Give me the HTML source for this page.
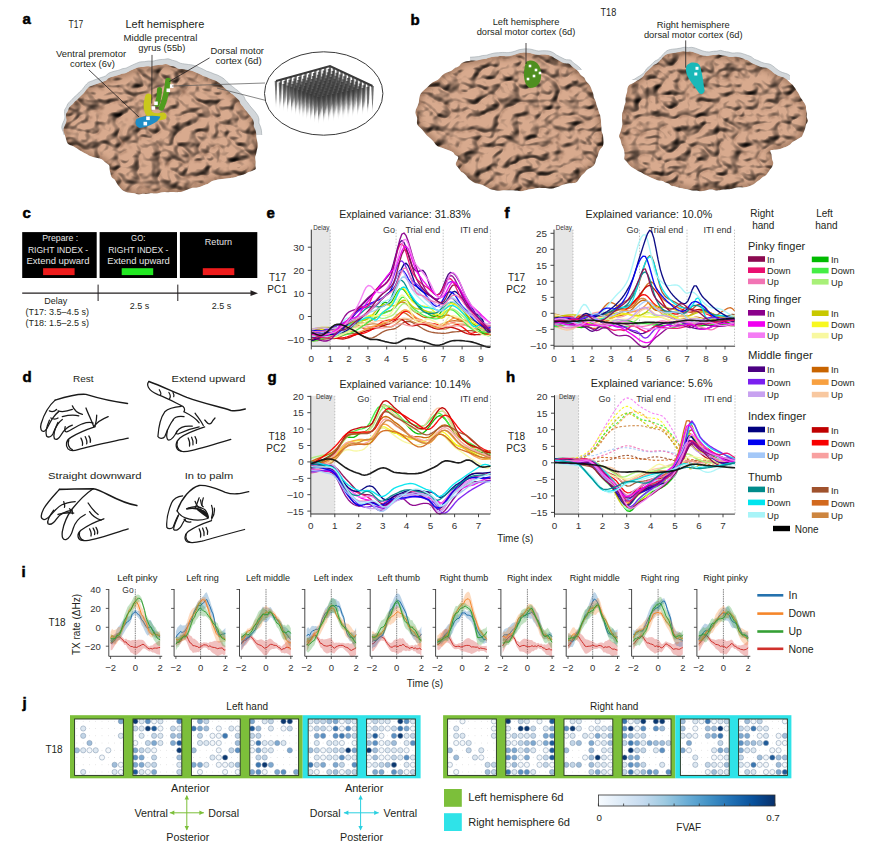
<!DOCTYPE html>
<html><head><meta charset="utf-8"><style>
html,body{margin:0;padding:0;background:#fff;width:872px;height:848px;overflow:hidden}
svg{display:block;font-family:"Liberation Sans", sans-serif}
.jd{fill:#cfcfcf} .jc{stroke:#7d95ad;stroke-width:0.65;stroke-opacity:0.8}
</style></head><body>
<svg width="872" height="848" viewBox="0 0 872 848">
<rect width="872" height="848" fill="#fff"/>
<defs><filter id="bta" x="0" y="0" width="100%" height="100%" color-interpolation-filters="sRGB">
  <feTurbulence type="turbulence" baseFrequency="0.05 0.068" numOctaves="2" seed="3" result="n"/>
  <feColorMatrix in="n" type="matrix" values="0 0 0 0 0  0 0 0 0 0  0 0 0 0 0  1.5 0 0 0 0" result="bump0"/>
  <feGaussianBlur in="bump0" stdDeviation="0.8" result="bump"/>
  <feDiffuseLighting in="bump" surfaceScale="5" diffuseConstant="1.15" lighting-color="#fff" result="lit">
    <feDistantLight azimuth="235" elevation="60"/>
  </feDiffuseLighting>
  <feBlend in="SourceGraphic" in2="lit" mode="multiply" result="base"/>
  <feColorMatrix in="n" type="matrix" values="0 0 0 0 0.32  0 0 0 0 0.2  0 0 0 0 0.14  -14 0 0 0 0.8" result="dk0"/>
  <feGaussianBlur in="dk0" stdDeviation="1.0" result="dk"/>
  <feComposite in="dk" in2="base" operator="over" result="all"/>
  <feComposite in="all" in2="SourceAlpha" operator="in"/>
</filter></defs>
<defs><clipPath id="gca"><rect x="0" y="0" width="872" height="135"/></clipPath></defs>
<g clip-path="url(#gca)"><path d="M63.3,130.7 C63.2,129.4 63.7,128.3 64.0,127.2 C64.4,126.0 65.1,124.9 65.5,123.7 C65.9,122.6 66.4,121.5 66.4,120.3 C66.5,119.2 66.0,118.0 66.0,116.8 C66.0,115.6 65.9,114.4 66.2,113.3 C66.6,112.2 67.5,111.4 68.0,110.4 C68.5,109.4 68.6,108.3 69.3,107.3 C70.0,106.4 71.3,105.5 72.2,104.6 C73.1,103.7 73.7,102.7 74.6,101.8 C75.5,100.9 76.7,100.1 77.7,99.2 C78.6,98.3 79.5,97.2 80.5,96.2 C81.5,95.2 82.7,94.4 83.6,93.3 C84.5,92.3 85.1,91.1 86.0,90.0 C86.9,89.0 87.7,87.8 88.9,87.0 C90.1,86.2 91.7,85.9 93.1,85.3 C94.5,84.8 95.9,84.2 97.2,83.7 C98.6,83.1 100.1,82.6 101.5,82.2 C102.9,81.7 104.4,81.4 105.6,80.7 C106.8,80.0 107.5,78.8 108.5,78.2 C109.5,77.5 110.6,77.3 111.6,76.9 C112.7,76.5 113.8,76.2 115.0,75.9 C116.1,75.6 117.5,75.5 118.6,75.1 C119.7,74.8 120.5,74.1 121.7,73.8 C122.8,73.4 124.2,73.5 125.3,73.2 C126.4,72.8 127.3,72.2 128.4,71.7 C129.4,71.2 130.6,70.6 131.7,70.1 C132.9,69.5 134.0,69.1 135.2,68.6 C136.4,68.1 137.6,67.5 138.9,67.2 C140.2,66.9 141.6,67.1 143.0,66.9 C144.3,66.8 145.5,66.4 146.9,66.3 C148.2,66.2 149.6,66.5 150.9,66.4 C152.2,66.3 153.4,65.9 154.7,65.6 C155.9,65.4 157.2,65.0 158.4,64.9 C159.7,64.7 161.0,64.8 162.2,64.7 C163.5,64.6 164.7,64.0 166.0,64.1 C167.3,64.2 168.7,65.1 170.0,65.5 C171.3,65.9 172.7,66.0 174.0,66.5 C175.3,67.0 176.5,68.0 177.8,68.4 C179.1,68.8 180.5,68.9 181.8,69.1 C183.2,69.3 184.6,69.5 185.9,69.7 C187.2,69.9 188.4,69.9 189.6,70.2 C190.9,70.4 192.1,70.8 193.2,71.2 C194.4,71.7 195.5,72.2 196.6,72.7 C197.8,73.2 198.9,73.7 200.0,74.3 C201.1,74.8 202.1,75.5 203.2,76.0 C204.3,76.5 205.6,76.7 206.8,77.2 C208.0,77.6 209.1,78.3 210.3,78.7 C211.5,79.2 212.9,79.5 214.1,80.0 C215.3,80.5 216.4,81.2 217.4,81.8 C218.5,82.5 219.6,83.1 220.5,83.9 C221.4,84.6 222.1,85.5 222.9,86.3 C223.7,87.1 224.4,87.9 225.3,88.6 C226.2,89.4 227.2,90.1 228.2,90.9 C229.1,91.6 230.1,92.4 231.1,93.2 C232.1,93.9 233.1,94.6 234.1,95.4 C235.0,96.3 235.8,97.1 236.6,98.0 C237.5,98.8 238.6,99.5 239.2,100.5 C239.9,101.4 240.0,102.7 240.6,103.7 C241.2,104.8 242.2,105.6 243.0,106.6 C243.7,107.6 244.3,108.6 245.1,109.6 C245.9,110.6 246.7,111.5 247.6,112.5 C248.4,113.5 249.2,114.4 250.1,115.4 C250.9,116.5 251.9,117.7 252.6,118.9 C253.2,120.0 253.6,121.3 253.8,122.5 C254.1,123.7 253.6,125.0 253.8,126.2 C254.1,127.4 254.9,128.5 255.3,129.7 C255.7,130.9 256.0,132.0 256.2,133.2 C256.4,134.4 256.3,135.5 256.4,136.7 C256.5,137.9 256.8,139.1 257.0,140.3 C257.3,141.4 257.6,142.7 257.7,143.8 C257.8,145.0 257.8,146.2 257.7,147.3 C257.5,148.5 256.9,149.5 256.7,150.6 C256.4,151.7 256.4,153.0 256.1,154.1 C255.9,155.3 255.2,156.3 255.2,157.6 C255.1,158.8 255.7,160.2 255.7,161.5 C255.8,162.8 255.5,163.9 255.5,165.2 C255.4,166.5 256.1,168.2 255.6,169.1 C255.1,170.1 253.6,170.3 252.5,170.8 C251.3,171.3 249.7,171.6 248.6,172.1 C247.4,172.6 246.6,173.2 245.5,173.7 C244.3,174.2 243.0,174.7 241.8,175.0 C240.5,175.4 239.2,175.6 238.1,176.0 C236.9,176.4 236.2,177.0 234.9,177.3 C233.7,177.7 232.0,177.7 230.6,177.9 C229.2,178.1 227.8,178.4 226.4,178.5 C225.0,178.7 223.5,178.9 222.1,179.0 C220.7,179.2 219.4,179.4 218.0,179.6 C216.7,179.9 215.2,180.1 214.0,180.5 C212.7,180.8 211.6,181.3 210.5,181.9 C209.5,182.5 208.8,183.5 207.7,184.1 C206.6,184.6 205.1,184.7 203.9,185.2 C202.6,185.6 201.6,186.4 200.4,186.8 C199.1,187.2 197.7,187.5 196.4,187.7 C195.1,187.9 193.9,187.7 192.7,187.8 C191.5,188.0 190.5,188.5 189.4,188.8 C188.3,189.2 187.2,189.7 186.2,190.1 C185.1,190.6 184.0,191.1 182.8,191.4 C181.7,191.8 180.5,192.0 179.3,192.1 C178.1,192.3 176.8,192.2 175.6,192.2 C174.4,192.2 173.2,192.1 172.0,192.1 C170.8,192.1 169.7,192.3 168.5,192.3 C167.3,192.3 166.0,192.0 164.7,192.0 C163.5,192.1 162.2,192.3 161.0,192.5 C159.7,192.7 158.4,193.3 157.1,193.4 C155.9,193.5 154.7,193.4 153.4,193.4 C152.2,193.4 151.0,193.3 149.7,193.4 C148.5,193.5 147.2,193.9 145.9,193.9 C144.7,194.0 143.6,193.6 142.4,193.7 C141.1,193.8 139.8,194.5 138.5,194.5 C137.1,194.4 135.8,193.5 134.3,193.3 C132.8,193.0 131.2,193.1 129.7,192.8 C128.2,192.5 126.6,192.2 125.3,191.7 C123.9,191.2 122.6,190.4 121.6,189.6 C120.5,188.7 119.8,187.6 119.1,186.6 C118.3,185.5 117.5,184.3 116.8,183.2 C116.1,182.1 115.6,180.8 114.7,179.8 C113.8,178.8 112.3,178.3 111.7,177.3 C111.0,176.3 110.9,174.9 110.6,173.7 C110.2,172.4 109.8,171.3 109.6,170.0 C109.4,168.7 109.8,166.9 109.3,165.8 C108.9,164.7 107.6,164.3 106.8,163.6 C105.9,162.8 105.0,162.1 104.2,161.4 C103.3,160.7 102.7,159.8 101.6,159.3 C100.5,158.7 99.0,158.4 97.6,158.0 C96.1,157.6 94.4,157.3 92.9,156.9 C91.5,156.4 90.0,156.0 88.8,155.5 C87.7,154.9 87.0,154.2 86.0,153.7 C84.9,153.1 83.7,152.7 82.6,152.0 C81.5,151.4 80.3,150.6 79.1,149.9 C78.0,149.1 76.9,148.4 75.6,147.7 C74.4,147.0 72.9,146.3 71.6,145.6 C70.3,144.9 68.7,144.5 67.7,143.4 C66.8,142.4 66.6,140.6 66.1,139.2 C65.6,137.8 65.3,136.3 64.8,134.9 C64.3,133.5 63.4,132.0 63.3,130.7Z" transform="translate(166.2,127.9) scale(1.035) translate(-164.2,-130.9)" fill="#d3d7da" stroke="#9fa7ac" stroke-width="0.6"/></g>
<path d="M63.3,130.7 C63.2,129.4 63.7,128.3 64.0,127.2 C64.4,126.0 65.1,124.9 65.5,123.7 C65.9,122.6 66.4,121.5 66.4,120.3 C66.5,119.2 66.0,118.0 66.0,116.8 C66.0,115.6 65.9,114.4 66.2,113.3 C66.6,112.2 67.5,111.4 68.0,110.4 C68.5,109.4 68.6,108.3 69.3,107.3 C70.0,106.4 71.3,105.5 72.2,104.6 C73.1,103.7 73.7,102.7 74.6,101.8 C75.5,100.9 76.7,100.1 77.7,99.2 C78.6,98.3 79.5,97.2 80.5,96.2 C81.5,95.2 82.7,94.4 83.6,93.3 C84.5,92.3 85.1,91.1 86.0,90.0 C86.9,89.0 87.7,87.8 88.9,87.0 C90.1,86.2 91.7,85.9 93.1,85.3 C94.5,84.8 95.9,84.2 97.2,83.7 C98.6,83.1 100.1,82.6 101.5,82.2 C102.9,81.7 104.4,81.4 105.6,80.7 C106.8,80.0 107.5,78.8 108.5,78.2 C109.5,77.5 110.6,77.3 111.6,76.9 C112.7,76.5 113.8,76.2 115.0,75.9 C116.1,75.6 117.5,75.5 118.6,75.1 C119.7,74.8 120.5,74.1 121.7,73.8 C122.8,73.4 124.2,73.5 125.3,73.2 C126.4,72.8 127.3,72.2 128.4,71.7 C129.4,71.2 130.6,70.6 131.7,70.1 C132.9,69.5 134.0,69.1 135.2,68.6 C136.4,68.1 137.6,67.5 138.9,67.2 C140.2,66.9 141.6,67.1 143.0,66.9 C144.3,66.8 145.5,66.4 146.9,66.3 C148.2,66.2 149.6,66.5 150.9,66.4 C152.2,66.3 153.4,65.9 154.7,65.6 C155.9,65.4 157.2,65.0 158.4,64.9 C159.7,64.7 161.0,64.8 162.2,64.7 C163.5,64.6 164.7,64.0 166.0,64.1 C167.3,64.2 168.7,65.1 170.0,65.5 C171.3,65.9 172.7,66.0 174.0,66.5 C175.3,67.0 176.5,68.0 177.8,68.4 C179.1,68.8 180.5,68.9 181.8,69.1 C183.2,69.3 184.6,69.5 185.9,69.7 C187.2,69.9 188.4,69.9 189.6,70.2 C190.9,70.4 192.1,70.8 193.2,71.2 C194.4,71.7 195.5,72.2 196.6,72.7 C197.8,73.2 198.9,73.7 200.0,74.3 C201.1,74.8 202.1,75.5 203.2,76.0 C204.3,76.5 205.6,76.7 206.8,77.2 C208.0,77.6 209.1,78.3 210.3,78.7 C211.5,79.2 212.9,79.5 214.1,80.0 C215.3,80.5 216.4,81.2 217.4,81.8 C218.5,82.5 219.6,83.1 220.5,83.9 C221.4,84.6 222.1,85.5 222.9,86.3 C223.7,87.1 224.4,87.9 225.3,88.6 C226.2,89.4 227.2,90.1 228.2,90.9 C229.1,91.6 230.1,92.4 231.1,93.2 C232.1,93.9 233.1,94.6 234.1,95.4 C235.0,96.3 235.8,97.1 236.6,98.0 C237.5,98.8 238.6,99.5 239.2,100.5 C239.9,101.4 240.0,102.7 240.6,103.7 C241.2,104.8 242.2,105.6 243.0,106.6 C243.7,107.6 244.3,108.6 245.1,109.6 C245.9,110.6 246.7,111.5 247.6,112.5 C248.4,113.5 249.2,114.4 250.1,115.4 C250.9,116.5 251.9,117.7 252.6,118.9 C253.2,120.0 253.6,121.3 253.8,122.5 C254.1,123.7 253.6,125.0 253.8,126.2 C254.1,127.4 254.9,128.5 255.3,129.7 C255.7,130.9 256.0,132.0 256.2,133.2 C256.4,134.4 256.3,135.5 256.4,136.7 C256.5,137.9 256.8,139.1 257.0,140.3 C257.3,141.4 257.6,142.7 257.7,143.8 C257.8,145.0 257.8,146.2 257.7,147.3 C257.5,148.5 256.9,149.5 256.7,150.6 C256.4,151.7 256.4,153.0 256.1,154.1 C255.9,155.3 255.2,156.3 255.2,157.6 C255.1,158.8 255.7,160.2 255.7,161.5 C255.8,162.8 255.5,163.9 255.5,165.2 C255.4,166.5 256.1,168.2 255.6,169.1 C255.1,170.1 253.6,170.3 252.5,170.8 C251.3,171.3 249.7,171.6 248.6,172.1 C247.4,172.6 246.6,173.2 245.5,173.7 C244.3,174.2 243.0,174.7 241.8,175.0 C240.5,175.4 239.2,175.6 238.1,176.0 C236.9,176.4 236.2,177.0 234.9,177.3 C233.7,177.7 232.0,177.7 230.6,177.9 C229.2,178.1 227.8,178.4 226.4,178.5 C225.0,178.7 223.5,178.9 222.1,179.0 C220.7,179.2 219.4,179.4 218.0,179.6 C216.7,179.9 215.2,180.1 214.0,180.5 C212.7,180.8 211.6,181.3 210.5,181.9 C209.5,182.5 208.8,183.5 207.7,184.1 C206.6,184.6 205.1,184.7 203.9,185.2 C202.6,185.6 201.6,186.4 200.4,186.8 C199.1,187.2 197.7,187.5 196.4,187.7 C195.1,187.9 193.9,187.7 192.7,187.8 C191.5,188.0 190.5,188.5 189.4,188.8 C188.3,189.2 187.2,189.7 186.2,190.1 C185.1,190.6 184.0,191.1 182.8,191.4 C181.7,191.8 180.5,192.0 179.3,192.1 C178.1,192.3 176.8,192.2 175.6,192.2 C174.4,192.2 173.2,192.1 172.0,192.1 C170.8,192.1 169.7,192.3 168.5,192.3 C167.3,192.3 166.0,192.0 164.7,192.0 C163.5,192.1 162.2,192.3 161.0,192.5 C159.7,192.7 158.4,193.3 157.1,193.4 C155.9,193.5 154.7,193.4 153.4,193.4 C152.2,193.4 151.0,193.3 149.7,193.4 C148.5,193.5 147.2,193.9 145.9,193.9 C144.7,194.0 143.6,193.6 142.4,193.7 C141.1,193.8 139.8,194.5 138.5,194.5 C137.1,194.4 135.8,193.5 134.3,193.3 C132.8,193.0 131.2,193.1 129.7,192.8 C128.2,192.5 126.6,192.2 125.3,191.7 C123.9,191.2 122.6,190.4 121.6,189.6 C120.5,188.7 119.8,187.6 119.1,186.6 C118.3,185.5 117.5,184.3 116.8,183.2 C116.1,182.1 115.6,180.8 114.7,179.8 C113.8,178.8 112.3,178.3 111.7,177.3 C111.0,176.3 110.9,174.9 110.6,173.7 C110.2,172.4 109.8,171.3 109.6,170.0 C109.4,168.7 109.8,166.9 109.3,165.8 C108.9,164.7 107.6,164.3 106.8,163.6 C105.9,162.8 105.0,162.1 104.2,161.4 C103.3,160.7 102.7,159.8 101.6,159.3 C100.5,158.7 99.0,158.4 97.6,158.0 C96.1,157.6 94.4,157.3 92.9,156.9 C91.5,156.4 90.0,156.0 88.8,155.5 C87.7,154.9 87.0,154.2 86.0,153.7 C84.9,153.1 83.7,152.7 82.6,152.0 C81.5,151.4 80.3,150.6 79.1,149.9 C78.0,149.1 76.9,148.4 75.6,147.7 C74.4,147.0 72.9,146.3 71.6,145.6 C70.3,144.9 68.7,144.5 67.7,143.4 C66.8,142.4 66.6,140.6 66.1,139.2 C65.6,137.8 65.3,136.3 64.8,134.9 C64.3,133.5 63.4,132.0 63.3,130.7Z" fill="#d8aa8e" filter="url(#bta)"/>
<defs><clipPath id="bca"><path d="M63.3,130.7 C63.2,129.4 63.7,128.3 64.0,127.2 C64.4,126.0 65.1,124.9 65.5,123.7 C65.9,122.6 66.4,121.5 66.4,120.3 C66.5,119.2 66.0,118.0 66.0,116.8 C66.0,115.6 65.9,114.4 66.2,113.3 C66.6,112.2 67.5,111.4 68.0,110.4 C68.5,109.4 68.6,108.3 69.3,107.3 C70.0,106.4 71.3,105.5 72.2,104.6 C73.1,103.7 73.7,102.7 74.6,101.8 C75.5,100.9 76.7,100.1 77.7,99.2 C78.6,98.3 79.5,97.2 80.5,96.2 C81.5,95.2 82.7,94.4 83.6,93.3 C84.5,92.3 85.1,91.1 86.0,90.0 C86.9,89.0 87.7,87.8 88.9,87.0 C90.1,86.2 91.7,85.9 93.1,85.3 C94.5,84.8 95.9,84.2 97.2,83.7 C98.6,83.1 100.1,82.6 101.5,82.2 C102.9,81.7 104.4,81.4 105.6,80.7 C106.8,80.0 107.5,78.8 108.5,78.2 C109.5,77.5 110.6,77.3 111.6,76.9 C112.7,76.5 113.8,76.2 115.0,75.9 C116.1,75.6 117.5,75.5 118.6,75.1 C119.7,74.8 120.5,74.1 121.7,73.8 C122.8,73.4 124.2,73.5 125.3,73.2 C126.4,72.8 127.3,72.2 128.4,71.7 C129.4,71.2 130.6,70.6 131.7,70.1 C132.9,69.5 134.0,69.1 135.2,68.6 C136.4,68.1 137.6,67.5 138.9,67.2 C140.2,66.9 141.6,67.1 143.0,66.9 C144.3,66.8 145.5,66.4 146.9,66.3 C148.2,66.2 149.6,66.5 150.9,66.4 C152.2,66.3 153.4,65.9 154.7,65.6 C155.9,65.4 157.2,65.0 158.4,64.9 C159.7,64.7 161.0,64.8 162.2,64.7 C163.5,64.6 164.7,64.0 166.0,64.1 C167.3,64.2 168.7,65.1 170.0,65.5 C171.3,65.9 172.7,66.0 174.0,66.5 C175.3,67.0 176.5,68.0 177.8,68.4 C179.1,68.8 180.5,68.9 181.8,69.1 C183.2,69.3 184.6,69.5 185.9,69.7 C187.2,69.9 188.4,69.9 189.6,70.2 C190.9,70.4 192.1,70.8 193.2,71.2 C194.4,71.7 195.5,72.2 196.6,72.7 C197.8,73.2 198.9,73.7 200.0,74.3 C201.1,74.8 202.1,75.5 203.2,76.0 C204.3,76.5 205.6,76.7 206.8,77.2 C208.0,77.6 209.1,78.3 210.3,78.7 C211.5,79.2 212.9,79.5 214.1,80.0 C215.3,80.5 216.4,81.2 217.4,81.8 C218.5,82.5 219.6,83.1 220.5,83.9 C221.4,84.6 222.1,85.5 222.9,86.3 C223.7,87.1 224.4,87.9 225.3,88.6 C226.2,89.4 227.2,90.1 228.2,90.9 C229.1,91.6 230.1,92.4 231.1,93.2 C232.1,93.9 233.1,94.6 234.1,95.4 C235.0,96.3 235.8,97.1 236.6,98.0 C237.5,98.8 238.6,99.5 239.2,100.5 C239.9,101.4 240.0,102.7 240.6,103.7 C241.2,104.8 242.2,105.6 243.0,106.6 C243.7,107.6 244.3,108.6 245.1,109.6 C245.9,110.6 246.7,111.5 247.6,112.5 C248.4,113.5 249.2,114.4 250.1,115.4 C250.9,116.5 251.9,117.7 252.6,118.9 C253.2,120.0 253.6,121.3 253.8,122.5 C254.1,123.7 253.6,125.0 253.8,126.2 C254.1,127.4 254.9,128.5 255.3,129.7 C255.7,130.9 256.0,132.0 256.2,133.2 C256.4,134.4 256.3,135.5 256.4,136.7 C256.5,137.9 256.8,139.1 257.0,140.3 C257.3,141.4 257.6,142.7 257.7,143.8 C257.8,145.0 257.8,146.2 257.7,147.3 C257.5,148.5 256.9,149.5 256.7,150.6 C256.4,151.7 256.4,153.0 256.1,154.1 C255.9,155.3 255.2,156.3 255.2,157.6 C255.1,158.8 255.7,160.2 255.7,161.5 C255.8,162.8 255.5,163.9 255.5,165.2 C255.4,166.5 256.1,168.2 255.6,169.1 C255.1,170.1 253.6,170.3 252.5,170.8 C251.3,171.3 249.7,171.6 248.6,172.1 C247.4,172.6 246.6,173.2 245.5,173.7 C244.3,174.2 243.0,174.7 241.8,175.0 C240.5,175.4 239.2,175.6 238.1,176.0 C236.9,176.4 236.2,177.0 234.9,177.3 C233.7,177.7 232.0,177.7 230.6,177.9 C229.2,178.1 227.8,178.4 226.4,178.5 C225.0,178.7 223.5,178.9 222.1,179.0 C220.7,179.2 219.4,179.4 218.0,179.6 C216.7,179.9 215.2,180.1 214.0,180.5 C212.7,180.8 211.6,181.3 210.5,181.9 C209.5,182.5 208.8,183.5 207.7,184.1 C206.6,184.6 205.1,184.7 203.9,185.2 C202.6,185.6 201.6,186.4 200.4,186.8 C199.1,187.2 197.7,187.5 196.4,187.7 C195.1,187.9 193.9,187.7 192.7,187.8 C191.5,188.0 190.5,188.5 189.4,188.8 C188.3,189.2 187.2,189.7 186.2,190.1 C185.1,190.6 184.0,191.1 182.8,191.4 C181.7,191.8 180.5,192.0 179.3,192.1 C178.1,192.3 176.8,192.2 175.6,192.2 C174.4,192.2 173.2,192.1 172.0,192.1 C170.8,192.1 169.7,192.3 168.5,192.3 C167.3,192.3 166.0,192.0 164.7,192.0 C163.5,192.1 162.2,192.3 161.0,192.5 C159.7,192.7 158.4,193.3 157.1,193.4 C155.9,193.5 154.7,193.4 153.4,193.4 C152.2,193.4 151.0,193.3 149.7,193.4 C148.5,193.5 147.2,193.9 145.9,193.9 C144.7,194.0 143.6,193.6 142.4,193.7 C141.1,193.8 139.8,194.5 138.5,194.5 C137.1,194.4 135.8,193.5 134.3,193.3 C132.8,193.0 131.2,193.1 129.7,192.8 C128.2,192.5 126.6,192.2 125.3,191.7 C123.9,191.2 122.6,190.4 121.6,189.6 C120.5,188.7 119.8,187.6 119.1,186.6 C118.3,185.5 117.5,184.3 116.8,183.2 C116.1,182.1 115.6,180.8 114.7,179.8 C113.8,178.8 112.3,178.3 111.7,177.3 C111.0,176.3 110.9,174.9 110.6,173.7 C110.2,172.4 109.8,171.3 109.6,170.0 C109.4,168.7 109.8,166.9 109.3,165.8 C108.9,164.7 107.6,164.3 106.8,163.6 C105.9,162.8 105.0,162.1 104.2,161.4 C103.3,160.7 102.7,159.8 101.6,159.3 C100.5,158.7 99.0,158.4 97.6,158.0 C96.1,157.6 94.4,157.3 92.9,156.9 C91.5,156.4 90.0,156.0 88.8,155.5 C87.7,154.9 87.0,154.2 86.0,153.7 C84.9,153.1 83.7,152.7 82.6,152.0 C81.5,151.4 80.3,150.6 79.1,149.9 C78.0,149.1 76.9,148.4 75.6,147.7 C74.4,147.0 72.9,146.3 71.6,145.6 C70.3,144.9 68.7,144.5 67.7,143.4 C66.8,142.4 66.6,140.6 66.1,139.2 C65.6,137.8 65.3,136.3 64.8,134.9 C64.3,133.5 63.4,132.0 63.3,130.7Z"/></clipPath><filter id="eba" x="-10%" y="-10%" width="120%" height="120%"><feGaussianBlur stdDeviation="2.5"/></filter></defs>
<g clip-path="url(#bca)"><path d="M63.3,130.7 C63.2,129.4 63.7,128.3 64.0,127.2 C64.4,126.0 65.1,124.9 65.5,123.7 C65.9,122.6 66.4,121.5 66.4,120.3 C66.5,119.2 66.0,118.0 66.0,116.8 C66.0,115.6 65.9,114.4 66.2,113.3 C66.6,112.2 67.5,111.4 68.0,110.4 C68.5,109.4 68.6,108.3 69.3,107.3 C70.0,106.4 71.3,105.5 72.2,104.6 C73.1,103.7 73.7,102.7 74.6,101.8 C75.5,100.9 76.7,100.1 77.7,99.2 C78.6,98.3 79.5,97.2 80.5,96.2 C81.5,95.2 82.7,94.4 83.6,93.3 C84.5,92.3 85.1,91.1 86.0,90.0 C86.9,89.0 87.7,87.8 88.9,87.0 C90.1,86.2 91.7,85.9 93.1,85.3 C94.5,84.8 95.9,84.2 97.2,83.7 C98.6,83.1 100.1,82.6 101.5,82.2 C102.9,81.7 104.4,81.4 105.6,80.7 C106.8,80.0 107.5,78.8 108.5,78.2 C109.5,77.5 110.6,77.3 111.6,76.9 C112.7,76.5 113.8,76.2 115.0,75.9 C116.1,75.6 117.5,75.5 118.6,75.1 C119.7,74.8 120.5,74.1 121.7,73.8 C122.8,73.4 124.2,73.5 125.3,73.2 C126.4,72.8 127.3,72.2 128.4,71.7 C129.4,71.2 130.6,70.6 131.7,70.1 C132.9,69.5 134.0,69.1 135.2,68.6 C136.4,68.1 137.6,67.5 138.9,67.2 C140.2,66.9 141.6,67.1 143.0,66.9 C144.3,66.8 145.5,66.4 146.9,66.3 C148.2,66.2 149.6,66.5 150.9,66.4 C152.2,66.3 153.4,65.9 154.7,65.6 C155.9,65.4 157.2,65.0 158.4,64.9 C159.7,64.7 161.0,64.8 162.2,64.7 C163.5,64.6 164.7,64.0 166.0,64.1 C167.3,64.2 168.7,65.1 170.0,65.5 C171.3,65.9 172.7,66.0 174.0,66.5 C175.3,67.0 176.5,68.0 177.8,68.4 C179.1,68.8 180.5,68.9 181.8,69.1 C183.2,69.3 184.6,69.5 185.9,69.7 C187.2,69.9 188.4,69.9 189.6,70.2 C190.9,70.4 192.1,70.8 193.2,71.2 C194.4,71.7 195.5,72.2 196.6,72.7 C197.8,73.2 198.9,73.7 200.0,74.3 C201.1,74.8 202.1,75.5 203.2,76.0 C204.3,76.5 205.6,76.7 206.8,77.2 C208.0,77.6 209.1,78.3 210.3,78.7 C211.5,79.2 212.9,79.5 214.1,80.0 C215.3,80.5 216.4,81.2 217.4,81.8 C218.5,82.5 219.6,83.1 220.5,83.9 C221.4,84.6 222.1,85.5 222.9,86.3 C223.7,87.1 224.4,87.9 225.3,88.6 C226.2,89.4 227.2,90.1 228.2,90.9 C229.1,91.6 230.1,92.4 231.1,93.2 C232.1,93.9 233.1,94.6 234.1,95.4 C235.0,96.3 235.8,97.1 236.6,98.0 C237.5,98.8 238.6,99.5 239.2,100.5 C239.9,101.4 240.0,102.7 240.6,103.7 C241.2,104.8 242.2,105.6 243.0,106.6 C243.7,107.6 244.3,108.6 245.1,109.6 C245.9,110.6 246.7,111.5 247.6,112.5 C248.4,113.5 249.2,114.4 250.1,115.4 C250.9,116.5 251.9,117.7 252.6,118.9 C253.2,120.0 253.6,121.3 253.8,122.5 C254.1,123.7 253.6,125.0 253.8,126.2 C254.1,127.4 254.9,128.5 255.3,129.7 C255.7,130.9 256.0,132.0 256.2,133.2 C256.4,134.4 256.3,135.5 256.4,136.7 C256.5,137.9 256.8,139.1 257.0,140.3 C257.3,141.4 257.6,142.7 257.7,143.8 C257.8,145.0 257.8,146.2 257.7,147.3 C257.5,148.5 256.9,149.5 256.7,150.6 C256.4,151.7 256.4,153.0 256.1,154.1 C255.9,155.3 255.2,156.3 255.2,157.6 C255.1,158.8 255.7,160.2 255.7,161.5 C255.8,162.8 255.5,163.9 255.5,165.2 C255.4,166.5 256.1,168.2 255.6,169.1 C255.1,170.1 253.6,170.3 252.5,170.8 C251.3,171.3 249.7,171.6 248.6,172.1 C247.4,172.6 246.6,173.2 245.5,173.7 C244.3,174.2 243.0,174.7 241.8,175.0 C240.5,175.4 239.2,175.6 238.1,176.0 C236.9,176.4 236.2,177.0 234.9,177.3 C233.7,177.7 232.0,177.7 230.6,177.9 C229.2,178.1 227.8,178.4 226.4,178.5 C225.0,178.7 223.5,178.9 222.1,179.0 C220.7,179.2 219.4,179.4 218.0,179.6 C216.7,179.9 215.2,180.1 214.0,180.5 C212.7,180.8 211.6,181.3 210.5,181.9 C209.5,182.5 208.8,183.5 207.7,184.1 C206.6,184.6 205.1,184.7 203.9,185.2 C202.6,185.6 201.6,186.4 200.4,186.8 C199.1,187.2 197.7,187.5 196.4,187.7 C195.1,187.9 193.9,187.7 192.7,187.8 C191.5,188.0 190.5,188.5 189.4,188.8 C188.3,189.2 187.2,189.7 186.2,190.1 C185.1,190.6 184.0,191.1 182.8,191.4 C181.7,191.8 180.5,192.0 179.3,192.1 C178.1,192.3 176.8,192.2 175.6,192.2 C174.4,192.2 173.2,192.1 172.0,192.1 C170.8,192.1 169.7,192.3 168.5,192.3 C167.3,192.3 166.0,192.0 164.7,192.0 C163.5,192.1 162.2,192.3 161.0,192.5 C159.7,192.7 158.4,193.3 157.1,193.4 C155.9,193.5 154.7,193.4 153.4,193.4 C152.2,193.4 151.0,193.3 149.7,193.4 C148.5,193.5 147.2,193.9 145.9,193.9 C144.7,194.0 143.6,193.6 142.4,193.7 C141.1,193.8 139.8,194.5 138.5,194.5 C137.1,194.4 135.8,193.5 134.3,193.3 C132.8,193.0 131.2,193.1 129.7,192.8 C128.2,192.5 126.6,192.2 125.3,191.7 C123.9,191.2 122.6,190.4 121.6,189.6 C120.5,188.7 119.8,187.6 119.1,186.6 C118.3,185.5 117.5,184.3 116.8,183.2 C116.1,182.1 115.6,180.8 114.7,179.8 C113.8,178.8 112.3,178.3 111.7,177.3 C111.0,176.3 110.9,174.9 110.6,173.7 C110.2,172.4 109.8,171.3 109.6,170.0 C109.4,168.7 109.8,166.9 109.3,165.8 C108.9,164.7 107.6,164.3 106.8,163.6 C105.9,162.8 105.0,162.1 104.2,161.4 C103.3,160.7 102.7,159.8 101.6,159.3 C100.5,158.7 99.0,158.4 97.6,158.0 C96.1,157.6 94.4,157.3 92.9,156.9 C91.5,156.4 90.0,156.0 88.8,155.5 C87.7,154.9 87.0,154.2 86.0,153.7 C84.9,153.1 83.7,152.7 82.6,152.0 C81.5,151.4 80.3,150.6 79.1,149.9 C78.0,149.1 76.9,148.4 75.6,147.7 C74.4,147.0 72.9,146.3 71.6,145.6 C70.3,144.9 68.7,144.5 67.7,143.4 C66.8,142.4 66.6,140.6 66.1,139.2 C65.6,137.8 65.3,136.3 64.8,134.9 C64.3,133.5 63.4,132.0 63.3,130.7Z" fill="none" stroke="#5a3a28" stroke-width="7" opacity="0.35" filter="url(#eba)"/></g>
<path d="M148.5,97 C146.5,104 146.5,111 150,114.5 C154,117.5 159,117 163,116" fill="none" stroke="#c9c81c" stroke-width="7" stroke-linecap="round"/>
<path d="M159.5,89.5 C159.5,95 158.5,100 157,104.5" fill="none" stroke="#4a961c" stroke-width="5" stroke-linecap="round"/>
<path d="M168,80.5 C167,90 165,100 161.5,108" fill="none" stroke="#4f9c1e" stroke-width="5.5" stroke-linecap="round"/>
<path d="M136.5,119 C143,115.5 153,115 160.5,116.5 C159,121.5 150,126.5 140,128 C135.5,127 134.5,122 136.5,119Z" fill="#1f8dc6"/>
<rect x="169.9" y="84.3" width="3.6" height="3.6" fill="#fff"/>
<rect x="166.5" y="88.5" width="3.6" height="3.6" fill="#fff"/>
<rect x="154.2" y="101.5" width="3.6" height="3.6" fill="#fff"/>
<rect x="151.6" y="106.2" width="3.6" height="3.6" fill="#fff"/>
<rect x="146.2" y="116.5" width="3.6" height="3.6" fill="#fff"/>
<rect x="143.5" y="121.8" width="3.6" height="3.6" fill="#fff"/>
<line x1="88.8" y1="69.8" x2="139.0" y2="117.0" stroke="#231f20" stroke-width="0.8" />
<line x1="152.0" y1="54.9" x2="151.8" y2="103.7" stroke="#231f20" stroke-width="0.8" />
<line x1="209.5" y1="57.9" x2="169.4" y2="81.5" stroke="#231f20" stroke-width="0.8" />
<line x1="172.0" y1="86.0" x2="265.0" y2="83.0" stroke="#555" stroke-width="0.7" />
<line x1="217.0" y1="88.0" x2="268.0" y2="101.0" stroke="#555" stroke-width="0.7" />
<ellipse cx="323.7" cy="93.5" rx="59.2" ry="41.7" fill="#fff" stroke="#3a3a3a" stroke-width="1"/>
<defs><linearGradient id="spg" x1="0" x2="0" y1="0" y2="1"><stop offset="0" stop-color="#333"/><stop offset="0.7" stop-color="#555"/><stop offset="1" stop-color="#999" stop-opacity="0.3"/></linearGradient></defs>
<polygon points="328.7,66.0 331.3,66.0 330.0,93.0" fill="url(#spg)" opacity="0.75"/>
<polygon points="323.8,67.4 326.4,67.4 325.1,94.4" fill="url(#spg)" opacity="0.75"/>
<polygon points="332.6,67.8 335.2,67.8 333.9,94.8" fill="url(#spg)" opacity="0.75"/>
<polygon points="318.9,68.7 321.5,68.7 320.2,95.7" fill="url(#spg)" opacity="0.75"/>
<polygon points="327.7,69.1 330.3,69.1 329.0,96.1" fill="url(#spg)" opacity="0.75"/>
<polygon points="336.4,69.6 339.0,69.6 337.7,96.6" fill="url(#spg)" opacity="0.75"/>
<polygon points="314.0,70.1 316.6,70.1 315.3,97.1" fill="url(#spg)" opacity="0.75"/>
<polygon points="322.7,70.5 325.3,70.5 324.0,97.5" fill="url(#spg)" opacity="0.75"/>
<polygon points="331.5,70.9 334.1,70.9 332.8,97.9" fill="url(#spg)" opacity="0.75"/>
<polygon points="309.1,71.5 311.7,71.5 310.4,98.5" fill="url(#spg)" opacity="0.75"/>
<polygon points="340.3,71.5 342.9,71.5 341.6,98.5" fill="url(#spg)" opacity="0.75"/>
<polygon points="317.8,71.8 320.4,71.8 319.1,98.8" fill="url(#spg)" opacity="0.75"/>
<polygon points="326.6,72.2 329.2,72.2 327.9,99.2" fill="url(#spg)" opacity="0.75"/>
<polygon points="335.4,72.7 338.0,72.7 336.7,99.7" fill="url(#spg)" opacity="0.75"/>
<polygon points="304.2,72.8 306.8,72.8 305.5,99.8" fill="url(#spg)" opacity="0.75"/>
<polygon points="312.9,73.1 315.5,73.1 314.2,100.1" fill="url(#spg)" opacity="0.75"/>
<polygon points="344.2,73.3 346.8,73.3 345.5,100.3" fill="url(#spg)" opacity="0.75"/>
<polygon points="321.7,73.5 324.3,73.5 323.0,100.5" fill="url(#spg)" opacity="0.75"/>
<polygon points="330.5,74.0 333.1,74.0 331.8,101.0" fill="url(#spg)" opacity="0.75"/>
<polygon points="299.2,74.2 301.8,74.2 300.5,101.2" fill="url(#spg)" opacity="0.75"/>
<polygon points="308.0,74.5 310.6,74.5 309.3,101.5" fill="url(#spg)" opacity="0.75"/>
<polygon points="339.2,74.5 341.8,74.5 340.5,101.5" fill="url(#spg)" opacity="0.75"/>
<polygon points="316.8,74.8 319.4,74.8 318.1,101.8" fill="url(#spg)" opacity="0.75"/>
<polygon points="348.0,75.1 350.6,75.1 349.3,102.1" fill="url(#spg)" opacity="0.75"/>
<polygon points="325.6,75.2 328.2,75.2 326.9,102.2" fill="url(#spg)" opacity="0.75"/>
<polygon points="294.3,75.5 296.9,75.5 295.6,102.5" fill="url(#spg)" opacity="0.75"/>
<polygon points="334.3,75.7 336.9,75.7 335.6,102.7" fill="url(#spg)" opacity="0.75"/>
<polygon points="303.1,75.8 305.7,75.8 304.4,102.8" fill="url(#spg)" opacity="0.75"/>
<polygon points="311.9,76.1 314.5,76.1 313.2,103.1" fill="url(#spg)" opacity="0.75"/>
<polygon points="343.1,76.3 345.7,76.3 344.4,103.3" fill="url(#spg)" opacity="0.75"/>
<polygon points="320.7,76.5 323.3,76.5 322.0,103.5" fill="url(#spg)" opacity="0.75"/>
<polygon points="289.4,76.9 292.0,76.9 290.7,103.9" fill="url(#spg)" opacity="0.75"/>
<polygon points="351.9,76.9 354.5,76.9 353.2,103.9" fill="url(#spg)" opacity="0.75"/>
<polygon points="329.4,77.0 332.0,77.0 330.7,104.0" fill="url(#spg)" opacity="0.75"/>
<polygon points="298.2,77.1 300.8,77.1 299.5,104.1" fill="url(#spg)" opacity="0.75"/>
<polygon points="307.0,77.4 309.6,77.4 308.3,104.4" fill="url(#spg)" opacity="0.75"/>
<polygon points="338.2,77.5 340.8,77.5 339.5,104.5" fill="url(#spg)" opacity="0.75"/>
<polygon points="315.7,77.8 318.3,77.8 317.0,104.8" fill="url(#spg)" opacity="0.75"/>
<polygon points="347.0,78.1 349.6,78.1 348.3,105.1" fill="url(#spg)" opacity="0.75"/>
<polygon points="324.5,78.2 327.1,78.2 325.8,105.2" fill="url(#spg)" opacity="0.75"/>
<polygon points="284.5,78.3 287.1,78.3 285.8,105.3" fill="url(#spg)" opacity="0.75"/>
<polygon points="293.3,78.5 295.9,78.5 294.6,105.5" fill="url(#spg)" opacity="0.75"/>
<polygon points="333.3,78.7 335.9,78.7 334.6,105.7" fill="url(#spg)" opacity="0.75"/>
<polygon points="302.1,78.7 304.7,78.7 303.4,105.7" fill="url(#spg)" opacity="0.75"/>
<polygon points="355.7,78.7 358.3,78.7 357.0,105.7" fill="url(#spg)" opacity="0.75"/>
<polygon points="310.8,79.0 313.4,79.0 312.1,106.0" fill="url(#spg)" opacity="0.75"/>
<polygon points="342.1,79.2 344.7,79.2 343.4,106.2" fill="url(#spg)" opacity="0.75"/>
<polygon points="319.6,79.4 322.2,79.4 320.9,106.4" fill="url(#spg)" opacity="0.75"/>
<polygon points="279.6,79.6 282.2,79.6 280.9,106.6" fill="url(#spg)" opacity="0.75"/>
<polygon points="288.4,79.8 291.0,79.8 289.7,106.8" fill="url(#spg)" opacity="0.75"/>
<polygon points="350.8,79.9 353.4,79.9 352.1,106.9" fill="url(#spg)" opacity="0.75"/>
<polygon points="328.4,79.9 331.0,79.9 329.7,106.9" fill="url(#spg)" opacity="0.75"/>
<polygon points="297.2,80.0 299.8,80.0 298.5,107.0" fill="url(#spg)" opacity="0.75"/>
<polygon points="305.9,80.3 308.5,80.3 307.2,107.3" fill="url(#spg)" opacity="0.75"/>
<polygon points="337.2,80.4 339.8,80.4 338.5,107.4" fill="url(#spg)" opacity="0.75"/>
<polygon points="359.6,80.5 362.2,80.5 360.9,107.5" fill="url(#spg)" opacity="0.75"/>
<polygon points="314.7,80.7 317.3,80.7 316.0,107.7" fill="url(#spg)" opacity="0.75"/>
<polygon points="345.9,81.0 348.5,81.0 347.2,108.0" fill="url(#spg)" opacity="0.75"/>
<polygon points="274.7,81.0 277.3,81.0 276.0,108.0" fill="url(#spg)" opacity="0.75"/>
<polygon points="323.5,81.1 326.1,81.1 324.8,108.1" fill="url(#spg)" opacity="0.75"/>
<polygon points="283.5,81.1 286.1,81.1 284.8,108.1" fill="url(#spg)" opacity="0.75"/>
<polygon points="292.2,81.3 294.8,81.3 293.5,108.3" fill="url(#spg)" opacity="0.75"/>
<polygon points="301.0,81.6 303.6,81.6 302.3,108.6" fill="url(#spg)" opacity="0.75"/>
<polygon points="332.2,81.6 334.8,81.6 333.5,108.6" fill="url(#spg)" opacity="0.75"/>
<polygon points="354.7,81.6 357.3,81.6 356.0,108.6" fill="url(#spg)" opacity="0.75"/>
<polygon points="309.8,81.9 312.4,81.9 311.1,108.9" fill="url(#spg)" opacity="0.75"/>
<polygon points="341.0,82.1 343.6,82.1 342.3,109.1" fill="url(#spg)" opacity="0.75"/>
<polygon points="318.6,82.3 321.2,82.3 319.9,109.3" fill="url(#spg)" opacity="0.75"/>
<polygon points="363.5,82.4 366.1,82.4 364.8,109.4" fill="url(#spg)" opacity="0.75"/>
<polygon points="278.6,82.5 281.2,82.5 279.9,109.5" fill="url(#spg)" opacity="0.75"/>
<polygon points="287.3,82.6 289.9,82.6 288.6,109.6" fill="url(#spg)" opacity="0.75"/>
<polygon points="327.3,82.7 329.9,82.7 328.6,109.7" fill="url(#spg)" opacity="0.75"/>
<polygon points="349.8,82.7 352.4,82.7 351.1,109.7" fill="url(#spg)" opacity="0.75"/>
<polygon points="296.1,82.8 298.7,82.8 297.4,109.8" fill="url(#spg)" opacity="0.75"/>
<polygon points="304.9,83.1 307.5,83.1 306.2,110.1" fill="url(#spg)" opacity="0.75"/>
<polygon points="336.1,83.3 338.7,83.3 337.4,110.3" fill="url(#spg)" opacity="0.75"/>
<polygon points="358.6,83.4 361.2,83.4 359.9,110.4" fill="url(#spg)" opacity="0.75"/>
<polygon points="313.7,83.5 316.3,83.5 315.0,110.5" fill="url(#spg)" opacity="0.75"/>
<polygon points="344.9,83.8 347.5,83.8 346.2,110.8" fill="url(#spg)" opacity="0.75"/>
<polygon points="322.4,83.9 325.0,83.9 323.7,110.9" fill="url(#spg)" opacity="0.75"/>
<polygon points="282.4,83.9 285.0,83.9 283.7,110.9" fill="url(#spg)" opacity="0.75"/>
<polygon points="291.2,84.1 293.8,84.1 292.5,111.1" fill="url(#spg)" opacity="0.75"/>
<polygon points="367.3,84.2 369.9,84.2 368.6,111.2" fill="url(#spg)" opacity="0.75"/>
<polygon points="300.0,84.4 302.6,84.4 301.3,111.4" fill="url(#spg)" opacity="0.75"/>
<polygon points="331.2,84.4 333.8,84.4 332.5,111.4" fill="url(#spg)" opacity="0.75"/>
<polygon points="353.7,84.5 356.3,84.5 355.0,111.5" fill="url(#spg)" opacity="0.75"/>
<polygon points="308.7,84.7 311.3,84.7 310.0,111.7" fill="url(#spg)" opacity="0.75"/>
<polygon points="340.0,84.9 342.6,84.9 341.3,111.9" fill="url(#spg)" opacity="0.75"/>
<polygon points="317.5,85.1 320.1,85.1 318.8,112.1" fill="url(#spg)" opacity="0.75"/>
<polygon points="362.4,85.2 365.0,85.2 363.7,112.2" fill="url(#spg)" opacity="0.75"/>
<polygon points="286.3,85.4 288.9,85.4 287.6,112.4" fill="url(#spg)" opacity="0.75"/>
<polygon points="326.3,85.5 328.9,85.5 327.6,112.5" fill="url(#spg)" opacity="0.75"/>
<polygon points="348.7,85.6 351.3,85.6 350.0,112.6" fill="url(#spg)" opacity="0.75"/>
<polygon points="295.1,85.6 297.7,85.6 296.4,112.6" fill="url(#spg)" opacity="0.75"/>
<polygon points="303.8,85.9 306.4,85.9 305.1,112.9" fill="url(#spg)" opacity="0.75"/>
<polygon points="371.2,86.0 373.8,86.0 372.5,113.0" fill="url(#spg)" opacity="0.75"/>
<polygon points="335.1,86.0 337.7,86.0 336.4,113.0" fill="url(#spg)" opacity="0.75"/>
<polygon points="312.6,86.2 315.2,86.2 313.9,113.2" fill="url(#spg)" opacity="0.75"/>
<polygon points="357.5,86.2 360.1,86.2 358.8,113.2" fill="url(#spg)" opacity="0.75"/>
<polygon points="343.8,86.6 346.4,86.6 345.1,113.6" fill="url(#spg)" opacity="0.75"/>
<polygon points="321.4,86.7 324.0,86.7 322.7,113.7" fill="url(#spg)" opacity="0.75"/>
<polygon points="290.2,86.8 292.8,86.8 291.5,113.8" fill="url(#spg)" opacity="0.75"/>
<polygon points="366.3,87.0 368.9,87.0 367.6,114.0" fill="url(#spg)" opacity="0.75"/>
<polygon points="298.9,87.1 301.5,87.1 300.2,114.1" fill="url(#spg)" opacity="0.75"/>
<polygon points="330.2,87.1 332.8,87.1 331.5,114.1" fill="url(#spg)" opacity="0.75"/>
<polygon points="352.6,87.3 355.2,87.3 353.9,114.3" fill="url(#spg)" opacity="0.75"/>
<polygon points="307.7,87.4 310.3,87.4 309.0,114.4" fill="url(#spg)" opacity="0.75"/>
<polygon points="338.9,87.7 341.5,87.7 340.2,114.7" fill="url(#spg)" opacity="0.75"/>
<polygon points="316.5,87.8 319.1,87.8 317.8,114.8" fill="url(#spg)" opacity="0.75"/>
<polygon points="361.4,88.0 364.0,88.0 362.7,115.0" fill="url(#spg)" opacity="0.75"/>
<polygon points="325.2,88.2 327.8,88.2 326.5,115.2" fill="url(#spg)" opacity="0.75"/>
<polygon points="294.0,88.3 296.6,88.3 295.3,115.3" fill="url(#spg)" opacity="0.75"/>
<polygon points="347.7,88.3 350.3,88.3 349.0,115.3" fill="url(#spg)" opacity="0.75"/>
<polygon points="302.8,88.6 305.4,88.6 304.1,115.6" fill="url(#spg)" opacity="0.75"/>
<polygon points="334.0,88.8 336.6,88.8 335.3,115.8" fill="url(#spg)" opacity="0.75"/>
<polygon points="311.6,88.9 314.2,88.9 312.9,115.9" fill="url(#spg)" opacity="0.75"/>
<polygon points="356.5,89.0 359.1,89.0 357.8,116.0" fill="url(#spg)" opacity="0.75"/>
<polygon points="320.3,89.3 322.9,89.3 321.6,116.3" fill="url(#spg)" opacity="0.75"/>
<polygon points="342.8,89.3 345.4,89.3 344.1,116.3" fill="url(#spg)" opacity="0.75"/>
<polygon points="297.9,89.7 300.5,89.7 299.2,116.7" fill="url(#spg)" opacity="0.75"/>
<polygon points="329.1,89.8 331.7,89.8 330.4,116.8" fill="url(#spg)" opacity="0.75"/>
<polygon points="351.6,90.0 354.2,90.0 352.9,117.0" fill="url(#spg)" opacity="0.75"/>
<polygon points="306.7,90.0 309.3,90.0 308.0,117.0" fill="url(#spg)" opacity="0.75"/>
<polygon points="337.9,90.4 340.5,90.4 339.2,117.4" fill="url(#spg)" opacity="0.75"/>
<polygon points="315.4,90.4 318.0,90.4 316.7,117.4" fill="url(#spg)" opacity="0.75"/>
<polygon points="324.2,90.9 326.8,90.9 325.5,117.9" fill="url(#spg)" opacity="0.75"/>
<polygon points="346.7,91.0 349.3,91.0 348.0,118.0" fill="url(#spg)" opacity="0.75"/>
<polygon points="301.7,91.2 304.3,91.2 303.0,118.2" fill="url(#spg)" opacity="0.75"/>
<polygon points="333.0,91.4 335.6,91.4 334.3,118.4" fill="url(#spg)" opacity="0.75"/>
<polygon points="310.5,91.5 313.1,91.5 311.8,118.5" fill="url(#spg)" opacity="0.75"/>
<polygon points="319.3,92.0 321.9,92.0 320.6,119.0" fill="url(#spg)" opacity="0.75"/>
<polygon points="341.7,92.0 344.3,92.0 343.0,119.0" fill="url(#spg)" opacity="0.75"/>
<polygon points="328.1,92.4 330.7,92.4 329.4,119.4" fill="url(#spg)" opacity="0.75"/>
<polygon points="305.6,92.6 308.2,92.6 306.9,119.6" fill="url(#spg)" opacity="0.75"/>
<polygon points="336.8,93.0 339.4,93.0 338.1,120.0" fill="url(#spg)" opacity="0.75"/>
<polygon points="314.4,93.0 317.0,93.0 315.7,120.0" fill="url(#spg)" opacity="0.75"/>
<polygon points="323.2,93.5 325.8,93.5 324.5,120.5" fill="url(#spg)" opacity="0.75"/>
<polygon points="331.9,94.0 334.5,94.0 333.2,121.0" fill="url(#spg)" opacity="0.75"/>
<polygon points="309.5,94.1 312.1,94.1 310.8,121.1" fill="url(#spg)" opacity="0.75"/>
<polygon points="318.2,94.5 320.8,94.5 319.5,121.5" fill="url(#spg)" opacity="0.75"/>
<polygon points="327.0,95.0 329.6,95.0 328.3,122.0" fill="url(#spg)" opacity="0.75"/>
<polygon points="313.3,95.5 315.9,95.5 314.6,122.5" fill="url(#spg)" opacity="0.75"/>
<polygon points="322.1,96.0 324.7,96.0 323.4,123.0" fill="url(#spg)" opacity="0.75"/>
<polygon points="317.2,97.0 319.8,97.0 318.5,124.0" fill="url(#spg)" opacity="0.75"/>
<polyline points="276,81 330,66 372.5,86" fill="none" stroke="#3a3a3a" stroke-width="2"/>
<defs><filter id="btbl" x="0" y="0" width="100%" height="100%" color-interpolation-filters="sRGB">
  <feTurbulence type="turbulence" baseFrequency="0.05 0.068" numOctaves="2" seed="7" result="n"/>
  <feColorMatrix in="n" type="matrix" values="0 0 0 0 0  0 0 0 0 0  0 0 0 0 0  1.5 0 0 0 0" result="bump0"/>
  <feGaussianBlur in="bump0" stdDeviation="0.8" result="bump"/>
  <feDiffuseLighting in="bump" surfaceScale="5" diffuseConstant="1.15" lighting-color="#fff" result="lit">
    <feDistantLight azimuth="235" elevation="60"/>
  </feDiffuseLighting>
  <feBlend in="SourceGraphic" in2="lit" mode="multiply" result="base"/>
  <feColorMatrix in="n" type="matrix" values="0 0 0 0 0.32  0 0 0 0 0.2  0 0 0 0 0.14  -14 0 0 0 0.8" result="dk0"/>
  <feGaussianBlur in="dk0" stdDeviation="1.0" result="dk"/>
  <feComposite in="dk" in2="base" operator="over" result="all"/>
  <feComposite in="all" in2="SourceAlpha" operator="in"/>
</filter></defs>
<defs><clipPath id="gcbl"><rect x="470" y="0" width="130" height="70"/></clipPath></defs>
<g clip-path="url(#gcbl)"><path d="M415.4,112.9 C415.2,111.5 415.7,110.5 416.0,109.3 C416.4,108.2 417.0,107.0 417.5,105.9 C417.9,104.8 418.5,103.7 418.8,102.5 C419.1,101.3 418.9,100.1 419.1,98.9 C419.3,97.7 419.5,96.5 419.9,95.4 C420.4,94.3 421.1,93.1 422.0,92.1 C422.9,91.0 424.1,90.1 425.1,89.1 C426.2,88.2 427.3,87.2 428.3,86.3 C429.3,85.3 430.2,84.1 431.2,83.4 C432.2,82.6 433.1,82.2 434.2,81.6 C435.2,81.1 436.5,80.7 437.5,80.0 C438.4,79.4 439.1,78.6 439.8,77.9 C440.6,77.2 441.2,76.3 442.0,75.6 C442.8,74.9 443.6,74.1 444.6,73.5 C445.7,72.9 447.1,72.4 448.4,71.9 C449.6,71.3 451.0,70.9 452.1,70.2 C453.2,69.6 453.9,68.6 455.0,68.0 C456.2,67.3 457.7,67.1 458.7,66.3 C459.7,65.6 460.2,64.3 461.2,63.5 C462.2,62.7 463.4,62.1 464.7,61.7 C466.0,61.2 467.6,61.1 469.0,60.9 C470.5,60.7 472.0,60.7 473.5,60.6 C475.0,60.4 476.5,60.4 477.9,60.2 C479.3,59.9 480.5,59.5 481.9,59.2 C483.3,59.0 484.8,59.0 486.1,58.8 C487.4,58.5 488.6,57.9 489.8,57.6 C491.1,57.2 492.4,56.9 493.7,56.7 C495.1,56.5 496.5,56.5 497.8,56.4 C499.2,56.3 500.5,56.1 501.9,56.1 C503.2,56.0 504.6,56.3 506.0,56.3 C507.3,56.2 508.6,56.2 509.9,55.9 C511.2,55.7 512.5,55.4 513.9,54.9 C515.2,54.5 516.6,53.8 518.0,53.4 C519.3,53.1 520.7,52.9 522.1,52.8 C523.5,52.6 524.9,52.5 526.2,52.6 C527.5,52.6 528.8,52.8 530.0,53.0 C531.3,53.2 532.4,53.7 533.6,53.9 C534.8,54.2 536.0,54.6 537.3,54.7 C538.5,54.7 539.9,54.5 541.2,54.4 C542.5,54.4 543.8,54.4 545.1,54.5 C546.3,54.6 547.6,54.6 548.7,55.0 C549.9,55.3 551.0,55.9 552.1,56.5 C553.1,57.1 554.0,57.9 555.0,58.6 C556.1,59.2 557.2,59.7 558.2,60.3 C559.3,60.8 560.3,61.4 561.4,61.9 C562.5,62.5 563.5,63.0 564.7,63.3 C566.0,63.6 567.8,63.2 569.0,63.7 C570.3,64.3 571.0,65.7 572.0,66.5 C573.1,67.4 574.4,68.1 575.5,69.0 C576.5,69.8 577.7,70.7 578.6,71.7 C579.5,72.7 580.0,74.0 580.9,75.0 C581.9,76.0 583.3,76.6 584.2,77.6 C585.0,78.6 585.2,79.9 585.9,80.9 C586.7,81.9 587.8,82.7 588.6,83.7 C589.4,84.7 590.1,85.8 590.7,86.9 C591.3,88.0 591.6,89.2 592.0,90.4 C592.5,91.6 593.0,92.7 593.3,93.9 C593.6,95.1 593.5,96.4 593.8,97.5 C594.2,98.7 595.1,99.6 595.5,100.8 C596.0,101.9 596.1,103.3 596.4,104.5 C596.8,105.7 597.3,106.9 597.7,108.2 C598.2,109.4 598.5,110.6 598.9,111.9 C599.3,113.1 599.8,114.4 600.2,115.6 C600.5,116.9 600.7,118.2 600.9,119.4 C601.0,120.7 601.0,121.9 601.1,123.2 C601.2,124.5 601.3,125.7 601.4,127.0 C601.5,128.2 601.3,129.5 601.5,130.7 C601.7,132.0 602.6,133.4 602.9,134.7 C603.2,136.0 603.2,137.3 603.3,138.6 C603.4,139.9 603.6,141.3 603.5,142.5 C603.4,143.8 603.3,145.1 602.7,146.2 C602.2,147.3 601.0,148.2 600.3,149.2 C599.6,150.3 599.2,151.3 598.7,152.4 C598.3,153.6 598.1,154.8 597.7,155.9 C597.3,157.0 596.6,158.0 596.2,159.1 C595.8,160.2 595.8,161.5 595.3,162.6 C594.9,163.7 594.5,164.8 593.6,165.7 C592.7,166.6 591.3,167.2 590.1,167.9 C589.0,168.6 587.7,169.3 586.8,170.1 C585.8,171.0 585.3,172.1 584.4,173.0 C583.5,173.9 582.4,174.5 581.5,175.5 C580.7,176.4 580.1,177.6 579.4,178.6 C578.6,179.7 578.0,181.0 577.1,181.7 C576.1,182.5 575.1,182.8 573.8,183.1 C572.6,183.3 570.8,183.1 569.5,183.3 C568.2,183.4 567.1,183.8 565.8,184.1 C564.6,184.4 563.4,184.6 562.2,185.0 C561.0,185.4 560.0,185.9 558.9,186.4 C557.8,186.8 556.6,187.2 555.4,187.5 C554.2,187.9 553.1,188.5 551.8,188.6 C550.5,188.7 548.9,188.3 547.5,188.2 C546.2,188.1 544.8,188.1 543.5,188.0 C542.1,188.0 540.7,187.7 539.4,187.7 C538.1,187.8 537.0,188.1 535.8,188.3 C534.5,188.6 533.4,189.0 532.1,189.1 C530.9,189.3 529.6,189.3 528.4,189.5 C527.1,189.8 526.0,190.3 524.7,190.5 C523.5,190.8 522.2,191.1 521.0,191.2 C519.7,191.2 518.5,190.8 517.2,190.6 C515.9,190.5 514.7,190.4 513.4,190.3 C512.2,190.3 510.9,190.3 509.6,190.3 C508.4,190.3 507.1,190.2 505.8,190.3 C504.5,190.3 503.2,190.3 501.9,190.4 C500.6,190.5 499.2,190.8 497.9,190.8 C496.7,190.7 495.4,190.4 494.2,190.1 C492.9,189.9 491.7,189.7 490.5,189.2 C489.4,188.8 488.3,188.2 487.3,187.6 C486.2,187.0 485.3,186.2 484.2,185.7 C483.1,185.2 482.0,184.8 480.9,184.4 C479.7,184.0 478.5,183.8 477.3,183.5 C476.2,183.2 474.9,182.9 473.9,182.4 C472.8,182.0 471.9,181.3 471.0,180.6 C470.0,179.9 469.1,179.1 468.3,178.2 C467.5,177.4 466.9,176.3 466.1,175.4 C465.3,174.5 464.4,173.8 463.4,173.0 C462.5,172.3 461.3,171.9 460.5,170.9 C459.6,170.0 458.9,168.7 458.1,167.5 C457.4,166.4 455.7,165.8 455.7,164.1 C455.7,162.5 458.4,159.0 458.3,157.5 C458.2,156.0 456.0,155.9 455.1,155.1 C454.2,154.2 453.8,152.9 452.9,152.2 C451.9,151.4 450.5,151.0 449.3,150.5 C448.0,150.0 446.5,149.6 445.2,149.1 C443.9,148.6 442.5,148.1 441.2,147.6 C439.9,147.1 438.3,146.7 437.3,146.0 C436.2,145.3 435.6,144.2 434.8,143.3 C434.0,142.4 433.3,141.5 432.5,140.6 C431.7,139.7 430.8,138.9 429.9,138.0 C429.0,137.2 427.9,136.4 426.9,135.5 C426.0,134.6 425.2,133.5 424.4,132.5 C423.5,131.5 423.0,130.5 422.0,129.4 C421.1,128.4 419.7,127.4 418.8,126.4 C418.0,125.3 417.3,124.6 417.0,123.2 C416.7,121.8 417.3,119.8 417.1,118.1 C416.8,116.4 415.5,114.4 415.4,112.9Z" transform="translate(515.0,119.3) scale(1.01) translate(-514.0,-122.3)" fill="#d3d7da" stroke="#9fa7ac" stroke-width="0.6"/></g>
<path d="M415.4,112.9 C415.2,111.5 415.7,110.5 416.0,109.3 C416.4,108.2 417.0,107.0 417.5,105.9 C417.9,104.8 418.5,103.7 418.8,102.5 C419.1,101.3 418.9,100.1 419.1,98.9 C419.3,97.7 419.5,96.5 419.9,95.4 C420.4,94.3 421.1,93.1 422.0,92.1 C422.9,91.0 424.1,90.1 425.1,89.1 C426.2,88.2 427.3,87.2 428.3,86.3 C429.3,85.3 430.2,84.1 431.2,83.4 C432.2,82.6 433.1,82.2 434.2,81.6 C435.2,81.1 436.5,80.7 437.5,80.0 C438.4,79.4 439.1,78.6 439.8,77.9 C440.6,77.2 441.2,76.3 442.0,75.6 C442.8,74.9 443.6,74.1 444.6,73.5 C445.7,72.9 447.1,72.4 448.4,71.9 C449.6,71.3 451.0,70.9 452.1,70.2 C453.2,69.6 453.9,68.6 455.0,68.0 C456.2,67.3 457.7,67.1 458.7,66.3 C459.7,65.6 460.2,64.3 461.2,63.5 C462.2,62.7 463.4,62.1 464.7,61.7 C466.0,61.2 467.6,61.1 469.0,60.9 C470.5,60.7 472.0,60.7 473.5,60.6 C475.0,60.4 476.5,60.4 477.9,60.2 C479.3,59.9 480.5,59.5 481.9,59.2 C483.3,59.0 484.8,59.0 486.1,58.8 C487.4,58.5 488.6,57.9 489.8,57.6 C491.1,57.2 492.4,56.9 493.7,56.7 C495.1,56.5 496.5,56.5 497.8,56.4 C499.2,56.3 500.5,56.1 501.9,56.1 C503.2,56.0 504.6,56.3 506.0,56.3 C507.3,56.2 508.6,56.2 509.9,55.9 C511.2,55.7 512.5,55.4 513.9,54.9 C515.2,54.5 516.6,53.8 518.0,53.4 C519.3,53.1 520.7,52.9 522.1,52.8 C523.5,52.6 524.9,52.5 526.2,52.6 C527.5,52.6 528.8,52.8 530.0,53.0 C531.3,53.2 532.4,53.7 533.6,53.9 C534.8,54.2 536.0,54.6 537.3,54.7 C538.5,54.7 539.9,54.5 541.2,54.4 C542.5,54.4 543.8,54.4 545.1,54.5 C546.3,54.6 547.6,54.6 548.7,55.0 C549.9,55.3 551.0,55.9 552.1,56.5 C553.1,57.1 554.0,57.9 555.0,58.6 C556.1,59.2 557.2,59.7 558.2,60.3 C559.3,60.8 560.3,61.4 561.4,61.9 C562.5,62.5 563.5,63.0 564.7,63.3 C566.0,63.6 567.8,63.2 569.0,63.7 C570.3,64.3 571.0,65.7 572.0,66.5 C573.1,67.4 574.4,68.1 575.5,69.0 C576.5,69.8 577.7,70.7 578.6,71.7 C579.5,72.7 580.0,74.0 580.9,75.0 C581.9,76.0 583.3,76.6 584.2,77.6 C585.0,78.6 585.2,79.9 585.9,80.9 C586.7,81.9 587.8,82.7 588.6,83.7 C589.4,84.7 590.1,85.8 590.7,86.9 C591.3,88.0 591.6,89.2 592.0,90.4 C592.5,91.6 593.0,92.7 593.3,93.9 C593.6,95.1 593.5,96.4 593.8,97.5 C594.2,98.7 595.1,99.6 595.5,100.8 C596.0,101.9 596.1,103.3 596.4,104.5 C596.8,105.7 597.3,106.9 597.7,108.2 C598.2,109.4 598.5,110.6 598.9,111.9 C599.3,113.1 599.8,114.4 600.2,115.6 C600.5,116.9 600.7,118.2 600.9,119.4 C601.0,120.7 601.0,121.9 601.1,123.2 C601.2,124.5 601.3,125.7 601.4,127.0 C601.5,128.2 601.3,129.5 601.5,130.7 C601.7,132.0 602.6,133.4 602.9,134.7 C603.2,136.0 603.2,137.3 603.3,138.6 C603.4,139.9 603.6,141.3 603.5,142.5 C603.4,143.8 603.3,145.1 602.7,146.2 C602.2,147.3 601.0,148.2 600.3,149.2 C599.6,150.3 599.2,151.3 598.7,152.4 C598.3,153.6 598.1,154.8 597.7,155.9 C597.3,157.0 596.6,158.0 596.2,159.1 C595.8,160.2 595.8,161.5 595.3,162.6 C594.9,163.7 594.5,164.8 593.6,165.7 C592.7,166.6 591.3,167.2 590.1,167.9 C589.0,168.6 587.7,169.3 586.8,170.1 C585.8,171.0 585.3,172.1 584.4,173.0 C583.5,173.9 582.4,174.5 581.5,175.5 C580.7,176.4 580.1,177.6 579.4,178.6 C578.6,179.7 578.0,181.0 577.1,181.7 C576.1,182.5 575.1,182.8 573.8,183.1 C572.6,183.3 570.8,183.1 569.5,183.3 C568.2,183.4 567.1,183.8 565.8,184.1 C564.6,184.4 563.4,184.6 562.2,185.0 C561.0,185.4 560.0,185.9 558.9,186.4 C557.8,186.8 556.6,187.2 555.4,187.5 C554.2,187.9 553.1,188.5 551.8,188.6 C550.5,188.7 548.9,188.3 547.5,188.2 C546.2,188.1 544.8,188.1 543.5,188.0 C542.1,188.0 540.7,187.7 539.4,187.7 C538.1,187.8 537.0,188.1 535.8,188.3 C534.5,188.6 533.4,189.0 532.1,189.1 C530.9,189.3 529.6,189.3 528.4,189.5 C527.1,189.8 526.0,190.3 524.7,190.5 C523.5,190.8 522.2,191.1 521.0,191.2 C519.7,191.2 518.5,190.8 517.2,190.6 C515.9,190.5 514.7,190.4 513.4,190.3 C512.2,190.3 510.9,190.3 509.6,190.3 C508.4,190.3 507.1,190.2 505.8,190.3 C504.5,190.3 503.2,190.3 501.9,190.4 C500.6,190.5 499.2,190.8 497.9,190.8 C496.7,190.7 495.4,190.4 494.2,190.1 C492.9,189.9 491.7,189.7 490.5,189.2 C489.4,188.8 488.3,188.2 487.3,187.6 C486.2,187.0 485.3,186.2 484.2,185.7 C483.1,185.2 482.0,184.8 480.9,184.4 C479.7,184.0 478.5,183.8 477.3,183.5 C476.2,183.2 474.9,182.9 473.9,182.4 C472.8,182.0 471.9,181.3 471.0,180.6 C470.0,179.9 469.1,179.1 468.3,178.2 C467.5,177.4 466.9,176.3 466.1,175.4 C465.3,174.5 464.4,173.8 463.4,173.0 C462.5,172.3 461.3,171.9 460.5,170.9 C459.6,170.0 458.9,168.7 458.1,167.5 C457.4,166.4 455.7,165.8 455.7,164.1 C455.7,162.5 458.4,159.0 458.3,157.5 C458.2,156.0 456.0,155.9 455.1,155.1 C454.2,154.2 453.8,152.9 452.9,152.2 C451.9,151.4 450.5,151.0 449.3,150.5 C448.0,150.0 446.5,149.6 445.2,149.1 C443.9,148.6 442.5,148.1 441.2,147.6 C439.9,147.1 438.3,146.7 437.3,146.0 C436.2,145.3 435.6,144.2 434.8,143.3 C434.0,142.4 433.3,141.5 432.5,140.6 C431.7,139.7 430.8,138.9 429.9,138.0 C429.0,137.2 427.9,136.4 426.9,135.5 C426.0,134.6 425.2,133.5 424.4,132.5 C423.5,131.5 423.0,130.5 422.0,129.4 C421.1,128.4 419.7,127.4 418.8,126.4 C418.0,125.3 417.3,124.6 417.0,123.2 C416.7,121.8 417.3,119.8 417.1,118.1 C416.8,116.4 415.5,114.4 415.4,112.9Z" fill="#d8aa8e" filter="url(#btbl)"/>
<defs><clipPath id="bcbl"><path d="M415.4,112.9 C415.2,111.5 415.7,110.5 416.0,109.3 C416.4,108.2 417.0,107.0 417.5,105.9 C417.9,104.8 418.5,103.7 418.8,102.5 C419.1,101.3 418.9,100.1 419.1,98.9 C419.3,97.7 419.5,96.5 419.9,95.4 C420.4,94.3 421.1,93.1 422.0,92.1 C422.9,91.0 424.1,90.1 425.1,89.1 C426.2,88.2 427.3,87.2 428.3,86.3 C429.3,85.3 430.2,84.1 431.2,83.4 C432.2,82.6 433.1,82.2 434.2,81.6 C435.2,81.1 436.5,80.7 437.5,80.0 C438.4,79.4 439.1,78.6 439.8,77.9 C440.6,77.2 441.2,76.3 442.0,75.6 C442.8,74.9 443.6,74.1 444.6,73.5 C445.7,72.9 447.1,72.4 448.4,71.9 C449.6,71.3 451.0,70.9 452.1,70.2 C453.2,69.6 453.9,68.6 455.0,68.0 C456.2,67.3 457.7,67.1 458.7,66.3 C459.7,65.6 460.2,64.3 461.2,63.5 C462.2,62.7 463.4,62.1 464.7,61.7 C466.0,61.2 467.6,61.1 469.0,60.9 C470.5,60.7 472.0,60.7 473.5,60.6 C475.0,60.4 476.5,60.4 477.9,60.2 C479.3,59.9 480.5,59.5 481.9,59.2 C483.3,59.0 484.8,59.0 486.1,58.8 C487.4,58.5 488.6,57.9 489.8,57.6 C491.1,57.2 492.4,56.9 493.7,56.7 C495.1,56.5 496.5,56.5 497.8,56.4 C499.2,56.3 500.5,56.1 501.9,56.1 C503.2,56.0 504.6,56.3 506.0,56.3 C507.3,56.2 508.6,56.2 509.9,55.9 C511.2,55.7 512.5,55.4 513.9,54.9 C515.2,54.5 516.6,53.8 518.0,53.4 C519.3,53.1 520.7,52.9 522.1,52.8 C523.5,52.6 524.9,52.5 526.2,52.6 C527.5,52.6 528.8,52.8 530.0,53.0 C531.3,53.2 532.4,53.7 533.6,53.9 C534.8,54.2 536.0,54.6 537.3,54.7 C538.5,54.7 539.9,54.5 541.2,54.4 C542.5,54.4 543.8,54.4 545.1,54.5 C546.3,54.6 547.6,54.6 548.7,55.0 C549.9,55.3 551.0,55.9 552.1,56.5 C553.1,57.1 554.0,57.9 555.0,58.6 C556.1,59.2 557.2,59.7 558.2,60.3 C559.3,60.8 560.3,61.4 561.4,61.9 C562.5,62.5 563.5,63.0 564.7,63.3 C566.0,63.6 567.8,63.2 569.0,63.7 C570.3,64.3 571.0,65.7 572.0,66.5 C573.1,67.4 574.4,68.1 575.5,69.0 C576.5,69.8 577.7,70.7 578.6,71.7 C579.5,72.7 580.0,74.0 580.9,75.0 C581.9,76.0 583.3,76.6 584.2,77.6 C585.0,78.6 585.2,79.9 585.9,80.9 C586.7,81.9 587.8,82.7 588.6,83.7 C589.4,84.7 590.1,85.8 590.7,86.9 C591.3,88.0 591.6,89.2 592.0,90.4 C592.5,91.6 593.0,92.7 593.3,93.9 C593.6,95.1 593.5,96.4 593.8,97.5 C594.2,98.7 595.1,99.6 595.5,100.8 C596.0,101.9 596.1,103.3 596.4,104.5 C596.8,105.7 597.3,106.9 597.7,108.2 C598.2,109.4 598.5,110.6 598.9,111.9 C599.3,113.1 599.8,114.4 600.2,115.6 C600.5,116.9 600.7,118.2 600.9,119.4 C601.0,120.7 601.0,121.9 601.1,123.2 C601.2,124.5 601.3,125.7 601.4,127.0 C601.5,128.2 601.3,129.5 601.5,130.7 C601.7,132.0 602.6,133.4 602.9,134.7 C603.2,136.0 603.2,137.3 603.3,138.6 C603.4,139.9 603.6,141.3 603.5,142.5 C603.4,143.8 603.3,145.1 602.7,146.2 C602.2,147.3 601.0,148.2 600.3,149.2 C599.6,150.3 599.2,151.3 598.7,152.4 C598.3,153.6 598.1,154.8 597.7,155.9 C597.3,157.0 596.6,158.0 596.2,159.1 C595.8,160.2 595.8,161.5 595.3,162.6 C594.9,163.7 594.5,164.8 593.6,165.7 C592.7,166.6 591.3,167.2 590.1,167.9 C589.0,168.6 587.7,169.3 586.8,170.1 C585.8,171.0 585.3,172.1 584.4,173.0 C583.5,173.9 582.4,174.5 581.5,175.5 C580.7,176.4 580.1,177.6 579.4,178.6 C578.6,179.7 578.0,181.0 577.1,181.7 C576.1,182.5 575.1,182.8 573.8,183.1 C572.6,183.3 570.8,183.1 569.5,183.3 C568.2,183.4 567.1,183.8 565.8,184.1 C564.6,184.4 563.4,184.6 562.2,185.0 C561.0,185.4 560.0,185.9 558.9,186.4 C557.8,186.8 556.6,187.2 555.4,187.5 C554.2,187.9 553.1,188.5 551.8,188.6 C550.5,188.7 548.9,188.3 547.5,188.2 C546.2,188.1 544.8,188.1 543.5,188.0 C542.1,188.0 540.7,187.7 539.4,187.7 C538.1,187.8 537.0,188.1 535.8,188.3 C534.5,188.6 533.4,189.0 532.1,189.1 C530.9,189.3 529.6,189.3 528.4,189.5 C527.1,189.8 526.0,190.3 524.7,190.5 C523.5,190.8 522.2,191.1 521.0,191.2 C519.7,191.2 518.5,190.8 517.2,190.6 C515.9,190.5 514.7,190.4 513.4,190.3 C512.2,190.3 510.9,190.3 509.6,190.3 C508.4,190.3 507.1,190.2 505.8,190.3 C504.5,190.3 503.2,190.3 501.9,190.4 C500.6,190.5 499.2,190.8 497.9,190.8 C496.7,190.7 495.4,190.4 494.2,190.1 C492.9,189.9 491.7,189.7 490.5,189.2 C489.4,188.8 488.3,188.2 487.3,187.6 C486.2,187.0 485.3,186.2 484.2,185.7 C483.1,185.2 482.0,184.8 480.9,184.4 C479.7,184.0 478.5,183.8 477.3,183.5 C476.2,183.2 474.9,182.9 473.9,182.4 C472.8,182.0 471.9,181.3 471.0,180.6 C470.0,179.9 469.1,179.1 468.3,178.2 C467.5,177.4 466.9,176.3 466.1,175.4 C465.3,174.5 464.4,173.8 463.4,173.0 C462.5,172.3 461.3,171.9 460.5,170.9 C459.6,170.0 458.9,168.7 458.1,167.5 C457.4,166.4 455.7,165.8 455.7,164.1 C455.7,162.5 458.4,159.0 458.3,157.5 C458.2,156.0 456.0,155.9 455.1,155.1 C454.2,154.2 453.8,152.9 452.9,152.2 C451.9,151.4 450.5,151.0 449.3,150.5 C448.0,150.0 446.5,149.6 445.2,149.1 C443.9,148.6 442.5,148.1 441.2,147.6 C439.9,147.1 438.3,146.7 437.3,146.0 C436.2,145.3 435.6,144.2 434.8,143.3 C434.0,142.4 433.3,141.5 432.5,140.6 C431.7,139.7 430.8,138.9 429.9,138.0 C429.0,137.2 427.9,136.4 426.9,135.5 C426.0,134.6 425.2,133.5 424.4,132.5 C423.5,131.5 423.0,130.5 422.0,129.4 C421.1,128.4 419.7,127.4 418.8,126.4 C418.0,125.3 417.3,124.6 417.0,123.2 C416.7,121.8 417.3,119.8 417.1,118.1 C416.8,116.4 415.5,114.4 415.4,112.9Z"/></clipPath><filter id="ebbl" x="-10%" y="-10%" width="120%" height="120%"><feGaussianBlur stdDeviation="2.5"/></filter></defs>
<g clip-path="url(#bcbl)"><path d="M415.4,112.9 C415.2,111.5 415.7,110.5 416.0,109.3 C416.4,108.2 417.0,107.0 417.5,105.9 C417.9,104.8 418.5,103.7 418.8,102.5 C419.1,101.3 418.9,100.1 419.1,98.9 C419.3,97.7 419.5,96.5 419.9,95.4 C420.4,94.3 421.1,93.1 422.0,92.1 C422.9,91.0 424.1,90.1 425.1,89.1 C426.2,88.2 427.3,87.2 428.3,86.3 C429.3,85.3 430.2,84.1 431.2,83.4 C432.2,82.6 433.1,82.2 434.2,81.6 C435.2,81.1 436.5,80.7 437.5,80.0 C438.4,79.4 439.1,78.6 439.8,77.9 C440.6,77.2 441.2,76.3 442.0,75.6 C442.8,74.9 443.6,74.1 444.6,73.5 C445.7,72.9 447.1,72.4 448.4,71.9 C449.6,71.3 451.0,70.9 452.1,70.2 C453.2,69.6 453.9,68.6 455.0,68.0 C456.2,67.3 457.7,67.1 458.7,66.3 C459.7,65.6 460.2,64.3 461.2,63.5 C462.2,62.7 463.4,62.1 464.7,61.7 C466.0,61.2 467.6,61.1 469.0,60.9 C470.5,60.7 472.0,60.7 473.5,60.6 C475.0,60.4 476.5,60.4 477.9,60.2 C479.3,59.9 480.5,59.5 481.9,59.2 C483.3,59.0 484.8,59.0 486.1,58.8 C487.4,58.5 488.6,57.9 489.8,57.6 C491.1,57.2 492.4,56.9 493.7,56.7 C495.1,56.5 496.5,56.5 497.8,56.4 C499.2,56.3 500.5,56.1 501.9,56.1 C503.2,56.0 504.6,56.3 506.0,56.3 C507.3,56.2 508.6,56.2 509.9,55.9 C511.2,55.7 512.5,55.4 513.9,54.9 C515.2,54.5 516.6,53.8 518.0,53.4 C519.3,53.1 520.7,52.9 522.1,52.8 C523.5,52.6 524.9,52.5 526.2,52.6 C527.5,52.6 528.8,52.8 530.0,53.0 C531.3,53.2 532.4,53.7 533.6,53.9 C534.8,54.2 536.0,54.6 537.3,54.7 C538.5,54.7 539.9,54.5 541.2,54.4 C542.5,54.4 543.8,54.4 545.1,54.5 C546.3,54.6 547.6,54.6 548.7,55.0 C549.9,55.3 551.0,55.9 552.1,56.5 C553.1,57.1 554.0,57.9 555.0,58.6 C556.1,59.2 557.2,59.7 558.2,60.3 C559.3,60.8 560.3,61.4 561.4,61.9 C562.5,62.5 563.5,63.0 564.7,63.3 C566.0,63.6 567.8,63.2 569.0,63.7 C570.3,64.3 571.0,65.7 572.0,66.5 C573.1,67.4 574.4,68.1 575.5,69.0 C576.5,69.8 577.7,70.7 578.6,71.7 C579.5,72.7 580.0,74.0 580.9,75.0 C581.9,76.0 583.3,76.6 584.2,77.6 C585.0,78.6 585.2,79.9 585.9,80.9 C586.7,81.9 587.8,82.7 588.6,83.7 C589.4,84.7 590.1,85.8 590.7,86.9 C591.3,88.0 591.6,89.2 592.0,90.4 C592.5,91.6 593.0,92.7 593.3,93.9 C593.6,95.1 593.5,96.4 593.8,97.5 C594.2,98.7 595.1,99.6 595.5,100.8 C596.0,101.9 596.1,103.3 596.4,104.5 C596.8,105.7 597.3,106.9 597.7,108.2 C598.2,109.4 598.5,110.6 598.9,111.9 C599.3,113.1 599.8,114.4 600.2,115.6 C600.5,116.9 600.7,118.2 600.9,119.4 C601.0,120.7 601.0,121.9 601.1,123.2 C601.2,124.5 601.3,125.7 601.4,127.0 C601.5,128.2 601.3,129.5 601.5,130.7 C601.7,132.0 602.6,133.4 602.9,134.7 C603.2,136.0 603.2,137.3 603.3,138.6 C603.4,139.9 603.6,141.3 603.5,142.5 C603.4,143.8 603.3,145.1 602.7,146.2 C602.2,147.3 601.0,148.2 600.3,149.2 C599.6,150.3 599.2,151.3 598.7,152.4 C598.3,153.6 598.1,154.8 597.7,155.9 C597.3,157.0 596.6,158.0 596.2,159.1 C595.8,160.2 595.8,161.5 595.3,162.6 C594.9,163.7 594.5,164.8 593.6,165.7 C592.7,166.6 591.3,167.2 590.1,167.9 C589.0,168.6 587.7,169.3 586.8,170.1 C585.8,171.0 585.3,172.1 584.4,173.0 C583.5,173.9 582.4,174.5 581.5,175.5 C580.7,176.4 580.1,177.6 579.4,178.6 C578.6,179.7 578.0,181.0 577.1,181.7 C576.1,182.5 575.1,182.8 573.8,183.1 C572.6,183.3 570.8,183.1 569.5,183.3 C568.2,183.4 567.1,183.8 565.8,184.1 C564.6,184.4 563.4,184.6 562.2,185.0 C561.0,185.4 560.0,185.9 558.9,186.4 C557.8,186.8 556.6,187.2 555.4,187.5 C554.2,187.9 553.1,188.5 551.8,188.6 C550.5,188.7 548.9,188.3 547.5,188.2 C546.2,188.1 544.8,188.1 543.5,188.0 C542.1,188.0 540.7,187.7 539.4,187.7 C538.1,187.8 537.0,188.1 535.8,188.3 C534.5,188.6 533.4,189.0 532.1,189.1 C530.9,189.3 529.6,189.3 528.4,189.5 C527.1,189.8 526.0,190.3 524.7,190.5 C523.5,190.8 522.2,191.1 521.0,191.2 C519.7,191.2 518.5,190.8 517.2,190.6 C515.9,190.5 514.7,190.4 513.4,190.3 C512.2,190.3 510.9,190.3 509.6,190.3 C508.4,190.3 507.1,190.2 505.8,190.3 C504.5,190.3 503.2,190.3 501.9,190.4 C500.6,190.5 499.2,190.8 497.9,190.8 C496.7,190.7 495.4,190.4 494.2,190.1 C492.9,189.9 491.7,189.7 490.5,189.2 C489.4,188.8 488.3,188.2 487.3,187.6 C486.2,187.0 485.3,186.2 484.2,185.7 C483.1,185.2 482.0,184.8 480.9,184.4 C479.7,184.0 478.5,183.8 477.3,183.5 C476.2,183.2 474.9,182.9 473.9,182.4 C472.8,182.0 471.9,181.3 471.0,180.6 C470.0,179.9 469.1,179.1 468.3,178.2 C467.5,177.4 466.9,176.3 466.1,175.4 C465.3,174.5 464.4,173.8 463.4,173.0 C462.5,172.3 461.3,171.9 460.5,170.9 C459.6,170.0 458.9,168.7 458.1,167.5 C457.4,166.4 455.7,165.8 455.7,164.1 C455.7,162.5 458.4,159.0 458.3,157.5 C458.2,156.0 456.0,155.9 455.1,155.1 C454.2,154.2 453.8,152.9 452.9,152.2 C451.9,151.4 450.5,151.0 449.3,150.5 C448.0,150.0 446.5,149.6 445.2,149.1 C443.9,148.6 442.5,148.1 441.2,147.6 C439.9,147.1 438.3,146.7 437.3,146.0 C436.2,145.3 435.6,144.2 434.8,143.3 C434.0,142.4 433.3,141.5 432.5,140.6 C431.7,139.7 430.8,138.9 429.9,138.0 C429.0,137.2 427.9,136.4 426.9,135.5 C426.0,134.6 425.2,133.5 424.4,132.5 C423.5,131.5 423.0,130.5 422.0,129.4 C421.1,128.4 419.7,127.4 418.8,126.4 C418.0,125.3 417.3,124.6 417.0,123.2 C416.7,121.8 417.3,119.8 417.1,118.1 C416.8,116.4 415.5,114.4 415.4,112.9Z" fill="none" stroke="#5a3a28" stroke-width="7" opacity="0.35" filter="url(#ebbl)"/></g>
<path d="M526,62 C532,58 540,62 541,72 C542,82 538,88 530,88 C524,86 522,74 526,62Z" fill="#4f8f1f"/>
<rect x="528.7" y="64.7" width="2.6" height="2.6" fill="#fff"/>
<rect x="534.7" y="68.7" width="2.6" height="2.6" fill="#fff"/>
<rect x="532.7" y="74.7" width="2.6" height="2.6" fill="#fff"/>
<rect x="526.7" y="77.7" width="2.6" height="2.6" fill="#fff"/>
<rect x="538.7" y="71.7" width="2.6" height="2.6" fill="#fff"/>
<line x1="526.0" y1="43.0" x2="526.0" y2="64.0" stroke="#231f20" stroke-width="0.8" />
<defs><filter id="btbr" x="0" y="0" width="100%" height="100%" color-interpolation-filters="sRGB">
  <feTurbulence type="turbulence" baseFrequency="0.05 0.068" numOctaves="2" seed="11" result="n"/>
  <feColorMatrix in="n" type="matrix" values="0 0 0 0 0  0 0 0 0 0  0 0 0 0 0  1.5 0 0 0 0" result="bump0"/>
  <feGaussianBlur in="bump0" stdDeviation="0.8" result="bump"/>
  <feDiffuseLighting in="bump" surfaceScale="5" diffuseConstant="1.15" lighting-color="#fff" result="lit">
    <feDistantLight azimuth="235" elevation="60"/>
  </feDiffuseLighting>
  <feBlend in="SourceGraphic" in2="lit" mode="multiply" result="base"/>
  <feColorMatrix in="n" type="matrix" values="0 0 0 0 0.32  0 0 0 0 0.2  0 0 0 0 0.14  -14 0 0 0 0.8" result="dk0"/>
  <feGaussianBlur in="dk0" stdDeviation="1.0" result="dk"/>
  <feComposite in="dk" in2="base" operator="over" result="all"/>
  <feComposite in="all" in2="SourceAlpha" operator="in"/>
</filter></defs>
<defs><clipPath id="gcbr"><rect x="630" y="0" width="160" height="80"/></clipPath></defs>
<g clip-path="url(#gcbr)"><path d="M619.0,135.9 C619.0,134.6 620.0,133.3 620.4,132.0 C620.8,130.7 621.1,129.5 621.4,128.2 C621.8,127.0 622.2,125.7 622.3,124.5 C622.4,123.2 622.1,122.0 622.1,120.8 C622.0,119.5 622.0,118.2 622.0,117.0 C622.0,115.7 622.0,114.4 622.2,113.1 C622.5,111.9 623.2,110.7 623.6,109.4 C623.9,108.2 624.0,106.9 624.3,105.7 C624.6,104.5 625.3,103.5 625.5,102.4 C625.7,101.2 625.4,99.9 625.5,98.7 C625.6,97.5 625.7,96.3 626.0,95.2 C626.2,94.0 626.9,93.0 627.1,91.8 C627.4,90.6 627.1,89.2 627.5,88.1 C627.8,86.9 628.2,85.8 629.1,84.9 C630.1,84.0 632.0,83.6 633.3,82.9 C634.6,82.1 635.8,81.4 637.0,80.6 C638.2,79.9 639.5,79.2 640.5,78.4 C641.6,77.6 642.7,76.8 643.5,75.8 C644.4,74.8 644.7,73.5 645.5,72.6 C646.3,71.6 647.4,70.9 648.4,70.1 C649.3,69.2 650.2,68.3 651.1,67.5 C652.0,66.6 652.8,65.6 653.8,64.9 C654.8,64.3 656.0,64.0 656.9,63.4 C657.9,62.7 658.5,61.7 659.3,60.9 C660.1,60.1 661.0,59.3 661.8,58.5 C662.6,57.6 663.3,56.5 664.2,55.8 C665.1,55.0 666.1,54.4 667.3,54.0 C668.5,53.5 669.9,53.4 671.2,53.2 C672.6,53.0 674.1,53.0 675.4,52.8 C676.7,52.6 678.0,52.3 679.3,52.1 C680.6,51.8 681.9,51.3 683.2,51.3 C684.4,51.2 685.5,51.6 686.6,51.7 C687.8,51.7 688.8,51.3 690.0,51.4 C691.1,51.5 692.4,51.9 693.6,52.2 C694.8,52.6 696.1,53.1 697.3,53.6 C698.5,54.0 699.7,54.5 700.9,54.9 C702.1,55.3 703.3,55.7 704.5,55.8 C705.6,56.0 706.8,55.9 707.9,55.9 C709.1,55.8 710.2,55.5 711.4,55.3 C712.6,55.2 713.7,55.2 714.9,55.1 C716.1,54.9 717.4,54.4 718.6,54.4 C719.8,54.5 721.1,55.2 722.3,55.5 C723.6,55.8 724.9,55.8 726.2,56.0 C727.4,56.3 728.5,56.9 729.8,57.0 C731.1,57.2 732.6,56.8 733.9,56.8 C735.3,56.8 736.7,56.8 738.0,57.0 C739.2,57.2 740.4,57.7 741.6,58.1 C742.8,58.4 744.0,58.9 745.2,59.4 C746.4,59.8 747.7,60.1 748.8,60.8 C749.9,61.4 750.6,62.5 751.7,63.1 C752.8,63.7 754.1,63.9 755.2,64.4 C756.4,64.9 757.3,65.5 758.5,66.0 C759.6,66.5 760.8,66.9 762.1,67.2 C763.4,67.5 765.0,67.4 766.3,67.8 C767.6,68.2 768.8,69.0 769.9,69.7 C771.0,70.5 771.9,71.4 772.9,72.2 C773.9,73.0 774.9,73.8 776.0,74.5 C777.2,75.2 778.4,75.8 779.8,76.3 C781.1,76.8 783.0,77.1 784.3,77.7 C785.6,78.3 786.5,79.1 787.4,79.9 C788.4,80.7 789.1,81.6 790.0,82.4 C790.9,83.3 792.0,84.1 792.8,84.9 C793.5,85.8 794.1,86.8 794.8,87.7 C795.4,88.7 795.9,89.4 796.6,90.5 C797.4,91.6 798.4,93.0 799.1,94.2 C799.8,95.5 800.0,96.9 800.8,98.1 C801.5,99.4 802.7,100.5 803.5,101.8 C804.3,103.0 805.3,104.3 805.7,105.6 C806.2,106.8 805.9,108.1 806.1,109.4 C806.3,110.7 806.8,111.9 806.9,113.2 C807.0,114.5 806.5,115.8 806.7,117.0 C806.9,118.3 808.0,119.5 807.9,120.7 C807.8,122.0 806.5,123.2 806.0,124.5 C805.6,125.7 805.6,127.0 805.2,128.3 C804.8,129.6 804.3,130.8 803.8,132.1 C803.3,133.4 802.9,135.0 802.2,136.0 C801.5,137.0 800.7,137.4 799.6,138.1 C798.6,138.8 797.3,139.4 796.2,140.0 C795.0,140.7 793.6,141.3 792.7,142.0 C791.7,142.7 791.3,143.5 790.5,144.2 C789.6,144.9 788.4,145.7 787.3,146.2 C786.2,146.8 785.1,147.2 783.9,147.6 C782.7,148.1 781.5,148.5 780.1,148.9 C778.7,149.3 777.0,149.5 775.4,149.8 C773.8,150.1 771.1,149.7 770.4,150.5 C769.8,151.3 771.3,153.4 771.6,154.8 C771.8,156.2 771.7,157.3 772.0,158.7 C772.2,160.1 773.3,161.8 773.3,163.1 C773.3,164.5 772.7,165.7 772.1,166.8 C771.6,167.9 770.7,168.7 770.0,169.7 C769.3,170.7 768.6,171.7 767.9,172.7 C767.2,173.6 766.6,174.8 765.7,175.5 C764.8,176.3 763.4,176.6 762.5,177.3 C761.5,178.0 760.8,179.0 759.8,179.7 C758.9,180.5 757.8,181.1 756.8,181.8 C755.8,182.6 754.9,183.6 753.8,184.2 C752.8,184.9 751.5,185.3 750.3,185.7 C749.1,186.2 747.9,186.7 746.6,187.0 C745.3,187.2 744.0,187.3 742.6,187.4 C741.3,187.4 739.8,187.1 738.5,187.2 C737.2,187.3 736.0,187.6 734.8,187.9 C733.5,188.2 732.4,188.8 731.2,189.1 C729.9,189.3 728.5,189.1 727.3,189.2 C726.0,189.3 724.7,189.4 723.4,189.6 C722.2,189.7 721.0,190.1 719.7,190.3 C718.4,190.4 717.2,190.5 715.9,190.4 C714.6,190.2 713.4,189.6 712.2,189.5 C710.9,189.4 709.7,189.5 708.4,189.7 C707.2,189.9 705.9,190.5 704.6,190.8 C703.3,191.0 702.0,191.4 700.7,191.3 C699.4,191.3 698.2,190.6 696.9,190.5 C695.6,190.4 694.3,190.7 693.0,190.6 C691.7,190.4 690.5,190.0 689.3,189.8 C688.1,189.5 686.8,189.4 685.6,189.1 C684.4,188.8 683.2,188.5 682.1,188.2 C680.9,187.9 679.7,187.7 678.5,187.4 C677.4,187.1 676.2,186.7 675.0,186.4 C673.8,186.2 672.4,186.3 671.3,185.8 C670.3,185.3 669.6,184.2 668.6,183.6 C667.7,183.1 666.5,182.9 665.4,182.4 C664.4,182.0 663.6,181.2 662.4,180.9 C661.3,180.6 659.7,180.9 658.5,180.6 C657.2,180.4 656.0,179.8 654.9,179.3 C653.7,178.8 652.5,178.3 651.3,177.8 C650.2,177.3 649.1,176.7 647.9,176.1 C646.8,175.6 645.4,175.2 644.4,174.6 C643.3,174.0 642.7,173.1 641.6,172.5 C640.6,171.9 639.2,171.6 638.0,171.0 C636.9,170.4 635.9,169.6 634.8,168.9 C633.7,168.3 632.4,167.6 631.4,166.9 C630.4,166.1 629.5,165.3 628.7,164.4 C627.9,163.5 627.4,162.5 626.6,161.6 C625.9,160.7 624.6,160.1 624.3,159.0 C623.9,157.8 624.6,156.0 624.5,154.6 C624.5,153.3 624.4,151.9 624.1,150.7 C623.8,149.4 623.2,148.2 622.8,147.0 C622.3,145.8 621.7,144.6 621.3,143.4 C620.9,142.1 620.8,140.8 620.4,139.6 C620.0,138.3 619.0,137.1 619.0,135.9Z" transform="translate(711.7,118.8) scale(1.015) translate(-709.7,-121.8)" fill="#d3d7da" stroke="#9fa7ac" stroke-width="0.6"/></g>
<path d="M619.0,135.9 C619.0,134.6 620.0,133.3 620.4,132.0 C620.8,130.7 621.1,129.5 621.4,128.2 C621.8,127.0 622.2,125.7 622.3,124.5 C622.4,123.2 622.1,122.0 622.1,120.8 C622.0,119.5 622.0,118.2 622.0,117.0 C622.0,115.7 622.0,114.4 622.2,113.1 C622.5,111.9 623.2,110.7 623.6,109.4 C623.9,108.2 624.0,106.9 624.3,105.7 C624.6,104.5 625.3,103.5 625.5,102.4 C625.7,101.2 625.4,99.9 625.5,98.7 C625.6,97.5 625.7,96.3 626.0,95.2 C626.2,94.0 626.9,93.0 627.1,91.8 C627.4,90.6 627.1,89.2 627.5,88.1 C627.8,86.9 628.2,85.8 629.1,84.9 C630.1,84.0 632.0,83.6 633.3,82.9 C634.6,82.1 635.8,81.4 637.0,80.6 C638.2,79.9 639.5,79.2 640.5,78.4 C641.6,77.6 642.7,76.8 643.5,75.8 C644.4,74.8 644.7,73.5 645.5,72.6 C646.3,71.6 647.4,70.9 648.4,70.1 C649.3,69.2 650.2,68.3 651.1,67.5 C652.0,66.6 652.8,65.6 653.8,64.9 C654.8,64.3 656.0,64.0 656.9,63.4 C657.9,62.7 658.5,61.7 659.3,60.9 C660.1,60.1 661.0,59.3 661.8,58.5 C662.6,57.6 663.3,56.5 664.2,55.8 C665.1,55.0 666.1,54.4 667.3,54.0 C668.5,53.5 669.9,53.4 671.2,53.2 C672.6,53.0 674.1,53.0 675.4,52.8 C676.7,52.6 678.0,52.3 679.3,52.1 C680.6,51.8 681.9,51.3 683.2,51.3 C684.4,51.2 685.5,51.6 686.6,51.7 C687.8,51.7 688.8,51.3 690.0,51.4 C691.1,51.5 692.4,51.9 693.6,52.2 C694.8,52.6 696.1,53.1 697.3,53.6 C698.5,54.0 699.7,54.5 700.9,54.9 C702.1,55.3 703.3,55.7 704.5,55.8 C705.6,56.0 706.8,55.9 707.9,55.9 C709.1,55.8 710.2,55.5 711.4,55.3 C712.6,55.2 713.7,55.2 714.9,55.1 C716.1,54.9 717.4,54.4 718.6,54.4 C719.8,54.5 721.1,55.2 722.3,55.5 C723.6,55.8 724.9,55.8 726.2,56.0 C727.4,56.3 728.5,56.9 729.8,57.0 C731.1,57.2 732.6,56.8 733.9,56.8 C735.3,56.8 736.7,56.8 738.0,57.0 C739.2,57.2 740.4,57.7 741.6,58.1 C742.8,58.4 744.0,58.9 745.2,59.4 C746.4,59.8 747.7,60.1 748.8,60.8 C749.9,61.4 750.6,62.5 751.7,63.1 C752.8,63.7 754.1,63.9 755.2,64.4 C756.4,64.9 757.3,65.5 758.5,66.0 C759.6,66.5 760.8,66.9 762.1,67.2 C763.4,67.5 765.0,67.4 766.3,67.8 C767.6,68.2 768.8,69.0 769.9,69.7 C771.0,70.5 771.9,71.4 772.9,72.2 C773.9,73.0 774.9,73.8 776.0,74.5 C777.2,75.2 778.4,75.8 779.8,76.3 C781.1,76.8 783.0,77.1 784.3,77.7 C785.6,78.3 786.5,79.1 787.4,79.9 C788.4,80.7 789.1,81.6 790.0,82.4 C790.9,83.3 792.0,84.1 792.8,84.9 C793.5,85.8 794.1,86.8 794.8,87.7 C795.4,88.7 795.9,89.4 796.6,90.5 C797.4,91.6 798.4,93.0 799.1,94.2 C799.8,95.5 800.0,96.9 800.8,98.1 C801.5,99.4 802.7,100.5 803.5,101.8 C804.3,103.0 805.3,104.3 805.7,105.6 C806.2,106.8 805.9,108.1 806.1,109.4 C806.3,110.7 806.8,111.9 806.9,113.2 C807.0,114.5 806.5,115.8 806.7,117.0 C806.9,118.3 808.0,119.5 807.9,120.7 C807.8,122.0 806.5,123.2 806.0,124.5 C805.6,125.7 805.6,127.0 805.2,128.3 C804.8,129.6 804.3,130.8 803.8,132.1 C803.3,133.4 802.9,135.0 802.2,136.0 C801.5,137.0 800.7,137.4 799.6,138.1 C798.6,138.8 797.3,139.4 796.2,140.0 C795.0,140.7 793.6,141.3 792.7,142.0 C791.7,142.7 791.3,143.5 790.5,144.2 C789.6,144.9 788.4,145.7 787.3,146.2 C786.2,146.8 785.1,147.2 783.9,147.6 C782.7,148.1 781.5,148.5 780.1,148.9 C778.7,149.3 777.0,149.5 775.4,149.8 C773.8,150.1 771.1,149.7 770.4,150.5 C769.8,151.3 771.3,153.4 771.6,154.8 C771.8,156.2 771.7,157.3 772.0,158.7 C772.2,160.1 773.3,161.8 773.3,163.1 C773.3,164.5 772.7,165.7 772.1,166.8 C771.6,167.9 770.7,168.7 770.0,169.7 C769.3,170.7 768.6,171.7 767.9,172.7 C767.2,173.6 766.6,174.8 765.7,175.5 C764.8,176.3 763.4,176.6 762.5,177.3 C761.5,178.0 760.8,179.0 759.8,179.7 C758.9,180.5 757.8,181.1 756.8,181.8 C755.8,182.6 754.9,183.6 753.8,184.2 C752.8,184.9 751.5,185.3 750.3,185.7 C749.1,186.2 747.9,186.7 746.6,187.0 C745.3,187.2 744.0,187.3 742.6,187.4 C741.3,187.4 739.8,187.1 738.5,187.2 C737.2,187.3 736.0,187.6 734.8,187.9 C733.5,188.2 732.4,188.8 731.2,189.1 C729.9,189.3 728.5,189.1 727.3,189.2 C726.0,189.3 724.7,189.4 723.4,189.6 C722.2,189.7 721.0,190.1 719.7,190.3 C718.4,190.4 717.2,190.5 715.9,190.4 C714.6,190.2 713.4,189.6 712.2,189.5 C710.9,189.4 709.7,189.5 708.4,189.7 C707.2,189.9 705.9,190.5 704.6,190.8 C703.3,191.0 702.0,191.4 700.7,191.3 C699.4,191.3 698.2,190.6 696.9,190.5 C695.6,190.4 694.3,190.7 693.0,190.6 C691.7,190.4 690.5,190.0 689.3,189.8 C688.1,189.5 686.8,189.4 685.6,189.1 C684.4,188.8 683.2,188.5 682.1,188.2 C680.9,187.9 679.7,187.7 678.5,187.4 C677.4,187.1 676.2,186.7 675.0,186.4 C673.8,186.2 672.4,186.3 671.3,185.8 C670.3,185.3 669.6,184.2 668.6,183.6 C667.7,183.1 666.5,182.9 665.4,182.4 C664.4,182.0 663.6,181.2 662.4,180.9 C661.3,180.6 659.7,180.9 658.5,180.6 C657.2,180.4 656.0,179.8 654.9,179.3 C653.7,178.8 652.5,178.3 651.3,177.8 C650.2,177.3 649.1,176.7 647.9,176.1 C646.8,175.6 645.4,175.2 644.4,174.6 C643.3,174.0 642.7,173.1 641.6,172.5 C640.6,171.9 639.2,171.6 638.0,171.0 C636.9,170.4 635.9,169.6 634.8,168.9 C633.7,168.3 632.4,167.6 631.4,166.9 C630.4,166.1 629.5,165.3 628.7,164.4 C627.9,163.5 627.4,162.5 626.6,161.6 C625.9,160.7 624.6,160.1 624.3,159.0 C623.9,157.8 624.6,156.0 624.5,154.6 C624.5,153.3 624.4,151.9 624.1,150.7 C623.8,149.4 623.2,148.2 622.8,147.0 C622.3,145.8 621.7,144.6 621.3,143.4 C620.9,142.1 620.8,140.8 620.4,139.6 C620.0,138.3 619.0,137.1 619.0,135.9Z" fill="#d8aa8e" filter="url(#btbr)"/>
<defs><clipPath id="bcbr"><path d="M619.0,135.9 C619.0,134.6 620.0,133.3 620.4,132.0 C620.8,130.7 621.1,129.5 621.4,128.2 C621.8,127.0 622.2,125.7 622.3,124.5 C622.4,123.2 622.1,122.0 622.1,120.8 C622.0,119.5 622.0,118.2 622.0,117.0 C622.0,115.7 622.0,114.4 622.2,113.1 C622.5,111.9 623.2,110.7 623.6,109.4 C623.9,108.2 624.0,106.9 624.3,105.7 C624.6,104.5 625.3,103.5 625.5,102.4 C625.7,101.2 625.4,99.9 625.5,98.7 C625.6,97.5 625.7,96.3 626.0,95.2 C626.2,94.0 626.9,93.0 627.1,91.8 C627.4,90.6 627.1,89.2 627.5,88.1 C627.8,86.9 628.2,85.8 629.1,84.9 C630.1,84.0 632.0,83.6 633.3,82.9 C634.6,82.1 635.8,81.4 637.0,80.6 C638.2,79.9 639.5,79.2 640.5,78.4 C641.6,77.6 642.7,76.8 643.5,75.8 C644.4,74.8 644.7,73.5 645.5,72.6 C646.3,71.6 647.4,70.9 648.4,70.1 C649.3,69.2 650.2,68.3 651.1,67.5 C652.0,66.6 652.8,65.6 653.8,64.9 C654.8,64.3 656.0,64.0 656.9,63.4 C657.9,62.7 658.5,61.7 659.3,60.9 C660.1,60.1 661.0,59.3 661.8,58.5 C662.6,57.6 663.3,56.5 664.2,55.8 C665.1,55.0 666.1,54.4 667.3,54.0 C668.5,53.5 669.9,53.4 671.2,53.2 C672.6,53.0 674.1,53.0 675.4,52.8 C676.7,52.6 678.0,52.3 679.3,52.1 C680.6,51.8 681.9,51.3 683.2,51.3 C684.4,51.2 685.5,51.6 686.6,51.7 C687.8,51.7 688.8,51.3 690.0,51.4 C691.1,51.5 692.4,51.9 693.6,52.2 C694.8,52.6 696.1,53.1 697.3,53.6 C698.5,54.0 699.7,54.5 700.9,54.9 C702.1,55.3 703.3,55.7 704.5,55.8 C705.6,56.0 706.8,55.9 707.9,55.9 C709.1,55.8 710.2,55.5 711.4,55.3 C712.6,55.2 713.7,55.2 714.9,55.1 C716.1,54.9 717.4,54.4 718.6,54.4 C719.8,54.5 721.1,55.2 722.3,55.5 C723.6,55.8 724.9,55.8 726.2,56.0 C727.4,56.3 728.5,56.9 729.8,57.0 C731.1,57.2 732.6,56.8 733.9,56.8 C735.3,56.8 736.7,56.8 738.0,57.0 C739.2,57.2 740.4,57.7 741.6,58.1 C742.8,58.4 744.0,58.9 745.2,59.4 C746.4,59.8 747.7,60.1 748.8,60.8 C749.9,61.4 750.6,62.5 751.7,63.1 C752.8,63.7 754.1,63.9 755.2,64.4 C756.4,64.9 757.3,65.5 758.5,66.0 C759.6,66.5 760.8,66.9 762.1,67.2 C763.4,67.5 765.0,67.4 766.3,67.8 C767.6,68.2 768.8,69.0 769.9,69.7 C771.0,70.5 771.9,71.4 772.9,72.2 C773.9,73.0 774.9,73.8 776.0,74.5 C777.2,75.2 778.4,75.8 779.8,76.3 C781.1,76.8 783.0,77.1 784.3,77.7 C785.6,78.3 786.5,79.1 787.4,79.9 C788.4,80.7 789.1,81.6 790.0,82.4 C790.9,83.3 792.0,84.1 792.8,84.9 C793.5,85.8 794.1,86.8 794.8,87.7 C795.4,88.7 795.9,89.4 796.6,90.5 C797.4,91.6 798.4,93.0 799.1,94.2 C799.8,95.5 800.0,96.9 800.8,98.1 C801.5,99.4 802.7,100.5 803.5,101.8 C804.3,103.0 805.3,104.3 805.7,105.6 C806.2,106.8 805.9,108.1 806.1,109.4 C806.3,110.7 806.8,111.9 806.9,113.2 C807.0,114.5 806.5,115.8 806.7,117.0 C806.9,118.3 808.0,119.5 807.9,120.7 C807.8,122.0 806.5,123.2 806.0,124.5 C805.6,125.7 805.6,127.0 805.2,128.3 C804.8,129.6 804.3,130.8 803.8,132.1 C803.3,133.4 802.9,135.0 802.2,136.0 C801.5,137.0 800.7,137.4 799.6,138.1 C798.6,138.8 797.3,139.4 796.2,140.0 C795.0,140.7 793.6,141.3 792.7,142.0 C791.7,142.7 791.3,143.5 790.5,144.2 C789.6,144.9 788.4,145.7 787.3,146.2 C786.2,146.8 785.1,147.2 783.9,147.6 C782.7,148.1 781.5,148.5 780.1,148.9 C778.7,149.3 777.0,149.5 775.4,149.8 C773.8,150.1 771.1,149.7 770.4,150.5 C769.8,151.3 771.3,153.4 771.6,154.8 C771.8,156.2 771.7,157.3 772.0,158.7 C772.2,160.1 773.3,161.8 773.3,163.1 C773.3,164.5 772.7,165.7 772.1,166.8 C771.6,167.9 770.7,168.7 770.0,169.7 C769.3,170.7 768.6,171.7 767.9,172.7 C767.2,173.6 766.6,174.8 765.7,175.5 C764.8,176.3 763.4,176.6 762.5,177.3 C761.5,178.0 760.8,179.0 759.8,179.7 C758.9,180.5 757.8,181.1 756.8,181.8 C755.8,182.6 754.9,183.6 753.8,184.2 C752.8,184.9 751.5,185.3 750.3,185.7 C749.1,186.2 747.9,186.7 746.6,187.0 C745.3,187.2 744.0,187.3 742.6,187.4 C741.3,187.4 739.8,187.1 738.5,187.2 C737.2,187.3 736.0,187.6 734.8,187.9 C733.5,188.2 732.4,188.8 731.2,189.1 C729.9,189.3 728.5,189.1 727.3,189.2 C726.0,189.3 724.7,189.4 723.4,189.6 C722.2,189.7 721.0,190.1 719.7,190.3 C718.4,190.4 717.2,190.5 715.9,190.4 C714.6,190.2 713.4,189.6 712.2,189.5 C710.9,189.4 709.7,189.5 708.4,189.7 C707.2,189.9 705.9,190.5 704.6,190.8 C703.3,191.0 702.0,191.4 700.7,191.3 C699.4,191.3 698.2,190.6 696.9,190.5 C695.6,190.4 694.3,190.7 693.0,190.6 C691.7,190.4 690.5,190.0 689.3,189.8 C688.1,189.5 686.8,189.4 685.6,189.1 C684.4,188.8 683.2,188.5 682.1,188.2 C680.9,187.9 679.7,187.7 678.5,187.4 C677.4,187.1 676.2,186.7 675.0,186.4 C673.8,186.2 672.4,186.3 671.3,185.8 C670.3,185.3 669.6,184.2 668.6,183.6 C667.7,183.1 666.5,182.9 665.4,182.4 C664.4,182.0 663.6,181.2 662.4,180.9 C661.3,180.6 659.7,180.9 658.5,180.6 C657.2,180.4 656.0,179.8 654.9,179.3 C653.7,178.8 652.5,178.3 651.3,177.8 C650.2,177.3 649.1,176.7 647.9,176.1 C646.8,175.6 645.4,175.2 644.4,174.6 C643.3,174.0 642.7,173.1 641.6,172.5 C640.6,171.9 639.2,171.6 638.0,171.0 C636.9,170.4 635.9,169.6 634.8,168.9 C633.7,168.3 632.4,167.6 631.4,166.9 C630.4,166.1 629.5,165.3 628.7,164.4 C627.9,163.5 627.4,162.5 626.6,161.6 C625.9,160.7 624.6,160.1 624.3,159.0 C623.9,157.8 624.6,156.0 624.5,154.6 C624.5,153.3 624.4,151.9 624.1,150.7 C623.8,149.4 623.2,148.2 622.8,147.0 C622.3,145.8 621.7,144.6 621.3,143.4 C620.9,142.1 620.8,140.8 620.4,139.6 C620.0,138.3 619.0,137.1 619.0,135.9Z"/></clipPath><filter id="ebbr" x="-10%" y="-10%" width="120%" height="120%"><feGaussianBlur stdDeviation="2.5"/></filter></defs>
<g clip-path="url(#bcbr)"><path d="M619.0,135.9 C619.0,134.6 620.0,133.3 620.4,132.0 C620.8,130.7 621.1,129.5 621.4,128.2 C621.8,127.0 622.2,125.7 622.3,124.5 C622.4,123.2 622.1,122.0 622.1,120.8 C622.0,119.5 622.0,118.2 622.0,117.0 C622.0,115.7 622.0,114.4 622.2,113.1 C622.5,111.9 623.2,110.7 623.6,109.4 C623.9,108.2 624.0,106.9 624.3,105.7 C624.6,104.5 625.3,103.5 625.5,102.4 C625.7,101.2 625.4,99.9 625.5,98.7 C625.6,97.5 625.7,96.3 626.0,95.2 C626.2,94.0 626.9,93.0 627.1,91.8 C627.4,90.6 627.1,89.2 627.5,88.1 C627.8,86.9 628.2,85.8 629.1,84.9 C630.1,84.0 632.0,83.6 633.3,82.9 C634.6,82.1 635.8,81.4 637.0,80.6 C638.2,79.9 639.5,79.2 640.5,78.4 C641.6,77.6 642.7,76.8 643.5,75.8 C644.4,74.8 644.7,73.5 645.5,72.6 C646.3,71.6 647.4,70.9 648.4,70.1 C649.3,69.2 650.2,68.3 651.1,67.5 C652.0,66.6 652.8,65.6 653.8,64.9 C654.8,64.3 656.0,64.0 656.9,63.4 C657.9,62.7 658.5,61.7 659.3,60.9 C660.1,60.1 661.0,59.3 661.8,58.5 C662.6,57.6 663.3,56.5 664.2,55.8 C665.1,55.0 666.1,54.4 667.3,54.0 C668.5,53.5 669.9,53.4 671.2,53.2 C672.6,53.0 674.1,53.0 675.4,52.8 C676.7,52.6 678.0,52.3 679.3,52.1 C680.6,51.8 681.9,51.3 683.2,51.3 C684.4,51.2 685.5,51.6 686.6,51.7 C687.8,51.7 688.8,51.3 690.0,51.4 C691.1,51.5 692.4,51.9 693.6,52.2 C694.8,52.6 696.1,53.1 697.3,53.6 C698.5,54.0 699.7,54.5 700.9,54.9 C702.1,55.3 703.3,55.7 704.5,55.8 C705.6,56.0 706.8,55.9 707.9,55.9 C709.1,55.8 710.2,55.5 711.4,55.3 C712.6,55.2 713.7,55.2 714.9,55.1 C716.1,54.9 717.4,54.4 718.6,54.4 C719.8,54.5 721.1,55.2 722.3,55.5 C723.6,55.8 724.9,55.8 726.2,56.0 C727.4,56.3 728.5,56.9 729.8,57.0 C731.1,57.2 732.6,56.8 733.9,56.8 C735.3,56.8 736.7,56.8 738.0,57.0 C739.2,57.2 740.4,57.7 741.6,58.1 C742.8,58.4 744.0,58.9 745.2,59.4 C746.4,59.8 747.7,60.1 748.8,60.8 C749.9,61.4 750.6,62.5 751.7,63.1 C752.8,63.7 754.1,63.9 755.2,64.4 C756.4,64.9 757.3,65.5 758.5,66.0 C759.6,66.5 760.8,66.9 762.1,67.2 C763.4,67.5 765.0,67.4 766.3,67.8 C767.6,68.2 768.8,69.0 769.9,69.7 C771.0,70.5 771.9,71.4 772.9,72.2 C773.9,73.0 774.9,73.8 776.0,74.5 C777.2,75.2 778.4,75.8 779.8,76.3 C781.1,76.8 783.0,77.1 784.3,77.7 C785.6,78.3 786.5,79.1 787.4,79.9 C788.4,80.7 789.1,81.6 790.0,82.4 C790.9,83.3 792.0,84.1 792.8,84.9 C793.5,85.8 794.1,86.8 794.8,87.7 C795.4,88.7 795.9,89.4 796.6,90.5 C797.4,91.6 798.4,93.0 799.1,94.2 C799.8,95.5 800.0,96.9 800.8,98.1 C801.5,99.4 802.7,100.5 803.5,101.8 C804.3,103.0 805.3,104.3 805.7,105.6 C806.2,106.8 805.9,108.1 806.1,109.4 C806.3,110.7 806.8,111.9 806.9,113.2 C807.0,114.5 806.5,115.8 806.7,117.0 C806.9,118.3 808.0,119.5 807.9,120.7 C807.8,122.0 806.5,123.2 806.0,124.5 C805.6,125.7 805.6,127.0 805.2,128.3 C804.8,129.6 804.3,130.8 803.8,132.1 C803.3,133.4 802.9,135.0 802.2,136.0 C801.5,137.0 800.7,137.4 799.6,138.1 C798.6,138.8 797.3,139.4 796.2,140.0 C795.0,140.7 793.6,141.3 792.7,142.0 C791.7,142.7 791.3,143.5 790.5,144.2 C789.6,144.9 788.4,145.7 787.3,146.2 C786.2,146.8 785.1,147.2 783.9,147.6 C782.7,148.1 781.5,148.5 780.1,148.9 C778.7,149.3 777.0,149.5 775.4,149.8 C773.8,150.1 771.1,149.7 770.4,150.5 C769.8,151.3 771.3,153.4 771.6,154.8 C771.8,156.2 771.7,157.3 772.0,158.7 C772.2,160.1 773.3,161.8 773.3,163.1 C773.3,164.5 772.7,165.7 772.1,166.8 C771.6,167.9 770.7,168.7 770.0,169.7 C769.3,170.7 768.6,171.7 767.9,172.7 C767.2,173.6 766.6,174.8 765.7,175.5 C764.8,176.3 763.4,176.6 762.5,177.3 C761.5,178.0 760.8,179.0 759.8,179.7 C758.9,180.5 757.8,181.1 756.8,181.8 C755.8,182.6 754.9,183.6 753.8,184.2 C752.8,184.9 751.5,185.3 750.3,185.7 C749.1,186.2 747.9,186.7 746.6,187.0 C745.3,187.2 744.0,187.3 742.6,187.4 C741.3,187.4 739.8,187.1 738.5,187.2 C737.2,187.3 736.0,187.6 734.8,187.9 C733.5,188.2 732.4,188.8 731.2,189.1 C729.9,189.3 728.5,189.1 727.3,189.2 C726.0,189.3 724.7,189.4 723.4,189.6 C722.2,189.7 721.0,190.1 719.7,190.3 C718.4,190.4 717.2,190.5 715.9,190.4 C714.6,190.2 713.4,189.6 712.2,189.5 C710.9,189.4 709.7,189.5 708.4,189.7 C707.2,189.9 705.9,190.5 704.6,190.8 C703.3,191.0 702.0,191.4 700.7,191.3 C699.4,191.3 698.2,190.6 696.9,190.5 C695.6,190.4 694.3,190.7 693.0,190.6 C691.7,190.4 690.5,190.0 689.3,189.8 C688.1,189.5 686.8,189.4 685.6,189.1 C684.4,188.8 683.2,188.5 682.1,188.2 C680.9,187.9 679.7,187.7 678.5,187.4 C677.4,187.1 676.2,186.7 675.0,186.4 C673.8,186.2 672.4,186.3 671.3,185.8 C670.3,185.3 669.6,184.2 668.6,183.6 C667.7,183.1 666.5,182.9 665.4,182.4 C664.4,182.0 663.6,181.2 662.4,180.9 C661.3,180.6 659.7,180.9 658.5,180.6 C657.2,180.4 656.0,179.8 654.9,179.3 C653.7,178.8 652.5,178.3 651.3,177.8 C650.2,177.3 649.1,176.7 647.9,176.1 C646.8,175.6 645.4,175.2 644.4,174.6 C643.3,174.0 642.7,173.1 641.6,172.5 C640.6,171.9 639.2,171.6 638.0,171.0 C636.9,170.4 635.9,169.6 634.8,168.9 C633.7,168.3 632.4,167.6 631.4,166.9 C630.4,166.1 629.5,165.3 628.7,164.4 C627.9,163.5 627.4,162.5 626.6,161.6 C625.9,160.7 624.6,160.1 624.3,159.0 C623.9,157.8 624.6,156.0 624.5,154.6 C624.5,153.3 624.4,151.9 624.1,150.7 C623.8,149.4 623.2,148.2 622.8,147.0 C622.3,145.8 621.7,144.6 621.3,143.4 C620.9,142.1 620.8,140.8 620.4,139.6 C620.0,138.3 619.0,137.1 619.0,135.9Z" fill="none" stroke="#5a3a28" stroke-width="7" opacity="0.35" filter="url(#ebbr)"/></g>
<path d="M690.7,62.7 C695,62 699,63 700,66 C702,72 703,80 704.6,90.5 C704,94 701,95 699,93 C696,88 692,84 689,79 C686,74 685,68 687,65Z" fill="#1ab8b8"/>
<rect x="695.5" y="66.8" width="3" height="3" fill="#fff"/>
<rect x="694.3" y="72.5" width="3" height="3" fill="#fff"/>
<line x1="685.7" y1="40.4" x2="685.7" y2="67.7" stroke="#231f20" stroke-width="0.8" />
<text x="22.5" y="24.0" font-size="15" text-anchor="start" font-weight="bold" fill="#000" stroke="#000" stroke-width="0.5">a</text>
<text x="68.6" y="28.3" font-size="11" text-anchor="start" font-weight="normal" fill="#231f20" textLength="14.6" lengthAdjust="spacingAndGlyphs" >T17</text>
<text x="125.4" y="27.8" font-size="11.5" text-anchor="start" font-weight="normal" fill="#231f20" textLength="78.9" lengthAdjust="spacingAndGlyphs" >Left hemisphere</text>
<text x="123.6" y="41.0" font-size="9.3" text-anchor="start" font-weight="normal" fill="#231f20" textLength="73.7" lengthAdjust="spacingAndGlyphs" >Middle precentral</text>
<text x="138.2" y="51.0" font-size="9.3" text-anchor="start" font-weight="normal" fill="#231f20" textLength="47.2" lengthAdjust="spacingAndGlyphs" >gyrus (55b)</text>
<text x="56.0" y="56.5" font-size="9.3" text-anchor="start" font-weight="normal" fill="#231f20" textLength="70.1" lengthAdjust="spacingAndGlyphs" >Ventral premotor</text>
<text x="70.1" y="66.5" font-size="9.3" text-anchor="start" font-weight="normal" fill="#231f20" textLength="44.7" lengthAdjust="spacingAndGlyphs" >cortex (6v)</text>
<text x="210.4" y="53.5" font-size="9.3" text-anchor="start" font-weight="normal" fill="#231f20" textLength="53.6" lengthAdjust="spacingAndGlyphs" >Dorsal motor</text>
<text x="215.5" y="63.8" font-size="9.3" text-anchor="start" font-weight="normal" fill="#231f20" textLength="46.2" lengthAdjust="spacingAndGlyphs" >cortex (6d)</text>
<text x="410.5" y="25.0" font-size="15" text-anchor="start" font-weight="bold" fill="#000" stroke="#000" stroke-width="0.5">b</text>
<text x="600.5" y="15.8" font-size="10" text-anchor="start" font-weight="normal" fill="#231f20" textLength="15.7" lengthAdjust="spacingAndGlyphs" >T18</text>
<text x="526.0" y="24.5" font-size="9.3" text-anchor="middle" font-weight="normal" fill="#231f20" >Left hemisphere</text>
<text x="526.0" y="35.0" font-size="9.3" text-anchor="middle" font-weight="normal" fill="#231f20" >dorsal motor cortex (6d)</text>
<text x="693.3" y="27.5" font-size="9.3" text-anchor="middle" font-weight="normal" fill="#231f20" >Right hemisphere</text>
<text x="693.3" y="38.0" font-size="9.3" text-anchor="middle" font-weight="normal" fill="#231f20" >dorsal motor cortex (6d)</text>
<text x="22.5" y="218.0" font-size="15" text-anchor="start" font-weight="bold" fill="#000" stroke="#000" stroke-width="0.5">c</text>
<rect x="22.2" y="232.1" width="74.5" height="45.9" fill="#000" />
<rect x="99.6" y="232.1" width="77.4" height="45.9" fill="#000" />
<rect x="179.9" y="232.1" width="77.4" height="45.9" fill="#000" />
<text x="42.2" y="240.8" font-size="9.3" text-anchor="start" font-weight="normal" fill="#e6e6e6" textLength="36.0" lengthAdjust="spacingAndGlyphs" >Prepare :</text>
<text x="27.9" y="252.8" font-size="9.3" text-anchor="start" font-weight="normal" fill="#e6e6e6" textLength="60.2" lengthAdjust="spacingAndGlyphs" >RIGHT INDEX -</text>
<text x="26.5" y="263.8" font-size="9.3" text-anchor="start" font-weight="normal" fill="#e6e6e6" textLength="63.0" lengthAdjust="spacingAndGlyphs" >Extend upward</text>
<text x="131.1" y="240.8" font-size="9.3" text-anchor="start" font-weight="normal" fill="#e6e6e6" textLength="14.3" lengthAdjust="spacingAndGlyphs" >GO:</text>
<text x="108.2" y="252.8" font-size="9.3" text-anchor="start" font-weight="normal" fill="#e6e6e6" textLength="60.2" lengthAdjust="spacingAndGlyphs" >RIGHT INDEX -</text>
<text x="107.3" y="263.8" font-size="9.3" text-anchor="start" font-weight="normal" fill="#e6e6e6" textLength="62.5" lengthAdjust="spacingAndGlyphs" >Extend upward</text>
<text x="204.8" y="245.3" font-size="9.3" text-anchor="start" font-weight="normal" fill="#e6e6e6" textLength="27.2" lengthAdjust="spacingAndGlyphs" >Return</text>
<rect x="43.1" y="268.2" width="31.5" height="6.9" fill="#ee1c1c" />
<rect x="121.7" y="268.2" width="31.5" height="6.9" fill="#22e822" />
<rect x="202.8" y="268.2" width="31.5" height="6.9" fill="#ee1c1c" />
<line x1="22.2" y1="293.2" x2="252.0" y2="293.2" stroke="#231f20" stroke-width="1.3" />
<polygon points="258,293.2 250.5,290.3 250.5,296.1" fill="#231f20"/>
<line x1="98.1" y1="284.6" x2="98.1" y2="301.0" stroke="#231f20" stroke-width="1.0" />
<line x1="177.8" y1="284.6" x2="177.8" y2="301.0" stroke="#231f20" stroke-width="1.0" />
<text x="55.7" y="304.0" font-size="9" text-anchor="middle" font-weight="normal" fill="#231f20" >Delay</text>
<text x="57.3" y="315.0" font-size="9" text-anchor="middle" font-weight="normal" fill="#231f20" >(T17: 3.5–4.5 s)</text>
<text x="57.3" y="326.0" font-size="9" text-anchor="middle" font-weight="normal" fill="#231f20" >(T18: 1.5–2.5 s)</text>
<text x="139.4" y="309.0" font-size="9" text-anchor="middle" font-weight="normal" fill="#231f20" >2.5 s</text>
<text x="221.4" y="309.0" font-size="9" text-anchor="middle" font-weight="normal" fill="#231f20" >2.5 s</text>
<text x="22.5" y="382.0" font-size="15" text-anchor="start" font-weight="bold" fill="#000" stroke="#000" stroke-width="0.5">d</text>
<text x="73.0" y="381.9" font-size="9.8" text-anchor="start" font-weight="normal" fill="#231f20" textLength="20.6" lengthAdjust="spacingAndGlyphs" >Rest</text>
<text x="171.6" y="381.5" font-size="9.8" text-anchor="start" font-weight="normal" fill="#231f20" textLength="73.7" lengthAdjust="spacingAndGlyphs" >Extend upward</text>
<text x="48.0" y="479.4" font-size="9.8" text-anchor="start" font-weight="normal" fill="#231f20" textLength="93.5" lengthAdjust="spacingAndGlyphs" >Straight downward</text>
<text x="184.7" y="479.2" font-size="9.8" text-anchor="start" font-weight="normal" fill="#231f20" textLength="48.6" lengthAdjust="spacingAndGlyphs" >In to palm</text>
<g transform="translate(15,365) scale(0.14335)" fill="none" stroke="#1a1a1a" stroke-width="9.0" stroke-linecap="round" stroke-linejoin="round">
<path d="M280,245 C360,220 440,200 495,205 C560,225 680,255 785,268" stroke-width="10"/>
<path d="M280,245 C240,280 200,350 182,410 C172,445 185,468 205,462 C225,455 240,400 262,372 C275,355 290,335 305,325"/>
<path d="M240,385 C225,420 210,470 220,495 C235,510 255,500 265,480 C280,440 300,400 330,380"/>
<path d="M300,400 C280,440 265,490 275,515 C290,525 305,515 320,490 C340,455 370,430 400,420"/>
<path d="M350,430 C345,455 345,470 365,465 C390,455 420,430 470,410 C500,400 520,395 545,405"/>
<path d="M300,320 C330,330 360,325 400,310"/>
<path d="M400,285 C410,310 430,335 470,345"/>
<path d="M330,360 C370,350 410,345 445,355"/>
<path d="M495,300 C510,340 530,380 550,430"/>
<path d="M560,430 C500,450 430,480 390,505 C355,525 350,560 370,585 C385,600 410,600 440,590 C520,565 650,540 790,510" stroke-width="9"/>
<path d="M375,525 C365,550 375,580 400,590"/>
<path d="M460,510 C470,530 475,545 470,560"/>
<path d="M490,500 C500,520 505,535 500,550"/>
<path d="M515,495 C525,510 530,525 525,540"/>
<path d="M550,430 C570,400 600,380 650,360"/>
<path d="M570,350 C570,380 565,400 560,420"/>
<path d="M240,320 C260,330 275,325 290,310"/>
<path d="M250,370 C270,380 285,380 300,370"/>
</g>
<g transform="translate(140,365) scale(0.13761)" fill="none" stroke="#1a1a1a" stroke-width="9.0" stroke-linecap="round" stroke-linejoin="round">
<path d="M65,120 C150,150 250,200 340,235 C450,275 560,300 660,330 C700,335 730,330 765,320" stroke-width="11"/>
<path d="M65,120 C45,140 55,185 130,215 C200,240 250,270 300,295 C320,300 330,320 320,340"/>
<path d="M140,180 C150,195 155,205 150,215"/>
<path d="M210,200 C220,215 225,230 215,245"/>
<path d="M240,200 C245,210 250,220 245,230"/>
<path d="M300,300 C240,305 200,320 180,340 C150,380 135,450 130,520 C140,540 170,535 180,520 C200,470 215,430 240,400"/>
<path d="M240,400 C250,380 280,370 320,375"/>
<path d="M200,470 C195,500 185,530 205,545 C230,550 250,520 270,480 C290,450 330,440 380,445"/>
<path d="M270,480 C260,495 265,505 280,500 C320,480 380,460 430,450"/>
<path d="M320,340 C360,360 400,380 430,420"/>
<path d="M400,350 C420,380 440,400 460,440"/>
<path d="M470,450 C410,470 330,500 290,530 C255,560 255,600 280,620 C300,635 340,630 380,620 C460,600 560,570 660,540" stroke-width="9"/>
<path d="M270,560 C265,590 275,615 300,625"/>
<path d="M350,530 C360,550 365,570 360,590"/>
<path d="M375,525 C385,545 390,560 385,580"/>
<path d="M400,520 C410,535 415,550 410,570"/>
<path d="M470,400 C490,420 500,440 520,420 C530,400 540,390 545,385"/>
</g>
<g transform="translate(15,460) scale(0.14335)" fill="none" stroke="#1a1a1a" stroke-width="9.0" stroke-linecap="round" stroke-linejoin="round">
<path d="M310,205 C400,200 480,200 545,200 C620,210 700,290 850,318" stroke-width="11"/>
<path d="M310,205 C270,250 230,290 200,340 C180,380 175,410 200,415 C230,420 250,380 280,350 C310,320 330,300 420,290"/>
<path d="M270,350 C240,390 220,420 230,445 C250,455 270,440 290,410 C310,380 340,360 400,350"/>
<path d="M545,200 C500,230 440,290 400,340 C370,380 340,440 330,500 C325,540 335,560 355,555 C380,545 395,520 405,480 C420,430 450,400 490,380" stroke-width="9"/>
<path d="M300,380 C330,370 370,365 410,370"/>
<path d="M510,300 C530,330 550,360 580,380"/>
<path d="M520,360 C540,390 570,410 600,420"/>
<path d="M620,410 C560,430 500,460 460,490 C430,515 435,550 460,560 C480,568 520,560 560,550 C640,530 720,500 790,480" stroke-width="9"/>
<path d="M450,505 C445,530 455,555 480,560"/>
<path d="M520,480 C530,500 535,515 530,530"/>
<path d="M545,475 C555,490 560,505 555,520"/>
<path d="M565,470 C575,485 580,500 575,515"/>
<path d="M340,290 C345,310 350,320 345,330"/>
<path d="M380,340 C395,350 405,360 400,375"/>
</g>
<g transform="translate(140,460) scale(0.13761)" fill="none" stroke="#1a1a1a" stroke-width="9.0" stroke-linecap="round" stroke-linejoin="round">
<path d="M270,370 C300,280 370,200 430,185 C500,180 560,210 620,235 C680,255 730,245 790,230" stroke-width="10"/>
<path d="M310,260 C270,265 245,280 230,310 C205,370 190,440 195,490 C205,505 230,500 240,490 C255,450 265,420 280,400"/>
<path d="M280,400 C265,440 240,490 245,505 C260,520 290,500 300,480 C310,460 320,440 330,430"/>
<path d="M270,370 C285,400 320,420 360,430 C400,440 450,440 490,425 C500,410 490,380 470,360 C440,340 400,330 350,350"/>
<path d="M400,300 C410,330 420,345 440,350"/>
<path d="M440,290 C445,320 445,335 460,340"/>
<path d="M340,355 C380,345 420,350 460,370 C480,380 490,395 495,420" stroke-width="12"/>
<path d="M420,360 C450,365 480,385 492,415 C470,400 445,380 420,360Z" stroke-width="14"/>
<path d="M400,350 C410,330 420,300 430,275"/>
<path d="M450,330 C450,310 455,290 460,275"/>
<path d="M520,440 C460,460 390,490 350,520 C320,545 320,580 345,595 C370,605 410,600 450,590 C540,565 660,530 760,505" stroke-width="9"/>
<path d="M335,540 C330,565 340,590 365,598"/>
<path d="M430,500 C440,520 445,540 440,560"/>
<path d="M455,495 C465,515 470,530 465,550"/>
<path d="M480,490 C490,505 495,520 490,540"/>
<path d="M520,330 C530,360 530,390 520,420"/>
<path d="M540,350 C545,380 540,400 520,430"/>
<path d="M320,430 C330,445 350,455 370,450"/>
</g>
<text x="266.5" y="218.0" font-size="15" text-anchor="start" font-weight="bold" fill="#000" stroke="#000" stroke-width="0.5">e</text>
<text x="404.9" y="218.3" font-size="10.5" text-anchor="middle" font-weight="normal" fill="#231f20" textLength="131.5" lengthAdjust="spacingAndGlyphs" >Explained variance: 31.83%</text>
<rect x="311.8" y="229.6" width="18.4" height="116.6" fill="#e6e6e6" />
<line x1="330.2" y1="229.6" x2="330.2" y2="346.2" stroke="#9a9a9a" stroke-width="0.6" stroke-dasharray="1.5,1.5"/>
<line x1="396.1" y1="229.6" x2="396.1" y2="346.2" stroke="#9a9a9a" stroke-width="0.6" stroke-dasharray="1.5,1.5"/>
<line x1="443.2" y1="229.6" x2="443.2" y2="346.2" stroke="#9a9a9a" stroke-width="0.6" stroke-dasharray="1.5,1.5"/>
<line x1="490.4" y1="229.6" x2="490.4" y2="346.2" stroke="#9a9a9a" stroke-width="0.6" stroke-dasharray="1.5,1.5"/>
<text x="321.3" y="230.2" font-size="6.3" text-anchor="middle" font-weight="normal" fill="#333" >Delay</text>
<text x="389.0" y="233.2" font-size="9" text-anchor="middle" font-weight="normal" fill="#333" >Go</text>
<text x="422.8" y="233.2" font-size="9" text-anchor="middle" font-weight="normal" fill="#333" >Trial end</text>
<text x="474.3" y="233.2" font-size="9" text-anchor="middle" font-weight="normal" fill="#333" >ITI end</text>
<text x="277.5" y="280.5" font-size="10" text-anchor="middle" font-weight="normal" fill="#231f20" >T17</text>
<text x="277.0" y="292.5" font-size="10" text-anchor="middle" font-weight="normal" fill="#231f20" >PC1</text>
<polyline points="311.3,340 313.4,340.5 315.5,340.7 317.6,340.5 319.7,340.2 321.8,339.7 323.9,339.2 326,338.8 328.2,338.6 330.3,338.5 332.4,338.5 334.5,338.5 336.6,338.2 338.7,337.5 340.8,336.4 342.9,335.3 345,334.4 347.1,333.9 349.2,333.7 351.3,333.7 353.4,333.6 355.5,333.6 357.6,333.9 359.8,334.5 361.9,335.3 364,336.3 366.1,337.2 368.2,337.9 370.3,338.1 372.4,337.8 374.5,337 376.6,335.8 378.7,334.5 380.8,333.1 382.9,331.8 385,330.9 387.1,330.2 389.3,329.7 391.4,329.4 393.5,329 395.6,328.3 397.7,327 399.8,325.5 401.9,323.8 404,322.4 406.1,321.5 408.2,321.3 410.3,321.7 412.4,322.5 414.5,323.7 416.6,325 418.7,326.2 420.9,327.5 423,328.8 425.1,329.9 427.2,330.9 429.3,331.7 431.4,332.2 433.5,332.5 435.6,332.8 437.7,333 439.8,333.1 441.9,333.3 444,333.4 446.1,333.2 448.2,332.8 450.3,332.4 452.5,332 454.6,331.8 456.7,331.7 458.8,331.5 460.9,331.2 463,330.9 465.1,330.7 467.2,330.6 469.3,330.6 471.4,330.6 473.5,331 475.6,331.5 477.7,332.3 479.8,333.1 481.9,333.8 484.1,334.4 486.2,334.8 488.3,335 490.4,335.1" fill="none" stroke="#a0522d" stroke-width="1.35" opacity="0.95" stroke-linejoin="round"/>
<polyline points="311.3,329.7 313.4,329.7 315.5,329.7 317.6,329.7 319.7,329.8 321.8,329.9 323.9,330.1 326,330.2 328.2,330.3 330.3,330.4 332.4,330.4 334.5,330.2 336.6,329.9 338.7,329.2 340.8,328.5 342.9,327.6 345,326.4 347.1,325.1 349.2,323.9 351.3,323 353.4,322.9 355.5,323.6 357.6,324.9 359.8,326.4 361.9,327.7 364,328.6 366.1,329 368.2,328.9 370.3,328.5 372.4,327.8 374.5,327.1 376.6,326.3 378.7,325.6 380.8,324.9 382.9,324.2 385,323.5 387.1,322.7 389.3,321.8 391.4,320.5 393.5,318.6 395.6,316.5 397.7,314.5 399.8,313 401.9,312.3 404,312.6 406.1,313.6 408.2,315.1 410.3,316.8 412.4,318.4 414.5,319.6 416.6,320.7 418.7,321.6 420.9,322.3 423,322.7 425.1,322.9 427.2,323 429.3,323.2 431.4,323.5 433.5,323.9 435.6,324.3 437.7,324.6 439.8,324.6 441.9,324.2 444,323.4 446.1,322.5 448.2,321.7 450.3,321.1 452.5,320.8 454.6,320.7 456.7,320.8 458.8,321 460.9,321.3 463,321.7 465.1,322.2 467.2,322.7 469.3,323.4 471.4,324.2 473.5,325.2 475.6,326.2 477.7,327.3 479.8,328.4 481.9,329.3 484.1,330 486.2,330.4 488.3,330.6 490.4,330.3" fill="none" stroke="#d2691e" stroke-width="1.35" opacity="0.95" stroke-linejoin="round"/>
<polyline points="311.3,329.6 313.4,329 315.5,328.5 317.6,328.4 319.7,328.5 321.8,328.9 323.9,329.6 326,330.4 328.2,331.2 330.3,332 332.4,332.4 334.5,332.6 336.6,332.3 338.7,331.7 340.8,330.9 342.9,329.9 345,329 347.1,328.1 349.2,327.3 351.3,326.8 353.4,326.4 355.5,326.2 357.6,326 359.8,325.9 361.9,325.6 364,325.3 366.1,324.9 368.2,324.5 370.3,324.1 372.4,323.9 374.5,323.9 376.6,324.1 378.7,324.5 380.8,325.1 382.9,325.8 385,326.5 387.1,326.9 389.3,327 391.4,326.8 393.5,325.8 395.6,324.4 397.7,322.6 399.8,320.9 401.9,319.6 404,319 406.1,319 408.2,319.5 410.3,320.5 412.4,321.5 414.5,322.4 416.6,323.1 418.7,323.7 420.9,324.2 423,324.6 425.1,324.8 427.2,325 429.3,325.2 431.4,325.5 433.5,326 435.6,326.6 437.7,327.3 439.8,328.1 441.9,328.8 444,329.1 446.1,328.9 448.2,328.2 450.3,327.1 452.5,326 454.6,324.9 456.7,324.1 458.8,323.7 460.9,323.8 463,324.2 465.1,324.9 467.2,325.8 469.3,326.6 471.4,327.5 473.5,328.3 475.6,329 477.7,329.4 479.8,329.7 481.9,329.9 484.1,330 486.2,330.1 488.3,330.1 490.4,330.1" fill="none" stroke="#cd853f" stroke-width="1.35" opacity="0.95" stroke-linejoin="round"/>
<polyline points="311.3,339.4 313.4,338.9 315.5,338.4 317.6,337.9 319.7,337.3 321.8,336.8 323.9,336.5 326,336.4 328.2,336.5 330.3,336.8 332.4,337.3 334.5,337.9 336.6,338.4 338.7,338.6 340.8,338.9 342.9,339 345,338.7 347.1,338.2 349.2,337.5 351.3,336.7 353.4,335.7 355.5,334.8 357.6,333.9 359.8,333.1 361.9,332.3 364,331.6 366.1,330.9 368.2,330.3 370.3,329.8 372.4,329.3 374.5,328.7 376.6,328.1 378.7,327.5 380.8,326.7 382.9,325.9 385,325.1 387.1,324.4 389.3,323.8 391.4,322.8 393.5,321.6 395.6,320.4 397.7,319.5 399.8,319.1 401.9,319.6 404,320.9 406.1,322.6 408.2,324.2 410.3,325.4 412.4,325.8 414.5,325.5 416.6,325 418.7,324.5 420.9,324.1 423,324.3 425.1,324.7 427.2,325.4 429.3,326.3 431.4,327.2 433.5,328 435.6,328.6 437.7,329.1 439.8,329.1 441.9,328.6 444,327.9 446.1,327.3 448.2,326.9 450.3,327.1 452.5,327.5 454.6,328.1 456.7,328.8 458.8,329.7 460.9,330.8 463,331.9 465.1,332.9 467.2,333.6 469.3,334.1 471.4,334.5 473.5,334.7 475.6,334.7 477.7,334.6 479.8,334.5 481.9,334.4 484.1,334.4 486.2,334.6 488.3,334.8 490.4,335.1" fill="none" stroke="#c00000" stroke-width="1.35" opacity="0.95" stroke-linejoin="round"/>
<polyline points="311.3,340.9 313.4,340.6 315.5,340 317.6,339.3 319.7,338.6 321.8,337.9 323.9,337.3 326,337 328.2,336.9 330.3,337 332.4,337.3 334.5,337.7 336.6,338 338.7,338.1 340.8,337.9 342.9,337.7 345,337.3 347.1,336.8 349.2,336.2 351.3,335.6 353.4,335 355.5,334.5 357.6,334.2 359.8,333.9 361.9,333.5 364,333.1 366.1,332.4 368.2,331.5 370.3,330.4 372.4,329 374.5,327.4 376.6,325.7 378.7,324.2 380.8,322.7 382.9,321.5 385,320.7 387.1,320.3 389.3,320 391.4,319.9 393.5,319.8 395.6,319.2 397.7,317.5 399.8,315.4 401.9,313.2 404,311.6 406.1,311 408.2,311.8 410.3,313.3 412.4,315.2 414.5,317.1 416.6,318.6 418.7,319.6 420.9,320.6 423,321.6 425.1,322.4 427.2,323.1 429.3,323.5 431.4,323.8 433.5,324 435.6,324.2 437.7,324.4 439.8,324.6 441.9,324.8 444,324.9 446.1,324.6 448.2,323.9 450.3,323.3 452.5,322.9 454.6,323.2 456.7,324 458.8,325.1 460.9,326.2 463,327.5 465.1,329.1 467.2,331 469.3,332.8 471.4,333.4 473.5,332.9 475.6,332 477.7,331.6 479.8,331.8 481.9,332.4 484.1,333.1 486.2,333.7 488.3,334.2 490.4,334.5" fill="none" stroke="#f80000" stroke-width="1.35" opacity="0.95" stroke-linejoin="round"/>
<polyline points="311.3,331.1 313.4,331.1 315.5,331 317.6,330.9 319.7,330.7 321.8,330.6 323.9,330.6 326,330.6 328.2,330.7 330.3,330.9 332.4,331 334.5,331.2 336.6,331.2 338.7,331 340.8,330.8 342.9,330.3 345,329.7 347.1,328.9 349.2,328.2 351.3,327.6 353.4,327.3 355.5,327.3 357.6,327.5 359.8,327.7 361.9,327.6 364,327.3 366.1,326.9 368.2,326.7 370.3,326.8 372.4,327.1 374.5,327.5 376.6,327.8 378.7,328 380.8,328.1 382.9,328 385,327.7 387.1,327.4 389.3,326.9 391.4,326.3 393.5,325.5 395.6,324.7 397.7,324.1 399.8,323.8 401.9,323.9 404,324.4 406.1,325.1 408.2,325.7 410.3,325.9 412.4,325.5 414.5,324.5 416.6,323.8 418.7,323.6 420.9,323.5 423,323.4 425.1,323.3 427.2,323.2 429.3,323.4 431.4,323.8 433.5,324.5 435.6,325.2 437.7,325.9 439.8,326.5 441.9,326.8 444,326.8 446.1,326.6 448.2,326.4 450.3,326.2 452.5,326.1 454.6,326 456.7,325.9 458.8,325.8 460.9,325.7 463,325.5 465.1,325.2 467.2,324.8 469.3,324.5 471.4,324.3 473.5,324.4 475.6,324.7 477.7,325.3 479.8,326 481.9,326.7 484.1,327.3 486.2,327.7 488.3,327.8 490.4,327.8" fill="none" stroke="#f8a0a0" stroke-width="1.35" opacity="0.95" stroke-linejoin="round"/>
<polyline points="311.3,332.9 313.4,332.4 315.5,331.9 317.6,331.2 319.7,330.6 321.8,330.1 323.9,329.8 326,329.6 328.2,329.5 330.3,329.6 332.4,329.6 334.5,329.5 336.6,329.2 338.7,328.6 340.8,327.9 342.9,327.1 345,326.2 347.1,325.3 349.2,324.5 351.3,323.8 353.4,323.3 355.5,323 357.6,322.8 359.8,322.8 361.9,322.8 364,322.7 366.1,322.4 368.2,321.8 370.3,321 372.4,319.9 374.5,318.5 376.6,317 378.7,315.5 380.8,314.2 382.9,313.1 385,312.3 387.1,311.6 389.3,311 391.4,310.1 393.5,308.4 395.6,306.3 397.7,304.2 399.8,302.6 401.9,301.9 404,302.4 406.1,303.8 408.2,305.8 410.3,308 412.4,310.1 414.5,311.6 416.6,313 418.7,314.4 420.9,315.8 423,316.9 425.1,317.5 427.2,317.7 429.3,317.6 431.4,317.3 433.5,317 435.6,316.7 437.7,316.6 439.8,316.5 441.9,316.1 444,315.6 446.1,315.1 448.2,315.1 450.3,315.8 452.5,316.9 454.6,318.1 456.7,319 458.8,319.6 460.9,320 463,320.3 465.1,320.7 467.2,320.9 469.3,321.4 471.4,322.3 473.5,323.7 475.6,325.7 477.7,327.9 479.8,330.1 481.9,331.9 484.1,333.1 486.2,333.5 488.3,333.1 490.4,332" fill="none" stroke="#c86400" stroke-width="1.35" opacity="0.95" stroke-linejoin="round"/>
<polyline points="311.3,335.3 313.4,334.6 315.5,333.9 317.6,333.2 319.7,332.5 321.8,332 323.9,331.7 326,331.5 328.2,331.5 330.3,331.6 332.4,331.9 334.5,332.1 336.6,332.4 338.7,332.5 340.8,332.4 342.9,332.4 345,332.2 347.1,331.9 349.2,331.7 351.3,331.6 353.4,331.7 355.5,331.9 357.6,332.1 359.8,331.9 361.9,331.2 364,330.1 366.1,328.9 368.2,327.9 370.3,327.1 372.4,326.5 374.5,326 376.6,325.5 378.7,324.9 380.8,324.1 382.9,323.2 385,322.3 387.1,321.4 389.3,320.4 391.4,319.4 393.5,318.5 395.6,317.1 397.7,315.1 399.8,313 401.9,311.2 404,310 406.1,309.9 408.2,310.8 410.3,312.4 412.4,314.3 414.5,316.3 416.6,317.8 418.7,318.8 420.9,319.7 423,320.7 425.1,321.6 427.2,322.8 429.3,324 431.4,325.2 433.5,326.5 435.6,327.5 437.7,327.8 439.8,327.6 441.9,326.8 444,325.5 446.1,323.7 448.2,321.8 450.3,320 452.5,318.7 454.6,318.2 456.7,318.2 458.8,318.6 460.9,319.1 463,319.8 465.1,320.5 467.2,321.3 469.3,322 471.4,322.4 473.5,323 475.6,323.9 477.7,325 479.8,326.2 481.9,327.6 484.1,329 486.2,330.4 488.3,331.7 490.4,332.8" fill="none" stroke="#f8a040" stroke-width="1.35" opacity="0.95" stroke-linejoin="round"/>
<polyline points="311.3,334.4 313.4,333.9 315.5,333.3 317.6,332.6 319.7,331.9 321.8,331.3 323.9,331 326,330.9 328.2,331.2 330.3,331.7 332.4,332.4 334.5,333.1 336.6,333.7 338.7,333.9 340.8,333.9 342.9,333.6 345,332.8 347.1,331.8 349.2,330.6 351.3,329.2 353.4,327.7 355.5,326.3 357.6,324.9 359.8,323.8 361.9,323.2 364,323 366.1,323.1 368.2,323.1 370.3,322.9 372.4,322.4 374.5,321.8 376.6,321.1 378.7,320.7 380.8,320.5 382.9,320.7 385,321.2 387.1,321.9 389.3,322.6 391.4,323 393.5,322.6 395.6,321.7 397.7,320.4 399.8,319.2 401.9,318.3 404,318.1 406.1,318.3 408.2,318.7 410.3,319 412.4,319.3 414.5,319.3 416.6,319.4 418.7,319.8 420.9,320.5 423,321.3 425.1,322.1 427.2,322.8 429.3,323.4 431.4,323.9 433.5,324.5 435.6,325.1 437.7,325.8 439.8,326.6 441.9,327 444,326.4 446.1,325.2 448.2,324 450.3,323.3 452.5,323.2 454.6,323.3 456.7,323.4 458.8,323.4 460.9,323.4 463,323.5 465.1,323.6 467.2,323.8 469.3,324.1 471.4,324.9 473.5,325.9 475.6,327.1 477.7,328.4 479.8,329.7 481.9,330.7 484.1,331.5 486.2,332 488.3,332.3 490.4,332.2" fill="none" stroke="#f8c8a0" stroke-width="1.35" opacity="0.95" stroke-linejoin="round"/>
<polyline points="311.3,334.2 313.4,334 315.5,333.9 317.6,333.8 319.7,333.8 321.8,333.9 323.9,334 326,334.1 328.2,334.2 330.3,334.3 332.4,334 334.5,333.6 336.6,332.7 338.7,331.1 340.8,329.7 342.9,328.1 345,326.4 347.1,324.8 349.2,323.3 351.3,322 353.4,321 355.5,320.4 357.6,320.1 359.8,320 361.9,319.9 364,319.8 366.1,319.5 368.2,319 370.3,318.3 372.4,317.3 374.5,315.8 376.6,313.4 378.7,310.1 380.8,306.3 382.9,303.3 385,302.2 387.1,302.8 389.3,303.5 391.4,302 393.5,298.6 395.6,294.7 397.7,291.1 399.8,288.8 401.9,288.5 404,290 406.1,292.6 408.2,295.6 410.3,298.5 412.4,300.4 414.5,301.7 416.6,303.5 418.7,305.5 420.9,307.8 423,309.9 425.1,311.7 427.2,313.1 429.3,314.6 431.4,315.7 433.5,316.2 435.6,316.2 437.7,315.4 439.8,313.7 441.9,310.9 444,307.7 446.1,304.9 448.2,303.1 450.3,302.7 452.5,302.9 454.6,303.3 456.7,303.9 458.8,304.8 460.9,306.6 463,309.4 465.1,312.8 467.2,316.1 469.3,319.2 471.4,321.9 473.5,324.2 475.6,326.4 477.7,328.5 479.8,330.6 481.9,332.6 484.1,334.2 486.2,335.4 488.3,335.7 490.4,335.3" fill="none" stroke="#00bb00" stroke-width="1.35" opacity="0.95" stroke-linejoin="round"/>
<polyline points="311.3,341.2 313.4,341 315.5,340.6 317.6,340.1 319.7,339.5 321.8,338.8 323.9,338.2 326,337.6 328.2,337.1 330.3,336.7 332.4,336.4 334.5,336.3 336.6,336.1 338.7,335.6 340.8,335.5 342.9,335.2 345,334.9 347.1,334.4 349.2,333.7 351.3,332.9 353.4,331.9 355.5,330.8 357.6,329.5 359.8,328.2 361.9,326.7 364,325.2 366.1,323.7 368.2,322.1 370.3,320.6 372.4,319.2 374.5,317.9 376.6,316.6 378.7,315.5 380.8,314.5 382.9,313.6 385,312.8 387.1,311.9 389.3,311.2 391.4,310.4 393.5,308.8 395.6,306.6 397.7,303.4 399.8,299.7 401.9,297.3 404,297.2 406.1,298.9 408.2,301.7 410.3,304.9 412.4,307.6 414.5,309.3 416.6,310.8 418.7,312.3 420.9,313.7 423,315 425.1,316 427.2,316.8 429.3,317.5 431.4,318.2 433.5,318.7 435.6,318.9 437.7,318.7 439.8,318 441.9,316.3 444,313.9 446.1,311.5 448.2,309.8 450.3,309.3 452.5,310 454.6,311.2 456.7,312.9 458.8,315 460.9,317.4 463,320.1 465.1,322.9 467.2,325.2 469.3,327 471.4,328.6 473.5,329.7 475.6,330.5 477.7,331.1 479.8,331.5 481.9,331.8 484.1,332 486.2,332.3 488.3,332.6 490.4,332.4" fill="none" stroke="#44ee44" stroke-width="1.35" opacity="0.95" stroke-linejoin="round"/>
<polyline points="311.3,336 313.4,336.5 315.5,336.8 317.6,336.9 319.7,336.8 321.8,336.6 323.9,336.3 326,335.9 328.2,335.6 330.3,335.3 332.4,335 334.5,334.9 336.6,334.7 338.7,334.2 340.8,333.7 342.9,333.2 345,332.4 347.1,331.4 349.2,330.2 351.3,328.8 353.4,327.3 355.5,325.7 357.6,324.3 359.8,322.9 361.9,321.5 364,319.9 366.1,318.2 368.2,316.6 370.3,315.4 372.4,314.9 374.5,315.3 376.6,316.3 378.7,317.4 380.8,318.1 382.9,318.3 385,318.1 387.1,317.5 389.3,316.7 391.4,315.8 393.5,314.6 395.6,312.3 397.7,309.5 399.8,306.7 401.9,304.5 404,303.3 406.1,303.7 408.2,305.3 410.3,307.5 412.4,309.7 414.5,311.5 416.6,312.3 418.7,312.4 420.9,312.4 423,312.2 425.1,311.9 427.2,311.7 429.3,311.6 431.4,311.9 433.5,312.7 435.6,313.6 437.7,314.3 439.8,314.7 441.9,314.5 444,313.7 446.1,312.1 448.2,310.4 450.3,309.2 452.5,308.9 454.6,309.7 456.7,311.1 458.8,312.8 460.9,314.6 463,316.5 465.1,318.5 467.2,320.4 469.3,322.2 471.4,323.7 473.5,325.3 475.6,326.7 477.7,327.9 479.8,328.7 481.9,329.3 484.1,329.7 486.2,330 488.3,330.3 490.4,330.5" fill="none" stroke="#a8f078" stroke-width="1.35" opacity="0.95" stroke-linejoin="round"/>
<polyline points="311.3,330.5 313.4,329.7 315.5,328.9 317.6,328.2 319.7,327.7 321.8,327.4 323.9,327.3 326,327.3 328.2,327.5 330.3,327.8 332.4,328 334.5,328.2 336.6,328.2 338.7,327.9 340.8,327.3 342.9,326.8 345,326.1 347.1,325.3 349.2,324.4 351.3,323.5 353.4,322.5 355.5,321.7 357.6,321.2 359.8,320.9 361.9,320.7 364,320.3 366.1,319.5 368.2,318.4 370.3,316.8 372.4,314.9 374.5,312.5 376.6,310.1 378.7,307.8 380.8,305.9 382.9,304.8 385,304.4 387.1,304.5 389.3,305 391.4,305.5 393.5,305.9 395.6,305.1 397.7,303.7 399.8,302 401.9,300.7 404,300.1 406.1,300.7 408.2,302.3 410.3,304.3 412.4,306.3 414.5,307.9 416.6,308.7 418.7,309 420.9,309.4 423,310 425.1,310.7 427.2,311.5 429.3,312.4 431.4,313.2 433.5,314.4 435.6,315.6 437.7,316.9 439.8,317.9 441.9,318.2 444,317.2 446.1,314.5 448.2,311 450.3,307.5 452.5,305.1 454.6,304.3 456.7,304.8 458.8,306.1 460.9,308 463,310.3 465.1,312.8 467.2,315.3 469.3,317.4 471.4,319.1 473.5,320.6 475.6,322 477.7,323.1 479.8,324.1 481.9,325 484.1,325.6 486.2,326.2 488.3,326.6 490.4,327" fill="none" stroke="#c8c800" stroke-width="1.35" opacity="0.95" stroke-linejoin="round"/>
<polyline points="311.3,329.4 313.4,329.1 315.5,328.8 317.6,328.8 319.7,329.1 321.8,329.6 323.9,330.4 326,331.3 328.2,332.2 330.3,332.9 332.4,333.3 334.5,333.4 336.6,333 338.7,331.9 340.8,330.7 342.9,329.5 345,328.1 347.1,326.8 349.2,325.6 351.3,324.5 353.4,323.6 355.5,322.6 357.6,321.7 359.8,320.7 361.9,319.5 364,318.2 366.1,317 368.2,316 370.3,315.5 372.4,315.5 374.5,315.7 376.6,315.7 378.7,315.1 380.8,313.9 382.9,312.4 385,310.6 387.1,308.9 389.3,307.2 391.4,304.9 393.5,301.2 395.6,296.8 397.7,292.6 399.8,289.3 401.9,287.9 404,288.8 406.1,291.3 408.2,294.8 410.3,298.5 412.4,301.5 414.5,303.2 416.6,304.3 418.7,305.1 420.9,305.6 423,306 425.1,306.3 427.2,306.7 429.3,307.6 431.4,309.1 433.5,310.9 435.6,312.9 437.7,314.4 439.8,315.1 441.9,314.2 444,311.7 446.1,308.6 448.2,305.6 450.3,303.7 452.5,303.4 454.6,304.1 456.7,305.7 458.8,307.9 460.9,310.6 463,313.5 465.1,316.3 467.2,318.4 469.3,320.2 471.4,321.8 473.5,323.1 475.6,324.1 477.7,324.9 479.8,325.4 481.9,325.8 484.1,326.3 486.2,326.8 488.3,327.3 490.4,327.4" fill="none" stroke="#f8f820" stroke-width="1.35" opacity="0.95" stroke-linejoin="round"/>
<polyline points="311.3,338.5 313.4,337.5 315.5,336.7 317.6,336.1 319.7,335.9 321.8,335.9 323.9,336.1 326,336.5 328.2,337 330.3,337.4 332.4,337.6 334.5,337.5 336.6,337.1 338.7,336.2 340.8,335.4 342.9,334.5 345,333.5 347.1,332.4 349.2,331.4 351.3,330.4 353.4,329.5 355.5,328.5 357.6,327.4 359.8,326.2 361.9,324.8 364,323.2 366.1,321.5 368.2,319.9 370.3,318.4 372.4,317.1 374.5,316.1 376.6,315.4 378.7,315.2 380.8,315.2 382.9,315.4 385,315.6 387.1,315.4 389.3,314.8 391.4,312.7 393.5,309.1 395.6,304.7 397.7,300.2 399.8,296.5 401.9,294.9 404,295.9 406.1,299.3 408.2,304.6 410.3,310.4 412.4,315.5 414.5,319 416.6,321.5 418.7,322.6 420.9,322.3 423,321.2 425.1,320 427.2,319.2 429.3,319.4 431.4,320.1 433.5,321.1 435.6,322.2 437.7,323.4 439.8,324.6 441.9,324.8 444,323.4 446.1,320.6 448.2,317.7 450.3,316.1 452.5,315.7 454.6,315.9 456.7,316.5 458.8,317.4 460.9,318.6 463,320 465.1,321.6 467.2,322.9 469.3,324.5 471.4,326.4 473.5,328.4 475.6,330.3 477.7,332 479.8,333.3 481.9,334.4 484.1,335.1 486.2,335.4 488.3,335.4 490.4,334.9" fill="none" stroke="#f8f8a0" stroke-width="1.35" opacity="0.95" stroke-linejoin="round"/>
<polyline points="311.3,332 313.4,332.1 315.5,332.1 317.6,331.9 319.7,331.6 321.8,331 323.9,330.3 326,329.5 328.2,328.6 330.3,327.8 332.4,327 334.5,326.3 336.6,325.5 338.7,324.5 340.8,324 342.9,323.5 345,322.9 347.1,322.2 349.2,321.3 351.3,320.3 353.4,319.1 355.5,317.6 357.6,316 359.8,314.1 361.9,312.2 364,310.3 366.1,308.6 368.2,307.4 370.3,306.6 372.4,306.4 374.5,306.5 376.6,306.6 378.7,306.8 380.8,306.8 382.9,306.3 385,305.3 387.1,303.7 389.3,301.5 391.4,297.4 393.5,292.3 395.6,287.1 397.7,282.9 399.8,280.4 401.9,280.4 404,282.5 406.1,286.2 408.2,290.6 410.3,294.9 412.4,298.4 414.5,301.3 416.6,304.3 418.7,307 420.9,309.4 423,311.3 425.1,312.5 427.2,313.1 429.3,313.5 431.4,313.5 433.5,313.3 435.6,312.9 437.7,312.1 439.8,310.5 441.9,307.9 444,304.5 446.1,301 448.2,298.2 450.3,297.4 452.5,298.2 454.6,300.3 456.7,302.9 458.8,305.4 460.9,307.5 463,309.3 465.1,310.7 467.2,311.9 469.3,313.3 471.4,314.5 473.5,315 475.6,314.8 477.7,315 479.8,317 481.9,320.6 484.1,324.1 486.2,326.4 488.3,327.3 490.4,327.5" fill="none" stroke="#008b8b" stroke-width="1.35" opacity="0.95" stroke-linejoin="round"/>
<polyline points="311.3,331.9 313.4,332.5 315.5,333 317.6,333.1 319.7,333 321.8,332.7 323.9,332.1 326,331.4 328.2,330.7 330.3,329.9 332.4,329.2 334.5,328.6 336.6,328.1 338.7,327.4 340.8,326.8 342.9,326.5 345,326 347.1,325.5 349.2,324.9 351.3,324.2 353.4,323.4 355.5,322.5 357.6,321.5 359.8,320.6 361.9,319.6 364,318.6 366.1,317.8 368.2,317.3 370.3,317.5 372.4,318.7 374.5,320 376.6,319.8 378.7,317.6 380.8,314.6 382.9,312.3 385,310.7 387.1,309.4 389.3,307.9 391.4,305.8 393.5,302.8 395.6,298.6 397.7,294.1 399.8,290.2 401.9,287.7 404,287 406.1,288.3 408.2,290.8 410.3,293.9 412.4,297 414.5,300 416.6,302.2 418.7,304.2 420.9,305.8 423,306.9 425.1,307.5 427.2,307.7 429.3,307.9 431.4,308.2 433.5,308.8 435.6,309.5 437.7,310.1 439.8,310.5 441.9,310.6 444,309.7 446.1,308.3 448.2,306.7 450.3,305.6 452.5,305.4 454.6,306.3 456.7,307.6 458.8,309.3 460.9,311.2 463,313.3 465.1,315.6 467.2,318.4 469.3,321.6 471.4,324.7 473.5,326.6 475.6,326.5 477.7,325.6 479.8,324.9 481.9,325 484.1,325.4 486.2,325.9 488.3,326.2 490.4,326.3" fill="none" stroke="#00e5ee" stroke-width="1.35" opacity="0.95" stroke-linejoin="round"/>
<polyline points="311.3,331.8 313.4,331.8 315.5,331.9 317.6,332 319.7,332.2 321.8,332.3 323.9,332.4 326,332.3 328.2,332.1 330.3,331.8 332.4,331.4 334.5,330.9 336.6,329.9 338.7,327.9 340.8,325.2 342.9,322.1 345,319.4 347.1,318 349.2,318.1 351.3,319 353.4,319.9 355.5,320.2 357.6,320 359.8,319.3 361.9,318.3 364,316.9 366.1,315.2 368.2,313.3 370.3,311.3 372.4,309.2 374.5,307.3 376.6,305.6 378.7,304 380.8,302.8 382.9,301.9 385,301.1 387.1,300.3 389.3,299.4 391.4,298 393.5,295.5 395.6,291.1 397.7,286 399.8,281.1 401.9,277.5 404,276.1 406.1,277.4 408.2,280.7 410.3,284.9 412.4,289.4 414.5,293.2 416.6,295.5 418.7,297.5 420.9,299.6 423,301.6 425.1,303.5 427.2,305.1 429.3,306.3 431.4,307.1 433.5,307.3 435.6,306.8 437.7,305.8 439.8,304.5 441.9,303.3 444,301.6 446.1,299.7 448.2,298.1 450.3,297.1 452.5,297.4 454.6,298.7 456.7,300.4 458.8,302.3 460.9,304.3 463,306.3 465.1,308.2 467.2,309.9 469.3,311 471.4,312.2 473.5,313.8 475.6,315.6 477.7,317.6 479.8,319.6 481.9,321.7 484.1,323.6 486.2,325.3 488.3,326.8 490.4,327.8" fill="none" stroke="#a8f4f8" stroke-width="1.35" opacity="0.95" stroke-linejoin="round"/>
<polyline points="311.3,340.7 313.4,340.1 315.5,339.3 317.6,338.5 319.7,337.6 321.8,336.7 323.9,336 326,335.4 328.2,334.9 330.3,334.6 332.4,334.4 334.5,334.3 336.6,334.2 338.7,333.6 340.8,332.7 342.9,332.1 345,331.2 347.1,330.1 349.2,328.6 351.3,327 353.4,325.1 355.5,323.2 357.6,321.2 359.8,319.2 361.9,317.3 364,315.4 366.1,313.5 368.2,311.7 370.3,310 372.4,308.3 374.5,306.5 376.6,304.7 378.7,302.7 380.8,300.4 382.9,298.2 385,296.1 387.1,294.1 389.3,292.3 391.4,290.5 393.5,288.7 395.6,285.4 397.7,280 399.8,273.8 401.9,268.1 404,264.1 406.1,263.2 408.2,265.7 410.3,270.5 412.4,276.3 414.5,282 416.6,286.4 418.7,288.6 420.9,290.4 423,291.9 425.1,293.1 427.2,294.2 429.3,295.3 431.4,296.3 433.5,297.8 435.6,299.6 437.7,301.3 439.8,302.8 441.9,303.7 444,303.5 446.1,301.5 448.2,298.2 450.3,294.7 452.5,292.1 454.6,291.3 456.7,292.4 458.8,294.4 460.9,297 463,300.1 465.1,303.4 467.2,306.6 469.3,309.5 471.4,311.4 473.5,312.9 475.6,313.8 477.7,314.1 479.8,315.1 481.9,318.4 484.1,323.2 486.2,327.6 488.3,330.5 490.4,332.1" fill="none" stroke="#000080" stroke-width="1.35" opacity="0.95" stroke-linejoin="round"/>
<polyline points="311.3,331.2 313.4,330.8 315.5,330.5 317.6,330.4 319.7,330.5 321.8,330.8 323.9,331.3 326,332 328.2,332.7 330.3,333.4 332.4,333.9 334.5,334.1 336.6,333.7 338.7,332.3 340.8,331.1 342.9,329.3 345,327.1 347.1,324.5 349.2,321.7 351.3,318.9 353.4,316.1 355.5,313.5 357.6,311.2 359.8,309.2 361.9,307.6 364,306.2 366.1,305 368.2,304.1 370.3,303.3 372.4,302.5 374.5,301.6 376.6,300.7 378.7,299.8 380.8,298.8 382.9,297.6 385,296.3 387.1,294.8 389.3,292.9 391.4,289 393.5,284 395.6,278.7 397.7,273.9 399.8,270.7 401.9,270 404,271.6 406.1,274.7 408.2,278.5 410.3,282 412.4,283.9 414.5,285.1 416.6,286.3 418.7,287.7 420.9,289.4 423,291.6 425.1,294 427.2,296.8 429.3,299.8 431.4,302.6 433.5,304.7 435.6,306 437.7,306.3 439.8,304.8 441.9,301.7 444,297.9 446.1,294.3 448.2,292.1 450.3,291.8 452.5,292.7 454.6,294.7 456.7,297.6 458.8,301.1 460.9,304.5 463,307.3 465.1,309.2 467.2,311.2 469.3,314 471.4,317 473.5,319.4 475.6,321.3 477.7,322.9 479.8,324.5 481.9,326.1 484.1,327.4 486.2,328.3 488.3,328.1 490.4,327.4" fill="none" stroke="#0000f0" stroke-width="1.35" opacity="0.95" stroke-linejoin="round"/>
<polyline points="311.3,336.2 313.4,336.2 315.5,336.3 317.6,336.3 319.7,336.5 321.8,336.6 323.9,336.8 326,336.9 328.2,337 330.3,336.9 332.4,336.6 334.5,336.2 336.6,335.3 338.7,333.8 340.8,332.4 342.9,331.1 345,329.8 347.1,328.7 349.2,327.7 351.3,326.5 353.4,324.8 355.5,322.6 357.6,320.2 359.8,317.9 361.9,315.9 364,314.5 366.1,313.4 368.2,312.6 370.3,312 372.4,311.3 374.5,310.6 376.6,309.7 378.7,308.7 380.8,307.6 382.9,306.5 385,305.2 387.1,303.7 389.3,301.9 391.4,299.7 393.5,295.8 395.6,290.6 397.7,285.2 399.8,280.6 401.9,277.6 404,277 406.1,278.5 408.2,281 410.3,283.7 412.4,286.3 414.5,288.1 416.6,289.6 418.7,291.8 420.9,294.3 423,296.8 425.1,299 427.2,300.8 429.3,302.6 431.4,304.9 433.5,307.2 435.6,309.2 437.7,310.6 439.8,311.1 441.9,310.5 444,308.5 446.1,305.8 448.2,303.3 450.3,301.7 452.5,301.6 454.6,302.4 456.7,303.9 458.8,305.7 460.9,307.7 463,309.8 465.1,311.8 467.2,313.4 469.3,314.5 471.4,315.8 473.5,317.3 475.6,318.9 477.7,320.7 479.8,322.5 481.9,324.2 484.1,325.9 486.2,327.3 488.3,328.5 490.4,329.1" fill="none" stroke="#a4c8f8" stroke-width="1.35" opacity="0.95" stroke-linejoin="round"/>
<polyline points="311.3,332.2 313.4,332.8 315.5,333.3 317.6,333.7 319.7,333.8 321.8,333.6 323.9,333.1 326,332.3 328.2,331.3 330.3,330.3 332.4,329.6 334.5,329.2 336.6,329.1 338.7,328.5 340.8,328.3 342.9,327.8 345,326.6 347.1,324.6 349.2,322 351.3,319.1 353.4,315.9 355.5,312.9 357.6,310 359.8,307.4 361.9,305.1 364,302.9 366.1,300.8 368.2,298.7 370.3,296.6 372.4,294.4 374.5,292 376.6,289.3 378.7,286.7 380.8,284.2 382.9,281.9 385,279.5 387.1,277.1 389.3,274.4 391.4,270.4 393.5,263.5 395.6,255.6 397.7,248.1 399.8,242.6 401.9,240.5 404,242.6 406.1,247.7 408.2,254.3 410.3,261.2 412.4,266.9 414.5,269.7 416.6,271.2 418.7,271.3 420.9,270.5 423,270.5 425.1,273.1 427.2,278.1 429.3,284.3 431.4,289.7 433.5,293.1 435.6,294.7 437.7,294.7 439.8,293.4 441.9,289.7 444,284.5 446.1,279 448.2,274.6 450.3,272.5 452.5,272.8 454.6,274.4 456.7,277.1 458.8,280.8 460.9,285.3 463,290.2 465.1,295 467.2,298.8 469.3,302.4 471.4,306.2 473.5,310 475.6,313.8 477.7,317.5 479.8,321.1 481.9,324.7 484.1,327.9 486.2,330.5 488.3,332.2 490.4,331.8" fill="none" stroke="#4b0082" stroke-width="1.35" opacity="0.95" stroke-linejoin="round"/>
<polyline points="311.3,332.4 313.4,332.6 315.5,332.7 317.6,332.6 319.7,332.2 321.8,331.6 323.9,330.8 326,329.8 328.2,328.9 330.3,328 332.4,327.2 334.5,326.7 336.6,326 338.7,324.8 340.8,324.1 342.9,323.2 345,322.1 347.1,320.7 349.2,319.1 351.3,317.2 353.4,315.3 355.5,313.4 357.6,311.7 359.8,310.2 361.9,308.9 364,307.8 366.1,306.8 368.2,305.8 370.3,304.6 372.4,303.3 374.5,301.8 376.6,299.8 378.7,297.7 380.8,295.6 382.9,293.4 385,291.1 387.1,288.6 389.3,286.1 391.4,282.3 393.5,276.7 395.6,270.6 397.7,265.2 399.8,261.6 401.9,260.9 404,263.1 406.1,267.3 408.2,272.3 410.3,277.1 412.4,280.7 414.5,282.5 416.6,284.1 418.7,285.8 420.9,287.5 423,289.2 425.1,291 427.2,292.7 429.3,294.7 431.4,296.7 433.5,298.4 435.6,299.3 437.7,299.3 439.8,298 441.9,294.8 444,290.5 446.1,286.2 448.2,283 450.3,281.7 452.5,282 454.6,283.1 456.7,285.2 458.8,288.3 460.9,292 463,296.1 465.1,300 467.2,302.9 469.3,305.8 471.4,308.7 473.5,311.7 475.6,314.8 477.7,317.8 479.8,320.8 481.9,323.4 484.1,325.6 486.2,327.3 488.3,328.4 490.4,328.1" fill="none" stroke="#7b1ff0" stroke-width="1.35" opacity="0.95" stroke-linejoin="round"/>
<polyline points="311.3,329.6 313.4,329 315.5,328.5 317.6,328.1 319.7,327.9 321.8,327.8 323.9,327.8 326,328 328.2,328.3 330.3,328.5 332.4,328.6 334.5,328.7 336.6,328.3 338.7,327.3 340.8,326.5 342.9,325.5 345,324.3 347.1,322.9 349.2,321.5 351.3,320 353.4,318.7 355.5,317.6 357.6,316.8 359.8,316.4 361.9,316.3 364,316.1 366.1,315.3 368.2,313.5 370.3,310.6 372.4,306.9 374.5,303.2 376.6,299.9 378.7,297.3 380.8,295.3 382.9,293.5 385,291.7 387.1,290.1 389.3,288.6 391.4,286.4 393.5,282.5 395.6,278.1 397.7,273.9 399.8,271.2 401.9,270.8 404,272.9 406.1,276.9 408.2,281.5 410.3,286.1 412.4,289.6 414.5,291.3 416.6,292.7 418.7,293.9 420.9,294.9 423,295.8 425.1,296.6 427.2,297.5 429.3,298.9 431.4,300.6 433.5,302.5 435.6,304.4 437.7,306.1 439.8,307.1 441.9,306.5 444,304.7 446.1,302.2 448.2,299.8 450.3,298.6 452.5,298.6 454.6,299.4 456.7,300.9 458.8,303 460.9,305.4 463,307.9 465.1,310.2 467.2,311.8 469.3,313.3 471.4,314.9 473.5,316.5 475.6,318.1 477.7,319.6 479.8,321 481.9,322.1 484.1,323 486.2,323.6 488.3,323.9 490.4,323.5" fill="none" stroke="#c8a2f0" stroke-width="1.35" opacity="0.95" stroke-linejoin="round"/>
<polyline points="311.3,337.9 313.4,337.7 315.5,337.4 317.6,336.9 319.7,336.4 321.8,335.8 323.9,335.2 326,334.6 328.2,333.9 330.3,333.2 332.4,332.4 334.5,331.7 336.6,331.2 338.7,330.6 340.8,330.1 342.9,330 345,329.5 347.1,328.5 349.2,327 351.3,325.3 353.4,323.4 355.5,321.6 357.6,320 359.8,318.4 361.9,316.9 364,315.2 366.1,313.2 368.2,311 370.3,308.5 372.4,305.8 374.5,303 376.6,300.3 378.7,297.8 380.8,295.4 382.9,293.5 385,291.9 387.1,290.3 389.3,288.5 391.4,286.2 393.5,283.1 395.6,277.1 397.7,269.2 399.8,261 401.9,254.1 404,249.9 406.1,249.9 408.2,253.6 410.3,259.7 412.4,267 414.5,274 416.6,279.1 418.7,282.8 420.9,286.1 423,289 425.1,291.4 427.2,293.4 429.3,295 431.4,296.4 433.5,298.2 435.6,300 437.7,301.5 439.8,302.5 441.9,302.6 444,301.1 446.1,297.5 448.2,292.8 450.3,288.4 452.5,285.3 454.6,284.8 456.7,285.9 458.8,288.1 460.9,291.2 463,295.1 465.1,299.4 467.2,303.7 469.3,307.5 471.4,310.5 473.5,313.6 475.6,316.6 477.7,319.4 479.8,322 481.9,324.3 484.1,326.3 486.2,328 488.3,329.5 490.4,330.9" fill="none" stroke="#8b0a50" stroke-width="1.35" opacity="0.95" stroke-linejoin="round"/>
<polyline points="311.3,334.3 313.4,334.7 315.5,335.2 317.6,335.9 319.7,336.6 321.8,337.3 323.9,337.7 326,337.9 328.2,337.7 330.3,337.2 332.4,336.2 334.5,334.9 336.6,332.9 338.7,330.1 340.8,328 342.9,325.7 345,323.4 347.1,321 349.2,318.5 351.3,316 353.4,313.4 355.5,310.9 357.6,308.7 359.8,307.2 361.9,306.8 364,307.2 366.1,307.3 368.2,305.4 370.3,301.2 372.4,296.2 374.5,291.9 376.6,288.9 378.7,287.4 380.8,286.5 382.9,285.6 385,284.3 387.1,282.4 389.3,279.6 391.4,274.4 393.5,266.4 395.6,257.8 397.7,250 399.8,244.8 401.9,243.6 404,246.7 406.1,252.6 408.2,259.9 410.3,267 412.4,272.6 414.5,275.8 416.6,278.6 418.7,281.1 420.9,283.1 423,284.8 425.1,286.2 427.2,287.5 429.3,289.2 431.4,291.2 433.5,293 435.6,294.3 437.7,294.8 439.8,294 441.9,290.8 444,286.3 446.1,281.9 448.2,278.8 450.3,278.6 452.5,280.8 454.6,284.5 456.7,289 458.8,293.6 460.9,297.7 463,301.3 465.1,304.3 467.2,306.3 469.3,308.8 471.4,311.6 473.5,314.5 475.6,317.3 477.7,319.7 479.8,321.7 481.9,323.4 484.1,324.7 486.2,325.6 488.3,326 490.4,325.5" fill="none" stroke="#ea1070" stroke-width="1.35" opacity="0.95" stroke-linejoin="round"/>
<polyline points="311.3,332.3 313.4,331.9 315.5,331.7 317.6,331.5 319.7,331.4 321.8,331.4 323.9,331.3 326,331.2 328.2,331.1 330.3,330.8 332.4,330.4 334.5,329.9 336.6,329.2 338.7,328 340.8,326.7 342.9,325.6 345,324.5 347.1,323.4 349.2,322.3 351.3,321.3 353.4,320.3 355.5,319.4 357.6,318.5 359.8,317.6 361.9,316.5 364,315.3 366.1,313.9 368.2,312.3 370.3,310.5 372.4,308.5 374.5,306.4 376.6,304.3 378.7,302.1 380.8,299.9 382.9,298 385,296.3 387.1,294.8 389.3,293.4 391.4,291.8 393.5,290 395.6,286.2 397.7,281 399.8,275.6 401.9,270.9 404,268.1 406.1,268.4 408.2,271.5 410.3,276.7 412.4,283.1 414.5,289.3 416.6,293.4 418.7,294.9 420.9,295.2 423,295.8 425.1,297.3 427.2,299.3 429.3,300.7 431.4,301 433.5,301.4 435.6,302.1 437.7,303 439.8,304 441.9,304.6 444,304.2 446.1,302.4 448.2,299.8 450.3,297.2 452.5,295.4 454.6,295.1 456.7,295.7 458.8,297 460.9,298.9 463,301.4 465.1,304.4 467.2,307.6 469.3,310.4 471.4,312.6 473.5,314.8 475.6,317 477.7,319.1 479.8,320.9 481.9,322.5 484.1,323.8 486.2,324.8 488.3,325.5 490.4,325.9" fill="none" stroke="#f274b4" stroke-width="1.35" opacity="0.95" stroke-linejoin="round"/>
<polyline points="311.3,337.3 313.4,337.7 315.5,338.4 317.6,339.2 319.7,340 321.8,340.6 323.9,341 326,341 328.2,340.5 330.3,339.6 332.4,337.9 334.5,335.6 336.6,332.3 338.7,327.8 340.8,323.4 342.9,319.5 345,316 347.1,313.5 349.2,311.8 351.3,310.9 353.4,310.1 355.5,309.3 357.6,308.1 359.8,306.4 361.9,304.3 364,302 366.1,299.7 368.2,297.5 370.3,295.7 372.4,294 374.5,292.5 376.6,290.9 378.7,289.2 380.8,287.6 382.9,286 385,284 387.1,281.6 389.3,278.6 391.4,274.7 393.5,267.3 395.6,257.9 397.7,248.2 399.8,239.7 401.9,234.1 404,233 406.1,235.7 408.2,241.2 410.3,248.3 412.4,255.8 414.5,262.1 416.6,267.9 418.7,274 420.9,279.9 423,285.1 425.1,289.2 427.2,292.2 429.3,294.4 431.4,296.5 433.5,298 435.6,299 437.7,299.1 439.8,298 441.9,294.9 444,289.5 446.1,283.3 448.2,278.2 450.3,275.5 452.5,276.2 454.6,278.9 456.7,283 458.8,287.9 460.9,293.1 463,298.3 465.1,302.9 467.2,306.3 469.3,308.3 471.4,310.4 473.5,312.5 475.6,314.6 477.7,316.9 479.8,319.2 481.9,321.7 484.1,324.1 486.2,326.5 488.3,328.5 490.4,329.5" fill="none" stroke="#8b008b" stroke-width="1.35" opacity="0.95" stroke-linejoin="round"/>
<polyline points="311.3,333.6 313.4,334.1 315.5,334.6 317.6,335.1 319.7,335.4 321.8,335.6 323.9,335.4 326,335.1 328.2,334.4 330.3,333.5 332.4,332.4 334.5,331.1 336.6,329.6 338.7,327.6 340.8,325.5 342.9,323.8 345,322.1 347.1,320.5 349.2,319.2 351.3,318.3 353.4,318 355.5,317.6 357.6,316.2 359.8,313.5 361.9,310 364,306.6 366.1,303.7 368.2,301.2 370.3,298.7 372.4,296.2 374.5,293.5 376.6,290.7 378.7,287.8 380.8,284.6 382.9,281.6 385,278.8 387.1,276 389.3,273.4 391.4,271.3 393.5,269.8 395.6,266.9 397.7,262.1 399.8,256.4 401.9,250.9 404,247 406.1,246.2 408.2,248.9 410.3,254 412.4,260.3 414.5,266.6 416.6,271.5 418.7,274.7 420.9,277.7 423,280.6 425.1,283.2 427.2,285.7 429.3,287.9 431.4,290 433.5,292.5 435.6,294.8 437.7,296.5 439.8,297.4 441.9,297.2 444,295.8 446.1,292.4 448.2,288.2 450.3,284.4 452.5,282 454.6,282.1 456.7,284 458.8,286.9 460.9,290.5 463,294.3 465.1,298.1 467.2,301.6 469.3,304.4 471.4,306 473.5,307.6 475.6,309.4 477.7,311.3 479.8,313.3 481.9,315.4 484.1,317.5 486.2,319.5 488.3,321.4 490.4,323" fill="none" stroke="#f000f0" stroke-width="1.35" opacity="0.95" stroke-linejoin="round"/>
<polyline points="311.3,331.7 313.4,332.6 315.5,333.3 317.6,333.9 319.7,334.3 321.8,334.4 323.9,334.3 326,334.1 328.2,333.8 330.3,333.3 332.4,332.7 334.5,332.1 336.6,331.1 338.7,329.4 340.8,327.7 342.9,326.1 345,324.1 347.1,321.8 349.2,319.1 351.3,316.2 353.4,313 355.5,309.6 357.6,305.8 359.8,301.4 361.9,296.4 364,291.4 366.1,287.4 368.2,285.5 370.3,285.8 372.4,287.6 374.5,289.9 376.6,291.7 378.7,292.5 380.8,292.7 382.9,292.2 385,290.8 387.1,288.3 389.3,284.7 391.4,280.2 393.5,273.7 395.6,265.8 397.7,258.2 399.8,251.1 401.9,244.2 404,239.6 406.1,239.5 408.2,243.7 410.3,250.3 412.4,257.2 414.5,262.6 416.6,265.4 418.7,268 420.9,270.4 423,272.8 425.1,275.4 427.2,278.3 429.3,281.6 431.4,285.8 433.5,290.3 435.6,294.2 437.7,296.9 439.8,297.8 441.9,296.3 444,291.7 446.1,285.3 448.2,278.9 450.3,274.2 452.5,272.5 454.6,273.6 456.7,276.2 458.8,280 460.9,284.7 463,289.7 465.1,294.7 467.2,299.2 469.3,302.2 471.4,305.1 473.5,308 475.6,310.7 477.7,313.2 479.8,315.4 481.9,317.4 484.1,319.1 486.2,320.5 488.3,321.8 490.4,322.6" fill="none" stroke="#f47cf4" stroke-width="1.35" opacity="0.95" stroke-linejoin="round"/>
<polyline points="311.3,332.7 313.4,333.1 315.5,333.9 317.6,334.7 319.7,335.2 321.8,335.2 323.9,334.4 326,332.8 328.2,330.8 330.3,328.6 332.4,326.6 334.5,325.1 336.6,324.4 338.7,324.3 340.8,324.6 342.9,325.2 345,326 347.1,327.1 349.2,328.1 351.3,329.1 353.4,330.2 355.5,331.5 357.6,332.9 359.8,334.3 361.9,335.6 364,336.8 366.1,337.8 368.2,338.6 370.3,339.4 372.4,339.5 374.5,339.5 376.6,339.5 378.7,339.9 380.8,340.4 382.9,341 385,341.6 387.1,342 389.3,342.5 391.4,342.9 393.5,343.2 395.6,343.1 397.7,342.7 399.8,341.7 401.9,340.5 404,339.4 406.1,338.7 408.2,338.4 410.3,338.6 412.4,338.9 414.5,339.3 416.6,339.9 418.7,340.5 420.9,341 423,341.6 425.1,342.1 427.2,342.8 429.3,343.5 431.4,344.3 433.5,344.9 435.6,345.3 437.7,345.4 439.8,345.1 441.9,344.5 444,343.7 446.1,342.8 448.2,341.9 450.3,341.2 452.5,340.8 454.6,340.6 456.7,340.5 458.8,340.5 460.9,340.6 463,340.7 465.1,341 467.2,341.2 469.3,341.5 471.4,341.9 473.5,342.4 475.6,343 477.7,343.7 479.8,344.5 481.9,345.2 484.1,346 486.2,346.7 488.3,347.2 490.4,347.2" fill="none" stroke="#111" stroke-width="1.6" opacity="0.95" stroke-linejoin="round"/>
<line x1="311.3" y1="229.6" x2="311.3" y2="346.2" stroke="#333" stroke-width="1.0" />
<line x1="311.3" y1="346.2" x2="490.8" y2="346.2" stroke="#333" stroke-width="1.0" />
<line x1="307.8" y1="247.2" x2="311.3" y2="247.2" stroke="#333" stroke-width="0.9" />
<text x="304.3" y="250.7" font-size="9.9" text-anchor="end" font-weight="normal" fill="#333" >30</text>
<line x1="307.8" y1="270.3" x2="311.3" y2="270.3" stroke="#333" stroke-width="0.9" />
<text x="304.3" y="273.8" font-size="9.9" text-anchor="end" font-weight="normal" fill="#333" >20</text>
<line x1="307.8" y1="293.4" x2="311.3" y2="293.4" stroke="#333" stroke-width="0.9" />
<text x="304.3" y="296.9" font-size="9.9" text-anchor="end" font-weight="normal" fill="#333" >10</text>
<line x1="307.8" y1="316.5" x2="311.3" y2="316.5" stroke="#333" stroke-width="0.9" />
<text x="304.3" y="320.0" font-size="9.9" text-anchor="end" font-weight="normal" fill="#333" >0</text>
<line x1="307.8" y1="339.6" x2="311.3" y2="339.6" stroke="#333" stroke-width="0.9" />
<text x="304.3" y="343.1" font-size="9.9" text-anchor="end" font-weight="normal" fill="#333" >–10</text>
<line x1="311.3" y1="346.2" x2="311.3" y2="349.4" stroke="#333" stroke-width="0.9" />
<text x="311.3" y="361.5" font-size="9.9" text-anchor="middle" font-weight="normal" fill="#333" >0</text>
<line x1="330.2" y1="346.2" x2="330.2" y2="349.4" stroke="#333" stroke-width="0.9" />
<text x="330.2" y="361.5" font-size="9.9" text-anchor="middle" font-weight="normal" fill="#333" >1</text>
<line x1="349.0" y1="346.2" x2="349.0" y2="349.4" stroke="#333" stroke-width="0.9" />
<text x="349.0" y="361.5" font-size="9.9" text-anchor="middle" font-weight="normal" fill="#333" >2</text>
<line x1="367.9" y1="346.2" x2="367.9" y2="349.4" stroke="#333" stroke-width="0.9" />
<text x="367.9" y="361.5" font-size="9.9" text-anchor="middle" font-weight="normal" fill="#333" >3</text>
<line x1="386.7" y1="346.2" x2="386.7" y2="349.4" stroke="#333" stroke-width="0.9" />
<text x="386.7" y="361.5" font-size="9.9" text-anchor="middle" font-weight="normal" fill="#333" >4</text>
<line x1="405.6" y1="346.2" x2="405.6" y2="349.4" stroke="#333" stroke-width="0.9" />
<text x="405.6" y="361.5" font-size="9.9" text-anchor="middle" font-weight="normal" fill="#333" >5</text>
<line x1="424.4" y1="346.2" x2="424.4" y2="349.4" stroke="#333" stroke-width="0.9" />
<text x="424.4" y="361.5" font-size="9.9" text-anchor="middle" font-weight="normal" fill="#333" >6</text>
<line x1="443.2" y1="346.2" x2="443.2" y2="349.4" stroke="#333" stroke-width="0.9" />
<text x="443.2" y="361.5" font-size="9.9" text-anchor="middle" font-weight="normal" fill="#333" >7</text>
<line x1="462.1" y1="346.2" x2="462.1" y2="349.4" stroke="#333" stroke-width="0.9" />
<text x="462.1" y="361.5" font-size="9.9" text-anchor="middle" font-weight="normal" fill="#333" >8</text>
<line x1="481.0" y1="346.2" x2="481.0" y2="349.4" stroke="#333" stroke-width="0.9" />
<text x="481.0" y="361.5" font-size="9.9" text-anchor="middle" font-weight="normal" fill="#333" >9</text>
<text x="504.5" y="218.0" font-size="15" text-anchor="start" font-weight="bold" fill="#000" stroke="#000" stroke-width="0.5">f</text>
<text x="648.9" y="218.3" font-size="10.5" text-anchor="middle" font-weight="normal" fill="#231f20" textLength="126.7" lengthAdjust="spacingAndGlyphs" >Explained variance: 10.0%</text>
<rect x="554.5" y="229.6" width="18.5" height="116.6" fill="#e6e6e6" />
<line x1="573.0" y1="229.6" x2="573.0" y2="346.2" stroke="#9a9a9a" stroke-width="0.6" stroke-dasharray="1.5,1.5"/>
<line x1="639.5" y1="229.6" x2="639.5" y2="346.2" stroke="#9a9a9a" stroke-width="0.6" stroke-dasharray="1.5,1.5"/>
<line x1="687.0" y1="229.6" x2="687.0" y2="346.2" stroke="#9a9a9a" stroke-width="0.6" stroke-dasharray="1.5,1.5"/>
<line x1="734.5" y1="229.6" x2="734.5" y2="346.2" stroke="#9a9a9a" stroke-width="0.6" stroke-dasharray="1.5,1.5"/>
<text x="563.8" y="230.2" font-size="6.3" text-anchor="middle" font-weight="normal" fill="#333" >Delay</text>
<text x="632.5" y="233.2" font-size="9" text-anchor="middle" font-weight="normal" fill="#333" >Go</text>
<text x="666.0" y="233.2" font-size="9" text-anchor="middle" font-weight="normal" fill="#333" >Trial end</text>
<text x="717.5" y="233.2" font-size="9" text-anchor="middle" font-weight="normal" fill="#333" >ITI end</text>
<text x="516.5" y="280.5" font-size="10" text-anchor="middle" font-weight="normal" fill="#231f20" >T17</text>
<text x="516.0" y="292.5" font-size="10" text-anchor="middle" font-weight="normal" fill="#231f20" >PC2</text>
<polyline points="554,323.5 556.1,323.1 558.2,322.4 560.4,321.5 562.5,320.6 564.6,319.8 566.7,319.3 568.9,319.4 571,320.1 573.1,321.6 575.2,323.5 577.4,324.9 579.5,325.1 581.6,323.9 583.7,321.7 585.9,319.5 588,317.9 590.1,316.9 592.2,316.4 594.3,316.3 596.5,316.4 598.6,316.7 600.7,316.9 602.8,316.8 605,316.4 607.1,315.5 609.2,314 611.3,312.2 613.5,310.1 615.6,307.9 617.7,306 619.8,304.4 622,303.1 624.1,302 626.2,300.9 628.3,299.8 630.4,298.4 632.6,296.5 634.7,293.5 636.8,288.9 638.9,283 641.1,276.2 643.2,269.2 645.3,262.8 647.4,258 649.6,255.6 651.7,256.7 653.8,262.2 655.9,270.3 658.1,279.3 660.2,287.2 662.3,292.4 664.4,295.4 666.5,297.4 668.7,298.9 670.8,300 672.9,301.1 675,302.1 677.2,303.3 679.3,304.8 681.4,306.2 683.5,307.6 685.7,308.7 687.8,309.5 689.9,309.9 692,309.3 694.2,307.6 696.3,305.6 698.4,304.3 700.5,304.5 702.6,305.4 704.8,307 706.9,309.3 709,312.3 711.1,315.7 713.3,319.4 715.4,322.6 717.5,324.6 719.6,324.8 721.8,323.3 723.9,320.8 726,318.1 728.1,316 730.3,314.7 732.4,314.3 734.5,314.6" fill="none" stroke="#a0522d" stroke-width="1.35" opacity="0.95" stroke-linejoin="round"/>
<polyline points="554,317.5 556.1,317 558.2,316.6 560.4,316.3 562.5,316 564.6,315.9 566.7,315.9 568.9,316.1 571,316.4 573.1,316.9 575.2,317.5 577.4,318.2 579.5,318.9 581.6,319.5 583.7,320 585.9,320.2 588,320.2 590.1,319.9 592.2,319.1 594.3,317.9 596.5,316.3 598.6,314.1 600.7,311.5 602.8,308.7 605,306 607.1,303.9 609.2,302.7 611.3,302.5 613.5,303.3 615.6,304.6 617.7,306.1 619.8,307.5 622,308.5 624.1,309 626.2,309.1 628.3,308.7 630.4,307.9 632.6,306.6 634.7,304.7 636.8,301.7 638.9,298.2 641.1,294.3 643.2,290.5 645.3,287 647.4,284.2 649.6,282.4 651.7,282 653.8,283.8 655.9,287.3 658.1,291.5 660.2,295.5 662.3,298.5 664.4,300.1 666.5,301.6 668.7,302.9 670.8,304.1 672.9,305.2 675,306.3 677.2,307.2 679.3,308.3 681.4,309.2 683.5,310.2 685.7,311 687.8,311.7 689.9,312.2 692,312.3 694.2,311.6 696.3,310.4 698.4,309.5 700.5,309.3 702.6,309.5 704.8,309.9 706.9,310.9 709,312.4 711.1,314.2 713.3,315.5 715.4,315.6 717.5,314.7 719.6,313.2 721.8,311.7 723.9,310.5 726,309.2 728.1,308.1 730.3,307.7 732.4,308.6 734.5,310.8" fill="none" stroke="#d2691e" stroke-width="1.35" opacity="0.95" stroke-linejoin="round"/>
<polyline points="554,314 556.1,314.4 558.2,315 560.4,315.6 562.5,316.3 564.6,316.9 566.7,317.5 568.9,318 571,318.3 573.1,318.4 575.2,318.4 577.4,318.3 579.5,318.1 581.6,317.9 583.7,317.6 585.9,317.4 588,317.1 590.1,316.9 592.2,316.6 594.3,316.4 596.5,316.2 598.6,315.9 600.7,315.6 602.8,315.2 605,314.7 607.1,314.1 609.2,313.3 611.3,312.6 613.5,311.8 615.6,311 617.7,310.4 619.8,309.8 622,309.3 624.1,308.9 626.2,308.5 628.3,307.7 630.4,306.3 632.6,304.6 634.7,302.8 636.8,301 638.9,299.4 641.1,298.5 643.2,298.3 645.3,299.2 647.4,301.5 649.6,304.3 651.7,307.1 653.8,309.2 655.9,310 658.1,310.3 660.2,310.8 662.3,311.7 664.4,313.1 666.5,314.8 668.7,316.5 670.8,317.9 672.9,318.8 675,319.1 677.2,319 679.3,318.8 681.4,318.6 683.5,318.4 685.7,317.8 687.8,316.7 689.9,315.3 692,313.9 694.2,312.9 696.3,312.1 698.4,311.5 700.5,311.3 702.6,311.5 704.8,312.1 706.9,313 709,314.1 711.1,315.1 713.3,316.2 715.4,317.1 717.5,317.9 719.6,318.6 721.8,319 723.9,319.2 726,319.1 728.1,318.9 730.3,318.5 732.4,318 734.5,317.3" fill="none" stroke="#cd853f" stroke-width="1.35" opacity="0.95" stroke-linejoin="round"/>
<polyline points="554,321.3 556.1,320.6 558.2,319.9 560.4,319.3 562.5,319 564.6,318.9 566.7,319 568.9,319.4 571,320 573.1,320.6 575.2,321.4 577.4,322 579.5,322.5 581.6,322.7 583.7,322.5 585.9,321.9 588,321 590.1,319.9 592.2,318.7 594.3,317.7 596.5,316.7 598.6,315.8 600.7,315.1 602.8,314.3 605,313.6 607.1,312.9 609.2,312.3 611.3,311.7 613.5,311 615.6,310.3 617.7,309.6 619.8,308.9 622,308.1 624.1,307.3 626.2,306.4 628.3,305.5 630.4,304.5 632.6,303.3 634.7,301.3 636.8,298.8 638.9,295.9 641.1,292.9 643.2,290.1 645.3,287.7 647.4,286.1 649.6,285.4 651.7,286.4 653.8,288.6 655.9,291.2 658.1,294.2 660.2,297.7 662.3,301.1 664.4,304.9 666.5,308 668.7,310.1 670.8,311.5 672.9,312.2 675,312.6 677.2,312.7 679.3,312.7 681.4,312.5 683.5,312.3 685.7,312.2 687.8,312.1 689.9,311.9 692,311.3 694.2,310.4 696.3,309.7 698.4,309.7 700.5,310 702.6,310.4 704.8,311 706.9,311.6 709,312.2 711.1,313.1 713.3,314 715.4,315.2 717.5,316.6 719.6,318.3 721.8,320 723.9,321.4 726,322.3 728.1,322.5 730.3,322.2 732.4,321.5 734.5,320.6" fill="none" stroke="#c00000" stroke-width="1.35" opacity="0.95" stroke-linejoin="round"/>
<polyline points="554,320 556.1,319.2 558.2,318.6 560.4,318 562.5,317.5 564.6,317.3 566.7,317.1 568.9,317.1 571,317.1 573.1,317.1 575.2,317 577.4,316.9 579.5,316.6 581.6,316.3 583.7,315.8 585.9,315.4 588,314.9 590.1,314.5 592.2,314.2 594.3,314.2 596.5,314.8 598.6,316.2 600.7,318.3 602.8,320.5 605,321.6 607.1,320.9 609.2,319.2 611.3,317.4 613.5,316.1 615.6,315.1 617.7,314.2 619.8,313.2 622,312 624.1,310.7 626.2,309.2 628.3,307.4 630.4,305.3 632.6,303 634.7,300.7 636.8,298.6 638.9,296.8 641.1,295.5 643.2,294.7 645.3,294.9 647.4,296.3 649.6,298.6 651.7,301.1 653.8,303.6 655.9,305.4 658.1,306.9 660.2,308.5 662.3,309.8 664.4,310.8 666.5,311.5 668.7,312 670.8,312.7 672.9,313.5 675,314.1 677.2,314.2 679.3,313.3 681.4,311.4 683.5,309.2 685.7,307.7 687.8,307.5 689.9,308.3 692,309.4 694.2,310.2 696.3,310.7 698.4,311.1 700.5,311.6 702.6,312.3 704.8,313.2 706.9,314.1 709,315 711.1,315.9 713.3,316.6 715.4,317 717.5,317.3 719.6,317.4 721.8,317.2 723.9,316.9 726,316.5 728.1,316.2 730.3,316 732.4,316.1 734.5,316.3" fill="none" stroke="#f80000" stroke-width="1.35" opacity="0.95" stroke-linejoin="round"/>
<polyline points="554,315.4 556.1,316.4 558.2,317.3 560.4,318.1 562.5,318.6 564.6,318.8 566.7,318.6 568.9,318.2 571,317.5 573.1,316.8 575.2,316 577.4,315.4 579.5,315 581.6,314.8 583.7,314.6 585.9,314.5 588,314.3 590.1,313.9 592.2,313.5 594.3,312.9 596.5,312.4 598.6,312.1 600.7,312 602.8,312.2 605,312.6 607.1,313.4 609.2,314.2 611.3,315.2 613.5,316 615.6,316.7 617.7,317.1 619.8,317.1 622,316.7 624.1,316 626.2,315 628.3,313.9 630.4,312.8 632.6,311.7 634.7,310.8 636.8,310.1 638.9,309.5 641.1,309 643.2,308.5 645.3,307.9 647.4,307.3 649.6,307.1 651.7,307.2 653.8,307.6 655.9,308.1 658.1,308.5 660.2,308.8 662.3,309.4 664.4,310.4 666.5,311.4 668.7,312.2 670.8,312.6 672.9,312.4 675,312.2 677.2,312.3 679.3,312.9 681.4,313.5 683.5,313.5 685.7,313 687.8,312.3 689.9,311.3 692,310.6 694.2,310.2 696.3,310.4 698.4,310.9 700.5,311.6 702.6,312.3 704.8,313 706.9,313.5 709,313.9 711.1,314.2 713.3,314.5 715.4,314.9 717.5,315.4 719.6,316 721.8,316.9 723.9,317.8 726,318.6 728.1,319.3 730.3,319.8 732.4,319.9 734.5,319.6" fill="none" stroke="#f8a0a0" stroke-width="1.35" opacity="0.95" stroke-linejoin="round"/>
<polyline points="554,324.9 556.1,324.9 558.2,325 560.4,325.2 562.5,325.3 564.6,325.2 566.7,325 568.9,324.6 571,324.2 573.1,323.7 575.2,323.3 577.4,323.1 579.5,323.3 581.6,323.7 583.7,324.5 585.9,325.5 588,326.6 590.1,327.5 592.2,328.2 594.3,328.4 596.5,328.1 598.6,327.3 600.7,326 602.8,324.4 605,322.6 607.1,320.8 609.2,319.2 611.3,317.9 613.5,317 615.6,316.4 617.7,315.9 619.8,315.5 622,315.1 624.1,314.4 626.2,313.5 628.3,312.4 630.4,310.8 632.6,308.7 634.7,306.4 636.8,304.2 638.9,302.3 641.1,300.9 643.2,300.2 645.3,300.3 647.4,301.5 649.6,303.9 651.7,306.6 653.8,308.9 655.9,310.4 658.1,310.6 660.2,310.4 662.3,310.6 664.4,311.2 666.5,312.4 668.7,314 670.8,315.7 672.9,317.5 675,319.2 677.2,320.6 679.3,321.6 681.4,322.1 683.5,322.2 685.7,321.9 687.8,321.1 689.9,319.7 692,318.3 694.2,317.4 696.3,317.2 698.4,317.5 700.5,317.9 702.6,318.4 704.8,318.9 706.9,319.2 709,319.5 711.1,319.6 713.3,319.6 715.4,319.6 717.5,319.6 719.6,319.8 721.8,320.1 723.9,320.6 726,321.3 728.1,322.1 730.3,323.1 732.4,324 734.5,324.5" fill="none" stroke="#c86400" stroke-width="1.35" opacity="0.95" stroke-linejoin="round"/>
<polyline points="554,325.2 556.1,325 558.2,324.7 560.4,324.3 562.5,324.1 564.6,324 566.7,324.1 568.9,324.4 571,325 573.1,325.6 575.2,326.3 577.4,326.9 579.5,327.3 581.6,327.4 583.7,327.1 585.9,326.6 588,325.8 590.1,324.8 592.2,323.8 594.3,322.9 596.5,322.2 598.6,321.7 600.7,321.4 602.8,321.2 605,321 607.1,320.6 609.2,320 611.3,318.9 613.5,317.4 615.6,315.6 617.7,313.6 619.8,311.9 622,310.7 624.1,310.2 626.2,310.3 628.3,310.8 630.4,311.3 632.6,311.6 634.7,311.5 636.8,311.2 638.9,310.5 641.1,309.2 643.2,307.4 645.3,305.4 647.4,303.5 649.6,302.6 651.7,303.1 653.8,304.9 655.9,307.4 658.1,310.1 660.2,312.2 662.3,314 664.4,315.4 666.5,316.4 668.7,317 670.8,317.2 672.9,317.1 675,316.8 677.2,316.4 679.3,316.1 681.4,316 683.5,316.1 685.7,316.6 687.8,317.4 689.9,318.1 692,318.6 694.2,318.9 696.3,319.4 698.4,319.9 700.5,320.3 702.6,320.5 704.8,320.7 706.9,320.9 709,321.2 711.1,321.6 713.3,322.1 715.4,322.7 717.5,323.2 719.6,323.6 721.8,323.9 723.9,323.9 726,323.8 728.1,323.4 730.3,322.9 732.4,322.4 734.5,322.1" fill="none" stroke="#f8a040" stroke-width="1.35" opacity="0.95" stroke-linejoin="round"/>
<polyline points="554,326.3 556.1,326.9 558.2,327.6 560.4,328.4 562.5,329.1 564.6,329.7 566.7,330 568.9,329.9 571,329.4 573.1,328.6 575.2,327.7 577.4,326.6 579.5,325.7 581.6,324.9 583.7,324.4 585.9,324.1 588,324 590.1,324.1 592.2,324.1 594.3,324.1 596.5,323.9 598.6,323.6 600.7,323.2 602.8,322.6 605,322.1 607.1,321.8 609.2,321.6 611.3,321.6 613.5,321.9 615.6,322.3 617.7,322.8 619.8,323.2 622,323.3 624.1,323.1 626.2,322.5 628.3,321.5 630.4,320.2 632.6,318.4 634.7,316.3 636.8,314.1 638.9,312.2 641.1,310.6 643.2,309.5 645.3,308.9 647.4,308.9 649.6,309.6 651.7,311.2 653.8,313 655.9,314.8 658.1,316.3 660.2,317.1 662.3,317.7 664.4,318.5 666.5,319.5 668.7,320.6 670.8,321.8 672.9,323.2 675,324.4 677.2,325.5 679.3,326.2 681.4,326.3 683.5,325.8 685.7,324.7 687.8,322.9 689.9,320.8 692,318.8 694.2,317.7 696.3,317.7 698.4,318.4 700.5,319.1 702.6,319.4 704.8,319.3 706.9,319 709,318.7 711.1,318.7 713.3,318.9 715.4,319.3 717.5,319.7 719.6,319.9 721.8,319.9 723.9,319.5 726,319.2 728.1,319.1 730.3,319.6 732.4,320.7 734.5,322.3" fill="none" stroke="#f8c8a0" stroke-width="1.35" opacity="0.95" stroke-linejoin="round"/>
<polyline points="554,326.4 556.1,325.8 558.2,325 560.4,324.3 562.5,323.7 564.6,323.4 566.7,323.4 568.9,323.6 571,324.2 573.1,325 575.2,325.9 577.4,326.8 579.5,327.4 581.6,327.5 583.7,327.2 585.9,326.5 588,325.8 590.1,325.3 592.2,325 594.3,324.9 596.5,324.9 598.6,325 600.7,325.1 602.8,325.1 605,325.2 607.1,325.2 609.2,325 611.3,324.6 613.5,323.9 615.6,323.1 617.7,322.2 619.8,321.4 622,320.9 624.1,320.6 626.2,320.7 628.3,321 630.4,321.5 632.6,322 634.7,322.5 636.8,322.8 638.9,322.9 641.1,322.9 643.2,322.8 645.3,322.7 647.4,322.7 649.6,322.8 651.7,323.1 653.8,323.6 655.9,324.1 658.1,324.7 660.2,325.1 662.3,325.4 664.4,325.3 666.5,325.1 668.7,324.6 670.8,324 672.9,323.3 675,322.8 677.2,322.5 679.3,322.4 681.4,322.5 683.5,323 685.7,323.5 687.8,324.2 689.9,324.8 692,325.3 694.2,325.7 696.3,325.8 698.4,325.9 700.5,325.8 702.6,325.6 704.8,325.4 706.9,325.2 709,325.1 711.1,325 713.3,325 715.4,325 717.5,325 719.6,324.9 721.8,324.6 723.9,324.2 726,323.7 728.1,323 730.3,322.3 732.4,321.7 734.5,321.2" fill="none" stroke="#00bb00" stroke-width="1.35" opacity="0.95" stroke-linejoin="round"/>
<polyline points="554,326.3 556.1,326.6 558.2,326.6 560.4,326.4 562.5,325.9 564.6,325.3 566.7,324.4 568.9,323.6 571,322.7 573.1,322 575.2,321.4 577.4,321 579.5,320.8 581.6,320.8 583.7,321 585.9,321.3 588,321.9 590.1,322.5 592.2,323.4 594.3,324.4 596.5,325.4 598.6,326.3 600.7,327 602.8,327.5 605,327.9 607.1,327.9 609.2,327 611.3,325.4 613.5,323.8 615.6,323.4 617.7,324.3 619.8,325.4 622,326.2 624.1,326.4 626.2,326.4 628.3,326.2 630.4,325.8 632.6,325.2 634.7,324.7 636.8,324.2 638.9,323.8 641.1,323.6 643.2,323.6 645.3,323.6 647.4,323.9 649.6,324.1 651.7,324.5 653.8,325 655.9,325.6 658.1,326.3 660.2,327 662.3,327.6 664.4,328 666.5,328.2 668.7,328.2 670.8,328 672.9,327.5 675,327 677.2,326.3 679.3,325.6 681.4,325 683.5,324.5 685.7,324 687.8,323.8 689.9,323.6 692,323.6 694.2,323.6 696.3,323.6 698.4,323.6 700.5,323.5 702.6,323.3 704.8,323.1 706.9,322.8 709,322.6 711.1,322.4 713.3,322.3 715.4,322.4 717.5,322.5 719.6,322.9 721.8,323.3 723.9,323.9 726,324.4 728.1,325 730.3,325.5 732.4,325.8 734.5,325.9" fill="none" stroke="#44ee44" stroke-width="1.35" opacity="0.95" stroke-linejoin="round"/>
<polyline points="554,322.5 556.1,322.6 558.2,322.8 560.4,323.1 562.5,323.6 564.6,324.1 566.7,324.7 568.9,325.2 571,325.7 573.1,326 575.2,326.2 577.4,326.1 579.5,325.8 581.6,325.3 583.7,324.5 585.9,323.6 588,322.6 590.1,321.5 592.2,320.6 594.3,319.8 596.5,319.3 598.6,318.9 600.7,318.7 602.8,318.7 605,318.8 607.1,319 609.2,319.4 611.3,319.8 613.5,320.3 615.6,320.7 617.7,321.1 619.8,321.5 622,321.8 624.1,322.1 626.2,322.4 628.3,322.7 630.4,322.8 632.6,322.4 634.7,321.2 636.8,319.5 638.9,317.3 641.1,315.2 643.2,313.6 645.3,312.7 647.4,312.5 649.6,313 651.7,314 653.8,315.1 655.9,316 658.1,316.2 660.2,315.8 662.3,315 664.4,314.2 666.5,313.7 668.7,313.6 670.8,314 672.9,314.8 675,316 677.2,317.4 679.3,318.7 681.4,320 683.5,321.1 685.7,322.1 687.8,322.8 689.9,323.2 692,323.3 694.2,323.1 696.3,323 698.4,322.8 700.5,322.5 702.6,322.1 704.8,321.6 706.9,321.1 709,320.5 711.1,320.1 713.3,319.7 715.4,319.4 717.5,319.2 719.6,319.2 721.8,319.4 723.9,319.8 726,320.2 728.1,320.8 730.3,321.3 732.4,321.9 734.5,322.4" fill="none" stroke="#a8f078" stroke-width="1.35" opacity="0.95" stroke-linejoin="round"/>
<polyline points="554,317.2 556.1,317 558.2,316.7 560.4,316.3 562.5,315.9 564.6,315.5 566.7,315.2 568.9,314.9 571,314.8 573.1,314.8 575.2,315 577.4,315.4 579.5,315.9 581.6,316.6 583.7,317.3 585.9,318 588,318.7 590.1,319.3 592.2,319.6 594.3,319.8 596.5,319.7 598.6,319.4 600.7,318.8 602.8,318.1 605,317.2 607.1,316.2 609.2,315.2 611.3,314.3 613.5,313.6 615.6,313.1 617.7,312.8 619.8,312.7 622,312.9 624.1,313.3 626.2,313.8 628.3,314.3 630.4,314.8 632.6,315.2 634.7,315.4 636.8,315.4 638.9,315.3 641.1,314.9 643.2,314.2 645.3,312.9 647.4,311 649.6,308.9 651.7,307.2 653.8,306.4 655.9,306.3 658.1,306.6 660.2,307 662.3,307.1 664.4,307.2 666.5,307.6 668.7,308.1 670.8,308.6 672.9,309 675,309.6 677.2,310.6 679.3,312.1 681.4,313.6 683.5,314.9 685.7,315.6 687.8,315.8 689.9,315.5 692,314.9 694.2,314 696.3,313 698.4,312.3 700.5,311.9 702.6,311.7 704.8,311.8 706.9,312.2 709,312.7 711.1,313.4 713.3,314.2 715.4,315.1 717.5,316 719.6,316.9 721.8,317.7 723.9,318.4 726,318.9 728.1,319.3 730.3,319.5 732.4,319.5 734.5,319.3" fill="none" stroke="#c8c800" stroke-width="1.35" opacity="0.95" stroke-linejoin="round"/>
<polyline points="554,318.6 556.1,318.3 558.2,318.3 560.4,318.4 562.5,318.7 564.6,319.2 566.7,319.9 568.9,320.7 571,321.5 573.1,322.3 575.2,323 577.4,323.5 579.5,323.9 581.6,324 583.7,323.8 585.9,323.3 588,322.5 590.1,321.5 592.2,320.3 594.3,319.3 596.5,318.5 598.6,318 600.7,317.7 602.8,317.7 605,317.7 607.1,317.6 609.2,317.4 611.3,317.1 613.5,316.7 615.6,316 617.7,315.4 619.8,314.7 622,314.2 624.1,314 626.2,314 628.3,314.3 630.4,314.7 632.6,315.3 634.7,315.8 636.8,316.2 638.9,316.5 641.1,316.6 643.2,316.7 645.3,316.8 647.4,316.9 649.6,317 651.7,317.1 653.8,317.2 655.9,317.1 658.1,316.9 660.2,316.5 662.3,315.9 664.4,315.5 666.5,315.3 668.7,315.5 670.8,316 672.9,316.6 675,317.4 677.2,318.2 679.3,319 681.4,319.7 683.5,320.3 685.7,320.6 687.8,320.8 689.9,320.8 692,320.6 694.2,320.2 696.3,319.7 698.4,319.4 700.5,319.3 702.6,319.3 704.8,319.5 706.9,319.7 709,319.9 711.1,320.1 713.3,320.1 715.4,320 717.5,319.8 719.6,319.3 721.8,318.7 723.9,318.1 726,317.4 728.1,316.8 730.3,316.4 732.4,316.2 734.5,316.2" fill="none" stroke="#f8f820" stroke-width="1.35" opacity="0.95" stroke-linejoin="round"/>
<polyline points="554,314.8 556.1,314.9 558.2,315.3 560.4,316 562.5,316.9 564.6,317.8 566.7,318.7 568.9,319.5 571,320.1 573.1,320.4 575.2,320.4 577.4,320.2 579.5,319.7 581.6,319.1 583.7,318.5 585.9,317.9 588,317.3 590.1,317 592.2,316.7 594.3,316.7 596.5,316.9 598.6,317.2 600.7,317.6 602.8,318 605,318.4 607.1,318.8 609.2,319.1 611.3,319.4 613.5,319.5 615.6,319.5 617.7,319.4 619.8,319.3 622,319.2 624.1,319.1 626.2,319.1 628.3,319.2 630.4,319.1 632.6,318.9 634.7,318.6 636.8,318.1 638.9,317.4 641.1,316.6 643.2,315.7 645.3,314.8 647.4,314.1 649.6,313.7 651.7,313.6 653.8,313.9 655.9,314.5 658.1,315.3 660.2,316.2 662.3,317.2 664.4,318.1 666.5,318.9 668.7,319.5 670.8,319.8 672.9,319.9 675,319.7 677.2,319.3 679.3,318.7 681.4,318.1 683.5,317.6 685.7,317.2 687.8,317.1 689.9,317.1 692,317.3 694.2,317.6 696.3,317.9 698.4,318.3 700.5,318.7 702.6,319.3 704.8,319.8 706.9,320.4 709,320.9 711.1,321.3 713.3,321.4 715.4,321.3 717.5,320.9 719.6,320.4 721.8,319.7 723.9,319.1 726,318.5 728.1,318 730.3,317.7 732.4,317.6 734.5,317.6" fill="none" stroke="#f8f8a0" stroke-width="1.35" opacity="0.95" stroke-linejoin="round"/>
<polyline points="554,318.8 556.1,318.6 558.2,318.7 560.4,318.8 562.5,319.2 564.6,319.7 566.7,320.2 568.9,320.6 571,320.8 573.1,320.6 575.2,320.1 577.4,319.4 579.5,318.5 581.6,317.5 583.7,316.6 585.9,315.8 588,315.4 590.1,315.1 592.2,315.1 594.3,315.2 596.5,315.3 598.6,315.3 600.7,315 602.8,314.5 605,313.8 607.1,312.8 609.2,311.8 611.3,310.9 613.5,310.1 615.6,309.4 617.7,308.9 619.8,308.4 622,307.7 624.1,306.8 626.2,305.4 628.3,303.3 630.4,300 632.6,295.5 634.7,290.4 636.8,285.1 638.9,280 641.1,275.7 643.2,272.9 645.3,271.9 647.4,274.1 649.6,279 651.7,285.6 653.8,292.7 655.9,298.9 658.1,303.2 660.2,306.6 662.3,309.1 664.4,310.6 666.5,311.3 668.7,311.4 670.8,311.4 672.9,311.6 675,312.1 677.2,312.7 679.3,313.2 681.4,313.5 683.5,313.4 685.7,312.7 687.8,310.8 689.9,308.4 692,306.3 694.2,305.3 696.3,305.3 698.4,305.8 700.5,306.9 702.6,308.3 704.8,309.9 706.9,311.5 709,312.9 711.1,314 713.3,314.6 715.4,315 717.5,315.2 719.6,315.4 721.8,315.7 723.9,316.2 726,316.9 728.1,317.7 730.3,318.6 732.4,319.4 734.5,319.9" fill="none" stroke="#008b8b" stroke-width="1.35" opacity="0.95" stroke-linejoin="round"/>
<polyline points="554,325.3 556.1,324.6 558.2,324 560.4,323.4 562.5,323.1 564.6,322.8 566.7,322.7 568.9,322.6 571,322.5 573.1,322.4 575.2,322.3 577.4,322.1 579.5,321.8 581.6,321.5 583.7,321.1 585.9,320.8 588,320.4 590.1,320.1 592.2,319.9 594.3,319.7 596.5,319.6 598.6,319.4 600.7,319.1 602.8,318.6 605,317.8 607.1,316.7 609.2,315.2 611.3,313.5 613.5,311.6 615.6,309.9 617.7,308.5 619.8,307.8 622,307.5 624.1,307.5 626.2,307.3 628.3,306.3 630.4,304 632.6,300.6 634.7,295.2 636.8,288.5 638.9,281.4 641.1,274.4 643.2,268.1 645.3,262.7 647.4,258.7 649.6,256.6 651.7,257.9 653.8,263 655.9,270.2 658.1,278.1 660.2,284.9 662.3,289 664.4,292.3 666.5,295.3 668.7,297.9 670.8,300.3 672.9,302.3 675,303.9 677.2,305.3 679.3,306.5 681.4,307.3 683.5,307.8 685.7,308.2 687.8,308.3 689.9,308.1 692,306 694.2,302.3 696.3,298.6 698.4,297.8 700.5,301.7 702.6,308.7 704.8,315.4 706.9,318.9 709,319.1 711.1,317.8 713.3,316.6 715.4,316.1 717.5,315.9 719.6,315.7 721.8,315.6 723.9,315.7 726,315.9 728.1,316.2 730.3,316.7 732.4,317.4 734.5,318.1" fill="none" stroke="#00e5ee" stroke-width="1.35" opacity="0.95" stroke-linejoin="round"/>
<polyline points="554,320.9 556.1,320.6 558.2,320.4 560.4,320.3 562.5,320.3 564.6,320.3 566.7,320.3 568.9,320.2 571,319.8 573.1,319 575.2,317.3 577.4,314.6 579.5,310.8 581.6,306.9 583.7,304.5 585.9,305 588,308 590.1,312 592.2,315.1 594.3,316.7 596.5,316.7 598.6,315.7 600.7,313.9 602.8,311.8 605,309.4 607.1,306.7 609.2,303.8 611.3,301 613.5,298.4 615.6,296 617.7,293.8 619.8,291.7 622,289.4 624.1,286.7 626.2,283.4 628.3,279.2 630.4,273 632.6,265.4 634.7,257.4 636.8,249.6 638.9,242.8 641.1,237.7 643.2,234.8 645.3,234.8 647.4,239.7 649.6,248.2 651.7,258.2 653.8,267.7 655.9,274.6 658.1,277.9 660.2,280.5 662.3,282.6 664.4,284.2 666.5,285.2 668.7,285.6 670.8,285.4 672.9,285.1 675,284.8 677.2,285.1 679.3,286.2 681.4,288.2 683.5,290.7 685.7,292.9 687.8,293.2 689.9,292.4 692,291.8 694.2,292.8 696.3,294.6 698.4,296.7 700.5,299.1 702.6,301.5 704.8,303.7 706.9,305.5 709,306.8 711.1,307.7 713.3,308 715.4,308.2 717.5,308.4 719.6,308.9 721.8,309.7 723.9,310.8 726,312 728.1,313.4 730.3,314.6 732.4,315.6 734.5,316.1" fill="none" stroke="#a8f4f8" stroke-width="1.35" opacity="0.95" stroke-linejoin="round"/>
<polyline points="554,318.2 556.1,317.8 558.2,317.4 560.4,317.3 562.5,317.4 564.6,317.6 566.7,318 568.9,318.4 571,318.9 573.1,319.2 575.2,319.4 577.4,319.1 579.5,318 581.6,316.2 583.7,314.3 585.9,313.4 588,314 590.1,315.3 592.2,316.4 594.3,316.7 596.5,316.3 598.6,315.6 600.7,314.7 602.8,313.8 605,312.7 607.1,311.5 609.2,310.1 611.3,308.5 613.5,306.7 615.6,304.9 617.7,302.8 619.8,300.6 622,298 624.1,295.1 626.2,291.9 628.3,288.2 630.4,284.3 632.6,279.4 634.7,273.2 636.8,266.4 638.9,259.4 641.1,252.7 643.2,246.1 645.3,239.7 647.4,233.9 649.6,230.3 651.7,231.7 653.8,238.1 655.9,248.2 658.1,259.7 660.2,269.1 662.3,276.1 664.4,281.8 666.5,286.2 668.7,289.7 670.8,292.6 672.9,295.2 675,297.4 677.2,299.6 679.3,301.4 681.4,302.8 683.5,303.6 685.7,303.3 687.8,301.1 689.9,296.4 692,290.1 694.2,285.9 696.3,285.9 698.4,289.6 700.5,293.7 702.6,296.8 704.8,299.1 706.9,301.1 709,303.2 711.1,305.2 713.3,307.3 715.4,309.1 717.5,310.6 719.6,312.1 721.8,313.4 723.9,314.7 726,315.9 728.1,316.9 730.3,317.8 732.4,318.4 734.5,319" fill="none" stroke="#000080" stroke-width="1.35" opacity="0.95" stroke-linejoin="round"/>
<polyline points="554,323.3 556.1,323.4 558.2,323.4 560.4,323.2 562.5,322.7 564.6,322.1 566.7,321.4 568.9,320.7 571,319.9 573.1,319.4 575.2,319 577.4,318.9 579.5,319 581.6,319 583.7,318.7 585.9,317.8 588,316.4 590.1,315.4 592.2,315.2 594.3,315.3 596.5,314.8 598.6,313.4 600.7,311.5 602.8,309.7 605,308.5 607.1,308.1 609.2,308.2 611.3,308.6 613.5,308.8 615.6,308.5 617.7,307.4 619.8,305.6 622,303.1 624.1,300 626.2,296.5 628.3,292.1 630.4,286.5 632.6,280.1 634.7,273.6 636.8,267.4 638.9,262.1 641.1,258.2 643.2,256.1 645.3,256.4 647.4,260.5 649.6,267.2 651.7,275 653.8,282.4 655.9,287.8 658.1,291 660.2,293.8 662.3,296.3 664.4,298.6 666.5,300.7 668.7,302.7 670.8,304.6 672.9,306.5 675,308.2 677.2,309.6 679.3,310.6 681.4,311.2 683.5,311.2 685.7,310.4 687.8,307.9 689.9,305 692,302.5 694.2,301.6 696.3,301.7 698.4,302.5 700.5,303.9 702.6,305.7 704.8,307.8 706.9,310.1 709,312.3 711.1,314.3 713.3,315.9 715.4,317.1 717.5,318.1 719.6,318.7 721.8,319 723.9,319.2 726,319.3 728.1,319.3 730.3,319.5 732.4,319.6 734.5,319.8" fill="none" stroke="#0000f0" stroke-width="1.35" opacity="0.95" stroke-linejoin="round"/>
<polyline points="554,319.1 556.1,318.8 558.2,318.5 560.4,318.3 562.5,318.3 564.6,318.6 566.7,319.2 568.9,320 571,320.9 573.1,321.9 575.2,322.7 577.4,323.2 579.5,323.3 581.6,323 583.7,322 585.9,320.5 588,318.7 590.1,316.7 592.2,315 594.3,314 596.5,313.7 598.6,314.2 600.7,315.1 602.8,316.1 605,316.8 607.1,317 609.2,316.7 611.3,316 613.5,315.1 615.6,314.1 617.7,313.2 619.8,312.4 622,311.9 624.1,311.7 626.2,311.6 628.3,311.5 630.4,311.2 632.6,310.4 634.7,309.2 636.8,307.6 638.9,305.8 641.1,304 643.2,302.4 645.3,301.3 647.4,301 649.6,302 651.7,303.9 653.8,306.2 655.9,308.5 658.1,310.1 660.2,311.1 662.3,311.9 664.4,312.4 666.5,312.5 668.7,312.5 670.8,312.3 672.9,312 675,311.9 677.2,312 679.3,312.3 681.4,313.1 683.5,314.5 685.7,316.8 687.8,319.3 689.9,321 692,321.4 694.2,320.5 696.3,319.5 698.4,319.1 700.5,319.6 702.6,320.7 704.8,321.7 706.9,322.5 709,322.9 711.1,323 713.3,322.8 715.4,322.6 717.5,322.2 719.6,321.6 721.8,320.6 723.9,319.3 726,318.2 728.1,317.4 730.3,317.1 732.4,317.2 734.5,317.3" fill="none" stroke="#a4c8f8" stroke-width="1.35" opacity="0.95" stroke-linejoin="round"/>
<polyline points="554,322.1 556.1,322.7 558.2,323.2 560.4,323.7 562.5,324 564.6,324.3 566.7,324.5 568.9,324.6 571,324.7 573.1,324.8 575.2,324.9 577.4,325.1 579.5,325.3 581.6,325.8 583.7,326.5 585.9,327.7 588,329.3 590.1,330.7 592.2,331.3 594.3,330.6 596.5,329 598.6,327.4 600.7,326 602.8,325.1 605,324.5 607.1,324 609.2,323.7 611.3,323.5 613.5,323.6 615.6,323.9 617.7,324.4 619.8,325.1 622,325.9 624.1,326.9 626.2,328 628.3,329.1 630.4,330.3 632.6,331.5 634.7,332.4 636.8,333.1 638.9,333.5 641.1,333.6 643.2,333.3 645.3,332.5 647.4,331.3 649.6,329.8 651.7,328.3 653.8,327 655.9,326 658.1,325.3 660.2,324.5 662.3,323.7 664.4,323 666.5,322.5 668.7,322.3 670.8,322.2 672.9,322.1 675,321.9 677.2,321.7 679.3,321.8 681.4,322.2 683.5,323.1 685.7,324.2 687.8,325.4 689.9,326.6 692,327.5 694.2,328.1 696.3,328.5 698.4,328.9 700.5,329 702.6,329 704.8,328.8 706.9,328.4 709,327.8 711.1,327 713.3,326.1 715.4,325.2 717.5,324.3 719.6,323.4 721.8,322.6 723.9,321.9 726,321.5 728.1,321.2 730.3,321.2 732.4,321.5 734.5,321.9" fill="none" stroke="#4b0082" stroke-width="1.35" opacity="0.95" stroke-linejoin="round"/>
<polyline points="554,318.4 556.1,318.6 558.2,318.5 560.4,318.3 562.5,318 564.6,317.7 566.7,317.6 568.9,317.7 571,317.9 573.1,318.2 575.2,318.5 577.4,318.7 579.5,318.7 581.6,318.4 583.7,317.9 585.9,317.3 588,316.6 590.1,316.2 592.2,316.4 594.3,317.2 596.5,318.6 598.6,320.3 600.7,321.9 602.8,322.8 605,323.2 607.1,323.3 609.2,323.6 611.3,324.4 613.5,325.6 615.6,326.6 617.7,327 619.8,326.9 622,326.7 624.1,326.9 626.2,327.6 628.3,328.6 630.4,329.6 632.6,330.3 634.7,330.7 636.8,331.4 638.9,333 641.1,335.3 643.2,337.3 645.3,338.1 647.4,337.4 649.6,335.3 651.7,332.7 653.8,330.3 655.9,328.4 658.1,327.6 660.2,327.1 662.3,326.6 664.4,326.1 666.5,325.4 668.7,324.6 670.8,323.8 672.9,323 675,322.4 677.2,322.1 679.3,322.1 681.4,322.3 683.5,322.8 685.7,323.2 687.8,324 689.9,324.8 692,325.2 694.2,325 696.3,324 698.4,322.7 700.5,321.3 702.6,320 704.8,318.9 706.9,318.1 709,317.6 711.1,317.5 713.3,317.6 715.4,317.9 717.5,318.2 719.6,318.4 721.8,318.4 723.9,318.3 726,318.2 728.1,318.2 730.3,318.3 732.4,318.6 734.5,319.1" fill="none" stroke="#7b1ff0" stroke-width="1.35" opacity="0.95" stroke-linejoin="round"/>
<polyline points="554,323.8 556.1,323.7 558.2,323.7 560.4,323.9 562.5,324.3 564.6,324.9 566.7,325.5 568.9,326 571,326.3 573.1,326.2 575.2,325.9 577.4,325.2 579.5,324.2 581.6,323.2 583.7,322.1 585.9,321.1 588,320.2 590.1,319.3 592.2,318.7 594.3,318.4 596.5,318.5 598.6,319.3 600.7,320.5 602.8,322 605,323.6 607.1,324.6 609.2,324.4 611.3,323.1 613.5,321.3 615.6,320 617.7,319.5 619.8,319.6 622,319.9 624.1,320.2 626.2,320.1 628.3,319.5 630.4,318.1 632.6,316.2 634.7,314 636.8,311.8 638.9,309.8 641.1,308.3 643.2,307.5 645.3,307.5 647.4,308.6 649.6,310.4 651.7,312.4 653.8,314.1 655.9,315 658.1,315.3 660.2,315.4 662.3,315.5 664.4,315.6 666.5,316 668.7,316.5 670.8,317.4 672.9,318.4 675,319.4 677.2,319.9 679.3,320 681.4,319.8 683.5,319.7 685.7,319.8 687.8,319.7 689.9,319.4 692,318.9 694.2,318.7 696.3,318.8 698.4,319.1 700.5,319.6 702.6,320.2 704.8,320.8 706.9,321.3 709,321.4 711.1,321.3 713.3,320.9 715.4,320.4 717.5,319.9 719.6,319.5 721.8,319.5 723.9,319.7 726,320.4 728.1,321.2 730.3,322.2 732.4,323.2 734.5,324" fill="none" stroke="#c8a2f0" stroke-width="1.35" opacity="0.95" stroke-linejoin="round"/>
<polyline points="554,320.8 556.1,320.8 558.2,320.9 560.4,321 562.5,321.1 564.6,321.2 566.7,321.3 568.9,321.2 571,321 573.1,320.7 575.2,320.1 577.4,319.3 579.5,318.1 581.6,316.7 583.7,315.6 585.9,315.2 588,315.8 590.1,317.1 592.2,318.7 594.3,320.1 596.5,321 598.6,321.2 600.7,320.8 602.8,320 605,318.8 607.1,317.3 609.2,315.6 611.3,313.9 613.5,312.1 615.6,310.3 617.7,308.5 619.8,306.9 622,305.2 624.1,303.6 626.2,301.9 628.3,299.5 630.4,296.5 632.6,292.9 634.7,289 636.8,284.8 638.9,279.8 641.1,274.1 643.2,269.3 645.3,268.9 647.4,274.3 649.6,282.4 651.7,289.9 653.8,295.4 655.9,298.7 658.1,301 660.2,303.1 662.3,305.1 664.4,306.8 666.5,308.1 668.7,308.9 670.8,309.1 672.9,308.6 675,307.4 677.2,305.7 679.3,304.2 681.4,303.5 683.5,304.3 685.7,306.1 687.8,308 689.9,309.4 692,310.1 694.2,310.6 696.3,311 698.4,311.9 700.5,313.5 702.6,315.3 704.8,317.2 706.9,318.9 709,320.2 711.1,321.1 713.3,321.5 715.4,321.6 717.5,321.4 719.6,321.2 721.8,320.8 723.9,320.5 726,320.3 728.1,320.1 730.3,320 732.4,319.9 734.5,319.9" fill="none" stroke="#8b0a50" stroke-width="1.35" opacity="0.95" stroke-linejoin="round"/>
<polyline points="554,320.3 556.1,320.4 558.2,320.4 560.4,320.4 562.5,320.3 564.6,320.1 566.7,319.9 568.9,319.6 571,319.3 573.1,319.2 575.2,319.2 577.4,319.5 579.5,320.2 581.6,321.2 583.7,322.3 585.9,323.2 588,323.8 590.1,324.1 592.2,324.3 594.3,324.5 596.5,324.8 598.6,325.2 600.7,325.6 602.8,326.1 605,326.7 607.1,327.4 609.2,328.4 611.3,329.5 613.5,330.2 615.6,330.2 617.7,329.8 619.8,329.6 622,330 624.1,330.5 626.2,329.9 628.3,328.2 630.4,326.6 632.6,326 634.7,326.3 636.8,327.2 638.9,328.4 641.1,329.6 643.2,330.7 645.3,331.6 647.4,331.7 649.6,330.7 651.7,328.9 653.8,327 655.9,326.2 658.1,326.5 660.2,327 662.3,327.3 664.4,327.6 666.5,327.8 668.7,328 670.8,328.2 672.9,328.3 675,328.4 677.2,328.3 679.3,328 681.4,327.6 683.5,327.1 685.7,326.5 687.8,325.9 689.9,325.2 692,324.7 694.2,324.6 696.3,324.6 698.4,324.7 700.5,324.5 702.6,324.2 704.8,323.9 706.9,323.7 709,323.4 711.1,323.1 713.3,322.8 715.4,322.5 717.5,322.2 719.6,321.9 721.8,321.5 723.9,321.2 726,320.9 728.1,320.6 730.3,320.5 732.4,320.4 734.5,320.4" fill="none" stroke="#ea1070" stroke-width="1.35" opacity="0.95" stroke-linejoin="round"/>
<polyline points="554,324 556.1,324.9 558.2,325.7 560.4,326.5 562.5,327.2 564.6,327.7 566.7,327.9 568.9,327.9 571,327.8 573.1,327.4 575.2,326.9 577.4,326.4 579.5,325.9 581.6,325.4 583.7,325.1 585.9,324.9 588,324.8 590.1,324.8 592.2,324.9 594.3,324.9 596.5,324.9 598.6,324.9 600.7,324.7 602.8,324.4 605,324 607.1,323.6 609.2,323.1 611.3,322.8 613.5,322.6 615.6,322.5 617.7,322.7 619.8,323 622,323.5 624.1,324 626.2,324.6 628.3,325.2 630.4,325.7 632.6,326 634.7,326.3 636.8,326.4 638.9,326.5 641.1,326.4 643.2,326.3 645.3,326 647.4,325.6 649.6,325.1 651.7,324.4 653.8,323.6 655.9,322.7 658.1,321.8 660.2,321.2 662.3,321 664.4,321.1 666.5,321.6 668.7,322.1 670.8,322.4 672.9,322.6 675,322.5 677.2,322.3 679.3,322 681.4,321.8 683.5,321.8 685.7,322 687.8,322.3 689.9,322.9 692,323.7 694.2,324.6 696.3,325.5 698.4,326.4 700.5,327.1 702.6,327.7 704.8,328.2 706.9,328.8 709,329.5 711.1,329.8 713.3,329.3 715.4,328.1 717.5,326.9 719.6,326.1 721.8,325.7 723.9,325.6 726,325.6 728.1,325.6 730.3,325.7 732.4,325.7 734.5,325.6" fill="none" stroke="#f274b4" stroke-width="1.35" opacity="0.95" stroke-linejoin="round"/>
<polyline points="554,322.6 556.1,322.7 558.2,322.6 560.4,322.6 562.5,322.5 564.6,322.5 566.7,322.6 568.9,322.8 571,323.1 573.1,323.6 575.2,324.1 577.4,324.7 579.5,325.2 581.6,325.7 583.7,326.2 585.9,326.6 588,327 590.1,327.8 592.2,328.9 594.3,330 596.5,330.6 598.6,330.1 600.7,328.9 602.8,327.8 605,327.5 607.1,328.3 609.2,329.9 611.3,331.9 613.5,333.7 615.6,335 617.7,335.7 619.8,335.8 622,335.6 624.1,335.4 626.2,335.3 628.3,335.8 630.4,337 632.6,338.7 634.7,340.7 636.8,342.7 638.9,344.7 641.1,346.3 643.2,347.2 645.3,347.2 647.4,346.3 649.6,344.3 651.7,341.7 653.8,339.2 655.9,337.3 658.1,335.7 660.2,334 662.3,332.2 664.4,330.5 666.5,329 668.7,327.6 670.8,326.5 672.9,325.6 675,325.1 677.2,324.9 679.3,325 681.4,325.3 683.5,325.7 685.7,326.3 687.8,327.2 689.9,327.6 692,327.3 694.2,326 696.3,324.6 698.4,323.6 700.5,323.3 702.6,323.7 704.8,324.4 706.9,325 709,325.4 711.1,325.6 713.3,325.9 715.4,326.2 717.5,326.3 719.6,326.4 721.8,326.4 723.9,326.1 726,325.7 728.1,325.1 730.3,324.4 732.4,323.7 734.5,323" fill="none" stroke="#8b008b" stroke-width="1.35" opacity="0.95" stroke-linejoin="round"/>
<polyline points="554,321 556.1,321.4 558.2,321.9 560.4,322.6 562.5,323.2 564.6,323.8 566.7,324.3 568.9,324.7 571,324.9 573.1,324.9 575.2,324.9 577.4,324.7 579.5,324.6 581.6,324.5 583.7,324.5 585.9,324.5 588,324.7 590.1,324.9 592.2,325.2 594.3,325.5 596.5,325.7 598.6,325.9 600.7,325.9 602.8,325.9 605,325.8 607.1,325.7 609.2,325.6 611.3,325.5 613.5,325.7 615.6,326 617.7,326.5 619.8,327.2 622,328.2 624.1,329.3 626.2,330.7 628.3,332.1 630.4,333.5 632.6,334.9 634.7,336.4 636.8,338 638.9,339.6 641.1,340.9 643.2,341.9 645.3,342.5 647.4,342.6 649.6,342.1 651.7,340.6 653.8,338 655.9,334.8 658.1,331.5 660.2,328.7 662.3,326.9 664.4,325.8 666.5,325.3 668.7,325.3 670.8,325.6 672.9,326 675,326.2 677.2,326.1 679.3,325.9 681.4,325.6 683.5,325.2 685.7,324.7 687.8,324.1 689.9,323.8 692,324.3 694.2,325.6 696.3,327.2 698.4,328.4 700.5,329.1 702.6,329.3 704.8,329.1 706.9,328.6 709,327.8 711.1,327 713.3,326.1 715.4,325.3 717.5,324.5 719.6,324 721.8,323.6 723.9,323.4 726,323.5 728.1,323.7 730.3,324.1 732.4,324.6 734.5,325.1" fill="none" stroke="#f000f0" stroke-width="1.35" opacity="0.95" stroke-linejoin="round"/>
<polyline points="554,319.7 556.1,319.1 558.2,318.6 560.4,318.5 562.5,318.6 564.6,319.1 566.7,319.7 568.9,320.5 571,321.3 573.1,322.2 575.2,323.3 577.4,324.6 579.5,325.4 581.6,325.2 583.7,323.9 585.9,322.2 588,321.2 590.1,321.2 592.2,321.9 594.3,322.9 596.5,324 598.6,324.9 600.7,325.4 602.8,325.7 605,325.6 607.1,325.3 609.2,324.7 611.3,324 613.5,323.3 615.6,322.6 617.7,322 619.8,321.6 622,321.4 624.1,321.4 626.2,321.6 628.3,321.9 630.4,322.4 632.6,323.2 634.7,324.1 636.8,325.2 638.9,326.2 641.1,327.2 643.2,328.1 645.3,328.7 647.4,329.2 649.6,329.2 651.7,329.1 653.8,328.9 655.9,328.7 658.1,328.7 660.2,328.7 662.3,328.6 664.4,328.4 666.5,328.1 668.7,327.7 670.8,327.1 672.9,326.2 675,325 677.2,323.7 679.3,322.6 681.4,321.7 683.5,321.3 685.7,321.3 687.8,321.6 689.9,322.1 692,322.6 694.2,322.9 696.3,322.9 698.4,322.7 700.5,322.4 702.6,322.1 704.8,322 706.9,322 709,322.2 711.1,322.7 713.3,323.3 715.4,324 717.5,324.7 719.6,325.3 721.8,325.6 723.9,325.6 726,325.4 728.1,324.9 730.3,324.2 732.4,323.5 734.5,322.8" fill="none" stroke="#f47cf4" stroke-width="1.35" opacity="0.95" stroke-linejoin="round"/>
<polyline points="554,321.3 556.1,321.3 558.2,321.3 560.4,321.3 562.5,321.4 564.6,321.4 566.7,321.4 568.9,321.4 571,321.3 573.1,321.3 575.2,321.2 577.4,321.1 579.5,320.9 581.6,320.7 583.7,320.6 585.9,320.4 588,320.3 590.1,320.3 592.2,320.4 594.3,320.5 596.5,320.7 598.6,321 600.7,321.4 602.8,321.7 605,322.1 607.1,322.4 609.2,322.7 611.3,322.9 613.5,323.1 615.6,323.2 617.7,323.3 619.8,323.4 622,323.5 624.1,323.5 626.2,323.6 628.3,323.6 630.4,323.5 632.6,323.4 634.7,323.3 636.8,323.1 638.9,323 641.1,322.8 643.2,322.6 645.3,322.4 647.4,322.3 649.6,322.3 651.7,322.3 653.8,322.4 655.9,322.5 658.1,322.6 660.2,322.8 662.3,322.9 664.4,323 666.5,323 668.7,322.9 670.8,322.7 672.9,322.4 675,322 677.2,321.7 679.3,321.3 681.4,321 683.5,320.7 685.7,320.4 687.8,320.3 689.9,320.3 692,320.4 694.2,320.5 696.3,320.7 698.4,320.8 700.5,321 702.6,321 704.8,321 706.9,320.9 709,320.8 711.1,320.6 713.3,320.4 715.4,320.2 717.5,319.9 719.6,319.7 721.8,319.4 723.9,319.1 726,318.9 728.1,318.6 730.3,318.4 732.4,318.2 734.5,318.1" fill="none" stroke="#111" stroke-width="1.6" opacity="0.95" stroke-linejoin="round"/>
<line x1="554.0" y1="229.6" x2="554.0" y2="346.2" stroke="#333" stroke-width="1.0" />
<line x1="554.0" y1="346.2" x2="735.1" y2="346.2" stroke="#333" stroke-width="1.0" />
<line x1="550.5" y1="233.3" x2="554.0" y2="233.3" stroke="#333" stroke-width="0.9" />
<text x="547.0" y="236.8" font-size="9.9" text-anchor="end" font-weight="normal" fill="#333" >25</text>
<line x1="550.5" y1="249.3" x2="554.0" y2="249.3" stroke="#333" stroke-width="0.9" />
<text x="547.0" y="252.8" font-size="9.9" text-anchor="end" font-weight="normal" fill="#333" >20</text>
<line x1="550.5" y1="265.3" x2="554.0" y2="265.3" stroke="#333" stroke-width="0.9" />
<text x="547.0" y="268.8" font-size="9.9" text-anchor="end" font-weight="normal" fill="#333" >15</text>
<line x1="550.5" y1="281.3" x2="554.0" y2="281.3" stroke="#333" stroke-width="0.9" />
<text x="547.0" y="284.8" font-size="9.9" text-anchor="end" font-weight="normal" fill="#333" >10</text>
<line x1="550.5" y1="297.3" x2="554.0" y2="297.3" stroke="#333" stroke-width="0.9" />
<text x="547.0" y="300.8" font-size="9.9" text-anchor="end" font-weight="normal" fill="#333" >5</text>
<line x1="550.5" y1="313.3" x2="554.0" y2="313.3" stroke="#333" stroke-width="0.9" />
<text x="547.0" y="316.8" font-size="9.9" text-anchor="end" font-weight="normal" fill="#333" >0</text>
<line x1="550.5" y1="329.3" x2="554.0" y2="329.3" stroke="#333" stroke-width="0.9" />
<text x="547.0" y="332.8" font-size="9.9" text-anchor="end" font-weight="normal" fill="#333" >–5</text>
<line x1="550.5" y1="345.3" x2="554.0" y2="345.3" stroke="#333" stroke-width="0.9" />
<text x="547.0" y="348.8" font-size="9.9" text-anchor="end" font-weight="normal" fill="#333" >–10</text>
<line x1="554.0" y1="346.2" x2="554.0" y2="349.4" stroke="#333" stroke-width="0.9" />
<text x="554.0" y="361.5" font-size="9.9" text-anchor="middle" font-weight="normal" fill="#333" >0</text>
<line x1="573.0" y1="346.2" x2="573.0" y2="349.4" stroke="#333" stroke-width="0.9" />
<text x="573.0" y="361.5" font-size="9.9" text-anchor="middle" font-weight="normal" fill="#333" >1</text>
<line x1="592.0" y1="346.2" x2="592.0" y2="349.4" stroke="#333" stroke-width="0.9" />
<text x="592.0" y="361.5" font-size="9.9" text-anchor="middle" font-weight="normal" fill="#333" >2</text>
<line x1="611.0" y1="346.2" x2="611.0" y2="349.4" stroke="#333" stroke-width="0.9" />
<text x="611.0" y="361.5" font-size="9.9" text-anchor="middle" font-weight="normal" fill="#333" >3</text>
<line x1="630.0" y1="346.2" x2="630.0" y2="349.4" stroke="#333" stroke-width="0.9" />
<text x="630.0" y="361.5" font-size="9.9" text-anchor="middle" font-weight="normal" fill="#333" >4</text>
<line x1="649.0" y1="346.2" x2="649.0" y2="349.4" stroke="#333" stroke-width="0.9" />
<text x="649.0" y="361.5" font-size="9.9" text-anchor="middle" font-weight="normal" fill="#333" >5</text>
<line x1="668.0" y1="346.2" x2="668.0" y2="349.4" stroke="#333" stroke-width="0.9" />
<text x="668.0" y="361.5" font-size="9.9" text-anchor="middle" font-weight="normal" fill="#333" >6</text>
<line x1="687.0" y1="346.2" x2="687.0" y2="349.4" stroke="#333" stroke-width="0.9" />
<text x="687.0" y="361.5" font-size="9.9" text-anchor="middle" font-weight="normal" fill="#333" >7</text>
<line x1="706.0" y1="346.2" x2="706.0" y2="349.4" stroke="#333" stroke-width="0.9" />
<text x="706.0" y="361.5" font-size="9.9" text-anchor="middle" font-weight="normal" fill="#333" >8</text>
<line x1="725.0" y1="346.2" x2="725.0" y2="349.4" stroke="#333" stroke-width="0.9" />
<text x="725.0" y="361.5" font-size="9.9" text-anchor="middle" font-weight="normal" fill="#333" >9</text>
<text x="267.5" y="381.5" font-size="15" text-anchor="start" font-weight="bold" fill="#000" stroke="#000" stroke-width="0.5">g</text>
<text x="405.0" y="387.5" font-size="10.5" text-anchor="middle" font-weight="normal" fill="#231f20" textLength="131.1" lengthAdjust="spacingAndGlyphs" >Explained variance: 10.14%</text>
<rect x="311.3" y="395.8" width="23.5" height="118.2" fill="#e6e6e6" />
<line x1="334.8" y1="395.8" x2="334.8" y2="514.0" stroke="#9a9a9a" stroke-width="0.6" stroke-dasharray="1.5,1.5"/>
<line x1="370.7" y1="395.8" x2="370.7" y2="514.0" stroke="#9a9a9a" stroke-width="0.6" stroke-dasharray="1.5,1.5"/>
<line x1="430.6" y1="395.8" x2="430.6" y2="514.0" stroke="#9a9a9a" stroke-width="0.6" stroke-dasharray="1.5,1.5"/>
<line x1="490.5" y1="395.8" x2="490.5" y2="514.0" stroke="#9a9a9a" stroke-width="0.6" stroke-dasharray="1.5,1.5"/>
<text x="324.0" y="398.7" font-size="6.3" text-anchor="middle" font-weight="normal" fill="#333" >Delay</text>
<text x="363.3" y="401.5" font-size="9" text-anchor="middle" font-weight="normal" fill="#333" >Go</text>
<text x="410.2" y="401.5" font-size="9" text-anchor="middle" font-weight="normal" fill="#333" >Trial end</text>
<text x="474.3" y="401.5" font-size="9" text-anchor="middle" font-weight="normal" fill="#333" >ITI end</text>
<text x="277.0" y="439.7" font-size="10" text-anchor="middle" font-weight="normal" fill="#231f20" >T18</text>
<text x="276.0" y="452.0" font-size="10" text-anchor="middle" font-weight="normal" fill="#231f20" >PC2</text>
<polyline points="310.8,465.5 313.5,464.9 316.2,463.9 318.8,462.7 321.5,461.1 324.2,459.3 326.9,457.5 329.6,455.7 332.3,453.8 334.9,451.6 337.6,448.3 340.3,444.3 343,440.4 345.7,437.7 348.3,437 351,437.4 353.7,437.3 356.4,435.9 359.1,433.8 361.8,432.5 364.4,431.8 367.1,430.6 369.8,428.1 372.5,423.2 375.2,416.9 377.9,410.8 380.5,406.5 383.2,405 385.9,405.5 388.6,407.2 391.3,409.4 393.9,411.3 396.6,413.3 399.3,415.9 402,419.1 404.7,422.5 407.4,425.8 410,428.6 412.7,431 415.4,432.9 418.1,433.8 420.8,433.8 423.4,432.8 426.1,430.6 428.8,427.2 431.5,423.4 434.2,419.8 436.9,417 439.5,415.7 442.2,416.4 444.9,418.9 447.6,422.4 450.3,426.5 453,430.5 455.6,434 458.3,436.5 461,438.4 463.7,440.4 466.4,442.5 469,444.6 471.7,446.7 474.4,448.6 477.1,450.2 479.8,451.8 482.5,452.5 485.1,452.8 487.8,452.7 490.5,452.5" fill="none" stroke="#00bb00" stroke-width="1.35" opacity="0.95" stroke-linejoin="round"/>
<polyline points="310.8,461.7 313.5,461.5 316.2,461.5 318.8,461.4 321.5,461.1 324.2,460.5 326.9,459.6 329.6,458.4 332.3,456.7 334.9,454.2 337.6,450.2 340.3,445.1 343,439.9 345.7,435.8 348.3,433.4 351,432.1 353.7,431.3 356.4,430.3 359.1,429.3 361.8,428.8 364.4,428.1 367.1,426.5 369.8,422.8 372.5,417.4 375.2,411.9 377.9,407.7 380.5,406.2 383.2,407.1 385.9,409.3 388.6,411.8 391.3,413.8 393.9,414.8 396.6,416.1 399.3,417.7 402,419.4 404.7,421 407.4,422.2 410,423.2 412.7,424.3 415.4,425.4 418.1,426.2 420.8,426.5 423.4,426 426.1,424.2 428.8,421.3 431.5,418.1 434.2,415.3 436.9,413.4 439.5,413.3 442.2,415.1 444.9,418.2 447.6,422.3 450.3,426.5 453,430.5 455.6,433.8 458.3,435.8 461,437.7 463.7,439.5 466.4,441.1 469,442.7 471.7,444.1 474.4,445.6 477.1,447.7 479.8,449.7 482.5,451.4 485.1,452.8 487.8,453.8 490.5,454.4" fill="none" stroke="#44ee44" stroke-width="1.35" opacity="0.95" stroke-linejoin="round"/>
<polyline points="310.8,458.3 313.5,457.5 316.2,456.7 318.8,456.1 321.5,455.5 324.2,454.9 326.9,454.4 329.6,453.9 332.3,453 334.9,451.6 337.6,449.1 340.3,445.7 343,442 345.7,438.6 348.3,436.2 351,434.8 353.7,434 356.4,433.3 359.1,432.6 361.8,432.1 364.4,431.8 367.1,431.1 369.8,429.7 372.5,426.6 375.2,421.5 377.9,415.8 380.5,410.8 383.2,407.5 385.9,406.2 388.6,406 391.3,406.9 393.9,409.2 396.6,412.3 399.3,416.2 402,420.1 404.7,423.3 407.4,425.6 410,427.2 412.7,428.2 415.4,429 418.1,429.4 420.8,429.4 423.4,428.8 426.1,427.5 428.8,425 431.5,421.5 434.2,417.7 436.9,414.1 439.5,411.6 442.2,410.9 444.9,412.5 447.6,415.9 450.3,420.7 453,425.9 455.6,430.8 458.3,434.9 461,437.7 463.7,440 466.4,442.2 469,444.4 471.7,446.4 474.4,448.2 477.1,449.7 479.8,450.9 482.5,451.6 485.1,451.7 487.8,451.3 490.5,450.8" fill="none" stroke="#a8f078" stroke-width="1.35" opacity="0.95" stroke-linejoin="round"/>
<polyline points="310.8,466.5 313.5,467.1 316.2,467.4 318.8,467.4 321.5,466.9 324.2,465.9 326.9,464.4 329.6,462.5 332.3,460.2 334.9,457.6 337.6,454.1 340.3,450.3 343,446.7 345.7,444.1 348.3,442.9 351,442.7 353.7,443 356.4,443.3 359.1,443.3 361.8,443.6 364.4,443.9 367.1,444 369.8,443.2 372.5,440.2 375.2,435.6 377.9,430.8 380.5,427.9 383.2,427.5 385.9,428.7 388.6,430.5 391.3,432.1 393.9,432.8 396.6,433.3 399.3,433.9 402,434.7 404.7,435.7 407.4,436.6 410,437.5 412.7,438.5 415.4,439.6 418.1,440.4 420.8,441 423.4,441.1 426.1,440.5 428.8,439.2 431.5,437.4 434.2,435.7 436.9,434.4 439.5,433.9 442.2,434.6 444.9,436.2 447.6,438.3 450.3,440.6 453,442.9 455.6,444.7 458.3,446 461,447 463.7,448.2 466.4,449.5 469,451 471.7,452.4 474.4,453.8 477.1,455.3 479.8,456.6 482.5,457.6 485.1,458.2 487.8,458.6 490.5,458.8" fill="none" stroke="#c8c800" stroke-width="1.35" opacity="0.95" stroke-linejoin="round"/>
<polyline points="310.8,465.4 313.5,464.9 316.2,464.3 318.8,463.5 321.5,462.6 324.2,461.4 326.9,460.2 329.6,458.8 332.3,457.2 334.9,455.3 337.6,452.6 340.3,449.3 343,446.1 345.7,443.5 348.3,442 351,441.3 353.7,441.1 356.4,440.9 359.1,440.6 361.8,440.6 364.4,440.6 367.1,440.3 369.8,439.1 372.5,436.4 375.2,432.9 377.9,429.4 380.5,427.1 383.2,426.7 385.9,427.5 388.6,429 391.3,430.7 393.9,432.2 396.6,433.5 399.3,435.1 402,436.8 404.7,438.1 407.4,438.8 410,439 412.7,439.1 415.4,439.5 418.1,440.1 420.8,440.8 423.4,441.2 426.1,440.9 428.8,439.5 431.5,437.5 434.2,435.2 436.9,433.1 439.5,431.8 442.2,431.7 444.9,433 447.6,435.4 450.3,438.5 453,441.6 455.6,444.3 458.3,445.8 461,446.7 463.7,447.6 466.4,448.8 469,450 471.7,451.2 474.4,452.3 477.1,453.3 479.8,454.4 482.5,455 485.1,455.4 487.8,455.6 490.5,455.8" fill="none" stroke="#f8f820" stroke-width="1.35" opacity="0.95" stroke-linejoin="round"/>
<polyline points="310.8,465.9 313.5,465.8 316.2,465.7 318.8,465.4 321.5,464.9 324.2,464.1 326.9,463.2 329.6,462 332.3,460.7 334.9,459.1 337.6,456.7 340.3,454 343,451.5 345.7,450 348.3,449.7 351,450.2 353.7,450.8 356.4,451 359.1,450.7 361.8,450.1 364.4,448.8 367.1,446.3 369.8,442.2 372.5,437 375.2,432 377.9,428.3 380.5,426.8 383.2,427.2 385.9,428.8 388.6,431.1 391.3,433.3 393.9,435.1 396.6,437.1 399.3,439 402,440.6 404.7,442 407.4,442.9 410,443.6 412.7,444.3 415.4,444.7 418.1,444.8 420.8,444.4 423.4,443.5 426.1,441.7 428.8,439.3 431.5,436.8 434.2,434.8 436.9,433.5 439.5,433.5 442.2,434.8 444.9,437 447.6,439.8 450.3,442.8 453,445.6 455.6,448 458.3,449.7 461,451.6 463.7,453.4 466.4,455.4 469,457.3 471.7,459 474.4,460.6 477.1,462.3 479.8,463.9 482.5,465.9 485.1,467.8 487.8,468.1 490.5,466" fill="none" stroke="#f8f8a0" stroke-width="1.35" opacity="0.95" stroke-linejoin="round"/>
<polyline points="310.8,461.5 313.5,460.3 316.2,459.2 318.8,458.1 321.5,457.1 324.2,456 326.9,455 329.6,453.8 332.3,452.3 334.9,450.3 337.6,447.5 340.3,444 343,440.3 345.7,437.2 348.3,435.2 351,434.3 353.7,434 356.4,433.8 359.1,433.3 361.8,432.7 364.4,432.3 367.1,432.2 369.8,432 372.5,430.8 375.2,427.8 377.9,423.8 380.5,419.8 383.2,417.1 385.9,416.5 388.6,417.4 391.3,419.3 393.9,421.6 396.6,423.4 399.3,425.4 402,427.7 404.7,430.5 407.4,433.4 410,435.7 412.7,436.5 415.4,436.6 418.1,436.6 420.8,436.9 423.4,437.5 426.1,437.7 428.8,437.1 431.5,435.3 434.2,432.8 436.9,429.9 439.5,427.2 442.2,425.4 444.9,424.9 447.6,425.7 450.3,427.5 453,430.1 455.6,433.1 458.3,436.1 461,438.5 463.7,440.7 466.4,442.7 469,444.6 471.7,446.1 474.4,447.4 477.1,448.4 479.8,449.4 482.5,450.5 485.1,451.3 487.8,452 490.5,452.8" fill="none" stroke="#c86400" stroke-width="1.35" opacity="0.95" stroke-linejoin="round"/>
<polyline points="310.8,465.2 313.5,465.4 316.2,465.3 318.8,465 321.5,464.3 324.2,463.3 326.9,462.2 329.6,460.8 332.3,459.2 334.9,457.3 337.6,454.7 340.3,451.4 343,448.1 345.7,445.1 348.3,443 351,441.6 353.7,440.7 356.4,440.1 359.1,439.5 361.8,439.4 364.4,439.7 367.1,440 369.8,439.6 372.5,437.5 375.2,433.7 377.9,429.4 380.5,425.7 383.2,424 385.9,424.3 388.6,425.9 391.3,428.2 393.9,430.3 396.6,431.8 399.3,433.2 402,434.5 404.7,435.7 407.4,436.6 410,437.3 412.7,437.9 415.4,438.8 418.1,439.9 420.8,441.2 423.4,442.5 426.1,443.5 428.8,443.5 431.5,441.9 434.2,439 436.9,435.5 439.5,432.2 442.2,430.3 444.9,430.3 447.6,431.7 450.3,434.2 453,437.2 455.6,440.3 458.3,443.2 461,445.5 463.7,447.8 466.4,450.1 469,452.3 471.7,454.4 474.4,456.1 477.1,457.4 479.8,458.6 482.5,459.3 485.1,459.4 487.8,459.1 490.5,458.5" fill="none" stroke="#f8a040" stroke-width="1.35" opacity="0.95" stroke-linejoin="round"/>
<polyline points="310.8,470.2 313.5,470.2 316.2,469.9 318.8,469.3 321.5,468.1 324.2,466.4 326.9,464.3 329.6,461.7 332.3,458.6 334.9,455 337.6,450.1 340.3,444.6 343,439.3 345.7,435.2 348.3,433 351,432.3 353.7,432.3 356.4,432.4 359.1,432.2 361.8,432.3 364.4,432.2 367.1,431.3 369.8,428.8 372.5,423.7 375.2,417.2 377.9,410.9 380.5,406.5 383.2,405.2 385.9,406.2 388.6,408.6 391.3,411.5 393.9,414 396.6,416.1 399.3,418.5 402,420.9 404.7,423.2 407.4,425.2 410,426.6 412.7,427.8 415.4,428.7 418.1,428.9 420.8,428.2 423.4,426.4 426.1,423.5 428.8,419.4 431.5,414.9 434.2,411 436.9,408.4 439.5,407.8 442.2,409.4 444.9,412.9 447.6,417.4 450.3,422.6 453,428.3 455.6,434 458.3,438.6 461,442 463.7,444.6 466.4,446.7 469,448.1 471.7,448.6 474.4,448.4 477.1,448.1 479.8,449.1 482.5,451 485.1,453.4 487.8,455.6 490.5,457" fill="none" stroke="#f8c8a0" stroke-width="1.35" opacity="0.95" stroke-linejoin="round"/>
<polyline points="310.8,462.9 313.5,462.3 316.2,461.7 318.8,461 321.5,460.1 324.2,459.1 326.9,458 329.6,456.6 332.3,454.9 334.9,452.5 337.6,449 340.3,444.5 343,439.6 345.7,435.3 348.3,432.3 351,430.4 353.7,429.4 356.4,428.7 359.1,427.9 361.8,427.2 364.4,427 367.1,426.6 369.8,425.6 372.5,422.9 375.2,417.8 377.9,411.4 380.5,405.4 383.2,401.5 385.9,400.7 388.6,401.9 391.3,404.4 393.9,407.2 396.6,409.6 399.3,411.8 402,414.5 404.7,417.3 407.4,420 410,422.5 412.7,424.5 415.4,426.3 418.1,427.9 420.8,428.7 423.4,428.7 426.1,427.5 428.8,425 431.5,421.1 434.2,416.5 436.9,412.2 439.5,409 442.2,407.6 444.9,408.9 447.6,412.3 450.3,417.2 453,422.8 455.6,428.5 458.3,433.5 461,437.4 463.7,440.2 466.4,442.5 469,444.2 471.7,445.4 474.4,446.3 477.1,447.3 479.8,448.6 482.5,450.3 485.1,451.5 487.8,452.3 490.5,452.8" fill="none" stroke="#c00000" stroke-width="1.35" opacity="0.95" stroke-linejoin="round"/>
<polyline points="310.8,462.7 313.5,461.9 316.2,460.8 318.8,459.4 321.5,457.7 324.2,455.7 326.9,453.6 329.6,451.4 332.3,449.1 334.9,446.6 337.6,443.7 340.3,440.4 343,437.1 345.7,434.4 348.3,432.8 351,432.3 353.7,432.3 356.4,432.5 359.1,432.5 361.8,432.1 364.4,432 367.1,432.1 369.8,431.9 372.5,431 375.2,428.4 377.9,423.8 380.5,418.2 383.2,413 385.9,409.6 388.6,408.5 391.3,409 393.9,410.4 396.6,411.9 399.3,413 402,414.3 404.7,415.9 407.4,417.6 410,419.3 412.7,420.9 415.4,422.6 418.1,424.6 420.8,426.6 423.4,428.3 426.1,429.3 428.8,429.4 431.5,428 434.2,425.4 436.9,422.2 439.5,418.9 442.2,416.4 444.9,415.2 447.6,415.8 450.3,417.8 453,420.8 455.6,424.2 458.3,427.8 461,430.9 463.7,433.2 466.4,435.6 469,438 471.7,440.4 474.4,442.7 477.1,444.8 479.8,446.7 482.5,448.5 485.1,450 487.8,450.8 490.5,451.2" fill="none" stroke="#f80000" stroke-width="1.35" opacity="0.95" stroke-linejoin="round"/>
<polyline points="310.8,466.6 313.5,466.5 316.2,466.2 318.8,465.6 321.5,464.5 324.2,463 326.9,461.2 329.6,459.1 332.3,456.8 334.9,454.3 337.6,451.4 340.3,448.3 343,445.4 345.7,443.2 348.3,442.1 351,442.2 353.7,442.8 356.4,443.6 359.1,444 361.8,443.9 364.4,443.4 367.1,442.5 369.8,440.7 372.5,438 375.2,433.7 377.9,428.5 380.5,423.5 383.2,420 385.9,418.9 388.6,419.8 391.3,421.8 393.9,424.2 396.6,426.5 399.3,428.2 402,430 404.7,431.8 407.4,433.5 410,435.1 412.7,436.3 415.4,437.5 418.1,438.7 420.8,439.7 423.4,440.4 426.1,440.6 428.8,440 431.5,438.4 434.2,435.9 436.9,433 439.5,430.4 442.2,428.4 444.9,427.7 447.6,428.4 450.3,430.3 453,433 455.6,436 458.3,439.1 461,441.8 463.7,443.7 466.4,445.5 469,447.2 471.7,448.8 474.4,450.2 477.1,451.4 479.8,452.5 482.5,453.8 485.1,455 487.8,455.9 490.5,456.7" fill="none" stroke="#f8a0a0" stroke-width="1.35" opacity="0.95" stroke-linejoin="round"/>
<polyline points="310.8,466.9 313.5,465.9 316.2,464.8 318.8,463.6 321.5,462.1 324.2,460.3 326.9,458.5 329.6,456.5 332.3,454.3 334.9,451.7 337.6,448.4 340.3,444.4 343,440.5 345.7,437.1 348.3,435 351,434 353.7,433.8 356.4,433.8 359.1,433.8 361.8,433.6 364.4,433.7 367.1,433.6 369.8,432.8 372.5,430.8 375.2,426.5 377.9,421.1 380.5,415.9 383.2,412.4 385.9,411.5 388.6,412.3 391.3,414.2 393.9,416.3 396.6,417.9 399.3,419.2 402,420.7 404.7,422.3 407.4,424 410,425.7 412.7,427.2 415.4,429 418.1,431 420.8,432.8 423.4,434.2 426.1,434.9 428.8,434.7 431.5,433.4 434.2,431.5 436.9,429.5 439.5,427.7 442.2,426.3 444.9,425.8 447.6,426.1 450.3,427 453,428.5 455.6,430.3 458.3,432 461,433.2 463.7,434.1 466.4,435.4 469,437.2 471.7,439.4 474.4,441.9 477.1,444.8 479.8,447.6 482.5,450.7 485.1,453 487.8,454.6 490.5,455.7" fill="none" stroke="#a0522d" stroke-width="1.35" opacity="0.95" stroke-linejoin="round"/>
<polyline points="310.8,467.7 313.5,466.8 316.2,465.7 318.8,464.5 321.5,463.2 324.2,461.9 326.9,460.7 329.6,459.5 332.3,458.4 334.9,457 337.6,455 340.3,452.3 343,449.6 345.7,447.3 348.3,445.9 351,445.1 353.7,444.8 356.4,444.5 359.1,444.2 361.8,444.3 364.4,444.5 367.1,444.4 369.8,443.6 372.5,441.4 375.2,438.1 377.9,434.7 380.5,432.1 383.2,430.8 385.9,430.5 388.6,430.7 391.3,431.1 393.9,431.6 396.6,432.1 399.3,433.3 402,435.1 404.7,437.2 407.4,439.6 410,441.8 412.7,444 415.4,445.7 418.1,446.8 420.8,446.9 423.4,446.1 426.1,444.5 428.8,442 431.5,439.3 434.2,436.9 436.9,435.1 439.5,434.2 442.2,434.6 444.9,436.1 447.6,438.5 450.3,441.3 453,444.2 455.6,446.8 458.3,448.6 461,449.7 463.7,450.7 466.4,451.7 469,452.7 471.7,453.7 474.4,454.8 477.1,455.8 479.8,456.9 482.5,457.5 485.1,457.8 487.8,457.7 490.5,457.4" fill="none" stroke="#d2691e" stroke-width="1.35" opacity="0.95" stroke-linejoin="round"/>
<polyline points="310.8,466.2 313.5,466.6 316.2,466.9 318.8,467 321.5,466.9 324.2,466.3 326.9,465.4 329.6,464.1 332.3,462.3 334.9,460 337.6,457.1 340.3,453.7 343,450.1 345.7,447.1 348.3,445 351,443.9 353.7,443.5 356.4,443.2 359.1,442.5 361.8,441.2 364.4,440 367.1,439.5 369.8,439.5 372.5,439 375.2,436.8 377.9,432.6 380.5,427.6 383.2,423.2 385.9,420.7 388.6,420.4 391.3,421.5 393.9,423.5 396.6,425.7 399.3,427.5 402,429.6 404.7,431.8 407.4,434.1 410,436.3 412.7,438.1 415.4,439.7 418.1,441.2 420.8,442.4 423.4,443.2 426.1,443.3 428.8,442.6 431.5,440.9 434.2,438.4 436.9,435.4 439.5,432.7 442.2,430.8 444.9,430.2 447.6,431.1 450.3,433.3 453,436.2 455.6,439.4 458.3,442.4 461,444.8 463.7,446.5 466.4,447.9 469,449.3 471.7,450.6 474.4,451.7 477.1,452.8 479.8,453.8 482.5,455 485.1,456.2 487.8,457.2 490.5,458.1" fill="none" stroke="#cd853f" stroke-width="1.35" opacity="0.95" stroke-linejoin="round"/>
<polyline points="310.8,465.6 313.5,465.5 316.2,465.2 318.8,465 321.5,464.9 324.2,464.9 326.9,464.9 329.6,465.1 332.3,465.7 334.9,466.9 337.6,469.2 340.3,472.3 343,475.7 345.7,478.8 348.3,481.4 351,484.3 353.7,487.2 356.4,490.1 359.1,492.5 361.8,494 364.4,494.5 367.1,494.7 369.8,495 372.5,496.2 375.2,498.3 377.9,500.8 380.5,503 383.2,504.2 385.9,504 388.6,502.8 391.3,501.3 393.9,499.8 396.6,498.8 399.3,497.9 402,496.5 404.7,494.9 407.4,493.2 410,491.7 412.7,490.7 415.4,490.2 418.1,490.4 420.8,491.2 423.4,492.5 426.1,494.1 428.8,495.8 431.5,497.6 434.2,501.1 436.9,504.7 439.5,506.8 442.2,506.1 444.9,503.8 447.6,500.3 450.3,496.3 453,492.2 455.6,488.6 458.3,485.5 461,482.5 463.7,479.7 466.4,477.3 469,475.4 471.7,474 474.4,473.4 477.1,473.2 479.8,473.3 482.5,473.6 485.1,474.1 487.8,474.4 490.5,474.7" fill="none" stroke="#8b0a50" stroke-width="1.35" opacity="0.95" stroke-linejoin="round"/>
<polyline points="310.8,464.6 313.5,464.2 316.2,463.8 318.8,463.5 321.5,463.6 324.2,464.1 326.9,464.7 329.6,465.5 332.3,466.9 334.9,469.1 337.6,472.8 340.3,477.5 343,482 345.7,485.6 348.3,487.9 351,489.5 353.7,490.8 356.4,492.1 359.1,493.3 361.8,494.3 364.4,495.3 367.1,496.7 369.8,498.6 372.5,501.1 375.2,503.5 377.9,505.2 380.5,505.5 383.2,504.1 385.9,501.6 388.6,498.9 391.3,496.7 393.9,495.7 396.6,495.2 399.3,494.8 402,494.3 404.7,493.8 407.4,493.1 410,492.5 412.7,492 415.4,491.5 418.1,491.2 420.8,491.2 423.4,491.4 426.1,492 428.8,493 431.5,496 434.2,500.2 436.9,503.5 439.5,504.2 442.2,502.8 444.9,500.3 447.6,496.9 450.3,493.3 453,490.2 455.6,487.7 458.3,485.4 461,483.2 463.7,481.3 466.4,479.7 469,478.6 471.7,477.8 474.4,477.3 477.1,476.7 479.8,476.1 482.5,475.2 485.1,474.3 487.8,473.2 490.5,472.3" fill="none" stroke="#ea1070" stroke-width="1.35" opacity="0.95" stroke-linejoin="round"/>
<polyline points="310.8,473 313.5,472.6 316.2,472 318.8,471.4 321.5,470.9 324.2,470.7 326.9,470.6 329.6,470.8 332.3,471.7 334.9,473.6 337.6,476.9 340.3,481.4 343,486.1 345.7,490.3 348.3,493.5 351,496.1 353.7,498.3 356.4,499.9 359.1,501 361.8,501.2 364.4,500.8 367.1,500.3 369.8,500.3 372.5,501.2 375.2,503.2 377.9,505.6 380.5,507.6 383.2,508.3 385.9,507 388.6,504.1 391.3,500.5 393.9,497.3 396.6,495.6 399.3,495.1 402,495.1 404.7,495.2 407.4,495 410,494.8 412.7,494.6 415.4,494.6 418.1,494.9 420.8,495.5 423.4,496.2 426.1,497.1 428.8,498 431.5,499.3 434.2,502.6 436.9,506.6 439.5,509.5 442.2,509.3 444.9,506.8 447.6,502.7 450.3,498.2 453,494.2 455.6,491.5 458.3,489.7 461,488.2 463.7,486.9 466.4,485.7 469,484.7 471.7,483.9 474.4,483.4 477.1,482.9 479.8,482.4 482.5,481.9 485.1,481.3 487.8,480.7 490.5,480.1" fill="none" stroke="#f274b4" stroke-width="1.35" opacity="0.95" stroke-linejoin="round"/>
<polyline points="310.8,470.6 313.5,471 316.2,471.1 318.8,471 321.5,471 324.2,471.1 326.9,471.3 329.6,471.7 332.3,473 334.9,475.6 337.6,479.9 340.3,485.5 343,491.2 345.7,496.2 348.3,499.7 351,502.5 353.7,504.5 356.4,505.7 359.1,506.2 361.8,505.7 364.4,504.7 367.1,504.1 369.8,504.3 372.5,505.8 375.2,508 377.9,509.9 380.5,510.6 383.2,509.2 385.9,506.1 388.6,502.2 391.3,498.5 393.9,496.2 396.6,495.7 399.3,496.1 402,497.6 404.7,499.8 407.4,502.3 410,504.4 412.7,505.4 415.4,505.4 418.1,504.6 420.8,503.9 423.4,503.4 426.1,503.4 428.8,503.7 431.5,505.7 434.2,509.5 436.9,512.9 439.5,514 442.2,513 444.9,510.5 447.6,507.2 450.3,503.3 453,499.5 455.6,496.3 458.3,493 461,489.9 463.7,487.1 466.4,484.8 469,483.1 471.7,482.1 474.4,481.7 477.1,481.6 479.8,481.5 482.5,481.4 485.1,481.2 487.8,480.8 490.5,480.4" fill="none" stroke="#8b008b" stroke-width="1.35" opacity="0.95" stroke-linejoin="round"/>
<polyline points="310.8,469.9 313.5,470 316.2,470.1 318.8,470.2 321.5,470.4 324.2,470.8 326.9,470.9 329.6,471.1 332.3,471.7 334.9,473.1 337.6,475.4 340.3,478.7 343,482.3 345.7,485.7 348.3,488.4 351,490.8 353.7,493 356.4,495.1 359.1,496.9 361.8,498.4 364.4,499.2 367.1,499.8 369.8,500.4 372.5,501.3 375.2,502.7 377.9,504.5 380.5,505.9 383.2,506.5 385.9,505.9 388.6,504 391.3,501.6 393.9,499.2 396.6,497.3 399.3,496.3 402,495.5 404.7,494.9 407.4,494.6 410,494.6 412.7,494.9 415.4,495.6 418.1,496.3 420.8,497.1 423.4,497.7 426.1,497.9 428.8,498 431.5,497.8 434.2,498.4 436.9,500.6 439.5,502.6 442.2,503 444.9,501.6 447.6,499.4 450.3,496.8 453,494.1 455.6,491.8 458.3,490.3 461,488.9 463.7,487.6 466.4,486.5 469,485.8 471.7,485.3 474.4,484.5 477.1,483.1 479.8,481.5 482.5,480.1 485.1,479.2 487.8,478.6 490.5,478.2" fill="none" stroke="#f000f0" stroke-width="1.35" opacity="0.95" stroke-linejoin="round"/>
<polyline points="310.8,464.6 313.5,464.9 316.2,465.3 318.8,465.8 321.5,466.5 324.2,467.2 326.9,467.6 329.6,468 332.3,468.6 334.9,470 337.6,472.7 340.3,476.5 343,480.7 345.7,484.6 348.3,487.7 351,490.6 353.7,493.2 356.4,495.4 359.1,497 361.8,497.4 364.4,497 367.1,496.4 369.8,496.1 372.5,496.7 375.2,498.3 377.9,500.1 380.5,501.5 383.2,501.8 385.9,500.7 388.6,498.9 391.3,497 393.9,495.6 396.6,495.3 399.3,495 402,494.6 404.7,494 407.4,493.3 410,492.7 412.7,492.4 415.4,492.3 418.1,492.7 420.8,493.3 423.4,494.2 426.1,495.2 428.8,496.3 431.5,497.7 434.2,500.8 436.9,503.7 439.5,504.5 442.2,502.8 444.9,499.9 447.6,496.4 450.3,492.9 453,489.9 455.6,487.9 458.3,486.3 461,484.8 463.7,483.3 466.4,481.9 469,480.5 471.7,479.1 474.4,478 477.1,477 479.8,476.1 482.5,475.3 485.1,474.8 487.8,474.4 490.5,474.2" fill="none" stroke="#f47cf4" stroke-width="1.35" opacity="0.95" stroke-linejoin="round"/>
<polyline points="310.8,468.1 313.5,467.9 316.2,467.6 318.8,467.4 321.5,467.5 324.2,467.8 326.9,468 329.6,468.5 332.3,469.5 334.9,471.5 337.6,475.2 340.3,480.2 343,485.6 345.7,490.6 348.3,494.9 351,498.9 353.7,502.2 356.4,504.6 359.1,505.8 361.8,505.5 364.4,504.4 367.1,503.2 369.8,502.5 372.5,502.5 375.2,503.1 377.9,504.2 380.5,505.4 383.2,505.7 385.9,504.9 388.6,503 391.3,500.7 393.9,498.9 396.6,497.2 399.3,495.6 402,494.2 404.7,493.1 407.4,492.5 410,492.3 412.7,492.7 415.4,493.4 418.1,494.5 420.8,495.9 423.4,497.4 426.1,498.9 428.8,500.4 431.5,503.7 434.2,507.2 436.9,509.3 439.5,508.8 442.2,506.9 444.9,504 447.6,500.6 450.3,497.2 453,494.1 455.6,491.2 458.3,488.1 461,484.9 463.7,482.1 466.4,479.8 469,478.1 471.7,477.3 474.4,477 477.1,477.1 479.8,477.4 482.5,477.7 485.1,478 487.8,478.2 490.5,478.4" fill="none" stroke="#4b0082" stroke-width="1.35" opacity="0.95" stroke-linejoin="round"/>
<polyline points="310.8,471.8 313.5,471.8 316.2,471.5 318.8,471 321.5,470.6 324.2,470.3 326.9,470 329.6,469.9 332.3,470.5 334.9,472.2 337.6,475.3 340.3,479.4 343,484.2 345.7,488.9 348.3,492.9 351,496.4 353.7,499.6 356.4,502.4 359.1,504.7 361.8,506.4 364.4,507.2 367.1,507.1 369.8,506.6 372.5,506.1 375.2,506.2 377.9,507 380.5,507.9 383.2,508.2 385.9,507.6 388.6,505.8 391.3,503.6 393.9,501.6 396.6,500.1 399.3,499.5 402,499.1 404.7,498.5 407.4,497.9 410,497.3 412.7,496.9 415.4,496.8 418.1,497 420.8,497.4 423.4,498.1 426.1,499 428.8,500.1 431.5,501.3 434.2,502.7 436.9,506.1 439.5,510.3 442.2,513.1 444.9,513.2 447.6,511.6 450.3,508.8 453,505.5 455.6,502.2 458.3,499.4 461,497.3 463.7,495.3 466.4,493.3 469,491.4 471.7,489.7 474.4,488.1 477.1,486.6 479.8,485.2 482.5,483.7 485.1,482.3 487.8,481.2 490.5,480.3" fill="none" stroke="#7b1ff0" stroke-width="1.35" opacity="0.95" stroke-linejoin="round"/>
<polyline points="310.8,464.5 313.5,464.5 316.2,464.4 318.8,464.3 321.5,464.3 324.2,464.4 326.9,464.3 329.6,464.3 332.3,464.9 334.9,466.6 337.6,470 340.3,474.8 343,480.3 345.7,485.4 348.3,489.7 351,493.7 353.7,497.2 356.4,500.2 359.1,502.6 361.8,504.5 364.4,506.3 367.1,507.9 369.8,508.6 372.5,508.5 375.2,508.3 377.9,508.8 380.5,509.7 383.2,510 385.9,508.9 388.6,506.9 391.3,504.5 393.9,502.4 396.6,501 399.3,499.5 402,497.9 404.7,496.2 407.4,494.7 410,493.6 412.7,492.9 415.4,492.7 418.1,493 420.8,493.9 423.4,495.2 426.1,497.1 428.8,499.2 431.5,501.9 434.2,506.5 436.9,510.6 439.5,512.2 442.2,510.5 444.9,507 447.6,502.5 450.3,497.8 453,493.7 455.6,490.9 458.3,488.7 461,486.8 463.7,485 466.4,483.4 469,481.8 471.7,480.5 474.4,479.3 477.1,478.2 479.8,477.1 482.5,476.2 485.1,475.3 487.8,474.6 490.5,474.1" fill="none" stroke="#c8a2f0" stroke-width="1.35" opacity="0.95" stroke-linejoin="round"/>
<polyline points="310.8,463.9 313.5,464.3 316.2,464.4 318.8,464.5 321.5,464.7 324.2,465 326.9,465.3 329.6,465.9 332.3,467 334.9,469.1 337.6,472.4 340.3,476.6 343,481 345.7,484.9 348.3,487.7 351,489.8 353.7,491 356.4,491.4 359.1,491 361.8,489.8 364.4,488 367.1,486.4 369.8,485.8 372.5,486.6 375.2,489.1 377.9,492.6 380.5,496.2 383.2,498.9 385.9,499.9 388.6,499.5 391.3,498.1 393.9,496.3 396.6,494.9 399.3,493.9 402,492.8 404.7,491.7 407.4,490.9 410,490.3 412.7,490 415.4,490.1 418.1,490.4 420.8,490.8 423.4,491.2 426.1,491.6 428.8,492 431.5,492.2 434.2,493.3 436.9,495.6 439.5,497.3 442.2,497 444.9,495.3 447.6,492.8 450.3,490.1 453,487.5 455.6,485.2 458.3,483.6 461,481.7 463.7,479.7 466.4,477.6 469,475.7 471.7,474.3 474.4,473.6 477.1,473.3 479.8,473.2 482.5,473.1 485.1,472.9 487.8,472.7 490.5,472.5" fill="none" stroke="#000080" stroke-width="1.35" opacity="0.95" stroke-linejoin="round"/>
<polyline points="310.8,466.9 313.5,466.9 316.2,467 318.8,467.4 321.5,467.9 324.2,468.7 326.9,469.4 329.6,470.2 332.3,471.5 334.9,473.7 337.6,477.5 340.3,482.4 343,487.7 345.7,492.4 348.3,496.1 351,499.4 353.7,502.2 356.4,504.2 359.1,505.3 361.8,505 364.4,504 367.1,502.9 369.8,502.6 372.5,503.2 375.2,504.2 377.9,505.2 380.5,505.5 383.2,504.5 385.9,502.8 388.6,501 391.3,499.4 393.9,498.9 396.6,498.7 399.3,498.4 402,498 404.7,497.6 407.4,497.1 410,496.7 412.7,496.5 415.4,496.4 418.1,496.6 420.8,497 423.4,497.7 426.1,498.6 428.8,499.7 431.5,502.6 434.2,506 436.9,508.1 439.5,507.5 442.2,505.3 444.9,502.1 447.6,498.4 450.3,494.7 453,491.4 455.6,488.6 458.3,485.8 461,483.2 463.7,481.1 466.4,479.3 469,478.1 471.7,477.6 474.4,477.7 477.1,478 479.8,478.3 482.5,478.4 485.1,478 487.8,477.4 490.5,476.8" fill="none" stroke="#0000f0" stroke-width="1.35" opacity="0.95" stroke-linejoin="round"/>
<polyline points="310.8,470.4 313.5,470.6 316.2,470.8 318.8,471.2 321.5,471.7 324.2,472.4 326.9,473 329.6,473.6 332.3,474.6 334.9,476.4 337.6,479.5 340.3,483.6 343,487.8 345.7,491.5 348.3,494.1 351,496.4 353.7,498.4 356.4,500.1 359.1,501.3 361.8,501.8 364.4,501.9 367.1,502.1 369.8,502.9 372.5,504.9 375.2,507.5 377.9,509.9 380.5,511.4 383.2,511.3 385.9,509.5 388.6,506.8 391.3,503.4 393.9,500.1 396.6,497.5 399.3,495.5 402,494.5 404.7,494.5 407.4,494.7 410,494.9 412.7,494.8 415.4,494.7 418.1,494.6 420.8,494.6 423.4,494.7 426.1,495 428.8,495.6 431.5,497.6 434.2,501.4 436.9,505 439.5,506.5 442.2,506 444.9,504.3 447.6,502 450.3,499.4 453,497.1 455.6,495.5 458.3,493.9 461,492.1 463.7,490.2 466.4,488.2 469,486.3 471.7,484.6 474.4,483.2 477.1,482.1 479.8,481.5 482.5,481.4 485.1,481.8 487.8,482 490.5,481.6" fill="none" stroke="#a4c8f8" stroke-width="1.35" opacity="0.95" stroke-linejoin="round"/>
<polyline points="310.8,463.2 313.5,464 316.2,464.5 318.8,464.8 321.5,465.1 324.2,465.5 326.9,465.6 329.6,466 332.3,467.1 334.9,469.2 337.6,473.2 340.3,478.3 343,483.7 345.7,488.1 348.3,491.2 351,493.6 353.7,495 356.4,495.6 359.1,495.1 361.8,493.5 364.4,491.9 367.1,491.1 369.8,491.9 372.5,494.1 375.2,497 377.9,499.6 380.5,501.1 383.2,500.9 385.9,499.6 388.6,497.7 391.3,495.8 393.9,494.5 396.6,493.3 399.3,492 402,491 404.7,490.2 407.4,489.8 410,489.8 412.7,490.2 415.4,490.8 418.1,491.5 420.8,492.2 423.4,492.7 426.1,493.1 428.8,493.9 431.5,496.4 434.2,499.2 436.9,500.5 439.5,499.6 442.2,497.8 444.9,495.4 447.6,492.9 450.3,490.5 453,488.8 455.6,487.1 458.3,485.2 461,483.1 463.7,481 466.4,479.1 469,477.5 471.7,476.4 474.4,475.7 477.1,475.3 479.8,475.1 482.5,475 485.1,474.8 487.8,474.4 490.5,474" fill="none" stroke="#008b8b" stroke-width="1.35" opacity="0.95" stroke-linejoin="round"/>
<polyline points="310.8,462.1 313.5,462.3 316.2,462.6 318.8,463.1 321.5,463.8 324.2,464.7 326.9,465.5 329.6,466.4 332.3,467.5 334.9,469.3 337.6,472.2 340.3,475.8 343,479.6 345.7,482.7 348.3,485 351,486.8 353.7,488.4 356.4,489.7 359.1,490.7 361.8,490.9 364.4,490.6 367.1,490.4 369.8,490.6 372.5,491.6 375.2,493.4 377.9,495.2 380.5,496.4 383.2,496.4 385.9,495.1 388.6,492.9 391.3,490.4 393.9,488.4 396.6,487.2 399.3,486.2 402,485.3 404.7,484.4 407.4,483.8 410,483.5 412.7,483.7 415.4,484.4 418.1,485.6 420.8,486.9 423.4,488.2 426.1,489.3 428.8,490.1 431.5,491.2 434.2,493.6 436.9,495.9 439.5,496.6 442.2,495.3 444.9,493.1 447.6,490.3 450.3,487.3 453,484.7 455.6,482.7 458.3,480.9 461,479.1 463.7,477.2 466.4,475.4 469,473.5 471.7,471.8 474.4,470 477.1,468.2 479.8,466.4 482.5,465 485.1,464.4 487.8,464.8 490.5,466" fill="none" stroke="#00e5ee" stroke-width="1.35" opacity="0.95" stroke-linejoin="round"/>
<polyline points="310.8,466.4 313.5,466.9 316.2,467 318.8,467 321.5,467 324.2,467.1 326.9,467 329.6,467.2 332.3,468 334.9,469.8 337.6,473.2 340.3,477.7 343,482.8 345.7,487.7 348.3,491.7 351,495.2 353.7,498.4 356.4,501 359.1,502.9 361.8,503.8 364.4,503.4 367.1,502.4 369.8,501.2 372.5,500.8 375.2,501.6 377.9,503.4 380.5,505.4 383.2,506.9 385.9,507 388.6,505.7 391.3,503.6 393.9,501.2 396.6,499.2 399.3,497.7 402,496 404.7,494.1 407.4,492.3 410,490.7 412.7,489.6 415.4,489.1 418.1,489.2 420.8,489.9 423.4,491 426.1,492.4 428.8,494 431.5,495.5 434.2,498.1 436.9,502 439.5,505.1 442.2,505.6 444.9,504.1 447.6,501.4 450.3,498.1 453,494.8 455.6,492 458.3,490.1 461,488.4 463.7,486.7 466.4,485 469,483.4 471.7,481.8 474.4,480.4 477.1,479.2 479.8,477.9 482.5,476.7 485.1,475.5 487.8,474.4 490.5,473.4" fill="none" stroke="#a8f4f8" stroke-width="1.35" opacity="0.95" stroke-linejoin="round"/>
<polyline points="310.8,463.5 313.5,462.9 316.2,462 318.8,461 321.5,460.1 324.2,459.4 326.9,459 329.6,459 332.3,459.4 334.9,460.3 337.6,461.8 340.3,463.8 343,465.9 345.7,467.8 348.3,469.3 351,470.6 353.7,471.7 356.4,472.7 359.1,473.5 361.8,474.7 364.4,475.3 367.1,474.7 369.8,473.7 372.5,472.3 375.2,470.7 377.9,469.3 380.5,468.2 383.2,467.8 385.9,468.3 388.6,469.5 391.3,471 393.9,472.2 396.6,472.6 399.3,472.9 402,473.2 404.7,473.4 407.4,473.6 410,473.7 412.7,473.7 415.4,473.6 418.1,473.4 420.8,472.9 423.4,472 426.1,470.9 428.8,469.7 431.5,468.5 434.2,467.3 436.9,465.8 439.5,463.8 442.2,462 444.9,460.9 447.6,460.9 450.3,461.3 453,461.9 455.6,462.5 458.3,462.9 461,462.5 463.7,461.3 466.4,460.1 469,460 471.7,461 474.4,462.8 477.1,464.8 479.8,466.4 482.5,467.1 485.1,467 487.8,466.5 490.5,466.2" fill="none" stroke="#111" stroke-width="1.6" opacity="0.95" stroke-linejoin="round"/>
<line x1="310.8" y1="395.8" x2="310.8" y2="514.0" stroke="#333" stroke-width="1.0" />
<line x1="310.8" y1="514.0" x2="490.3" y2="514.0" stroke="#333" stroke-width="1.0" />
<line x1="307.3" y1="396.4" x2="310.8" y2="396.4" stroke="#333" stroke-width="0.9" />
<text x="303.8" y="399.9" font-size="9.9" text-anchor="end" font-weight="normal" fill="#333" >20</text>
<line x1="307.3" y1="412.7" x2="310.8" y2="412.7" stroke="#333" stroke-width="0.9" />
<text x="303.8" y="416.2" font-size="9.9" text-anchor="end" font-weight="normal" fill="#333" >15</text>
<line x1="307.3" y1="429.1" x2="310.8" y2="429.1" stroke="#333" stroke-width="0.9" />
<text x="303.8" y="432.6" font-size="9.9" text-anchor="end" font-weight="normal" fill="#333" >10</text>
<line x1="307.3" y1="445.5" x2="310.8" y2="445.5" stroke="#333" stroke-width="0.9" />
<text x="303.8" y="449.0" font-size="9.9" text-anchor="end" font-weight="normal" fill="#333" >5</text>
<line x1="307.3" y1="461.9" x2="310.8" y2="461.9" stroke="#333" stroke-width="0.9" />
<text x="303.8" y="465.4" font-size="9.9" text-anchor="end" font-weight="normal" fill="#333" >0</text>
<line x1="307.3" y1="478.3" x2="310.8" y2="478.3" stroke="#333" stroke-width="0.9" />
<text x="303.8" y="481.8" font-size="9.9" text-anchor="end" font-weight="normal" fill="#333" >–5</text>
<line x1="307.3" y1="494.7" x2="310.8" y2="494.7" stroke="#333" stroke-width="0.9" />
<text x="303.8" y="498.2" font-size="9.9" text-anchor="end" font-weight="normal" fill="#333" >–10</text>
<line x1="307.3" y1="511.1" x2="310.8" y2="511.1" stroke="#333" stroke-width="0.9" />
<text x="303.8" y="514.6" font-size="9.9" text-anchor="end" font-weight="normal" fill="#333" >–15</text>
<line x1="310.8" y1="514.0" x2="310.8" y2="517.2" stroke="#333" stroke-width="0.9" />
<text x="310.8" y="529.3" font-size="9.9" text-anchor="middle" font-weight="normal" fill="#333" >0</text>
<line x1="334.8" y1="514.0" x2="334.8" y2="517.2" stroke="#333" stroke-width="0.9" />
<text x="334.8" y="529.3" font-size="9.9" text-anchor="middle" font-weight="normal" fill="#333" >1</text>
<line x1="358.7" y1="514.0" x2="358.7" y2="517.2" stroke="#333" stroke-width="0.9" />
<text x="358.7" y="529.3" font-size="9.9" text-anchor="middle" font-weight="normal" fill="#333" >2</text>
<line x1="382.7" y1="514.0" x2="382.7" y2="517.2" stroke="#333" stroke-width="0.9" />
<text x="382.7" y="529.3" font-size="9.9" text-anchor="middle" font-weight="normal" fill="#333" >3</text>
<line x1="406.6" y1="514.0" x2="406.6" y2="517.2" stroke="#333" stroke-width="0.9" />
<text x="406.6" y="529.3" font-size="9.9" text-anchor="middle" font-weight="normal" fill="#333" >4</text>
<line x1="430.6" y1="514.0" x2="430.6" y2="517.2" stroke="#333" stroke-width="0.9" />
<text x="430.6" y="529.3" font-size="9.9" text-anchor="middle" font-weight="normal" fill="#333" >5</text>
<line x1="454.6" y1="514.0" x2="454.6" y2="517.2" stroke="#333" stroke-width="0.9" />
<text x="454.6" y="529.3" font-size="9.9" text-anchor="middle" font-weight="normal" fill="#333" >6</text>
<line x1="478.5" y1="514.0" x2="478.5" y2="517.2" stroke="#333" stroke-width="0.9" />
<text x="478.5" y="529.3" font-size="9.9" text-anchor="middle" font-weight="normal" fill="#333" >7</text>
<text x="506.0" y="381.5" font-size="15" text-anchor="start" font-weight="bold" fill="#000" stroke="#000" stroke-width="0.5">h</text>
<text x="651.7" y="387.3" font-size="10.5" text-anchor="middle" font-weight="normal" fill="#231f20" textLength="121.7" lengthAdjust="spacingAndGlyphs" >Explained variance: 5.6%</text>
<rect x="555.0" y="395.2" width="23.6" height="118.9" fill="#e6e6e6" />
<line x1="578.6" y1="395.2" x2="578.6" y2="514.1" stroke="#9a9a9a" stroke-width="0.6" stroke-dasharray="1.5,1.5"/>
<line x1="614.7" y1="395.2" x2="614.7" y2="514.1" stroke="#9a9a9a" stroke-width="0.6" stroke-dasharray="1.5,1.5"/>
<line x1="674.9" y1="395.2" x2="674.9" y2="514.1" stroke="#9a9a9a" stroke-width="0.6" stroke-dasharray="1.5,1.5"/>
<line x1="735.0" y1="395.2" x2="735.0" y2="514.1" stroke="#9a9a9a" stroke-width="0.6" stroke-dasharray="1.5,1.5"/>
<text x="567.0" y="398.7" font-size="6.3" text-anchor="middle" font-weight="normal" fill="#333" >Delay</text>
<text x="604.5" y="401.5" font-size="9" text-anchor="middle" font-weight="normal" fill="#333" >Go</text>
<text x="653.5" y="401.5" font-size="9" text-anchor="middle" font-weight="normal" fill="#333" >Trial end</text>
<text x="718.0" y="401.5" font-size="9" text-anchor="middle" font-weight="normal" fill="#333" >ITI end</text>
<text x="516.5" y="439.7" font-size="10" text-anchor="middle" font-weight="normal" fill="#231f20" >T18</text>
<text x="516.0" y="452.0" font-size="10" text-anchor="middle" font-weight="normal" fill="#231f20" >PC3</text>
<text x="515.3" y="541.5" font-size="10" text-anchor="middle" font-weight="normal" fill="#231f20" >Time (s)</text>
<polyline points="554.5,461.1 557.2,461.1 559.9,461.1 562.6,461 565.3,460.8 568,460.5 570.7,460.2 573.4,459.8 576.1,459.3 578.7,458.7 581.4,457.4 584.1,455.9 586.8,454.1 589.5,451.8 592.2,448.6 594.9,444.3 597.6,439.3 600.3,434.2 603,429.5 605.7,425.1 608.4,420.7 611.1,416.3 613.8,412 616.5,408 619.2,404.2 621.9,401.1 624.6,398.9 627.2,397.9 629.9,398.4 632.6,400.1 635.3,402.5 638,404.9 640.7,406.8 643.4,408.5 646.1,410.1 648.8,411.6 651.5,412.9 654.2,413.7 656.9,414.2 659.6,414.9 662.3,416.1 665,418.5 667.7,422.1 670.4,426.5 673.1,431.2 675.7,435.8 678.4,442.5 681.1,449 683.8,455.3 686.5,462 689.2,467 691.9,468.2 694.6,466.7 697.3,464.3 700,462.9 702.7,462.8 705.4,462.6 708.1,462.4 710.8,462.1 713.5,461.8 716.2,461.4 718.9,461.2 721.6,461 724.2,460.9 726.9,460.8 729.6,460.9 732.3,460.9 735,461" fill="none" stroke="#f47cf4" stroke-width="1.1" opacity="0.95" stroke-linejoin="round" stroke-dasharray="2.5,1.8"/>
<polyline points="554.5,459.7 557.2,459.2 559.9,459 562.6,458.9 565.3,458.8 568,458.7 570.7,458.5 573.4,458.2 576.1,457.8 578.7,457.1 581.4,455.8 584.1,454.4 586.8,452.7 589.5,450.5 592.2,447.5 594.9,443.6 597.6,439.2 600.3,434.9 603,431.2 605.7,427.7 608.4,424.2 611.1,420.8 613.8,417.4 616.5,414.2 619.2,411.1 621.9,408.5 624.6,406.8 627.2,406.3 629.9,407.2 632.6,409 635.3,411.3 638,413.3 640.7,414.9 643.4,416.3 646.1,417.2 648.8,417.8 651.5,418.1 654.2,418.3 656.9,418.7 659.6,420 662.3,422.4 665,426.2 667.7,430.8 670.4,435.6 673.1,440 675.7,444.8 678.4,450 681.1,454.6 683.8,459.2 686.5,463.4 689.2,465.3 691.9,464.2 694.6,462 697.3,460 700,459.6 702.7,459.7 705.4,459.9 708.1,460.2 710.8,460.4 713.5,460.7 716.2,460.9 718.9,461.1 721.6,461.2 724.2,461.2 726.9,461.1 729.6,460.9 732.3,460.7 735,460.5" fill="none" stroke="#f8f820" stroke-width="1.1" opacity="0.95" stroke-linejoin="round" stroke-dasharray="2.5,1.8"/>
<polyline points="554.5,459.1 557.2,459.6 559.9,460.1 562.6,460.5 565.3,460.7 568,460.8 570.7,460.6 573.4,460.2 576.1,459.7 578.7,459.1 581.4,458 584.1,456.8 586.8,455.4 589.5,453.6 592.2,451.1 594.9,447.6 597.6,443.6 600.3,439.5 603,435.7 605.7,432.1 608.4,428.7 611.1,425.4 613.8,422.3 616.5,419.5 619.2,417 621.9,414.9 624.6,413.5 627.2,413.1 629.9,413.8 632.6,415.2 635.3,417 638,418.7 640.7,420.3 643.4,422.2 646.1,424.3 648.8,426.2 651.5,427.3 654.2,427.4 656.9,427.2 659.6,427.4 662.3,428.8 665,431.5 667.7,435.2 670.4,439.2 673.1,443 675.7,446.8 678.4,451.6 681.1,456 683.8,460.5 686.5,465.3 689.2,468.6 691.9,469 694.6,467.8 697.3,466 700,465 702.7,464.3 705.4,463.4 708.1,462.4 710.8,461.5 713.5,460.7 716.2,459.9 718.9,459.2 721.6,458.5 724.2,457.9 726.9,457.5 729.6,457.4 732.3,457.7 735,458.5" fill="none" stroke="#c8c800" stroke-width="1.1" opacity="0.95" stroke-linejoin="round" stroke-dasharray="2.5,1.8"/>
<polyline points="554.5,460 557.2,460.2 559.9,460.5 562.6,460.8 565.3,461 568,461.1 570.7,461 573.4,460.8 576.1,460.4 578.7,459.9 581.4,458.7 584.1,457.4 586.8,455.8 589.5,453.8 592.2,451.2 594.9,447.8 597.6,443.9 600.3,439.7 603,435.7 605.7,432.4 608.4,429.5 611.1,427.2 613.8,425.4 616.5,423.6 619.2,421.3 621.9,418.4 624.6,415.4 627.2,413.2 629.9,412.5 632.6,413.4 635.3,415.3 638,417.5 640.7,419.1 643.4,420 646.1,420.6 648.8,421.1 651.5,421.9 654.2,422.8 656.9,423.8 659.6,424.7 662.3,425.9 665,427.5 667.7,430 670.4,433.2 673.1,436.8 675.7,440.3 678.4,443.7 681.1,448.5 683.8,453 686.5,457.3 689.2,461.9 691.9,465.1 694.6,465.1 697.3,463.4 700,461.4 702.7,460.6 705.4,460.7 708.1,460.8 710.8,461 713.5,461.3 716.2,461.6 718.9,462 721.6,462.4 724.2,462.7 726.9,462.9 729.6,463.1 732.3,463.1 735,463.1" fill="none" stroke="#44ee44" stroke-width="1.1" opacity="0.95" stroke-linejoin="round" stroke-dasharray="2.5,1.8"/>
<polyline points="554.5,460.8 557.2,460.1 559.9,459.7 562.6,459.4 565.3,459.3 568,459.3 570.7,459.4 573.4,459.5 576.1,459.5 578.7,459.2 581.4,458.5 584.1,457.4 586.8,456 589.5,454.3 592.2,452 594.9,449.1 597.6,445.6 600.3,442 603,438.6 605.7,435.6 608.4,433 611.1,430.4 613.8,427.9 616.5,425.2 619.2,422.6 621.9,419.8 624.6,417.2 627.2,414.9 629.9,413.1 632.6,412 635.3,411.6 638,411.8 640.7,412.8 643.4,414.6 646.1,417.1 648.8,419.8 651.5,422.3 654.2,424.6 656.9,426.4 659.6,427.8 662.3,429 665,430.4 667.7,432.3 670.4,434.9 673.1,438.1 675.7,441.3 678.4,444.5 681.1,449.2 683.8,453.7 686.5,458.1 689.2,462.9 691.9,466.5 694.6,467.5 697.3,466.7 700,465.3 702.7,464.6 705.4,464.7 708.1,464.6 710.8,464.3 713.5,464.1 716.2,463.9 718.9,463.8 721.6,463.8 724.2,463.9 726.9,463.8 729.6,463.6 732.3,463.3 735,462.7" fill="none" stroke="#f8a040" stroke-width="1.1" opacity="0.95" stroke-linejoin="round" stroke-dasharray="2.5,1.8"/>
<polyline points="554.5,462.1 557.2,462.2 559.9,462.1 562.6,461.8 565.3,461.3 568,460.7 570.7,460 573.4,459.4 576.1,458.8 578.7,458.1 581.4,457.1 584.1,456.1 586.8,454.9 589.5,453.3 592.2,451.5 594.9,449.3 597.6,446.8 600.3,443.6 603,439.8 605.7,436 608.4,432.6 611.1,430.2 613.8,428.6 616.5,427.6 619.2,426.9 621.9,426.5 624.6,426.2 627.2,426 629.9,425.8 632.6,425.7 635.3,425.6 638,425.7 640.7,425.8 643.4,426.2 646.1,426.8 648.8,427.5 651.5,428.1 654.2,428.6 656.9,429.1 659.6,429.8 662.3,431.1 665,433.1 667.7,436 670.4,439.2 673.1,442.6 675.7,445.6 678.4,449.7 681.1,453.6 683.8,457.3 686.5,461.2 689.2,464.3 691.9,465 694.6,464 697.3,462.5 700,461.6 702.7,461.8 705.4,461.9 708.1,461.9 710.8,461.8 713.5,461.5 716.2,461.1 718.9,460.5 721.6,460 724.2,459.4 726.9,459 729.6,458.7 732.3,458.7 735,458.9" fill="none" stroke="#cd853f" stroke-width="1.1" opacity="0.95" stroke-linejoin="round" stroke-dasharray="2.5,1.8"/>
<polyline points="554.5,461.7 557.2,462.1 559.9,462.5 562.6,462.7 565.3,462.6 568,462.4 570.7,462 573.4,461.2 576.1,460 578.7,458.3 581.4,456.6 584.1,455.5 586.8,455.3 589.5,455.6 592.2,455.7 594.9,455.3 597.6,454.4 600.3,453.3 603,452.3 605.7,451.4 608.4,450.5 611.1,449.8 613.8,449.1 616.5,448.5 619.2,448.1 621.9,447.8 624.6,447.7 627.2,447.8 629.9,448.1 632.6,448.6 635.3,449.3 638,450 640.7,450.6 643.4,451.1 646.1,451.5 648.8,451.8 651.5,451.9 654.2,451.9 656.9,451.7 659.6,451.4 662.3,451.1 665,451.1 667.7,451.4 670.4,452.1 673.1,453 675.7,454.1 678.4,455.5 681.1,457.3 683.8,459 686.5,460.7 689.2,462.4 691.9,463.4 694.6,463.4 697.3,463 700,462.4 702.7,462.2 705.4,462.1 708.1,462 710.8,461.9 713.5,461.9 716.2,461.9 718.9,462 721.6,462.2 724.2,462.3 726.9,462.3 729.6,462.3 732.3,462.2 735,461.9" fill="none" stroke="#a4c8f8" stroke-width="1.1" opacity="0.95" stroke-linejoin="round" stroke-dasharray="2.5,1.8"/>
<polyline points="554.5,460.4 557.2,460.3 559.9,460.3 562.6,460.3 565.3,460.5 568,460.6 570.7,460.7 573.4,460.7 576.1,460.7 578.7,460.7 581.4,460.4 584.1,460.1 586.8,459.8 589.5,459.4 592.2,458.8 594.9,458 597.6,457.1 600.3,456.2 603,455.3 605.7,454.4 608.4,453.4 611.1,452.1 613.8,450.8 616.5,449.4 619.2,448 621.9,446.8 624.6,446 627.2,445.7 629.9,446 632.6,446.6 635.3,447.5 638,448.4 640.7,449.3 643.4,450.2 646.1,450.8 648.8,451.2 651.5,451.3 654.2,451.1 656.9,450.9 659.6,450.7 662.3,450.9 665,451.5 667.7,452.3 670.4,453.2 673.1,454.2 675.7,455.7 678.4,457.3 681.1,459.1 683.8,460.9 686.5,462.1 689.2,462.2 691.9,461.6 694.6,461.1 697.3,460.8 700,460.9 702.7,461 705.4,461.1 708.1,461.3 710.8,461.5 713.5,461.8 716.2,462.1 718.9,462.4 721.6,462.6 724.2,462.8 726.9,462.8 729.6,462.6 732.3,462.3 735,461.8" fill="none" stroke="#f274b4" stroke-width="1.1" opacity="0.95" stroke-linejoin="round" stroke-dasharray="2.5,1.8"/>
<polyline points="554.5,460.5 557.2,461 559.9,461.5 562.6,461.9 565.3,462.3 568,462.5 570.7,462.6 573.4,462.5 576.1,462.3 578.7,462 581.4,461.5 584.1,461 586.8,460.5 589.5,459.9 592.2,459.2 594.9,458.5 597.6,458 600.3,457.6 603,457.4 605.7,457.5 608.4,457.6 611.1,457.8 613.8,457.9 616.5,458.1 619.2,458.2 621.9,458.3 624.6,458.3 627.2,458.3 629.9,458.3 632.6,458.4 635.3,458.5 638,458.7 640.7,458.9 643.4,459.1 646.1,459.4 648.8,459.7 651.5,460 654.2,460.2 656.9,460.3 659.6,460.3 662.3,460.2 665,460.1 667.7,459.9 670.4,459.6 673.1,459.3 675.7,459 678.4,458.8 681.1,458.7 683.8,458.7 686.5,459 689.2,459.3 691.9,459.6 694.6,459.9 697.3,460.3 700,460.9 702.7,461.4 705.4,461.8 708.1,462 710.8,462 713.5,462 716.2,461.9 718.9,461.8 721.6,461.7 724.2,461.5 726.9,461.3 729.6,461.2 732.3,461.1 735,461" fill="none" stroke="#d2691e" stroke-width="1.1" opacity="0.95" stroke-linejoin="round" stroke-dasharray="2.5,1.8"/>
<polyline points="554.5,458.9 557.2,459.3 559.9,459.8 562.6,460.5 565.3,461.1 568,461.7 570.7,462.1 573.4,462.3 576.1,462.3 578.7,462.2 581.4,462 584.1,461.7 586.8,461.5 589.5,461.5 592.2,461.4 594.9,461.4 597.6,461.4 600.3,461.2 603,461 605.7,460.5 608.4,459.9 611.1,459.2 613.8,458.3 616.5,457.4 619.2,456.6 621.9,455.9 624.6,455.5 627.2,455.4 629.9,455.6 632.6,456.2 635.3,457.1 638,458.1 640.7,458.9 643.4,459.1 646.1,458.6 648.8,457.8 651.5,457.2 654.2,456.9 656.9,456.9 659.6,457.1 662.3,457.5 665,458.1 667.7,458.8 670.4,459.6 673.1,460.3 675.7,460.8 678.4,461.1 681.1,461.3 683.8,461.2 686.5,461.1 689.2,461 691.9,460.9 694.6,460.7 697.3,460.6 700,460.6 702.7,460.9 705.4,461.3 708.1,461.5 710.8,461.4 713.5,460.9 716.2,460.3 718.9,459.7 721.6,459.2 724.2,458.8 726.9,458.7 729.6,458.8 732.3,459.2 735,459.7" fill="none" stroke="#a0522d" stroke-width="1.1" opacity="0.95" stroke-linejoin="round" stroke-dasharray="2.5,1.8"/>
<polyline points="554.5,460.2 557.2,459.8 559.9,459.5 562.6,459.3 565.3,459.3 568,459.6 570.7,460.2 573.4,461.1 576.1,462.3 578.7,463.6 581.4,464.6 584.1,465.4 586.8,465.9 589.5,466.4 592.2,467.1 594.9,468.1 597.6,469.2 600.3,470.4 603,471.4 605.7,472.1 608.4,472.9 611.1,473.8 613.8,475 616.5,476.7 619.2,479.3 621.9,482.2 624.6,484.7 627.2,486.1 629.9,485.9 632.6,484.5 635.3,482.8 638,481.6 640.7,481.3 643.4,481.1 646.1,480.7 648.8,480 651.5,479.2 654.2,478.3 656.9,477.6 659.6,476.7 662.3,475.8 665,474.5 667.7,473.1 670.4,471.5 673.1,469.4 675.7,466.8 678.4,462.1 681.1,456.4 683.8,449.5 686.5,439.6 689.2,431.2 691.9,429.7 694.6,432.9 697.3,437.9 700,442.4 702.7,445.4 705.4,448.2 708.1,450.8 710.8,452.9 713.5,454.6 716.2,455.9 718.9,456.8 721.6,457.3 724.2,457.7 726.9,458 729.6,458.2 732.3,458.4 735,458.8" fill="none" stroke="#a0522d" stroke-width="1.35" opacity="0.95" stroke-linejoin="round"/>
<polyline points="554.5,461.5 557.2,461.6 559.9,461.7 562.6,461.9 565.3,462.1 568,462.3 570.7,462.7 573.4,463.1 576.1,463.5 578.7,463.8 581.4,463.7 584.1,463.3 586.8,463 589.5,463.2 592.2,464.6 594.9,466.9 597.6,469.7 600.3,472.5 603,475.1 605.7,477.7 608.4,480.6 611.1,483.8 613.8,487.6 616.5,492.1 619.2,496.6 621.9,499.9 624.6,501.3 627.2,500.6 629.9,498.7 632.6,496.7 635.3,495 638,493.9 640.7,492.6 643.4,491.1 646.1,489.4 648.8,487.5 651.5,485.7 654.2,483.7 656.9,481.6 659.6,479.2 662.3,476.5 665,474 667.7,471.6 670.4,469 673.1,465.9 675.7,459.7 678.4,452.4 681.1,443.3 683.8,430.6 686.5,420.9 689.2,420.6 691.9,425.5 694.6,432.3 697.3,437.8 700,441.4 702.7,444.8 705.4,447.7 708.1,450.4 710.8,452.9 713.5,455.6 716.2,458.2 718.9,460.1 721.6,461 724.2,461 726.9,460.7 729.6,460.8 732.3,461.1 735,461.1" fill="none" stroke="#d2691e" stroke-width="1.35" opacity="0.95" stroke-linejoin="round"/>
<polyline points="554.5,463.4 557.2,463.1 559.9,462.6 562.6,462 565.3,461.4 568,460.9 570.7,460.4 573.4,460.1 576.1,459.9 578.7,459.9 581.4,459.9 584.1,459.9 586.8,460 589.5,460.4 592.2,461.1 594.9,462.3 597.6,463.7 600.3,465.3 603,466.7 605.7,468 608.4,469.2 611.1,470.6 613.8,472 616.5,473.7 619.2,475.9 621.9,478.2 624.6,480.2 627.2,481.5 629.9,481.7 632.6,480.9 635.3,479.4 638,477.8 640.7,476.3 643.4,475 646.1,473.7 648.8,472.7 651.5,471.8 654.2,471.3 656.9,471 659.6,470.9 662.3,471 665,470.9 667.7,470.7 670.4,470.3 673.1,469.7 675.7,468.9 678.4,467.4 681.1,465.5 683.8,463.8 686.5,462.2 689.2,461.1 691.9,461 694.6,461.7 697.3,462.4 700,462.3 702.7,461.3 705.4,460 708.1,458.9 710.8,458.5 713.5,458.7 716.2,459.4 718.9,460.1 721.6,460.6 724.2,461 726.9,461.2 729.6,461.5 732.3,461.7 735,462" fill="none" stroke="#cd853f" stroke-width="1.35" opacity="0.95" stroke-linejoin="round"/>
<polyline points="554.5,459.2 557.2,459 559.9,459 562.6,459.1 565.3,459.5 568,459.9 570.7,460.5 573.4,461.1 576.1,461.6 578.7,462.1 581.4,462.4 584.1,462.3 586.8,462.4 589.5,463.2 592.2,464.8 594.9,467.4 597.6,470.3 600.3,473.2 603,475.8 605.7,478.1 608.4,480.4 611.1,482.8 613.8,485.4 616.5,488.8 619.2,492.4 621.9,495.6 624.6,497.5 627.2,497.5 629.9,495.8 632.6,493.4 635.3,490.8 638,488.8 640.7,487 643.4,485.2 646.1,483.3 648.8,481.6 651.5,480.2 654.2,479.3 656.9,478.8 659.6,478.4 662.3,477.5 665,476.2 667.7,474.2 670.4,471.7 673.1,468.8 675.7,464.3 678.4,459.3 681.1,454.4 683.8,448.7 686.5,444.1 689.2,443.1 691.9,444.9 694.6,447.9 697.3,450.8 700,453 702.7,455.2 705.4,457.2 708.1,459 710.8,460.5 713.5,461.6 716.2,462.4 718.9,462.7 721.6,462.8 724.2,462.6 726.9,462.4 729.6,462 732.3,461.7 735,461.3" fill="none" stroke="#c00000" stroke-width="1.35" opacity="0.95" stroke-linejoin="round"/>
<polyline points="554.5,459.9 557.2,460.1 559.9,460.2 562.6,460.4 565.3,460.6 568,460.8 570.7,461 573.4,461.1 576.1,461.2 578.7,461.3 581.4,461.3 584.1,461.1 586.8,461.1 589.5,461.7 592.2,463.2 594.9,465.5 597.6,468.1 600.3,470.7 603,472.7 605.7,474.3 608.4,475.7 611.1,477 613.8,478.7 616.5,481.1 619.2,484.6 621.9,488.2 624.6,491.2 627.2,492.8 629.9,492.7 632.6,491.6 635.3,490.2 638,489 640.7,488.4 643.4,487.8 646.1,487.2 648.8,486.4 651.5,485.6 654.2,484.6 656.9,483.5 659.6,482.2 662.3,480.6 665,478.6 667.7,476.4 670.4,474 673.1,471.2 675.7,467.1 678.4,461.5 681.1,455.1 683.8,447.1 686.5,438 689.2,433.4 691.9,434.9 694.6,439 697.3,443.7 700,446.8 702.7,449.2 705.4,451.5 708.1,453.4 710.8,454.9 713.5,456.2 716.2,457.2 718.9,457.9 721.6,458.6 724.2,459 726.9,459.4 729.6,459.8 732.3,460 735,460.2" fill="none" stroke="#f80000" stroke-width="1.35" opacity="0.95" stroke-linejoin="round"/>
<polyline points="554.5,461.5 557.2,461 559.9,460.8 562.6,460.7 565.3,460.8 568,460.9 570.7,461 573.4,460.9 576.1,460.7 578.7,460.4 581.4,459.8 584.1,459.2 586.8,458.8 589.5,459 592.2,460.1 594.9,462 597.6,464.3 600.3,466.8 603,469 605.7,471 608.4,472.9 611.1,474.5 613.8,476.2 616.5,478 619.2,479.7 621.9,481.1 624.6,481.7 627.2,481.5 629.9,480.6 632.6,479.5 635.3,478.5 638,477.9 640.7,477.1 643.4,476.3 646.1,475.2 648.8,474.1 651.5,473.2 654.2,472.6 656.9,472.6 659.6,472.8 662.3,473 665,472.7 667.7,471.8 670.4,470.5 673.1,469 675.7,467 678.4,465.2 681.1,463.6 683.8,462 686.5,461 689.2,460.8 691.9,461.2 694.6,462 697.3,462.6 700,462.9 702.7,462.9 705.4,462.8 708.1,462.6 710.8,462.5 713.5,462.2 716.2,461.8 718.9,461.2 721.6,460.6 724.2,460.1 726.9,459.7 729.6,459.6 732.3,459.7 735,460.1" fill="none" stroke="#f8a0a0" stroke-width="1.35" opacity="0.95" stroke-linejoin="round"/>
<polyline points="554.5,462.4 557.2,461.9 559.9,461.2 562.6,460.3 565.3,459.5 568,458.9 570.7,458.5 573.4,458.4 576.1,458.7 578.7,459.3 581.4,459.7 584.1,460.1 586.8,460.6 589.5,461.8 592.2,463.9 594.9,466.7 597.6,469.8 600.3,472.8 603,475.6 605.7,478.4 608.4,481.6 611.1,485.2 613.8,489.4 616.5,494.4 619.2,499.3 621.9,503.2 624.6,505.1 627.2,504.5 629.9,502.1 632.6,498.8 635.3,495.8 638,493.7 640.7,492.1 643.4,490.8 646.1,489.8 648.8,489 651.5,488.3 654.2,487.6 656.9,486.6 659.6,485.1 662.3,482.9 665,480.3 667.7,477.2 670.4,473.7 673.1,469.8 675.7,463.6 678.4,456.9 681.1,449.5 683.8,440.4 686.5,433.8 689.2,433.4 691.9,436.3 694.6,440.1 697.3,442.7 700,444.2 702.7,445.6 705.4,447.1 708.1,448.8 710.8,450.8 713.5,453 716.2,455.3 718.9,457.6 721.6,459.6 724.2,461.1 726.9,462.1 729.6,462.6 732.3,462.6 735,462" fill="none" stroke="#c86400" stroke-width="1.35" opacity="0.95" stroke-linejoin="round"/>
<polyline points="554.5,462.7 557.2,462.9 559.9,462.9 562.6,462.7 565.3,462.6 568,462.4 570.7,462.3 573.4,462.4 576.1,462.5 578.7,462.8 581.4,462.7 584.1,462.4 586.8,462.2 589.5,462.4 592.2,463.6 594.9,465.6 597.6,468.1 600.3,470.6 603,472.9 605.7,475.2 608.4,477.6 611.1,480.4 613.8,483.8 616.5,488 619.2,493.1 621.9,497.9 624.6,501.6 627.2,503 629.9,502.2 632.6,499.9 635.3,497.1 638,494.5 640.7,492.2 643.4,489.7 646.1,487.3 648.8,485.4 651.5,484.1 654.2,483.8 656.9,483.9 659.6,483.6 662.3,482.6 665,480.6 667.7,477.8 670.4,474.4 673.1,470.4 675.7,464.6 678.4,457.2 681.1,449.3 683.8,439.7 686.5,429.8 689.2,425.8 691.9,428.5 694.6,433.9 697.3,439.4 700,442.9 702.7,445.6 705.4,447.9 708.1,450 710.8,451.9 713.5,453.7 716.2,455.4 718.9,457.2 721.6,458.8 724.2,460.3 726.9,461.5 729.6,462.4 732.3,462.8 735,462.8" fill="none" stroke="#f8a040" stroke-width="1.35" opacity="0.95" stroke-linejoin="round"/>
<polyline points="554.5,462.5 557.2,462.2 559.9,461.8 562.6,461.5 565.3,461.3 568,461.3 570.7,461.4 573.4,461.5 576.1,461.8 578.7,462 581.4,462.1 584.1,462.1 586.8,462.4 589.5,463.3 592.2,464.6 594.9,465.9 597.6,466.8 600.3,467.1 603,467 605.7,467 608.4,467.1 611.1,467.6 613.8,468.7 616.5,471 619.2,474.2 621.9,477.3 624.6,479.6 627.2,480.5 629.9,480.2 632.6,478.9 635.3,477.3 638,475.7 640.7,474.2 643.4,472.8 646.1,471.6 648.8,470.6 651.5,469.8 654.2,469.2 656.9,468.7 659.6,468.2 662.3,467.5 665,466.6 667.7,465.7 670.4,464.6 673.1,463.5 675.7,461.8 678.4,459.9 681.1,458 683.8,455.7 686.5,453.9 689.2,454 691.9,455.4 694.6,457.4 697.3,459.1 700,460.2 702.7,461 705.4,461.5 708.1,461.8 710.8,461.8 713.5,461.7 716.2,461.5 718.9,461.3 721.6,461.2 724.2,461.2 726.9,461.3 729.6,461.6 732.3,461.9 735,462.1" fill="none" stroke="#f8c8a0" stroke-width="1.35" opacity="0.95" stroke-linejoin="round"/>
<polyline points="554.5,459.1 557.2,458.7 559.9,458.4 562.6,458.4 565.3,458.6 568,458.9 570.7,459.4 573.4,459.9 576.1,460.4 578.7,460.6 581.4,460.1 584.1,459.5 586.8,459.4 589.5,460.4 592.2,462.7 594.9,465.8 597.6,469.4 600.3,473.1 603,476.6 605.7,479.6 608.4,482.5 611.1,485.5 613.8,488.6 616.5,492.3 619.2,497.2 621.9,502.7 624.6,507.7 627.2,510.9 629.9,511.4 632.6,509.6 635.3,506.3 638,502.8 640.7,500.1 643.4,497.8 646.1,495.8 648.8,493.9 651.5,492.2 654.2,490.8 656.9,489.6 659.6,488.6 662.3,487.3 665,485.6 667.7,483.4 670.4,480.6 673.1,477.5 675.7,474.1 678.4,468.7 681.1,462.7 683.8,456.8 686.5,450.4 689.2,445 691.9,443.2 694.6,444.5 697.3,447 700,449.4 702.7,450.8 705.4,452.1 708.1,453.4 710.8,454.7 713.5,455.8 716.2,456.9 718.9,457.8 721.6,458.5 724.2,459.2 726.9,459.6 729.6,460 732.3,460.3 735,460.6" fill="none" stroke="#00bb00" stroke-width="1.35" opacity="0.95" stroke-linejoin="round"/>
<polyline points="554.5,461.3 557.2,461.4 559.9,461.3 562.6,461 565.3,460.7 568,460.4 570.7,460.2 573.4,460.1 576.1,460.2 578.7,460.6 581.4,461 584.1,461.3 586.8,461.9 589.5,463.2 592.2,465.4 594.9,468.5 597.6,472.1 600.3,475.7 603,478.8 605.7,481.5 608.4,484.1 611.1,486.9 613.8,490 616.5,493.7 619.2,498.4 621.9,503.5 624.6,507.7 627.2,510 629.9,509.6 632.6,507.1 635.3,503.6 638,499.9 640.7,497.1 643.4,494.8 646.1,492.6 648.8,490.8 651.5,489.2 654.2,487.7 656.9,486.3 659.6,484.6 662.3,482.4 665,479.8 667.7,477.3 670.4,475.1 673.1,473 675.7,470.8 678.4,466 681.1,460.6 683.8,455 686.5,448.3 689.2,442.9 691.9,441.8 694.6,443.6 697.3,446.4 700,448.9 702.7,450.2 705.4,451.4 708.1,452.5 710.8,453.5 713.5,454.3 716.2,455.1 718.9,456 721.6,457 724.2,458.2 726.9,459.5 729.6,460.9 732.3,462.2 735,463.3" fill="none" stroke="#44ee44" stroke-width="1.35" opacity="0.95" stroke-linejoin="round"/>
<polyline points="554.5,461.3 557.2,461.1 559.9,461 562.6,461 565.3,461.1 568,461.3 570.7,461.4 573.4,461.5 576.1,461.5 578.7,461.4 581.4,461.2 584.1,460.8 586.8,460.6 589.5,460.7 592.2,461.3 594.9,462.3 597.6,463.6 600.3,465 603,466.3 605.7,467.8 608.4,469.3 611.1,471 613.8,472.9 616.5,474.8 619.2,476.3 621.9,477 624.6,476.9 627.2,476 629.9,474.7 632.6,473.4 635.3,472.4 638,471.8 640.7,471.6 643.4,471.6 646.1,471.7 648.8,471.6 651.5,471.4 654.2,470.9 656.9,470.2 659.6,469.3 662.3,468.4 665,467.5 667.7,466.6 670.4,465.6 673.1,464.4 675.7,462.6 678.4,460.6 681.1,458.3 683.8,455.6 686.5,453.9 689.2,454.3 691.9,455.8 694.6,457.7 697.3,459.2 700,460.3 702.7,461.3 705.4,462.1 708.1,462.6 710.8,462.9 713.5,462.9 716.2,462.8 718.9,462.5 721.6,462.2 724.2,461.8 726.9,461.6 729.6,461.4 732.3,461.3 735,461.3" fill="none" stroke="#a8f078" stroke-width="1.35" opacity="0.95" stroke-linejoin="round"/>
<polyline points="554.5,461.8 557.2,461.4 559.9,460.9 562.6,460.4 565.3,460.1 568,459.8 570.7,459.7 573.4,459.8 576.1,460.1 578.7,460.6 581.4,460.9 584.1,461.1 586.8,461.6 589.5,463.1 592.2,465.8 594.9,469.3 597.6,472.8 600.3,475.5 603,477 605.7,478.7 608.4,481.7 611.1,485.9 613.8,490.5 616.5,495.7 619.2,500.7 621.9,504.9 624.6,507.2 627.2,506.8 629.9,504.5 632.6,501.1 635.3,497.7 638,495.3 640.7,493.3 643.4,491.5 646.1,489.9 648.8,488.4 651.5,487.2 654.2,486.1 656.9,485 659.6,483.7 662.3,482.1 665,480.3 667.7,478.1 670.4,475.8 673.1,473.2 675.7,468.3 678.4,463.1 681.1,457.6 683.8,451.2 686.5,446.1 689.2,444.9 691.9,446.1 694.6,448.2 697.3,450 700,451.1 702.7,452.3 705.4,453.7 708.1,455 710.8,456.3 713.5,457.6 716.2,458.7 718.9,459.7 721.6,460.5 724.2,461.1 726.9,461.6 729.6,461.9 732.3,462.2 735,462.3" fill="none" stroke="#c8c800" stroke-width="1.35" opacity="0.95" stroke-linejoin="round"/>
<polyline points="554.5,463.4 557.2,463.2 559.9,463 562.6,462.8 565.3,462.6 568,462.6 570.7,462.6 573.4,462.7 576.1,462.8 578.7,462.8 581.4,462.4 584.1,461.6 586.8,460.9 589.5,460.8 592.2,461.7 594.9,463.7 597.6,466.5 600.3,469.8 603,473 605.7,476.2 608.4,479.4 611.1,482.9 613.8,486.7 616.5,491 619.2,496.3 621.9,501.6 624.6,506 627.2,508.6 629.9,508.8 632.6,507.4 635.3,505.1 638,502.7 640.7,500.7 643.4,498.4 646.1,496 648.8,493.4 651.5,490.7 654.2,488 656.9,485.2 659.6,482.4 662.3,479.3 665,476.3 667.7,473.5 670.4,471 673.1,468.7 675.7,466 678.4,461.3 681.1,455.8 683.8,449 686.5,439.9 689.2,433.9 691.9,434.6 694.6,438.3 697.3,442.8 700,445.8 702.7,447.6 705.4,449.2 708.1,450.8 710.8,452.2 713.5,453.6 716.2,454.9 718.9,456.3 721.6,457.5 724.2,458.5 726.9,459.3 729.6,459.9 732.3,460.2 735,460.2" fill="none" stroke="#f8f820" stroke-width="1.35" opacity="0.95" stroke-linejoin="round"/>
<polyline points="554.5,462.5 557.2,463 559.9,463.3 562.6,463.4 565.3,463.3 568,463 570.7,462.6 573.4,461.9 576.1,461.3 578.7,460.7 581.4,460.3 584.1,460 586.8,460.1 589.5,460.7 592.2,462.1 594.9,464 597.6,466.3 600.3,468.6 603,470.8 605.7,472.7 608.4,474.2 611.1,475.4 613.8,476.1 616.5,476.8 619.2,477.6 621.9,478.3 624.6,478.9 627.2,478.9 629.9,478.3 632.6,477.2 635.3,476 638,474.9 640.7,473.9 643.4,472.8 646.1,471.6 648.8,470.3 651.5,468.6 654.2,466.6 656.9,464.8 659.6,464.2 662.3,464.9 665,466.2 667.7,467.2 670.4,467.5 673.1,467.4 675.7,466.5 678.4,464.8 681.1,462.9 683.8,460.5 686.5,458 689.2,456.5 691.9,456.3 694.6,456.8 697.3,457.4 700,457.9 702.7,458.4 705.4,459 708.1,459.5 710.8,460 713.5,460.4 716.2,460.7 718.9,460.9 721.6,461.1 724.2,461.4 726.9,461.7 729.6,462 732.3,462.5 735,463" fill="none" stroke="#f8f8a0" stroke-width="1.35" opacity="0.95" stroke-linejoin="round"/>
<polyline points="554.5,462.4 557.2,462.1 559.9,461.9 562.6,461.8 565.3,461.8 568,461.9 570.7,462 573.4,462 576.1,462 578.7,461.8 581.4,461.3 584.1,460.5 586.8,459.9 589.5,460 592.2,461.4 594.9,463.9 597.6,467.3 600.3,471.1 603,474.9 605.7,478.3 608.4,481.6 611.1,485 613.8,488.3 616.5,492 619.2,496.5 621.9,500.9 624.6,504.3 627.2,505.8 629.9,504.6 632.6,501.7 635.3,497.9 638,494.3 640.7,491.7 643.4,489.6 646.1,488 648.8,486.7 651.5,485.6 654.2,484.7 656.9,483.8 659.6,482.6 662.3,481.1 665,479.3 667.7,477.1 670.4,474.6 673.1,471.8 675.7,468.7 678.4,463.5 681.1,457.9 683.8,451.5 686.5,443.2 689.2,437.1 691.9,437.2 694.6,440.4 697.3,444.5 700,447.3 702.7,448.9 705.4,450.3 708.1,451.6 710.8,452.7 713.5,453.8 716.2,454.9 718.9,456 721.6,457.1 724.2,458.3 726.9,459.3 729.6,460.2 732.3,460.9 735,461.4" fill="none" stroke="#008b8b" stroke-width="1.35" opacity="0.95" stroke-linejoin="round"/>
<polyline points="554.5,459.8 557.2,459.1 559.9,458.6 562.6,458.3 565.3,458.4 568,458.7 570.7,459.2 573.4,459.9 576.1,460.6 578.7,461.2 581.4,461.3 584.1,461 586.8,460.5 589.5,460.3 592.2,460.9 594.9,462.4 597.6,464.6 600.3,467.3 603,470 605.7,472.5 608.4,475.2 611.1,478.1 613.8,481.4 616.5,484.9 619.2,488.7 621.9,492.6 624.6,495.8 627.2,497.8 629.9,498 632.6,496.8 635.3,494.7 638,492.4 640.7,490.6 643.4,489.5 646.1,488.4 648.8,487.4 651.5,486.4 654.2,485.4 656.9,484.3 659.6,483.1 662.3,481.5 665,479.5 667.7,477.2 670.4,474.7 673.1,472 675.7,468.9 678.4,464.1 681.1,457.6 683.8,450 686.5,439.5 689.2,427.7 691.9,422.6 694.6,425.2 697.3,431.1 700,437.1 702.7,440.8 705.4,443.7 708.1,446.1 710.8,448.2 713.5,449.9 716.2,451.2 718.9,452.4 721.6,453.5 724.2,454.6 726.9,455.6 729.6,456.7 732.3,457.7 735,458.6" fill="none" stroke="#00e5ee" stroke-width="1.35" opacity="0.95" stroke-linejoin="round"/>
<polyline points="554.5,460.9 557.2,460.2 559.9,459.6 562.6,459 565.3,458.6 568,458.4 570.7,458.4 573.4,458.7 576.1,459.1 578.7,459.7 581.4,460.2 584.1,460.4 586.8,460.9 589.5,462 592.2,464.2 594.9,467.1 597.6,470.3 600.3,473.4 603,476.1 605.7,478.6 608.4,481.2 611.1,484.3 613.8,487.8 616.5,492.1 619.2,497.5 621.9,502.9 624.6,507.2 627.2,509.1 629.9,508.5 632.6,506.1 635.3,503 638,500 640.7,497.8 643.4,495.8 646.1,493.9 648.8,492.1 651.5,490.5 654.2,489.2 656.9,488 659.6,486.8 662.3,485.2 665,483.2 667.7,480.7 670.4,477.7 673.1,474 675.7,468.9 678.4,461.4 681.1,453.1 683.8,443.6 686.5,433.1 689.2,426.8 691.9,427.3 694.6,431.3 697.3,436.5 700,440.5 702.7,443.9 705.4,447 708.1,449.9 710.8,452.5 713.5,454.6 716.2,456.5 718.9,458 721.6,459.2 724.2,460.2 726.9,460.9 729.6,461.6 732.3,462.1 735,462.5" fill="none" stroke="#a8f4f8" stroke-width="1.35" opacity="0.95" stroke-linejoin="round"/>
<polyline points="554.5,461 557.2,461.1 559.9,461.4 562.6,461.8 565.3,462.4 568,463.1 570.7,463.7 573.4,464.3 576.1,464.7 578.7,464.9 581.4,464.7 584.1,464 586.8,463.4 589.5,463.3 592.2,464 594.9,465.8 597.6,468.2 600.3,471 603,473.7 605.7,476.1 608.4,478.5 611.1,481.1 613.8,483.8 616.5,486.9 619.2,490.9 621.9,495 624.6,498.3 627.2,500 629.9,499.5 632.6,497.5 635.3,494.8 638,492.4 640.7,490.8 643.4,489.6 646.1,488.6 648.8,487.7 651.5,486.8 654.2,486 656.9,485.1 659.6,484.3 662.3,483.6 665,482.9 667.7,481.4 670.4,478.2 673.1,473.6 675.7,468.2 678.4,461.2 681.1,454.1 683.8,447 686.5,439.7 689.2,435.5 691.9,437.1 694.6,441.1 697.3,445.4 700,448.3 702.7,449.9 705.4,451.1 708.1,452.2 710.8,453.2 713.5,454.1 716.2,455 718.9,456 721.6,457.1 724.2,458.2 726.9,459.4 729.6,460.6 732.3,461.7 735,462.7" fill="none" stroke="#000080" stroke-width="1.35" opacity="0.95" stroke-linejoin="round"/>
<polyline points="554.5,459.1 557.2,459.1 559.9,459.4 562.6,459.9 565.3,460.6 568,461.3 570.7,462 573.4,462.6 576.1,463 578.7,463.2 581.4,462.8 584.1,462.1 586.8,461.5 589.5,461.7 592.2,463.2 594.9,466 597.6,469.5 600.3,473.2 603,476.3 605.7,479.1 608.4,481.7 611.1,484.5 613.8,487.6 616.5,491.5 619.2,495.5 621.9,498.9 624.6,500.8 627.2,500.6 629.9,499 632.6,496.8 635.3,494.7 638,493.4 640.7,492.5 643.4,491.5 646.1,490.4 648.8,489.1 651.5,487.6 654.2,486 656.9,484.2 659.6,482.1 662.3,479.6 665,476.9 667.7,474.2 670.4,471.4 673.1,468.6 675.7,463.8 678.4,458.8 681.1,453.4 683.8,446.6 686.5,441.3 689.2,440.5 691.9,442.4 694.6,445.3 697.3,447.7 700,449.4 702.7,451.3 705.4,453.2 708.1,455.2 710.8,457.2 713.5,459 716.2,460.7 718.9,462 721.6,462.9 724.2,463.4 726.9,463.5 729.6,463.3 732.3,462.8 735,462.1" fill="none" stroke="#0000f0" stroke-width="1.35" opacity="0.95" stroke-linejoin="round"/>
<polyline points="554.5,462.6 557.2,462.6 559.9,462.4 562.6,462 565.3,461.6 568,461.2 570.7,460.9 573.4,460.6 576.1,460.5 578.7,460.4 581.4,460.4 584.1,460.2 586.8,460.2 589.5,460.9 592.2,462.4 594.9,464.8 597.6,467.6 600.3,470.5 603,473.1 605.7,475.5 608.4,477.9 611.1,480.4 613.8,483.3 616.5,486.8 619.2,491.1 621.9,495.3 624.6,498.7 627.2,500.2 629.9,499.7 632.6,497.9 635.3,495.3 638,492.8 640.7,490.7 643.4,488.5 646.1,486.4 648.8,484.3 651.5,482.6 654.2,481.2 656.9,480.3 659.6,479.8 662.3,479.5 665,479.3 667.7,479.1 670.4,478.4 673.1,477.1 675.7,474 678.4,468.8 681.1,462.7 683.8,455.3 686.5,447 689.2,442 691.9,441.9 694.6,444.1 697.3,446.8 700,448.6 702.7,450.1 705.4,451.6 708.1,453 710.8,454.2 713.5,455.2 716.2,456.1 718.9,456.7 721.6,457.2 724.2,457.7 726.9,458 729.6,458.4 732.3,458.9 735,459.4" fill="none" stroke="#a4c8f8" stroke-width="1.35" opacity="0.95" stroke-linejoin="round"/>
<polyline points="554.5,460.3 557.2,459.9 559.9,459.4 562.6,459.1 565.3,459 568,459.1 570.7,459.5 573.4,460.2 576.1,460.9 578.7,461.7 581.4,462.2 584.1,462.3 586.8,462.5 589.5,463.1 592.2,464.7 594.9,467.3 597.6,470.4 600.3,473.8 603,477 605.7,480 608.4,483 611.1,486.2 613.8,489.5 616.5,493.3 619.2,497.8 621.9,501.9 624.6,504.7 627.2,505.4 629.9,503.7 632.6,500.5 635.3,497 638,494.1 640.7,492.2 643.4,490.7 646.1,489.4 648.8,488.2 651.5,487 654.2,485.7 656.9,484.2 659.6,482.4 662.3,480.3 665,477.8 667.7,475.2 670.4,472.6 673.1,470.1 675.7,466.8 678.4,462.1 681.1,457.1 683.8,451.2 686.5,444.3 689.2,440.4 691.9,441.1 694.6,443.9 697.3,446.9 700,448.9 702.7,450.4 705.4,452.1 708.1,454 710.8,456.1 713.5,458.3 716.2,460.3 718.9,461.8 721.6,462.7 724.2,462.8 726.9,462.5 729.6,461.8 732.3,461.1 735,460.3" fill="none" stroke="#4b0082" stroke-width="1.35" opacity="0.95" stroke-linejoin="round"/>
<polyline points="554.5,460.1 557.2,460.4 559.9,460.7 562.6,460.9 565.3,461 568,461.3 570.7,461.6 573.4,462 576.1,462.5 578.7,463 581.4,463.3 584.1,463.3 586.8,463.3 589.5,463.6 592.2,464.7 594.9,466.6 597.6,468.8 600.3,471.2 603,473.4 605.7,475.4 608.4,477.6 611.1,480.4 613.8,483.7 616.5,487.5 619.2,492.3 621.9,497.8 624.6,502.8 627.2,506.2 629.9,507 632.6,505.7 635.3,503 638,499.8 640.7,497.2 643.4,495 646.1,492.9 648.8,490.9 651.5,489.1 654.2,487.3 656.9,485.7 659.6,484 662.3,481.8 665,479.2 667.7,476.2 670.4,473.2 673.1,470.2 675.7,467.2 678.4,461.9 681.1,455.1 683.8,447.1 686.5,435.4 689.2,424.1 691.9,421 694.6,424.8 697.3,431.1 700,436.9 702.7,440 705.4,442.6 708.1,444.8 710.8,446.7 713.5,448.3 716.2,449.8 718.9,451.3 721.6,452.9 724.2,454.5 726.9,456.2 729.6,457.8 732.3,459.2 735,460.4" fill="none" stroke="#7b1ff0" stroke-width="1.35" opacity="0.95" stroke-linejoin="round"/>
<polyline points="554.5,459.6 557.2,459.9 559.9,460.2 562.6,460.4 565.3,460.6 568,460.7 570.7,460.8 573.4,460.8 576.1,460.9 578.7,461 581.4,461 584.1,460.8 586.8,460.8 589.5,461.6 592.2,463.4 594.9,466.4 597.6,469.9 600.3,473.4 603,476.5 605.7,479.2 608.4,481.7 611.1,484.1 613.8,486.8 616.5,490.1 619.2,493.3 621.9,495.8 624.6,496.9 627.2,496.2 629.9,494.2 632.6,491.8 635.3,489.5 638,488 640.7,486.5 643.4,484.9 646.1,483.2 648.8,481.4 651.5,479.6 654.2,478.1 656.9,476.6 659.6,475.3 662.3,473.8 665,472.2 667.7,470.4 670.4,468.6 673.1,466.3 675.7,462.3 678.4,458 681.1,453.1 683.8,446.8 686.5,442.7 689.2,443.1 691.9,445.9 694.6,449.2 697.3,451.5 700,452.9 702.7,454.1 705.4,455.2 708.1,456.1 710.8,456.9 713.5,457.6 716.2,458.4 718.9,459.1 721.6,459.9 724.2,460.6 726.9,461.2 729.6,461.7 732.3,462 735,462" fill="none" stroke="#c8a2f0" stroke-width="1.35" opacity="0.95" stroke-linejoin="round"/>
<polyline points="554.5,459.7 557.2,459.9 559.9,460.2 562.6,460.7 565.3,461.3 568,461.9 570.7,462.4 573.4,462.9 576.1,463.3 578.7,463.8 581.4,464.1 584.1,464.2 586.8,464.5 589.5,465.3 592.2,466.9 594.9,469.4 597.6,472.5 600.3,475.7 603,478.6 605.7,480.9 608.4,483 611.1,485 613.8,487.2 616.5,489.8 619.2,493.7 621.9,498.6 624.6,503.4 627.2,507 629.9,508.4 632.6,507.6 635.3,505.6 638,503.2 640.7,501.4 643.4,499.9 646.1,498.3 648.8,496.5 651.5,494.6 654.2,492.6 656.9,490.6 659.6,488.7 662.3,486.7 665,484.5 667.7,481.9 670.4,479.1 673.1,476.1 675.7,473 678.4,468.5 681.1,463 683.8,457.6 686.5,451.7 689.2,446.3 691.9,443.8 694.6,444.3 697.3,446.4 700,449 702.7,451.4 705.4,454.1 708.1,457.1 710.8,459.8 713.5,462.2 716.2,464 718.9,465.3 721.6,466 724.2,466 726.9,465.5 729.6,464.7 732.3,463.8 735,462.9" fill="none" stroke="#8b0a50" stroke-width="1.35" opacity="0.95" stroke-linejoin="round"/>
<polyline points="554.5,460 557.2,459.4 559.9,458.8 562.6,458.5 565.3,458.3 568,458.4 570.7,458.6 573.4,458.9 576.1,459.1 578.7,459.1 581.4,458.9 584.1,458.6 586.8,459 589.5,460.2 592.2,462.4 594.9,465.1 597.6,468.1 600.3,471.1 603,473.9 605.7,476.3 608.4,478.6 611.1,481.1 613.8,483.7 616.5,486.8 619.2,490.7 621.9,495 624.6,498.7 627.2,501 629.9,501.1 632.6,499.3 635.3,496.6 638,493.6 640.7,491.3 643.4,489.2 646.1,487.3 648.8,485.6 651.5,484.1 654.2,482.8 656.9,481.8 659.6,480.9 662.3,480 665,478.8 667.7,477.3 670.4,475.5 673.1,473.5 675.7,471.1 678.4,466.6 681.1,461.5 683.8,455.8 686.5,448.6 689.2,442.3 691.9,440.6 694.6,442.1 697.3,444.6 700,446.8 702.7,447.8 705.4,448.8 708.1,450 710.8,451.3 713.5,452.7 716.2,453.9 718.9,454.6 721.6,454.3 724.2,453.5 726.9,453.2 729.6,454.2 732.3,456 735,457.7" fill="none" stroke="#ea1070" stroke-width="1.35" opacity="0.95" stroke-linejoin="round"/>
<polyline points="554.5,461.2 557.2,461.3 559.9,461.3 562.6,461.4 565.3,461.3 568,461.2 570.7,461.1 573.4,460.8 576.1,460.6 578.7,460.4 581.4,460 584.1,459.6 586.8,459.4 589.5,459.9 592.2,461.2 594.9,463.5 597.6,466.3 600.3,469.4 603,472.3 605.7,475 608.4,477.5 611.1,479.8 613.8,482.2 616.5,484.7 619.2,487.8 621.9,491 624.6,493.7 627.2,495.5 629.9,495.9 632.6,494.8 635.3,492.2 638,488.8 640.7,485.9 643.4,483.5 646.1,481.8 648.8,480.6 651.5,479.5 654.2,478.7 656.9,478.1 659.6,477.5 662.3,476.8 665,475.7 667.7,474.4 670.4,472.7 673.1,470.4 675.7,467.3 678.4,462.2 681.1,457 683.8,452.2 686.5,446.8 689.2,442.9 691.9,442.8 694.6,444.8 697.3,447.5 700,449.7 702.7,451 705.4,452.5 708.1,454.1 710.8,455.9 713.5,458 716.2,459.9 718.9,461.1 721.6,461.4 724.2,460.9 726.9,460.3 729.6,460 732.3,460.1 735,460.4" fill="none" stroke="#f274b4" stroke-width="1.35" opacity="0.95" stroke-linejoin="round"/>
<polyline points="554.5,461.4 557.2,461.7 559.9,462.1 562.6,462.6 565.3,463.1 568,463.6 570.7,464 573.4,464.3 576.1,464.3 578.7,464.1 581.4,463.5 584.1,462.6 586.8,461.7 589.5,461.2 592.2,461.7 594.9,463.1 597.6,465.5 600.3,468.3 603,471.4 605.7,474.4 608.4,477.3 611.1,480.1 613.8,482.9 616.5,485.7 619.2,489 621.9,492.7 624.6,495.9 627.2,497.8 629.9,497.9 632.6,496.4 635.3,493.9 638,491.4 640.7,489.3 643.4,487.8 646.1,486.6 648.8,485.8 651.5,485.6 654.2,485.4 656.9,484.5 659.6,482.7 662.3,480.3 665,477.9 667.7,475.7 670.4,473.7 673.1,471.6 675.7,469.5 678.4,466 681.1,461.5 683.8,456.8 686.5,450.6 689.2,444.6 691.9,442.6 694.6,444.2 697.3,447.2 700,449.9 702.7,451.3 705.4,452.3 708.1,453.3 710.8,454.1 713.5,454.8 716.2,455.5 718.9,456.3 721.6,457.3 724.2,458.3 726.9,459.6 729.6,460.8 732.3,462.1 735,463.2" fill="none" stroke="#8b008b" stroke-width="1.35" opacity="0.95" stroke-linejoin="round"/>
<polyline points="554.5,462.2 557.2,462.8 559.9,463.2 562.6,463.3 565.3,463.3 568,463 570.7,462.6 573.4,462.2 576.1,461.7 578.7,461.3 581.4,460.9 584.1,460.4 586.8,460.3 589.5,461 592.2,462.8 594.9,465.5 597.6,468.5 600.3,471.5 603,474 605.7,476.3 608.4,478.5 611.1,480.8 613.8,483.4 616.5,486.9 619.2,490.6 621.9,494 624.6,496.1 627.2,496.6 629.9,495.7 632.6,494 635.3,492.2 638,490.7 640.7,489.3 643.4,487.7 646.1,485.9 648.8,484 651.5,482 654.2,480 656.9,478 659.6,476.1 662.3,474 665,472.2 667.7,470.5 670.4,468.6 673.1,466.4 675.7,461.5 678.4,455.4 681.1,447.6 683.8,436 686.5,426.3 689.2,424.9 691.9,428.6 694.6,434.2 697.3,438.8 700,441.7 702.7,444.6 705.4,447.4 708.1,449.9 710.8,451.9 713.5,453.6 716.2,455.1 718.9,456.7 721.6,458.4 724.2,460.1 726.9,461.2 729.6,461.4 732.3,461 735,460.2" fill="none" stroke="#f000f0" stroke-width="1.35" opacity="0.95" stroke-linejoin="round"/>
<polyline points="554.5,460.4 557.2,461.2 559.9,461.9 562.6,462.4 565.3,462.7 568,462.7 570.7,462.5 573.4,462.2 576.1,461.9 578.7,461.7 581.4,461.3 584.1,460.9 586.8,460.7 589.5,461.2 592.2,462.8 594.9,465.3 597.6,468.4 600.3,471.6 603,474.5 605.7,476.8 608.4,479 611.1,481.1 613.8,483.6 616.5,486.7 619.2,491 621.9,496.4 624.6,501.8 627.2,506 629.9,508.1 632.6,508.1 635.3,506.8 638,504.7 640.7,502.8 643.4,501 646.1,498.9 648.8,496.6 651.5,494.1 654.2,491.7 656.9,489.6 659.6,487.7 662.3,485.7 665,483.4 667.7,480.8 670.4,477.7 673.1,474.3 675.7,470.7 678.4,465.3 681.1,458.9 683.8,452.3 686.5,444.3 689.2,436.7 691.9,434.3 694.6,436.7 697.3,441.1 700,445.4 702.7,448 705.4,450.1 708.1,451.8 710.8,453.3 713.5,454.4 716.2,455.3 718.9,456.1 721.6,457 724.2,457.8 726.9,458.7 729.6,459.5 732.3,460.2 735,460.7" fill="none" stroke="#f47cf4" stroke-width="1.35" opacity="0.95" stroke-linejoin="round"/>
<polyline points="554.5,460.4 557.2,460.5 559.9,460.6 562.6,460.9 565.3,461.3 568,461.8 570.7,462.5 573.4,463.3 576.1,464.2 578.7,465.3 581.4,467.5 584.1,470.3 586.8,473.3 589.5,476.2 592.2,479.1 594.9,482.4 597.6,485.6 600.3,488.4 603,490.2 605.7,491.1 608.4,491.2 611.1,490.9 613.8,490.3 616.5,489.4 619.2,487.9 621.9,486 624.6,483.9 627.2,482.3 629.9,481.3 632.6,480.6 635.3,479.9 638,479.1 640.7,478.1 643.4,477 646.1,476.1 648.8,475.3 651.5,474.5 654.2,473.9 656.9,473.4 659.6,473 662.3,472.7 665,472.3 667.7,471.8 670.4,471.1 673.1,469.9 675.7,468.2 678.4,466.2 681.1,464.5 683.8,463.6 686.5,463.8 689.2,464.8 691.9,465.9 694.6,466.9 697.3,467.4 700,467.3 702.7,467.1 705.4,466.8 708.1,466.6 710.8,466.3 713.5,466.1 716.2,465.7 718.9,465.4 721.6,464.9 724.2,464.5 726.9,464 729.6,463.5 732.3,463.1 735,462.8" fill="none" stroke="#00e5ee" stroke-width="1.3" opacity="0.95" stroke-linejoin="round"/>
<polyline points="554.5,462.7 557.2,463.3 559.9,463.7 562.6,464.1 565.3,464.4 568,464.6 570.7,464.8 573.4,464.9 576.1,465.1 578.7,465.5 581.4,467 584.1,469.1 586.8,471.6 589.5,474.2 592.2,476.9 594.9,480.1 597.6,483.5 600.3,486.6 603,489.2 605.7,491.2 608.4,492.5 611.1,492.6 613.8,491.7 616.5,490.2 619.2,488.4 621.9,486.5 624.6,484.9 627.2,483.6 629.9,482.7 632.6,482 635.3,481.3 638,480.6 640.7,479.8 643.4,478.9 646.1,478.1 648.8,477.4 651.5,476.6 654.2,475.8 656.9,475 659.6,474.2 662.3,473.3 665,472.4 667.7,471.4 670.4,470.4 673.1,469.3 675.7,468.2 678.4,467 681.1,465.8 683.8,464.8 686.5,464.2 689.2,464.4 691.9,465.2 694.6,466.5 697.3,468 700,469.5 702.7,471 705.4,472 708.1,472.3 710.8,471.8 713.5,470.8 716.2,469.5 718.9,468.4 721.6,467.4 724.2,466.6 726.9,465.9 729.6,465.3 732.3,464.6 735,464" fill="none" stroke="#a8f4f8" stroke-width="1.3" opacity="0.95" stroke-linejoin="round"/>
<polyline points="554.5,462.5 557.2,462.4 559.9,462.2 562.6,462 565.3,461.9 568,462 570.7,462.2 573.4,462.6 576.1,463.3 578.7,464.3 581.4,466.6 584.1,469.5 586.8,472.6 589.5,475.8 592.2,478.7 594.9,482 597.6,485.1 600.3,487.7 603,489.1 605.7,489.5 608.4,489.1 611.1,488.3 613.8,487.4 616.5,486.3 619.2,484.9 621.9,483.5 624.6,482.2 627.2,481.6 629.9,481.4 632.6,481.5 635.3,481.8 638,482.2 640.7,482.7 643.4,483.1 646.1,483.1 648.8,482.5 651.5,481.1 654.2,479.1 656.9,476.9 659.6,475 662.3,473.4 665,472.2 667.7,471.4 670.4,470.8 673.1,470.3 675.7,469.8 678.4,469.2 681.1,468.5 683.8,467.8 686.5,467.4 689.2,467.4 691.9,467.8 694.6,468.4 697.3,468.7 700,468.5 702.7,468.3 705.4,468 708.1,467.7 710.8,467.3 713.5,466.9 716.2,466.5 718.9,466.1 721.6,465.6 724.2,465 726.9,464.5 729.6,464 732.3,463.4 735,463" fill="none" stroke="#008b8b" stroke-width="1.3" opacity="0.95" stroke-linejoin="round"/>
<polyline points="554.5,462.8 557.2,462.8 559.9,462.9 562.6,462.9 565.3,462.9 568,463 570.7,463.1 573.4,463.2 576.1,463.3 578.7,463.5 581.4,463.7 584.1,463.9 586.8,464.1 589.5,464.4 592.2,464.7 594.9,465 597.6,465.4 600.3,465.7 603,466.2 605.7,467.3 608.4,468.6 611.1,469.8 613.8,470.8 616.5,471.4 619.2,471.8 621.9,472 624.6,472 627.2,472.1 629.9,471.9 632.6,471.7 635.3,471.5 638,471.4 640.7,471.5 643.4,471.9 646.1,472.3 648.8,472.6 651.5,472.7 654.2,472.7 656.9,472.6 659.6,472.4 662.3,472.1 665,471.9 667.7,471.7 670.4,471.4 673.1,470.9 675.7,470.2 678.4,469.3 681.1,468.2 683.8,467 686.5,465.9 689.2,465 691.9,464.4 694.6,464.2 697.3,464.3 700,464.6 702.7,465 705.4,465.4 708.1,465.6 710.8,465.8 713.5,466 716.2,466.2 718.9,466.5 721.6,466.7 724.2,466.9 726.9,467.2 729.6,467.4 732.3,467.6 735,467.8" fill="none" stroke="#111" stroke-width="1.6" opacity="0.95" stroke-linejoin="round"/>
<line x1="554.5" y1="395.2" x2="554.5" y2="514.1" stroke="#333" stroke-width="1.0" />
<line x1="554.5" y1="514.1" x2="734.9" y2="514.1" stroke="#333" stroke-width="1.0" />
<line x1="551.0" y1="396.7" x2="554.5" y2="396.7" stroke="#333" stroke-width="0.9" />
<text x="547.5" y="400.2" font-size="9.9" text-anchor="end" font-weight="normal" fill="#333" >20</text>
<line x1="551.0" y1="413.2" x2="554.5" y2="413.2" stroke="#333" stroke-width="0.9" />
<text x="547.5" y="416.7" font-size="9.9" text-anchor="end" font-weight="normal" fill="#333" >15</text>
<line x1="551.0" y1="429.7" x2="554.5" y2="429.7" stroke="#333" stroke-width="0.9" />
<text x="547.5" y="433.2" font-size="9.9" text-anchor="end" font-weight="normal" fill="#333" >10</text>
<line x1="551.0" y1="446.3" x2="554.5" y2="446.3" stroke="#333" stroke-width="0.9" />
<text x="547.5" y="449.8" font-size="9.9" text-anchor="end" font-weight="normal" fill="#333" >5</text>
<line x1="551.0" y1="462.8" x2="554.5" y2="462.8" stroke="#333" stroke-width="0.9" />
<text x="547.5" y="466.3" font-size="9.9" text-anchor="end" font-weight="normal" fill="#333" >0</text>
<line x1="551.0" y1="479.3" x2="554.5" y2="479.3" stroke="#333" stroke-width="0.9" />
<text x="547.5" y="482.8" font-size="9.9" text-anchor="end" font-weight="normal" fill="#333" >–5</text>
<line x1="551.0" y1="495.9" x2="554.5" y2="495.9" stroke="#333" stroke-width="0.9" />
<text x="547.5" y="499.4" font-size="9.9" text-anchor="end" font-weight="normal" fill="#333" >–10</text>
<line x1="551.0" y1="512.4" x2="554.5" y2="512.4" stroke="#333" stroke-width="0.9" />
<text x="547.5" y="515.9" font-size="9.9" text-anchor="end" font-weight="normal" fill="#333" >–15</text>
<line x1="554.5" y1="514.1" x2="554.5" y2="517.3" stroke="#333" stroke-width="0.9" />
<text x="554.5" y="529.4" font-size="9.9" text-anchor="middle" font-weight="normal" fill="#333" >0</text>
<line x1="578.6" y1="514.1" x2="578.6" y2="517.3" stroke="#333" stroke-width="0.9" />
<text x="578.6" y="529.4" font-size="9.9" text-anchor="middle" font-weight="normal" fill="#333" >1</text>
<line x1="602.6" y1="514.1" x2="602.6" y2="517.3" stroke="#333" stroke-width="0.9" />
<text x="602.6" y="529.4" font-size="9.9" text-anchor="middle" font-weight="normal" fill="#333" >2</text>
<line x1="626.7" y1="514.1" x2="626.7" y2="517.3" stroke="#333" stroke-width="0.9" />
<text x="626.7" y="529.4" font-size="9.9" text-anchor="middle" font-weight="normal" fill="#333" >3</text>
<line x1="650.8" y1="514.1" x2="650.8" y2="517.3" stroke="#333" stroke-width="0.9" />
<text x="650.8" y="529.4" font-size="9.9" text-anchor="middle" font-weight="normal" fill="#333" >4</text>
<line x1="674.9" y1="514.1" x2="674.9" y2="517.3" stroke="#333" stroke-width="0.9" />
<text x="674.9" y="529.4" font-size="9.9" text-anchor="middle" font-weight="normal" fill="#333" >5</text>
<line x1="698.9" y1="514.1" x2="698.9" y2="517.3" stroke="#333" stroke-width="0.9" />
<text x="698.9" y="529.4" font-size="9.9" text-anchor="middle" font-weight="normal" fill="#333" >6</text>
<line x1="723.0" y1="514.1" x2="723.0" y2="517.3" stroke="#333" stroke-width="0.9" />
<text x="723.0" y="529.4" font-size="9.9" text-anchor="middle" font-weight="normal" fill="#333" >7</text>
<text x="762.0" y="217.0" font-size="10" text-anchor="middle" font-weight="normal" fill="#231f20" >Right</text>
<text x="763.3" y="228.5" font-size="10" text-anchor="middle" font-weight="normal" fill="#231f20" >hand</text>
<text x="824.5" y="217.0" font-size="10" text-anchor="middle" font-weight="normal" fill="#231f20" >Left</text>
<text x="826.4" y="228.5" font-size="10" text-anchor="middle" font-weight="normal" fill="#231f20" >hand</text>
<text x="748.0" y="250.2" font-size="10.6" text-anchor="start" font-weight="normal" fill="#231f20" textLength="57.2" lengthAdjust="spacingAndGlyphs" >Pinky finger</text>
<rect x="748.0" y="256.2" width="17.0" height="5.6" fill="#8b0a50" />
<text x="767.0" y="262.8" font-size="9.2" text-anchor="start" font-weight="normal" fill="#231f20" >In</text>
<rect x="811.8" y="256.6" width="16.8" height="5.6" fill="#00bb00" />
<text x="831.0" y="263.2" font-size="9.2" text-anchor="start" font-weight="normal" fill="#231f20" >In</text>
<rect x="748.0" y="267.4" width="17.0" height="5.6" fill="#ea1070" />
<text x="767.0" y="274.0" font-size="9.2" text-anchor="start" font-weight="normal" fill="#231f20" >Down</text>
<rect x="811.8" y="267.8" width="16.8" height="5.6" fill="#44ee44" />
<text x="831.0" y="274.4" font-size="9.2" text-anchor="start" font-weight="normal" fill="#231f20" >Down</text>
<rect x="748.0" y="278.6" width="17.0" height="5.6" fill="#f274b4" />
<text x="767.0" y="285.2" font-size="9.2" text-anchor="start" font-weight="normal" fill="#231f20" >Up</text>
<rect x="811.8" y="279.0" width="16.8" height="5.6" fill="#a8f078" />
<text x="831.0" y="285.6" font-size="9.2" text-anchor="start" font-weight="normal" fill="#231f20" >Up</text>
<text x="748.0" y="303.3" font-size="10.6" text-anchor="start" font-weight="normal" fill="#231f20" textLength="53.2" lengthAdjust="spacingAndGlyphs" >Ring finger</text>
<rect x="748.0" y="310.0" width="17.0" height="5.6" fill="#8b008b" />
<text x="767.0" y="316.6" font-size="9.2" text-anchor="start" font-weight="normal" fill="#231f20" >In</text>
<rect x="811.8" y="310.4" width="16.8" height="5.6" fill="#c8c800" />
<text x="831.0" y="317.0" font-size="9.2" text-anchor="start" font-weight="normal" fill="#231f20" >In</text>
<rect x="748.0" y="321.2" width="17.0" height="5.6" fill="#f000f0" />
<text x="767.0" y="327.8" font-size="9.2" text-anchor="start" font-weight="normal" fill="#231f20" >Down</text>
<rect x="811.8" y="321.6" width="16.8" height="5.6" fill="#f8f820" />
<text x="831.0" y="328.2" font-size="9.2" text-anchor="start" font-weight="normal" fill="#231f20" >Down</text>
<rect x="748.0" y="332.4" width="17.0" height="5.6" fill="#f47cf4" />
<text x="767.0" y="339.0" font-size="9.2" text-anchor="start" font-weight="normal" fill="#231f20" >Up</text>
<rect x="811.8" y="332.8" width="16.8" height="5.6" fill="#f8f8a0" />
<text x="831.0" y="339.4" font-size="9.2" text-anchor="start" font-weight="normal" fill="#231f20" >Up</text>
<text x="748.0" y="358.9" font-size="10.6" text-anchor="start" font-weight="normal" fill="#231f20" textLength="64.7" lengthAdjust="spacingAndGlyphs" >Middle finger</text>
<rect x="748.0" y="366.4" width="17.0" height="5.6" fill="#4b0082" />
<text x="767.0" y="373.0" font-size="9.2" text-anchor="start" font-weight="normal" fill="#231f20" >In</text>
<rect x="811.8" y="366.8" width="16.8" height="5.6" fill="#c86400" />
<text x="831.0" y="373.4" font-size="9.2" text-anchor="start" font-weight="normal" fill="#231f20" >In</text>
<rect x="748.0" y="378.9" width="17.0" height="5.6" fill="#7b1ff0" />
<text x="767.0" y="385.5" font-size="9.2" text-anchor="start" font-weight="normal" fill="#231f20" >Down</text>
<rect x="811.8" y="379.3" width="16.8" height="5.6" fill="#f8a040" />
<text x="831.0" y="385.9" font-size="9.2" text-anchor="start" font-weight="normal" fill="#231f20" >Down</text>
<rect x="748.0" y="391.4" width="17.0" height="5.6" fill="#c8a2f0" />
<text x="767.0" y="398.0" font-size="9.2" text-anchor="start" font-weight="normal" fill="#231f20" >Up</text>
<rect x="811.8" y="391.8" width="16.8" height="5.6" fill="#f8c8a0" />
<text x="831.0" y="398.4" font-size="9.2" text-anchor="start" font-weight="normal" fill="#231f20" >Up</text>
<text x="748.0" y="420.1" font-size="10.6" text-anchor="start" font-weight="normal" fill="#231f20" textLength="58.2" lengthAdjust="spacingAndGlyphs" >Index finger</text>
<rect x="748.0" y="426.7" width="17.0" height="5.6" fill="#000080" />
<text x="767.0" y="433.3" font-size="9.2" text-anchor="start" font-weight="normal" fill="#231f20" >In</text>
<rect x="811.8" y="427.1" width="16.8" height="5.6" fill="#c00000" />
<text x="831.0" y="433.7" font-size="9.2" text-anchor="start" font-weight="normal" fill="#231f20" >In</text>
<rect x="748.0" y="439.5" width="17.0" height="5.6" fill="#0000f0" />
<text x="767.0" y="446.1" font-size="9.2" text-anchor="start" font-weight="normal" fill="#231f20" >Down</text>
<rect x="811.8" y="439.9" width="16.8" height="5.6" fill="#f80000" />
<text x="831.0" y="446.5" font-size="9.2" text-anchor="start" font-weight="normal" fill="#231f20" >Down</text>
<rect x="748.0" y="452.4" width="17.0" height="5.6" fill="#a4c8f8" />
<text x="767.0" y="459.0" font-size="9.2" text-anchor="start" font-weight="normal" fill="#231f20" >Up</text>
<rect x="811.8" y="452.8" width="16.8" height="5.6" fill="#f8a0a0" />
<text x="831.0" y="459.4" font-size="9.2" text-anchor="start" font-weight="normal" fill="#231f20" >Up</text>
<text x="748.0" y="481.4" font-size="10.6" text-anchor="start" font-weight="normal" fill="#231f20" textLength="34.1" lengthAdjust="spacingAndGlyphs" >Thumb</text>
<rect x="748.0" y="486.6" width="17.0" height="5.6" fill="#008b8b" />
<text x="767.0" y="493.2" font-size="9.2" text-anchor="start" font-weight="normal" fill="#231f20" >In</text>
<rect x="811.8" y="487.0" width="16.8" height="5.6" fill="#a0522d" />
<text x="831.0" y="493.6" font-size="9.2" text-anchor="start" font-weight="normal" fill="#231f20" >In</text>
<rect x="748.0" y="499.6" width="17.0" height="5.6" fill="#00e5ee" />
<text x="767.0" y="506.2" font-size="9.2" text-anchor="start" font-weight="normal" fill="#231f20" >Down</text>
<rect x="811.8" y="500.0" width="16.8" height="5.6" fill="#d2691e" />
<text x="831.0" y="506.6" font-size="9.2" text-anchor="start" font-weight="normal" fill="#231f20" >Down</text>
<rect x="748.0" y="512.0" width="17.0" height="5.6" fill="#a8f4f8" />
<text x="767.0" y="518.6" font-size="9.2" text-anchor="start" font-weight="normal" fill="#231f20" >Up</text>
<rect x="811.8" y="512.4" width="16.8" height="5.6" fill="#cd853f" />
<text x="831.0" y="519.0" font-size="9.2" text-anchor="start" font-weight="normal" fill="#231f20" >Up</text>
<rect x="773.0" y="525.8" width="17.0" height="5.4" fill="#000" />
<text x="794.7" y="533.0" font-size="10" text-anchor="start" font-weight="normal" fill="#231f20" >None</text>
<text x="21.5" y="577.0" font-size="15" text-anchor="start" font-weight="bold" fill="#000" stroke="#000" stroke-width="0.5">i</text>
<text x="57.0" y="625.6" font-size="10" text-anchor="middle" font-weight="normal" fill="#231f20" >T18</text>
<text x="0" y="0" font-size="10" text-anchor="middle" fill="#231f20" transform="translate(79.5,624.5) rotate(-90)">TX rate (ΔHz)</text>
<text x="425.0" y="687.0" font-size="10" text-anchor="middle" font-weight="normal" fill="#231f20" >Time (s)</text>
<text x="137.3" y="580.5" font-size="9" text-anchor="middle" font-weight="normal" fill="#231f20" textLength="40.3" lengthAdjust="spacingAndGlyphs" >Left pinky</text>
<line x1="135.3" y1="589.0" x2="135.3" y2="656.3" stroke="#333" stroke-width="0.6" stroke-dasharray="1.5,0.8"/>
<polygon points="110.6,635.5 112.1,636.2 113.6,635 115.2,634 116.7,632.8 118.3,633.2 119.8,633.9 121.4,636.2 122.9,637.5 124.5,639.5 126,638.5 127.6,640.1 129.1,640 130.7,640.7 132.2,639.9 133.8,640.1 135.3,639.7 136.8,640.2 138.4,639.6 139.9,639.8 141.5,639.7 143,639.9 144.6,641.6 146.1,643.8 147.7,645.4 149.2,646.4 150.8,645.6 152.3,645.6 153.9,643.9 155.4,642.9 157,642.2 158.5,640.9 160.1,640.2 160.1,654.7 158.5,654.5 157,654.2 155.4,653.2 153.9,652.4 152.3,652.5 150.8,651.2 149.2,651.4 147.7,650.4 146.1,649.5 144.6,648.6 143,648.5 141.5,650.2 139.9,652 138.4,653.2 136.8,654.7 135.3,654.4 133.8,654.4 132.2,653.1 130.7,652.4 129.1,649.8 127.6,648.2 126,645.1 124.5,644.9 122.9,642.4 121.4,641.4 119.8,639.9 118.3,640.5 116.7,641.9 115.2,644.9 113.6,647.6 112.1,650.1 110.6,650.2" fill="#d0302c" opacity="0.3"/>
<polyline points="110.6,642.9 112.1,643.2 113.6,641.3 115.2,639.5 116.7,637.4 118.3,636.9 119.8,636.9 121.4,638.8 122.9,639.9 124.5,642.2 126,641.8 127.6,644.2 129.1,644.9 130.7,646.5 132.2,646.5 133.8,647.3 135.3,647 136.8,647.5 138.4,646.4 139.9,645.9 141.5,644.9 143,644.2 144.6,645.1 146.1,646.7 147.7,647.9 149.2,648.9 150.8,648.4 152.3,649 153.9,648.1 155.4,648.1 157,648.2 158.5,647.7 160.1,647.5" fill="none" stroke="#d0302c" stroke-width="1.0"/>
<polygon points="110.6,637.7 112.1,638.5 113.6,635.1 115.2,633.9 116.7,629.3 118.3,626.8 119.8,625.2 121.4,622.3 122.9,620.2 124.5,618.5 126,617 127.6,616.6 129.1,616.4 130.7,615.3 132.2,611.2 133.8,610.6 135.3,608.8 136.8,610.4 138.4,611.1 139.9,611.2 141.5,614.6 143,615 144.6,617.3 146.1,619.3 147.7,621.1 149.2,620 150.8,620.1 152.3,623.4 153.9,626.4 155.4,630.2 157,631.3 158.5,633 160.1,634.5 160.1,639.4 158.5,638.5 157,637.9 155.4,638.5 153.9,636.4 152.3,635.2 150.8,633.4 149.2,634.4 147.7,635.8 146.1,633.8 144.6,630.8 143,627 141.5,624.9 139.9,619.7 138.4,618 136.8,616 135.3,613.8 133.8,615.6 132.2,616.9 130.7,622.3 129.1,625.1 127.6,627.1 126,629.3 124.5,632.1 122.9,634.7 121.4,637.1 119.8,639.5 118.3,640 116.7,641 115.2,643.8 113.6,643.1 112.1,645 110.6,643.1" fill="#2572ae" opacity="0.3"/>
<polyline points="110.6,640.4 112.1,641.8 113.6,639.1 115.2,638.8 116.7,635.2 118.3,633.4 119.8,632.3 121.4,629.7 122.9,627.4 124.5,625.3 126,623.1 127.6,621.8 129.1,620.7 130.7,618.8 132.2,614.1 133.8,613.1 135.3,611.3 136.8,613.2 138.4,614.5 139.9,615.5 141.5,619.8 143,621 144.6,624 146.1,626.5 147.7,628.4 149.2,627.2 150.8,626.8 152.3,629.3 153.9,631.4 155.4,634.4 157,634.6 158.5,635.7 160.1,637" fill="none" stroke="#2572ae" stroke-width="1.0"/>
<polygon points="110.6,632.1 112.1,628.8 113.6,630.2 115.2,629.8 116.7,629.1 118.3,627 119.8,627.1 121.4,625.5 122.9,622.5 124.5,620.7 126,616.4 127.6,612.5 129.1,607.7 130.7,606.6 132.2,603.3 133.8,600.4 135.3,596.4 136.8,596.3 138.4,598.4 139.9,602.4 141.5,607 143,609.2 144.6,613.5 146.1,616.5 147.7,622.3 149.2,627.4 150.8,630.3 152.3,632 153.9,630.9 155.4,631.8 157,632 158.5,631.7 160.1,631.1 160.1,639.8 158.5,638.7 157,637.8 155.4,636.8 153.9,635.9 152.3,637.6 150.8,637.2 149.2,635.8 147.7,632.6 146.1,628.5 144.6,627 143,623.6 141.5,621.7 139.9,616.8 138.4,611.8 136.8,608.1 135.3,606.5 133.8,608.6 132.2,609.9 130.7,612.1 129.1,612.7 127.6,617.5 126,622.2 124.5,627.9 122.9,631.4 121.4,636.2 119.8,639.6 118.3,640.8 116.7,643.7 115.2,644.5 113.6,644.4 112.1,641.8 110.6,643.5" fill="#f5862a" opacity="0.3"/>
<polyline points="110.6,637.8 112.1,635.3 113.6,637.3 115.2,637.2 116.7,636.4 118.3,633.9 119.8,633.3 121.4,630.9 122.9,626.9 124.5,624.3 126,619.3 127.6,615 129.1,610.2 130.7,609.3 132.2,606.6 133.8,604.5 135.3,601.5 136.8,602.2 138.4,605.1 139.9,609.6 141.5,614.4 143,616.4 144.6,620.2 146.1,622.5 147.7,627.5 149.2,631.6 150.8,633.7 152.3,634.8 153.9,633.4 155.4,634.3 157,634.9 158.5,635.2 160.1,635.5" fill="none" stroke="#f5862a" stroke-width="1.0"/>
<polygon points="110.6,633.7 112.1,635 113.6,635.5 115.2,636 116.7,633.4 118.3,632.7 119.8,631.1 121.4,626.1 122.9,620.6 124.5,614.7 126,611.1 127.6,606.8 129.1,605.1 130.7,602.8 132.2,600.2 133.8,596.8 135.3,596 136.8,594.8 138.4,594.6 139.9,595.4 141.5,597.8 143,602.7 144.6,607.8 146.1,614.4 147.7,617.5 149.2,620.2 150.8,621.3 152.3,623.5 153.9,625.9 155.4,627.2 157,630.5 158.5,632.1 160.1,633.6 160.1,646 158.5,645.8 157,645 155.4,641.9 153.9,640.1 152.3,636.6 150.8,632.9 149.2,629.9 147.7,625.4 146.1,620.8 144.6,613.2 143,607.6 141.5,602.9 139.9,601.4 138.4,602 136.8,604 135.3,607.1 133.8,609.5 132.2,614.2 130.7,617.4 129.1,619.8 127.6,620.8 126,623.8 124.5,625.8 122.9,629.9 121.4,633.7 119.8,637.2 118.3,637.9 116.7,638.3 115.2,641.3 113.6,641.8 112.1,642.9 110.6,643.4" fill="#35a035" opacity="0.3"/>
<polyline points="110.6,638.6 112.1,638.9 113.6,638.6 115.2,638.6 116.7,635.9 118.3,635.3 119.8,634.1 121.4,629.9 122.9,625.2 124.5,620.3 126,617.4 127.6,613.8 129.1,612.4 130.7,610.1 132.2,607.2 133.8,603.2 135.3,601.6 136.8,599.4 138.4,598.3 139.9,598.4 141.5,600.4 143,605.1 144.6,610.5 146.1,617.6 147.7,621.5 149.2,625 150.8,627.1 152.3,630 153.9,633 155.4,634.5 157,637.8 158.5,639 160.1,639.8" fill="none" stroke="#35a035" stroke-width="1.0"/>
<line x1="108.8" y1="589.0" x2="108.8" y2="656.3" stroke="#333" stroke-width="0.9" />
<line x1="108.8" y1="656.3" x2="162.2" y2="656.3" stroke="#333" stroke-width="0.9" />
<line x1="105.8" y1="589.5" x2="108.8" y2="589.5" stroke="#333" stroke-width="0.8" />
<text x="100.8" y="592.9" font-size="9.5" text-anchor="end" font-weight="normal" fill="#333" >40</text>
<line x1="105.8" y1="608.4" x2="108.8" y2="608.4" stroke="#333" stroke-width="0.8" />
<text x="100.8" y="611.8" font-size="9.5" text-anchor="end" font-weight="normal" fill="#333" >20</text>
<line x1="105.8" y1="627.3" x2="108.8" y2="627.3" stroke="#333" stroke-width="0.8" />
<text x="100.8" y="630.7" font-size="9.5" text-anchor="end" font-weight="normal" fill="#333" >0</text>
<line x1="105.8" y1="646.2" x2="108.8" y2="646.2" stroke="#333" stroke-width="0.8" />
<text x="100.8" y="649.6" font-size="9.5" text-anchor="end" font-weight="normal" fill="#333" >−20</text>
<line x1="110.6" y1="656.3" x2="110.6" y2="659.0" stroke="#333" stroke-width="0.8" />
<text x="110.6" y="671.0" font-size="9.5" text-anchor="middle" font-weight="normal" fill="#333" >−2</text>
<line x1="135.3" y1="656.3" x2="135.3" y2="659.0" stroke="#333" stroke-width="0.8" />
<text x="135.3" y="671.0" font-size="9.5" text-anchor="middle" font-weight="normal" fill="#333" >0</text>
<line x1="160.1" y1="656.3" x2="160.1" y2="659.0" stroke="#333" stroke-width="0.8" />
<text x="160.1" y="671.0" font-size="9.5" text-anchor="middle" font-weight="normal" fill="#333" >2</text>
<text x="202.6" y="580.5" font-size="9" text-anchor="middle" font-weight="normal" fill="#231f20" >Left ring</text>
<line x1="200.6" y1="589.0" x2="200.6" y2="656.3" stroke="#333" stroke-width="0.6" stroke-dasharray="1.5,0.8"/>
<polygon points="175.9,640.7 177.4,640 179,639.8 180.5,638.7 182.1,635.3 183.6,632.4 185.2,630.4 186.7,630.3 188.3,632.9 189.8,635.5 191.4,636.1 192.9,638.4 194.5,638.8 196,640.1 197.6,641.2 199.1,643.4 200.6,642.6 202.2,643 203.7,642.3 205.3,642.5 206.8,642.4 208.4,643.3 209.9,641.7 211.5,641.9 213,641.4 214.6,640.8 216.1,640.8 217.7,641.3 219.2,641 220.8,641.3 222.3,641.8 223.9,645 225.4,645.7 225.4,654.2 223.9,655.3 222.3,653.9 220.8,654.8 219.2,655.4 217.7,656.1 216.1,655.2 214.6,654.1 213,653.2 211.5,652 209.9,649.9 208.4,649.9 206.8,647.9 205.3,647.4 203.7,647.4 202.2,648.8 200.6,649.8 199.1,652.3 197.6,652 196,652.5 194.5,652.6 192.9,652.9 191.4,650.8 189.8,649.7 188.3,645.9 186.7,641.7 185.2,640 183.6,640.2 182.1,641.6 180.5,644 179,644.8 177.4,645.2 175.9,646.9" fill="#d0302c" opacity="0.3"/>
<polyline points="175.9,643.8 177.4,642.6 179,642.3 180.5,641.4 182.1,638.4 183.6,636.3 185.2,635.2 186.7,636 188.3,639.4 189.8,642.6 191.4,643.4 192.9,645.7 194.5,645.7 196,646.3 197.6,646.6 199.1,647.8 200.6,646.2 202.2,645.9 203.7,644.8 205.3,644.9 206.8,645.2 208.4,646.6 209.9,645.8 211.5,646.9 213,647.3 214.6,647.5 216.1,648 217.7,648.7 219.2,648.2 220.8,648.1 222.3,647.9 223.9,650.1 225.4,649.9" fill="none" stroke="#d0302c" stroke-width="1.0"/>
<polygon points="175.9,631.2 177.4,627.5 179,626.1 180.5,624.3 182.1,625.6 183.6,625.6 185.2,625.3 186.7,623.4 188.3,622.1 189.8,619.5 191.4,617.5 192.9,613.1 194.5,608 196,605.4 197.6,601.9 199.1,600.4 200.6,599.8 202.2,596.9 203.7,595.6 205.3,593 206.8,592.3 208.4,596.6 209.9,600.3 211.5,605.8 213,609.8 214.6,617.4 216.1,626 217.7,630.2 219.2,632.8 220.8,632 222.3,630.7 223.9,629.6 225.4,628.1 225.4,638.7 223.9,638.4 222.3,637.8 220.8,637.8 219.2,637.9 217.7,635.2 216.1,631.5 214.6,624.2 213,618.1 211.5,616 209.9,612.3 208.4,610 206.8,606.7 205.3,607.8 203.7,610 202.2,610.3 200.6,611.7 199.1,610.5 197.6,610.2 196,612.1 194.5,613.5 192.9,618.1 191.4,622.5 189.8,625.3 188.3,629.3 186.7,632.3 185.2,636 183.6,638 182.1,639.4 180.5,638.8 179,640.8 177.4,641.7 175.9,644.2" fill="#2572ae" opacity="0.3"/>
<polyline points="175.9,637.7 177.4,634.6 179,633.5 180.5,631.5 182.1,632.5 183.6,631.8 185.2,630.7 186.7,627.9 188.3,625.7 189.8,622.4 191.4,620 192.9,615.6 194.5,610.8 196,608.7 197.6,606 199.1,605.4 200.6,605.7 202.2,603.6 203.7,602.8 205.3,600.4 206.8,599.5 208.4,603.3 209.9,606.3 211.5,610.9 213,613.9 214.6,620.8 216.1,628.8 217.7,632.7 219.2,635.4 220.8,634.9 222.3,634.2 223.9,634 225.4,633.4" fill="none" stroke="#2572ae" stroke-width="1.0"/>
<polygon points="175.9,636.8 177.4,637.2 179,636.6 180.5,634.3 182.1,632.2 183.6,630.2 185.2,627.4 186.7,623.1 188.3,617.5 189.8,612.9 191.4,610.1 192.9,608.2 194.5,607.6 196,605.9 197.6,602.2 199.1,599.8 200.6,599.2 202.2,597.2 203.7,597.3 205.3,597.3 206.8,601.5 208.4,604.9 209.9,609.6 211.5,615.3 213,618.3 214.6,621.8 216.1,625.9 217.7,628.3 219.2,630.1 220.8,630.7 222.3,632.7 223.9,634.3 225.4,635.9 225.4,642.1 223.9,641.8 222.3,642 220.8,641.9 219.2,642.9 217.7,642.3 216.1,640.6 214.6,636.4 213,632.3 211.5,627.9 209.9,620.6 208.4,614.2 206.8,609 205.3,603.4 203.7,602.5 202.2,602.1 200.6,604.6 199.1,606.2 197.6,610.2 196,615.6 194.5,619.2 192.9,621.4 191.4,624.3 189.8,627.6 188.3,632 186.7,636.8 185.2,639.7 183.6,640.8 182.1,641 180.5,641.3 179,642.4 177.4,642.3 175.9,641.7" fill="#f5862a" opacity="0.3"/>
<polyline points="175.9,639.2 177.4,639.8 179,639.5 180.5,637.8 182.1,636.6 183.6,635.5 185.2,633.6 186.7,630 188.3,624.8 189.8,620.3 191.4,617.2 192.9,614.8 194.5,613.4 196,610.7 197.6,606.2 199.1,603 200.6,601.9 202.2,599.6 203.7,599.9 205.3,600.4 206.8,605.2 208.4,609.6 209.9,615.1 211.5,621.6 213,625.3 214.6,629.1 216.1,633.3 217.7,635.3 219.2,636.5 220.8,636.3 222.3,637.4 223.9,638.1 225.4,639" fill="none" stroke="#f5862a" stroke-width="1.0"/>
<polygon points="175.9,637.9 177.4,636.5 179,637.4 180.5,635.1 182.1,635 183.6,633.9 185.2,634.7 186.7,632.5 188.3,629.3 189.8,624.1 191.4,618.8 192.9,613.1 194.5,610.8 196,606 197.6,603.9 199.1,601.4 200.6,601.3 202.2,603.6 203.7,605.9 205.3,607.1 206.8,610.1 208.4,612.9 209.9,615.2 211.5,617.3 213,620.2 214.6,621.4 216.1,622.3 217.7,623.3 219.2,627.7 220.8,629.3 222.3,631.4 223.9,631.7 225.4,633 225.4,647.3 223.9,646.5 222.3,645.8 220.8,642.8 219.2,639.7 217.7,633.6 216.1,630.7 214.6,628.2 213,625.8 211.5,622.3 209.9,620.2 208.4,618.7 206.8,617.1 205.3,615.9 203.7,616.4 202.2,615.9 200.6,615 199.1,615.9 197.6,618.6 196,620.2 194.5,623.9 192.9,624.7 191.4,628.6 189.8,632.1 188.3,635.7 186.7,637.9 185.2,639.6 183.6,639.1 182.1,641.1 180.5,642.5 179,646.6 177.4,647.5 175.9,650.5" fill="#35a035" opacity="0.3"/>
<polyline points="175.9,644.2 177.4,642 179,642 180.5,638.8 182.1,638 183.6,636.5 185.2,637.1 186.7,635.2 188.3,632.5 189.8,628.1 191.4,623.7 192.9,618.9 194.5,617.3 196,613.1 197.6,611.3 199.1,608.7 200.6,608.2 202.2,609.7 203.7,611.2 205.3,611.5 206.8,613.6 208.4,615.8 209.9,617.7 211.5,619.8 213,623 214.6,624.8 216.1,626.5 217.7,628.5 219.2,633.7 220.8,636 222.3,638.6 223.9,639.1 225.4,640.1" fill="none" stroke="#35a035" stroke-width="1.0"/>
<line x1="174.1" y1="589.0" x2="174.1" y2="656.3" stroke="#333" stroke-width="0.9" />
<line x1="174.1" y1="656.3" x2="227.5" y2="656.3" stroke="#333" stroke-width="0.9" />
<line x1="171.1" y1="589.5" x2="174.1" y2="589.5" stroke="#333" stroke-width="0.8" />
<line x1="171.1" y1="608.4" x2="174.1" y2="608.4" stroke="#333" stroke-width="0.8" />
<line x1="171.1" y1="627.3" x2="174.1" y2="627.3" stroke="#333" stroke-width="0.8" />
<line x1="171.1" y1="646.2" x2="174.1" y2="646.2" stroke="#333" stroke-width="0.8" />
<line x1="175.9" y1="656.3" x2="175.9" y2="659.0" stroke="#333" stroke-width="0.8" />
<text x="175.9" y="671.0" font-size="9.5" text-anchor="middle" font-weight="normal" fill="#333" >−2</text>
<line x1="200.6" y1="656.3" x2="200.6" y2="659.0" stroke="#333" stroke-width="0.8" />
<text x="200.6" y="671.0" font-size="9.5" text-anchor="middle" font-weight="normal" fill="#333" >0</text>
<line x1="225.4" y1="656.3" x2="225.4" y2="659.0" stroke="#333" stroke-width="0.8" />
<text x="225.4" y="671.0" font-size="9.5" text-anchor="middle" font-weight="normal" fill="#333" >2</text>
<text x="268.0" y="580.5" font-size="9" text-anchor="middle" font-weight="normal" fill="#231f20" >Left middle</text>
<line x1="266.0" y1="589.0" x2="266.0" y2="656.3" stroke="#333" stroke-width="0.6" stroke-dasharray="1.5,0.8"/>
<polygon points="241.2,635.9 242.8,636 244.3,634.5 245.9,635.3 247.4,635 249,633.9 250.5,633.9 252.1,635.2 253.6,637.2 255.2,638.8 256.7,639.9 258.3,639.9 259.8,639.5 261.4,639.3 262.9,639.9 264.5,640.9 266,640.5 267.5,640.1 269.1,638.8 270.6,638.7 272.2,639.7 273.7,641.4 275.3,642.4 276.8,643.1 278.4,644.9 279.9,645.2 281.5,646.8 283,644.9 284.6,643.8 286.1,641.7 287.7,640.8 289.2,640.5 290.8,641.8 290.8,656.5 289.2,654.7 287.7,653.8 286.1,653.1 284.6,653.4 283,652.7 281.5,653.1 279.9,650.6 278.4,649.8 276.8,648.3 275.3,648.5 273.7,649 272.2,649 270.6,649.8 269.1,651.6 267.5,654.2 266,655.1 264.5,655.5 262.9,653.9 261.4,652 259.8,650.5 258.3,649.1 256.7,647.3 255.2,644.8 253.6,642.4 252.1,640.1 250.5,639.3 249,640.4 247.4,643 245.9,645.1 244.3,646.1 242.8,649.1 241.2,650.2" fill="#d0302c" opacity="0.3"/>
<polyline points="241.2,643 242.8,642.5 244.3,640.3 245.9,640.2 247.4,639 249,637.2 250.5,636.6 252.1,637.6 253.6,639.8 255.2,641.8 256.7,643.6 258.3,644.5 259.8,645 261.4,645.6 262.9,646.9 264.5,648.2 266,647.8 267.5,647.1 269.1,645.2 270.6,644.3 272.2,644.4 273.7,645.2 275.3,645.4 276.8,645.7 278.4,647.4 279.9,647.9 281.5,649.9 283,648.8 284.6,648.6 286.1,647.4 287.7,647.3 289.2,647.6 290.8,649.2" fill="none" stroke="#d0302c" stroke-width="1.0"/>
<polygon points="241.2,637.3 242.8,634.5 244.3,634.6 245.9,634.1 247.4,634.1 249,634.1 250.5,632 252.1,631 253.6,628.7 255.2,626.4 256.7,621.4 258.3,618.1 259.8,613.2 261.4,609.1 262.9,606.6 264.5,607.6 266,607.3 267.5,608 269.1,607.5 270.6,607 272.2,609.5 273.7,613.9 275.3,614.4 276.8,616.8 278.4,618.8 279.9,620.4 281.5,622 283,626.4 284.6,626.8 286.1,627.5 287.7,628.8 289.2,630.9 290.8,632.1 290.8,646.8 289.2,645.4 287.7,642.4 286.1,639.7 284.6,637.2 283,635.1 281.5,629 279.9,626.1 278.4,623.8 276.8,621.8 275.3,620 273.7,620.8 272.2,618 270.6,617.3 269.1,619.6 267.5,621.5 266,621.8 264.5,622.3 262.9,621 261.4,622.4 259.8,625 258.3,628.1 256.7,629.6 255.2,633 253.6,634.2 252.1,635.9 250.5,637.1 249,640 247.4,641.3 245.9,643.1 244.3,645.4 242.8,647 241.2,651.1" fill="#2572ae" opacity="0.3"/>
<polyline points="241.2,644.2 242.8,640.7 244.3,640 245.9,638.6 247.4,637.7 249,637.1 250.5,634.6 252.1,633.5 253.6,631.4 255.2,629.7 256.7,625.5 258.3,623.1 259.8,619.1 261.4,615.8 262.9,613.8 264.5,615 266,614.5 267.5,614.7 269.1,613.6 270.6,612.2 272.2,613.7 273.7,617.3 275.3,617.2 276.8,619.3 278.4,621.3 279.9,623.3 281.5,625.5 283,630.7 284.6,632 286.1,633.6 287.7,635.6 289.2,638.1 290.8,639.4" fill="none" stroke="#2572ae" stroke-width="1.0"/>
<polygon points="241.2,633.4 242.8,635.2 244.3,634.5 245.9,631 247.4,628.4 249,628.4 250.5,627.1 252.1,625.4 253.6,622.7 255.2,619.5 256.7,618.7 258.3,615.4 259.8,613.7 261.4,611.2 262.9,607.4 264.5,607 266,605.5 267.5,606.9 269.1,608.1 270.6,608.5 272.2,610.4 273.7,611.2 275.3,613.1 276.8,616 278.4,616.7 279.9,619.1 281.5,622 283,626.6 284.6,628.7 286.1,632.5 287.7,633.8 289.2,635.3 290.8,636.1 290.8,649.6 289.2,649.8 287.7,648.6 286.1,646.9 284.6,642 283,638.5 281.5,632.1 279.9,627.4 278.4,623.4 276.8,621.5 275.3,618 273.7,616.3 272.2,616.2 270.6,615.7 269.1,616.9 267.5,617.6 266,617.9 264.5,620.8 262.9,622 261.4,625.9 259.8,627.9 258.3,628.4 256.7,630.1 255.2,629.2 253.6,630.6 252.1,631.8 250.5,632.4 249,633.3 247.4,633.6 245.9,637.1 244.3,642 242.8,644.5 241.2,644.5" fill="#f5862a" opacity="0.3"/>
<polyline points="241.2,639 242.8,639.8 244.3,638.2 245.9,634.1 247.4,631 249,630.8 250.5,629.8 252.1,628.6 253.6,626.7 255.2,624.3 256.7,624.4 258.3,621.9 259.8,620.8 261.4,618.5 262.9,614.7 264.5,613.9 266,611.7 267.5,612.3 269.1,612.5 270.6,612.1 272.2,613.3 273.7,613.7 275.3,615.6 276.8,618.8 278.4,620.1 279.9,623.2 281.5,627 283,632.6 284.6,635.4 286.1,639.7 287.7,641.2 289.2,642.5 290.8,642.9" fill="none" stroke="#f5862a" stroke-width="1.0"/>
<polygon points="241.2,633.3 242.8,633.2 244.3,632.1 245.9,631.3 247.4,632 249,631.4 250.5,629 252.1,626.1 253.6,621.7 255.2,618.6 256.7,615.7 258.3,612 259.8,610.2 261.4,609.5 262.9,607.7 264.5,608.9 266,609.6 267.5,611.1 269.1,608.9 270.6,609.5 272.2,611.4 273.7,614.2 275.3,617.1 276.8,619.1 278.4,618.9 279.9,620.3 281.5,623.4 283,625.1 284.6,624.7 286.1,626 287.7,624.3 289.2,625.2 290.8,628.2 290.8,638.8 289.2,637.5 287.7,638 286.1,640.5 284.6,639.4 283,639.3 281.5,636.5 279.9,631.9 278.4,628.7 276.8,627.1 275.3,623.5 273.7,619.5 272.2,616.3 270.6,614.7 269.1,614.9 267.5,618.6 266,618.7 264.5,619.9 262.9,620.3 261.4,623.4 259.8,624.8 258.3,626.7 256.7,629.7 255.2,631.4 253.6,632.9 252.1,635.4 250.5,636.6 249,637.6 247.4,637.2 245.9,636.2 244.3,637.4 242.8,639.5 241.2,641.2" fill="#35a035" opacity="0.3"/>
<polyline points="241.2,637.2 242.8,636.4 244.3,634.7 245.9,633.7 247.4,634.6 249,634.5 250.5,632.8 252.1,630.7 253.6,627.3 255.2,625 256.7,622.7 258.3,619.4 259.8,617.5 261.4,616.5 262.9,614 264.5,614.4 266,614.2 267.5,614.9 269.1,611.9 270.6,612.1 272.2,613.8 273.7,616.9 275.3,620.3 276.8,623.1 278.4,623.8 279.9,626.1 281.5,629.9 283,632.2 284.6,632.1 286.1,633.2 287.7,631.2 289.2,631.4 290.8,633.5" fill="none" stroke="#35a035" stroke-width="1.0"/>
<line x1="239.5" y1="589.0" x2="239.5" y2="656.3" stroke="#333" stroke-width="0.9" />
<line x1="239.5" y1="656.3" x2="292.9" y2="656.3" stroke="#333" stroke-width="0.9" />
<line x1="236.5" y1="589.5" x2="239.5" y2="589.5" stroke="#333" stroke-width="0.8" />
<line x1="236.5" y1="608.4" x2="239.5" y2="608.4" stroke="#333" stroke-width="0.8" />
<line x1="236.5" y1="627.3" x2="239.5" y2="627.3" stroke="#333" stroke-width="0.8" />
<line x1="236.5" y1="646.2" x2="239.5" y2="646.2" stroke="#333" stroke-width="0.8" />
<line x1="241.2" y1="656.3" x2="241.2" y2="659.0" stroke="#333" stroke-width="0.8" />
<text x="241.2" y="671.0" font-size="9.5" text-anchor="middle" font-weight="normal" fill="#333" >−2</text>
<line x1="266.0" y1="656.3" x2="266.0" y2="659.0" stroke="#333" stroke-width="0.8" />
<text x="266.0" y="671.0" font-size="9.5" text-anchor="middle" font-weight="normal" fill="#333" >0</text>
<line x1="290.8" y1="656.3" x2="290.8" y2="659.0" stroke="#333" stroke-width="0.8" />
<text x="290.8" y="671.0" font-size="9.5" text-anchor="middle" font-weight="normal" fill="#333" >2</text>
<text x="333.3" y="580.5" font-size="9" text-anchor="middle" font-weight="normal" fill="#231f20" >Left index</text>
<line x1="331.3" y1="589.0" x2="331.3" y2="656.3" stroke="#333" stroke-width="0.6" stroke-dasharray="1.5,0.8"/>
<polygon points="306.6,638.6 308.1,638.1 309.7,636 311.2,635.3 312.8,633.3 314.3,632.4 315.9,633.4 317.4,635.2 319,637.3 320.5,639.3 322.1,638.8 323.6,639.6 325.2,639.2 326.7,639.1 328.3,638.5 329.8,638 331.3,638.5 332.9,641.1 334.4,643 336,642.6 337.5,642.7 339.1,642.6 340.6,642.9 342.2,642.8 343.7,643.1 345.3,643.5 346.8,643.2 348.4,642.9 349.9,643.7 351.5,643.6 353,642.3 354.6,641.3 356.1,640.5 356.1,654.8 354.6,656.1 353,656.8 351.5,657.2 349.9,655.8 348.4,653.2 346.8,651.7 345.3,650.4 343.7,648.8 342.2,647.7 340.6,647.9 339.1,648.3 337.5,649.7 336,651.2 334.4,653.4 332.9,653.3 331.3,652.2 329.8,652.5 328.3,653.2 326.7,653.4 325.2,652.4 323.6,651.3 322.1,648.6 320.5,647.4 319,643.8 317.4,640.7 315.9,638.3 314.3,637.5 312.8,639.2 311.2,642.7 309.7,645.1 308.1,649 306.6,651.1" fill="#d0302c" opacity="0.3"/>
<polyline points="306.6,644.9 308.1,643.6 309.7,640.6 311.2,639 312.8,636.2 314.3,635 315.9,635.8 317.4,637.9 319,640.5 320.5,643.4 322.1,643.7 323.6,645.5 325.2,645.8 326.7,646.2 328.3,645.9 329.8,645.3 331.3,645.4 332.9,647.2 334.4,648.2 336,646.9 337.5,646.2 339.1,645.5 340.6,645.4 342.2,645.3 343.7,645.9 345.3,647 346.8,647.4 348.4,648.1 349.9,649.8 351.5,650.4 353,649.5 354.6,648.7 356.1,647.7" fill="none" stroke="#d0302c" stroke-width="1.0"/>
<polygon points="306.6,628.9 308.1,627.1 309.7,628.9 311.2,626.5 312.8,625.7 314.3,626.3 315.9,626 317.4,626.8 319,625.9 320.5,622.5 322.1,616.2 323.6,612.6 325.2,608.6 326.7,607 328.3,605.3 329.8,601.9 331.3,599.6 332.9,597.8 334.4,599.1 336,598.9 337.5,600.8 339.1,601.6 340.6,605.5 342.2,611.3 343.7,614.8 345.3,623.2 346.8,630.5 348.4,632.7 349.9,633.7 351.5,631.8 353,632.7 354.6,630.9 356.1,627.5 356.1,641.7 354.6,644 353,644.2 351.5,641.5 349.9,641.6 348.4,639.1 346.8,635.8 345.3,628.2 343.7,619.9 342.2,617.4 340.6,613 339.1,610.8 337.5,611.9 336,611.6 334.4,613.1 332.9,612.5 331.3,614.3 329.8,615.9 328.3,618 326.7,618.1 325.2,617.9 323.6,620.1 322.1,622.2 320.5,627.6 319,630.8 317.4,632.2 315.9,632.4 314.3,634.2 312.8,635.4 311.2,638 309.7,642 308.1,641.3 306.6,643.6" fill="#2572ae" opacity="0.3"/>
<polyline points="306.6,636.2 308.1,634.2 309.7,635.4 311.2,632.3 312.8,630.6 314.3,630.3 315.9,629.2 317.4,629.5 319,628.4 320.5,625 322.1,619.2 323.6,616.3 325.2,613.2 326.7,612.6 328.3,611.7 329.8,608.9 331.3,607 332.9,605.1 334.4,606.1 336,605.2 337.5,606.3 339.1,606.2 340.6,609.2 342.2,614.3 343.7,617.3 345.3,625.7 346.8,633.1 348.4,635.9 349.9,637.6 351.5,636.7 353,638.5 354.6,637.4 356.1,634.6" fill="none" stroke="#2572ae" stroke-width="1.0"/>
<polygon points="306.6,638.4 308.1,637.6 309.7,639.1 311.2,636.7 312.8,633.8 314.3,629.8 315.9,628.8 317.4,626 319,624.3 320.5,620.3 322.1,616.1 323.6,612.8 325.2,609.7 326.7,609.1 328.3,605.9 329.8,605 331.3,603.3 332.9,605 334.4,606.6 336,611.8 337.5,614.5 339.1,616.6 340.6,617 342.2,619.3 343.7,620.2 345.3,623 346.8,623.7 348.4,623.7 349.9,625.5 351.5,627.4 353,630.1 354.6,631.1 356.1,629.9 356.1,639.6 354.6,642.6 353,643.1 351.5,641.6 349.9,640.2 348.4,638.3 346.8,637.4 345.3,635.4 343.7,630.9 342.2,628.2 340.6,624.2 339.1,622.4 337.5,619.6 336,616.8 334.4,612.1 332.9,611.7 331.3,611.6 329.8,615.1 328.3,617.8 326.7,622.4 325.2,624.1 323.6,627.5 322.1,630.5 320.5,633.8 319,636.3 317.4,636.2 315.9,637.3 314.3,636.6 312.8,639.4 311.2,641.7 309.7,644.1 308.1,643.4 306.6,645.5" fill="#f5862a" opacity="0.3"/>
<polyline points="306.6,641.9 308.1,640.5 309.7,641.6 311.2,639.2 312.8,636.6 314.3,633.2 315.9,633 317.4,631.1 319,630.3 320.5,627.1 322.1,623.3 323.6,620.1 325.2,616.9 326.7,615.8 328.3,611.8 329.8,610.1 331.3,607.4 332.9,608.4 334.4,609.4 336,614.3 337.5,617.1 339.1,619.5 340.6,620.6 342.2,623.8 343.7,625.6 345.3,629.2 346.8,630.6 348.4,631 349.9,632.9 351.5,634.5 353,636.6 354.6,636.8 356.1,634.8" fill="none" stroke="#f5862a" stroke-width="1.0"/>
<polygon points="306.6,636.6 308.1,638.2 309.7,637 311.2,636.5 312.8,635.6 314.3,635.9 315.9,633.2 317.4,631.3 319,627.4 320.5,623.3 322.1,620.9 323.6,617.7 325.2,612.8 326.7,609.4 328.3,603.9 329.8,600.6 331.3,598.6 332.9,598.3 334.4,598.8 336,600.9 337.5,606.5 339.1,612.7 340.6,618 342.2,622.2 343.7,623.6 345.3,626.1 346.8,627.4 348.4,629.5 349.9,632.3 351.5,632.8 353,634 354.6,635.4 356.1,636.4 356.1,649.8 354.6,647.3 353,644.1 351.5,641.1 349.9,639 348.4,635 346.8,632.4 345.3,631.1 343.7,629.5 342.2,629.3 340.6,626.9 339.1,623.4 337.5,618.9 336,614.7 334.4,613.4 332.9,613 331.3,612.8 329.8,613.6 328.3,615.4 326.7,619.1 325.2,620.6 323.6,624.1 322.1,626.2 320.5,628.2 319,632.5 317.4,637.4 315.9,640.8 314.3,645.2 312.8,646.7 311.2,649.3 309.7,651 308.1,652.8 306.6,651.2" fill="#35a035" opacity="0.3"/>
<polyline points="306.6,643.9 308.1,645.5 309.7,644 311.2,642.9 312.8,641.1 314.3,640.5 315.9,637 317.4,634.3 319,629.9 320.5,625.7 322.1,623.5 323.6,620.9 325.2,616.7 326.7,614.2 328.3,609.7 329.8,607.1 331.3,605.7 332.9,605.6 334.4,606.1 336,607.8 337.5,612.7 339.1,618 340.6,622.5 342.2,625.7 343.7,626.6 345.3,628.6 346.8,629.9 348.4,632.3 349.9,635.6 351.5,636.9 353,639 354.6,641.4 356.1,643.1" fill="none" stroke="#35a035" stroke-width="1.0"/>
<line x1="304.8" y1="589.0" x2="304.8" y2="656.3" stroke="#333" stroke-width="0.9" />
<line x1="304.8" y1="656.3" x2="358.2" y2="656.3" stroke="#333" stroke-width="0.9" />
<line x1="301.8" y1="589.5" x2="304.8" y2="589.5" stroke="#333" stroke-width="0.8" />
<line x1="301.8" y1="608.4" x2="304.8" y2="608.4" stroke="#333" stroke-width="0.8" />
<line x1="301.8" y1="627.3" x2="304.8" y2="627.3" stroke="#333" stroke-width="0.8" />
<line x1="301.8" y1="646.2" x2="304.8" y2="646.2" stroke="#333" stroke-width="0.8" />
<line x1="306.6" y1="656.3" x2="306.6" y2="659.0" stroke="#333" stroke-width="0.8" />
<text x="306.6" y="671.0" font-size="9.5" text-anchor="middle" font-weight="normal" fill="#333" >−2</text>
<line x1="331.3" y1="656.3" x2="331.3" y2="659.0" stroke="#333" stroke-width="0.8" />
<text x="331.3" y="671.0" font-size="9.5" text-anchor="middle" font-weight="normal" fill="#333" >0</text>
<line x1="356.1" y1="656.3" x2="356.1" y2="659.0" stroke="#333" stroke-width="0.8" />
<text x="356.1" y="671.0" font-size="9.5" text-anchor="middle" font-weight="normal" fill="#333" >2</text>
<text x="398.7" y="580.5" font-size="9" text-anchor="middle" font-weight="normal" fill="#231f20" >Left thumb</text>
<line x1="396.7" y1="589.0" x2="396.7" y2="656.3" stroke="#333" stroke-width="0.6" stroke-dasharray="1.5,0.8"/>
<polygon points="371.9,636.6 373.5,636.3 375,634.8 376.6,633.9 378.1,632.9 379.7,632.3 381.2,632.8 382.8,634.6 384.3,635.7 385.9,638.9 387.4,640.9 389,642.5 390.5,642.9 392.1,642.5 393.6,640.6 395.2,639.4 396.7,639.2 398.2,639.3 399.8,638 401.3,638.7 402.9,638.1 404.4,639.9 406,642.4 407.5,643.2 409.1,645.4 410.6,645.4 412.2,644.9 413.7,645.7 415.3,644.6 416.8,644.9 418.4,643.7 419.9,642.1 421.4,643.3 421.4,656.7 419.9,653.9 418.4,653.7 416.8,653.2 415.3,651.2 413.7,651.2 412.2,649.8 410.6,650.4 409.1,651.3 407.5,650.4 406,651.3 404.4,650.6 402.9,650.6 401.3,652.5 399.8,652.6 398.2,654 396.7,653.4 395.2,652.4 393.6,652 392.1,652.1 390.5,650.8 389,648.8 387.4,646.2 385.9,643.8 384.3,640.9 382.8,640.8 381.2,640.4 379.7,641.7 378.1,644.1 376.6,646.7 375,648.8 373.5,651 371.9,651.2" fill="#d0302c" opacity="0.3"/>
<polyline points="371.9,643.9 373.5,643.6 375,641.8 376.6,640.3 378.1,638.5 379.7,637 381.2,636.6 382.8,637.7 384.3,638.3 385.9,641.3 387.4,643.5 389,645.6 390.5,646.9 392.1,647.3 393.6,646.3 395.2,645.9 396.7,646.3 398.2,646.6 399.8,645.3 401.3,645.6 402.9,644.3 404.4,645.3 406,646.9 407.5,646.8 409.1,648.4 410.6,647.9 412.2,647.3 413.7,648.5 415.3,647.9 416.8,649 418.4,648.7 419.9,648 421.4,650" fill="none" stroke="#d0302c" stroke-width="1.0"/>
<polygon points="371.9,634.4 373.5,633.5 375,634.9 376.6,634.8 378.1,634.1 379.7,633.8 381.2,633.1 382.8,632.8 384.3,628.4 385.9,623.7 387.4,616.4 389,610.3 390.5,604.3 392.1,602.5 393.6,598.7 395.2,595.8 396.7,593.6 398.2,593.5 399.8,594.7 401.3,598.3 402.9,602.2 404.4,606 406,610 407.5,616.1 409.1,622.4 410.6,628.5 412.2,631.3 413.7,632.2 415.3,631.1 416.8,632 418.4,630.5 419.9,629.5 421.4,626.6 421.4,641.3 419.9,643.4 418.4,643.1 416.8,642.9 415.3,640.3 413.7,639.6 412.2,637.3 410.6,633.7 409.1,627.3 407.5,621.5 406,616.5 404.4,614 402.9,612.1 401.3,609.9 399.8,607.9 398.2,607.8 396.7,608.3 395.2,610.3 393.6,612.4 392.1,614.8 390.5,614.8 389,619 387.4,623.4 385.9,629.5 384.3,633.5 382.8,637.7 381.2,638.7 379.7,640.6 378.1,642.5 376.6,645 375,646.9 373.5,647 371.9,648.9" fill="#2572ae" opacity="0.3"/>
<polyline points="371.9,641.7 373.5,640.2 375,640.9 376.6,639.9 378.1,638.3 379.7,637.2 381.2,635.9 382.8,635.2 384.3,630.9 385.9,626.6 387.4,619.9 389,614.7 390.5,609.6 392.1,608.7 393.6,605.5 395.2,603 396.7,601 398.2,600.7 399.8,601.3 401.3,604.1 402.9,607.1 404.4,610 406,613.3 407.5,618.8 409.1,624.9 410.6,631.1 412.2,634.3 413.7,635.9 415.3,635.7 416.8,637.5 418.4,636.8 419.9,636.4 421.4,633.9" fill="none" stroke="#2572ae" stroke-width="1.0"/>
<polygon points="371.9,631.2 373.5,631.6 375,633.1 376.6,632.9 378.1,633.1 379.7,632.2 381.2,631.4 382.8,628.1 384.3,626 385.9,619.3 387.4,615.6 389,611.7 390.5,610.9 392.1,608.9 393.6,608.3 395.2,607.1 396.7,605.9 398.2,606.1 399.8,608.7 401.3,609.7 402.9,611.2 404.4,615.3 406,616.4 407.5,621.4 409.1,623.9 410.6,624.9 412.2,626 413.7,625.8 415.3,627.4 416.8,628.9 418.4,630.7 419.9,632.4 421.4,634.2 421.4,647.9 419.9,646.9 418.4,645.4 416.8,643.1 415.3,640.4 413.7,637.2 412.2,635.7 410.6,632.7 409.1,630.3 407.5,626.7 406,621.3 404.4,620.5 402.9,617.4 401.3,617.3 399.8,618 398.2,617.2 396.7,618.7 395.2,621.1 393.6,623 392.1,623.5 390.5,624.9 389,624.3 387.4,626.6 385.9,628.5 384.3,633.4 382.8,634.1 381.2,636.5 379.7,637.1 378.1,638.4 376.6,639.4 375,641.1 373.5,641.4 371.9,642.8" fill="#f5862a" opacity="0.3"/>
<polyline points="371.9,637 373.5,636.5 375,637.1 376.6,636.2 378.1,635.8 379.7,634.6 381.2,633.9 382.8,631.1 384.3,629.7 385.9,623.9 387.4,621.1 389,618 390.5,617.9 392.1,616.2 393.6,615.6 395.2,614.1 396.7,612.3 398.2,611.6 399.8,613.3 401.3,613.5 402.9,614.3 404.4,617.9 406,618.9 407.5,624 409.1,627.1 410.6,628.8 412.2,630.9 413.7,631.5 415.3,633.9 416.8,636 418.4,638.1 419.9,639.6 421.4,641" fill="none" stroke="#f5862a" stroke-width="1.0"/>
<polygon points="371.9,634.1 373.5,634.6 375,633.4 376.6,631.7 378.1,627.7 379.7,624 381.2,620.7 382.8,619.8 384.3,618.7 385.9,615.7 387.4,612.8 389,611 390.5,610.8 392.1,606.9 393.6,604.1 395.2,600.3 396.7,599.1 398.2,599.5 399.8,603 401.3,607.1 402.9,611.4 404.4,614.8 406,616.1 407.5,615.9 409.1,617.2 410.6,620.2 412.2,619.9 413.7,623.2 415.3,624.7 416.8,628.6 418.4,632.6 419.9,637 421.4,637.4 421.4,642.5 419.9,642.9 418.4,639.9 416.8,637.6 415.3,635.5 413.7,635.7 412.2,633.8 410.6,634.8 409.1,631.9 407.5,630 406,629.1 404.4,626.2 402.9,620.9 401.3,614.9 399.8,609.3 398.2,604.8 396.7,604 395.2,605.6 393.6,610.3 392.1,614.6 390.5,620.2 389,622.2 387.4,625.6 385.9,629.7 384.3,633.4 382.8,634.4 381.2,634.5 379.7,636.6 378.1,638.6 376.6,640.8 375,640.8 373.5,640.6 371.9,639.2" fill="#35a035" opacity="0.3"/>
<polyline points="371.9,636.6 373.5,637.6 375,637.1 376.6,636.3 378.1,633.1 379.7,630.3 381.2,627.6 382.8,627.1 384.3,626.1 385.9,622.7 387.4,619.2 389,616.6 390.5,615.5 392.1,610.8 393.6,607.2 395.2,602.9 396.7,601.6 398.2,602.2 399.8,606.1 401.3,611 402.9,616.1 404.4,620.5 406,622.6 407.5,623 409.1,624.5 410.6,627.5 412.2,626.9 413.7,629.4 415.3,630.1 416.8,633.1 418.4,636.3 419.9,640 421.4,640" fill="none" stroke="#35a035" stroke-width="1.0"/>
<line x1="370.2" y1="589.0" x2="370.2" y2="656.3" stroke="#333" stroke-width="0.9" />
<line x1="370.2" y1="656.3" x2="423.6" y2="656.3" stroke="#333" stroke-width="0.9" />
<line x1="367.2" y1="589.5" x2="370.2" y2="589.5" stroke="#333" stroke-width="0.8" />
<line x1="367.2" y1="608.4" x2="370.2" y2="608.4" stroke="#333" stroke-width="0.8" />
<line x1="367.2" y1="627.3" x2="370.2" y2="627.3" stroke="#333" stroke-width="0.8" />
<line x1="367.2" y1="646.2" x2="370.2" y2="646.2" stroke="#333" stroke-width="0.8" />
<line x1="371.9" y1="656.3" x2="371.9" y2="659.0" stroke="#333" stroke-width="0.8" />
<text x="371.9" y="671.0" font-size="9.5" text-anchor="middle" font-weight="normal" fill="#333" >−2</text>
<line x1="396.7" y1="656.3" x2="396.7" y2="659.0" stroke="#333" stroke-width="0.8" />
<text x="396.7" y="671.0" font-size="9.5" text-anchor="middle" font-weight="normal" fill="#333" >0</text>
<line x1="421.4" y1="656.3" x2="421.4" y2="659.0" stroke="#333" stroke-width="0.8" />
<text x="421.4" y="671.0" font-size="9.5" text-anchor="middle" font-weight="normal" fill="#333" >2</text>
<text x="464.1" y="580.5" font-size="9" text-anchor="middle" font-weight="normal" fill="#231f20" >Right thumb</text>
<line x1="462.1" y1="589.0" x2="462.1" y2="656.3" stroke="#333" stroke-width="0.6" stroke-dasharray="1.5,0.8"/>
<polygon points="437.3,639.3 438.8,638.3 440.4,635.4 441.9,632.1 443.5,630.2 445,628.9 446.6,628.7 448.1,630.6 449.7,633.4 451.2,636.9 452.8,641 454.3,643.3 455.9,644.2 457.4,643.9 459,643.3 460.5,643.3 462.1,642.6 463.6,641 465.1,639.6 466.7,638.6 468.2,638.1 469.8,638.4 471.3,639.8 472.9,640.2 474.4,641.2 476,642.2 477.5,643 479.1,645.3 480.6,645.3 482.2,645.9 483.7,646 485.3,646 486.8,645.8 486.8,653.2 485.3,652 483.7,651.1 482.2,650.9 480.6,650.7 479.1,651.8 477.5,651.1 476,652.1 474.4,652.8 472.9,653.4 471.3,654.1 469.8,653.1 468.2,652.7 466.7,652.3 465.1,651.8 463.6,651.5 462.1,651.2 460.5,650.4 459,649.1 457.4,648.9 455.9,649.2 454.3,648.9 452.8,647.8 451.2,645.4 449.7,643.7 448.1,642.7 446.6,642.2 445,643.3 443.5,644.9 441.9,646.5 440.4,648.8 438.8,650.2 437.3,649.3" fill="#d0302c" opacity="0.3"/>
<polyline points="437.3,644.3 438.8,644.2 440.4,642.1 441.9,639.3 443.5,637.5 445,636.1 446.6,635.4 448.1,636.6 449.7,638.5 451.2,641.2 452.8,644.4 454.3,646.1 455.9,646.7 457.4,646.4 459,646.2 460.5,646.9 462.1,646.9 463.6,646.2 465.1,645.7 466.7,645.4 468.2,645.4 469.8,645.7 471.3,647 472.9,646.8 474.4,647 476,647.2 477.5,647.1 479.1,648.6 480.6,648 482.2,648.4 483.7,648.6 485.3,649 486.8,649.5" fill="none" stroke="#d0302c" stroke-width="1.0"/>
<polygon points="437.3,638.5 438.8,639 440.4,638.1 441.9,636.7 443.5,631.9 445,629.1 446.6,626.7 448.1,624.4 449.7,623.7 451.2,620.2 452.8,618.5 454.3,615.3 455.9,614.7 457.4,613.9 459,614.7 460.5,612.8 462.1,610.3 463.6,610.4 465.1,610.3 466.7,611.8 468.2,611.1 469.8,610.6 471.3,610.5 472.9,612.1 474.4,615.1 476,619.1 477.5,623.9 479.1,626.9 480.6,629.9 482.2,631.7 483.7,635.3 485.3,636 486.8,637.3 486.8,643.1 485.3,643 483.7,644 482.2,642.2 480.6,642.2 479.1,640.6 477.5,638.5 476,633.8 474.4,629.3 472.9,625.3 471.3,622.1 469.8,620.4 468.2,619.1 466.7,618.3 465.1,615.7 463.6,615.3 462.1,615.4 460.5,618.8 459,622.1 457.4,623.1 455.9,625.7 454.3,627.9 452.8,632.4 451.2,634.9 449.7,638.4 448.1,638.4 446.6,639.5 445,640.3 443.5,641.3 441.9,644.3 440.4,644.3 438.8,644.2 437.3,643.4" fill="#2572ae" opacity="0.3"/>
<polyline points="437.3,640.9 438.8,641.6 440.4,641.2 441.9,640.5 443.5,636.6 445,634.7 446.6,633.1 448.1,631.4 449.7,631.1 451.2,627.5 452.8,625.4 454.3,621.6 455.9,620.2 457.4,618.5 459,618.4 460.5,615.8 462.1,612.9 463.6,612.9 465.1,613 466.7,615.1 468.2,615.1 469.8,615.5 471.3,616.3 472.9,618.7 474.4,622.2 476,626.5 477.5,631.2 479.1,633.7 480.6,636 482.2,636.9 483.7,639.7 485.3,639.5 486.8,640.2" fill="none" stroke="#2572ae" stroke-width="1.0"/>
<polygon points="437.3,635.6 438.8,634.4 440.4,632.6 441.9,632.9 443.5,630.9 445,629.5 446.6,628.8 448.1,626.6 449.7,623 451.2,617.8 452.8,613.5 454.3,611.7 455.9,610.8 457.4,607.7 459,604.9 460.5,602.6 462.1,599.7 463.6,598.6 465.1,594.3 466.7,592.5 468.2,591.4 469.8,592.9 471.3,598.4 472.9,605 474.4,611 476,615.6 477.5,621 479.1,626.6 480.6,628.7 482.2,630.9 483.7,633.3 485.3,634.2 486.8,635.7 486.8,642.9 485.3,640 483.7,638.4 482.2,635.9 480.6,634.2 479.1,633.3 477.5,629.3 476,625.6 474.4,622.8 472.9,618.4 471.3,612.7 469.8,607.7 468.2,605.9 466.7,606 465.1,606.4 463.6,608.9 462.1,608.2 460.5,609.5 459,610.5 457.4,612.7 455.9,615.8 454.3,617.5 452.8,620.5 451.2,626.5 449.7,633.5 448.1,638.9 446.6,642.5 445,644 443.5,645.6 441.9,647.2 440.4,645.8 438.8,646 437.3,645.4" fill="#f5862a" opacity="0.3"/>
<polyline points="437.3,640.5 438.8,640.2 440.4,639.2 441.9,640.1 443.5,638.3 445,636.8 446.6,635.7 448.1,632.8 449.7,628.2 451.2,622.1 452.8,617 454.3,614.6 455.9,613.3 457.4,610.2 459,607.7 460.5,606 462.1,603.9 463.6,603.8 465.1,600.3 466.7,599.3 468.2,598.7 469.8,600.3 471.3,605.6 472.9,611.7 474.4,616.9 476,620.6 477.5,625.2 479.1,630 480.6,631.4 482.2,633.4 483.7,635.9 485.3,637.1 486.8,639.3" fill="none" stroke="#f5862a" stroke-width="1.0"/>
<polygon points="437.3,638.5 438.8,638.3 440.4,637.8 441.9,637.3 443.5,636.2 445,634.2 446.6,632.9 448.1,631.7 449.7,625.6 451.2,621.4 452.8,613.7 454.3,609.1 455.9,605.7 457.4,606.2 459,604.4 460.5,603 462.1,603.4 463.6,603.5 465.1,603.1 466.7,604.6 468.2,605.6 469.8,606.5 471.3,608.6 472.9,613.7 474.4,617.3 476,625.2 477.5,630.9 479.1,630.4 480.6,630.2 482.2,629.8 483.7,628.7 485.3,628.5 486.8,626.4 486.8,636.7 485.3,640.6 483.7,642.2 482.2,644.3 480.6,644.9 479.1,644.7 477.5,644.2 476,637 474.4,627.3 472.9,621.9 471.3,615.2 469.8,612 468.2,610.5 466.7,609.7 465.1,608.9 463.6,610.7 462.1,612.4 460.5,613.8 459,616.9 457.4,620 455.9,620.3 454.3,623.8 452.8,627.8 451.2,634.4 449.7,637 448.1,641.3 446.6,640.7 445,640.5 443.5,641.5 441.9,642.2 440.4,643 438.8,644.5 437.3,646.1" fill="#35a035" opacity="0.3"/>
<polyline points="437.3,642.3 438.8,641.4 440.4,640.4 441.9,639.7 443.5,638.9 445,637.4 446.6,636.8 448.1,636.5 449.7,631.3 451.2,627.9 452.8,620.8 454.3,616.5 455.9,613 457.4,613.1 459,610.6 460.5,608.4 462.1,607.9 463.6,607.1 465.1,606 466.7,607.1 468.2,608.1 469.8,609.2 471.3,611.9 472.9,617.8 474.4,622.3 476,631.1 477.5,637.5 479.1,637.6 480.6,637.5 482.2,637.1 483.7,635.4 485.3,634.5 486.8,631.6" fill="none" stroke="#35a035" stroke-width="1.0"/>
<line x1="435.6" y1="589.0" x2="435.6" y2="656.3" stroke="#333" stroke-width="0.9" />
<line x1="435.6" y1="656.3" x2="488.9" y2="656.3" stroke="#333" stroke-width="0.9" />
<line x1="432.6" y1="589.5" x2="435.6" y2="589.5" stroke="#333" stroke-width="0.8" />
<line x1="432.6" y1="608.4" x2="435.6" y2="608.4" stroke="#333" stroke-width="0.8" />
<line x1="432.6" y1="627.3" x2="435.6" y2="627.3" stroke="#333" stroke-width="0.8" />
<line x1="432.6" y1="646.2" x2="435.6" y2="646.2" stroke="#333" stroke-width="0.8" />
<line x1="437.3" y1="656.3" x2="437.3" y2="659.0" stroke="#333" stroke-width="0.8" />
<text x="437.3" y="671.0" font-size="9.5" text-anchor="middle" font-weight="normal" fill="#333" >−2</text>
<line x1="462.1" y1="656.3" x2="462.1" y2="659.0" stroke="#333" stroke-width="0.8" />
<text x="462.1" y="671.0" font-size="9.5" text-anchor="middle" font-weight="normal" fill="#333" >0</text>
<line x1="486.8" y1="656.3" x2="486.8" y2="659.0" stroke="#333" stroke-width="0.8" />
<text x="486.8" y="671.0" font-size="9.5" text-anchor="middle" font-weight="normal" fill="#333" >2</text>
<text x="529.4" y="580.5" font-size="9" text-anchor="middle" font-weight="normal" fill="#231f20" >Right index</text>
<line x1="527.4" y1="589.0" x2="527.4" y2="656.3" stroke="#333" stroke-width="0.6" stroke-dasharray="1.5,0.8"/>
<polygon points="502.6,638.8 504.2,636.5 505.7,634.9 507.3,633.9 508.8,633.2 510.4,632.9 511.9,632.7 513.5,634.6 515,636.7 516.6,640.5 518.1,641.3 519.7,642.2 521.2,640.5 522.8,639.2 524.3,638.4 525.9,638.9 527.4,639.1 528.9,639.8 530.5,640 532,640.1 533.6,641.8 535.1,642.1 536.7,643.5 538.2,642.8 539.8,643.9 541.3,643.6 542.9,644.7 544.4,644.3 546,644.8 547.5,643.7 549.1,642.2 550.6,642.7 552.1,642.5 552.1,657.3 550.6,656.9 549.1,655.2 547.5,655.1 546,654.4 544.4,652.1 542.9,651 541.3,648.9 539.8,648.9 538.2,648 536.7,649.7 535.1,649.7 533.6,651.2 532,651.3 530.5,652.9 528.9,653.8 527.4,653.8 525.9,653.6 524.3,652.3 522.8,651.8 521.2,651.5 519.7,651.4 518.1,648.8 516.6,646.5 515,641.8 513.5,639.5 511.9,638.1 510.4,639.3 508.8,641.2 507.3,643.7 505.7,646.5 504.2,649.7 502.6,653.1" fill="#d0302c" opacity="0.3"/>
<polyline points="502.6,645.9 504.2,643.1 505.7,640.7 507.3,638.8 508.8,637.2 510.4,636.1 511.9,635.4 513.5,637.1 515,639.2 516.6,643.5 518.1,645 519.7,646.8 521.2,646 522.8,645.5 524.3,645.4 525.9,646.2 527.4,646.4 528.9,646.8 530.5,646.5 532,645.7 533.6,646.5 535.1,645.9 536.7,646.6 538.2,645.4 539.8,646.4 541.3,646.3 542.9,647.9 544.4,648.2 546,649.6 547.5,649.4 549.1,648.7 550.6,649.8 552.1,649.9" fill="none" stroke="#d0302c" stroke-width="1.0"/>
<polygon points="502.6,632.5 504.2,629.4 505.7,628.4 507.3,627.9 508.8,627.1 510.4,625.3 511.9,623.4 513.5,622.6 515,622.5 516.6,621.7 518.1,618.6 519.7,617.6 521.2,613.3 522.8,612.4 524.3,613.3 525.9,611.5 527.4,610.5 528.9,608.7 530.5,607.5 532,605.5 533.6,607.8 535.1,608.9 536.7,612 538.2,613.1 539.8,618.5 541.3,624.6 542.9,629 544.4,632.2 546,633 547.5,633.7 549.1,631.9 550.6,632.3 552.1,633.5 552.1,640 550.6,637.7 549.1,636.9 547.5,638.8 546,639 544.4,639.6 542.9,638.1 541.3,635.5 539.8,631.2 538.2,627 536.7,626.6 535.1,623.6 533.6,621.9 532,618.4 530.5,618.7 528.9,618.1 527.4,618.2 525.9,617.7 524.3,618.5 522.8,617.3 521.2,618.5 519.7,623.9 518.1,626.3 516.6,631.3 515,633.8 513.5,635.6 511.9,637.6 510.4,640 508.8,641.7 507.3,641.7 505.7,640.9 504.2,640.2 502.6,641.5" fill="#2572ae" opacity="0.3"/>
<polyline points="502.6,637 504.2,634.8 505.7,634.7 507.3,634.8 508.8,634.4 510.4,632.7 511.9,630.5 513.5,629.1 515,628.2 516.6,626.5 518.1,622.4 519.7,620.8 521.2,615.9 522.8,614.8 524.3,615.9 525.9,614.6 527.4,614.3 528.9,613.4 530.5,613.1 532,611.9 533.6,614.9 535.1,616.3 536.7,619.3 538.2,620.1 539.8,624.9 541.3,630 542.9,633.6 544.4,635.9 546,636 547.5,636.3 549.1,634.4 550.6,635 552.1,636.7" fill="none" stroke="#2572ae" stroke-width="1.0"/>
<polygon points="502.6,633.1 504.2,631.2 505.7,632 507.3,630 508.8,627.1 510.4,627 511.9,626.6 513.5,625 515,621.6 516.6,618.1 518.1,614.9 519.7,613.5 521.2,613.1 522.8,612.7 524.3,610.5 525.9,608.1 527.4,605.2 528.9,603.4 530.5,604 532,604.2 533.6,606.6 535.1,608 536.7,611.6 538.2,615.2 539.8,621.5 541.3,624.9 542.9,628.5 544.4,631 546,631.5 547.5,635 549.1,636.5 550.6,635.5 552.1,637.1 552.1,643 550.6,640.6 549.1,641.4 547.5,640.4 546,638.1 544.4,639.2 542.9,638.5 541.3,636.7 539.8,634.7 538.2,629.5 536.7,626.3 535.1,622.4 533.6,620.2 532,616.3 530.5,614.4 528.9,612 527.4,612.1 525.9,613.7 524.3,615.5 522.8,617.8 521.2,618.8 519.7,620.5 518.1,623.5 516.6,628.6 515,633.7 513.5,638.6 511.9,641.1 510.4,641.7 508.8,641.4 507.3,643.3 505.7,643.7 504.2,641.2 502.6,641.2" fill="#f5862a" opacity="0.3"/>
<polyline points="502.6,637.2 504.2,636.2 505.7,637.9 507.3,636.6 508.8,634.2 510.4,634.4 511.9,633.9 513.5,631.8 515,627.7 516.6,623.4 518.1,619.2 519.7,617 521.2,615.9 522.8,615.2 524.3,613 525.9,610.9 527.4,608.6 528.9,607.7 530.5,609.2 532,610.3 533.6,613.4 535.1,615.2 536.7,618.9 538.2,622.4 539.8,628.1 541.3,630.8 542.9,633.5 544.4,635.1 546,634.8 547.5,637.7 549.1,638.9 550.6,638.1 552.1,640" fill="none" stroke="#f5862a" stroke-width="1.0"/>
<polygon points="502.6,637.7 504.2,638.9 505.7,638.5 507.3,639.2 508.8,639.8 510.4,637.2 511.9,634.3 513.5,630.4 515,625.9 516.6,622.5 518.1,618.1 519.7,614.9 521.2,610.8 522.8,609.4 524.3,608.5 525.9,608.8 527.4,606.8 528.9,605.7 530.5,604.6 532,605.2 533.6,609.2 535.1,613 536.7,616.6 538.2,619.3 539.8,622.2 541.3,624.7 542.9,628.9 544.4,630 546,629.5 547.5,627.7 549.1,629.7 550.6,632.9 552.1,635.8 552.1,648.7 550.6,647 549.1,644.3 547.5,642.3 546,643.4 544.4,642.6 542.9,639.8 541.3,633.8 539.8,629.5 538.2,625.2 536.7,621.7 535.1,618 533.6,614.6 532,611.7 530.5,612.7 528.9,615.6 527.4,618.5 525.9,622 524.3,622.8 522.8,624.1 521.2,625.3 519.7,628.5 518.1,630.2 516.6,632.9 515,634.5 513.5,637.3 511.9,639.9 510.4,642.2 508.8,644.8 507.3,644.9 505.7,645.4 504.2,647.5 502.6,648.1" fill="#35a035" opacity="0.3"/>
<polyline points="502.6,642.9 504.2,643.2 505.7,641.9 507.3,642 508.8,642.3 510.4,639.7 511.9,637.1 513.5,633.8 515,630.2 516.6,627.7 518.1,624.2 519.7,621.7 521.2,618.1 522.8,616.8 524.3,615.6 525.9,615.4 527.4,612.7 528.9,610.7 530.5,608.7 532,608.4 533.6,611.9 535.1,615.5 536.7,619.2 538.2,622.3 539.8,625.9 541.3,629.2 542.9,634.3 544.4,636.3 546,636.4 547.5,635 549.1,637 550.6,640 552.1,642.3" fill="none" stroke="#35a035" stroke-width="1.0"/>
<line x1="500.9" y1="589.0" x2="500.9" y2="656.3" stroke="#333" stroke-width="0.9" />
<line x1="500.9" y1="656.3" x2="554.3" y2="656.3" stroke="#333" stroke-width="0.9" />
<line x1="497.9" y1="589.5" x2="500.9" y2="589.5" stroke="#333" stroke-width="0.8" />
<line x1="497.9" y1="608.4" x2="500.9" y2="608.4" stroke="#333" stroke-width="0.8" />
<line x1="497.9" y1="627.3" x2="500.9" y2="627.3" stroke="#333" stroke-width="0.8" />
<line x1="497.9" y1="646.2" x2="500.9" y2="646.2" stroke="#333" stroke-width="0.8" />
<line x1="502.6" y1="656.3" x2="502.6" y2="659.0" stroke="#333" stroke-width="0.8" />
<text x="502.6" y="671.0" font-size="9.5" text-anchor="middle" font-weight="normal" fill="#333" >−2</text>
<line x1="527.4" y1="656.3" x2="527.4" y2="659.0" stroke="#333" stroke-width="0.8" />
<text x="527.4" y="671.0" font-size="9.5" text-anchor="middle" font-weight="normal" fill="#333" >0</text>
<line x1="552.1" y1="656.3" x2="552.1" y2="659.0" stroke="#333" stroke-width="0.8" />
<text x="552.1" y="671.0" font-size="9.5" text-anchor="middle" font-weight="normal" fill="#333" >2</text>
<text x="594.7" y="580.5" font-size="9" text-anchor="middle" font-weight="normal" fill="#231f20" >Right middle</text>
<line x1="592.7" y1="589.0" x2="592.7" y2="656.3" stroke="#333" stroke-width="0.6" stroke-dasharray="1.5,0.8"/>
<polygon points="568,642.4 569.5,642.1 571.1,639.9 572.6,637.2 574.2,633.8 575.7,631.6 577.3,632.1 578.8,631.4 580.4,633.4 581.9,634.8 583.5,636.4 585,638.8 586.6,639.5 588.1,639.7 589.7,640.4 591.2,641 592.7,641.1 594.3,642.5 595.8,643.6 597.4,643.8 598.9,642.9 600.5,642.6 602,642.5 603.6,643.3 605.1,641.3 606.7,641 608.2,639.8 609.8,639.5 611.3,641.2 612.9,642.2 614.4,642.6 616,644.2 617.5,645.4 617.5,654.8 616,655.4 614.4,655.4 612.9,656.3 611.3,655.8 609.8,654.2 608.2,653.8 606.7,653.6 605.1,652.2 603.6,652.4 602,649.9 600.5,648.6 598.9,648 597.4,648.7 595.8,649 594.3,649 592.7,649.1 591.2,650.8 589.7,652 588.1,652.9 586.6,653.8 585,653.5 583.5,651 581.9,648.5 580.4,645.6 578.8,641.9 577.3,640.8 575.7,638.6 574.2,639.5 572.6,642.2 571.1,644.9 569.5,647.7 568,649.3" fill="#d0302c" opacity="0.3"/>
<polyline points="568,645.9 569.5,644.9 571.1,642.4 572.6,639.7 574.2,636.7 575.7,635.1 577.3,636.4 578.8,636.7 580.4,639.5 581.9,641.6 583.5,643.7 585,646.1 586.6,646.6 588.1,646.3 589.7,646.2 591.2,645.9 592.7,645.1 594.3,645.8 595.8,646.3 597.4,646.2 598.9,645.4 600.5,645.6 602,646.2 603.6,647.8 605.1,646.8 606.7,647.3 608.2,646.8 609.8,646.9 611.3,648.5 612.9,649.2 614.4,649 616,649.8 617.5,650.1" fill="none" stroke="#d0302c" stroke-width="1.0"/>
<polygon points="568,633 569.5,633.7 571.1,635.1 572.6,636.8 574.2,635.5 575.7,632.1 577.3,629.7 578.8,628.1 580.4,624.6 581.9,621.1 583.5,617.2 585,611 586.6,609 588.1,606.4 589.7,602 591.2,597.8 592.7,594.2 594.3,591.9 595.8,593.3 597.4,596.4 598.9,600.6 600.5,606.8 602,612.4 603.6,616.7 605.1,622.9 606.7,627.6 608.2,630.5 609.8,630.1 611.3,629.7 612.9,628 614.4,630.5 616,630.6 617.5,629.3 617.5,643.9 616,644.5 614.4,643.1 612.9,638.9 611.3,638.8 609.8,637.6 608.2,636.6 606.7,632.7 605.1,627.8 603.6,622.1 602,618.9 600.5,614.8 598.9,610.4 597.4,608 595.8,606.5 594.3,606.2 592.7,608.9 591.2,612.3 589.7,615.7 588.1,618.6 586.6,619.5 585,619.7 583.5,624.2 581.9,626.8 580.4,629.6 578.8,633.1 577.3,635.3 575.7,639 574.2,644 572.6,647 571.1,647.1 569.5,647.2 568,647.4" fill="#2572ae" opacity="0.3"/>
<polyline points="568,640.2 569.5,640.4 571.1,641.1 572.6,641.9 574.2,639.7 575.7,635.5 577.3,632.5 578.8,630.6 580.4,627.1 581.9,623.9 583.5,620.7 585,615.4 586.6,614.3 588.1,612.5 589.7,608.8 591.2,605.1 592.7,601.6 594.3,599 595.8,599.9 597.4,602.2 598.9,605.5 600.5,610.8 602,615.6 603.6,619.4 605.1,625.3 606.7,630.1 608.2,633.6 609.8,633.9 611.3,634.3 612.9,633.4 614.4,636.8 616,637.6 617.5,636.6" fill="none" stroke="#2572ae" stroke-width="1.0"/>
<polygon points="568,633.7 569.5,632.9 571.1,630 572.6,627.6 574.2,627.2 575.7,629.4 577.3,629.7 578.8,629.1 580.4,625.6 581.9,621.2 583.5,618 585,615.6 586.6,612.4 588.1,608.7 589.7,604.6 591.2,602.5 592.7,601.5 594.3,600.7 595.8,600.2 597.4,598.1 598.9,598.3 600.5,602.2 602,608 603.6,613.1 605.1,615.4 606.7,619.1 608.2,623.4 609.8,626.8 611.3,629.4 612.9,631.9 614.4,632.4 616,632 617.5,632.3 617.5,643.9 616,641.9 614.4,640.5 612.9,638.4 611.3,634.9 609.8,631.7 608.2,628.5 606.7,625.1 605.1,622.7 603.6,622.1 602,618.9 600.5,614.8 598.9,612.1 597.4,612.7 595.8,614.9 594.3,614.8 592.7,614.4 591.2,613.8 589.7,614 588.1,616.3 586.6,618.6 585,620.8 583.5,622.9 581.9,626.5 580.4,631.9 578.8,636.8 577.3,639.2 575.7,640.8 574.2,640.1 572.6,641.7 571.1,644.6 569.5,647.5 568,647.6" fill="#f5862a" opacity="0.3"/>
<polyline points="568,640.6 569.5,640.2 571.1,637.3 572.6,634.6 574.2,633.7 575.7,635.1 577.3,634.4 578.8,632.9 580.4,628.7 581.9,623.9 583.5,620.5 585,618.2 586.6,615.5 588.1,612.5 589.7,609.3 591.2,608.1 592.7,608 594.3,607.8 595.8,607.6 597.4,605.4 598.9,605.2 600.5,608.5 602,613.4 603.6,617.6 605.1,619 606.7,622.1 608.2,625.9 609.8,629.3 611.3,632.1 612.9,635.2 614.4,636.4 616,636.9 617.5,638.1" fill="none" stroke="#f5862a" stroke-width="1.0"/>
<polygon points="568,635.3 569.5,635.7 571.1,635.3 572.6,635.3 574.2,635.2 575.7,633.7 577.3,631.1 578.8,626.9 580.4,621.3 581.9,616.4 583.5,612.8 585,609.8 586.6,608.8 588.1,605.9 589.7,606.3 591.2,606 592.7,606.8 594.3,604.7 595.8,603.2 597.4,602.3 598.9,603.7 600.5,609 602,613.2 603.6,615 605.1,617.4 606.7,620.5 608.2,623.4 609.8,625.9 611.3,626.9 612.9,628.6 614.4,630.5 616,633.5 617.5,637.4 617.5,647.2 616,645.1 614.4,643.6 612.9,642.8 611.3,641.6 609.8,640.5 608.2,637.1 606.7,632.8 605.1,628 603.6,623.8 602,620.2 600.5,614.8 598.9,608.8 597.4,607.2 595.8,608.8 594.3,611.5 592.7,615.2 591.2,616.2 589.7,618.3 588.1,619.4 586.6,623.2 585,624.5 583.5,627.2 581.9,629.8 580.4,633.2 578.8,637.1 577.3,639.4 575.7,640.4 574.2,640.7 572.6,640.3 571.1,640.4 569.5,641.6 568,642.5" fill="#35a035" opacity="0.3"/>
<polyline points="568,638.9 569.5,638.6 571.1,637.9 572.6,637.8 574.2,637.9 575.7,637.1 577.3,635.3 578.8,632 580.4,627.2 581.9,623.1 583.5,620 585,617.2 586.6,616 588.1,612.6 589.7,612.3 591.2,611.1 592.7,611 594.3,608.1 595.8,606 597.4,604.8 598.9,606.3 600.5,611.9 602,616.7 603.6,619.4 605.1,622.7 606.7,626.6 608.2,630.2 609.8,633.2 611.3,634.2 612.9,635.7 614.4,637.1 616,639.3 617.5,642.3" fill="none" stroke="#35a035" stroke-width="1.0"/>
<line x1="566.2" y1="589.0" x2="566.2" y2="656.3" stroke="#333" stroke-width="0.9" />
<line x1="566.2" y1="656.3" x2="619.6" y2="656.3" stroke="#333" stroke-width="0.9" />
<line x1="563.2" y1="589.5" x2="566.2" y2="589.5" stroke="#333" stroke-width="0.8" />
<line x1="563.2" y1="608.4" x2="566.2" y2="608.4" stroke="#333" stroke-width="0.8" />
<line x1="563.2" y1="627.3" x2="566.2" y2="627.3" stroke="#333" stroke-width="0.8" />
<line x1="563.2" y1="646.2" x2="566.2" y2="646.2" stroke="#333" stroke-width="0.8" />
<line x1="568.0" y1="656.3" x2="568.0" y2="659.0" stroke="#333" stroke-width="0.8" />
<text x="568.0" y="671.0" font-size="9.5" text-anchor="middle" font-weight="normal" fill="#333" >−2</text>
<line x1="592.7" y1="656.3" x2="592.7" y2="659.0" stroke="#333" stroke-width="0.8" />
<text x="592.7" y="671.0" font-size="9.5" text-anchor="middle" font-weight="normal" fill="#333" >0</text>
<line x1="617.5" y1="656.3" x2="617.5" y2="659.0" stroke="#333" stroke-width="0.8" />
<text x="617.5" y="671.0" font-size="9.5" text-anchor="middle" font-weight="normal" fill="#333" >2</text>
<text x="660.1" y="580.5" font-size="9" text-anchor="middle" font-weight="normal" fill="#231f20" >Right ring</text>
<line x1="658.1" y1="589.0" x2="658.1" y2="656.3" stroke="#333" stroke-width="0.6" stroke-dasharray="1.5,0.8"/>
<polygon points="633.3,638.8 634.9,637.9 636.4,636.6 638,635.8 639.5,634.1 641.1,633.3 642.6,633.9 644.2,635.5 645.7,637.3 647.3,638 648.8,637.2 650.4,637.3 651.9,637.1 653.5,637.7 655,639.3 656.6,639.1 658.1,640.3 659.6,641 661.2,643.7 662.7,643.9 664.3,642.8 665.8,641.2 667.4,641.9 668.9,642.8 670.5,643 672,644.1 673.6,644.2 675.1,642.8 676.7,642.1 678.2,642.1 679.8,641.9 681.3,641 682.8,640.9 682.8,654.3 681.3,655.4 679.8,656.6 678.2,656.5 676.7,655.6 675.1,654.8 673.6,654.4 672,652.5 670.5,649.7 668.9,648.4 667.4,646.9 665.8,646.3 664.3,648.6 662.7,651 661.2,652.4 659.6,651.6 658.1,652.6 656.6,652.8 655,653.8 653.5,652.4 651.9,651.4 650.4,650.5 648.8,648.8 647.3,647.8 645.7,645.3 644.2,642 642.6,639.3 641.1,638.3 639.5,639.3 638,641.9 636.4,644.1 634.9,647.1 633.3,649.8" fill="#d0302c" opacity="0.3"/>
<polyline points="633.3,644.3 634.9,642.5 636.4,640.4 638,638.9 639.5,636.7 641.1,635.8 642.6,636.6 644.2,638.7 645.7,641.3 647.3,642.9 648.8,643 650.4,643.9 651.9,644.2 653.5,645.1 655,646.5 656.6,645.9 658.1,646.5 659.6,646.3 661.2,648 662.7,647.4 664.3,645.7 665.8,643.8 667.4,644.4 668.9,645.6 670.5,646.4 672,648.3 673.6,649.3 675.1,648.8 676.7,648.8 678.2,649.3 679.8,649.2 681.3,648.2 682.8,647.6" fill="none" stroke="#d0302c" stroke-width="1.0"/>
<polygon points="633.3,629.6 634.9,630.8 636.4,629.3 638,629.2 639.5,628.2 641.1,628.3 642.6,627.9 644.2,623.5 645.7,619.8 647.3,615.5 648.8,611.3 650.4,607.5 651.9,605.1 653.5,603.8 655,601.4 656.6,601.8 658.1,601.9 659.6,601.8 661.2,599.6 662.7,598.5 664.3,598.3 665.8,601.6 667.4,606.9 668.9,610.7 670.5,613.9 672,621.2 673.6,627.2 675.1,630.5 676.7,631.5 678.2,631.3 679.8,632.5 681.3,633.2 682.8,634.9 682.8,646.9 681.3,646.6 679.8,646.9 678.2,646.1 676.7,645.9 675.1,643.9 673.6,639.1 672,631.4 670.5,622.2 668.9,617.4 667.4,612.4 665.8,606.6 664.3,603.4 662.7,604.3 661.2,606.8 659.6,610.6 658.1,612.5 656.6,614.2 655,615.2 653.5,618.4 651.9,619.8 650.4,621.7 648.8,624.4 647.3,627 645.7,629.5 644.2,631.4 642.6,634.3 641.1,633.6 639.5,633.1 638,634.4 636.4,635.4 634.9,638.3 633.3,638.9" fill="#2572ae" opacity="0.3"/>
<polyline points="633.3,634.2 634.9,634.5 636.4,632.4 638,631.8 639.5,630.7 641.1,631 642.6,631.1 644.2,627.5 645.7,624.6 647.3,621.2 648.8,617.8 650.4,614.6 651.9,612.4 653.5,611.1 655,608.3 656.6,608 658.1,607.2 659.6,606.2 661.2,603.2 662.7,601.4 664.3,600.9 665.8,604.1 667.4,609.6 668.9,614 670.5,618 672,626.3 673.6,633.2 675.1,637.2 676.7,638.7 678.2,638.7 679.8,639.7 681.3,639.9 682.8,640.9" fill="none" stroke="#2572ae" stroke-width="1.0"/>
<polygon points="633.3,635.1 634.9,632.3 636.4,629 638,627.8 639.5,625.7 641.1,624.9 642.6,623.2 644.2,621.3 645.7,619.8 647.3,617.4 648.8,616.5 650.4,614.3 651.9,612 653.5,608.9 655,609.3 656.6,609.4 658.1,609.6 659.6,610.7 661.2,610.5 662.7,613.1 664.3,614.8 665.8,616.4 667.4,617.4 668.9,618 670.5,620.1 672,621.7 673.6,626.2 675.1,628.7 676.7,631.9 678.2,632.8 679.8,632 681.3,634.6 682.8,635.2 682.8,641.4 681.3,642.3 679.8,641.4 678.2,644 676.7,644.8 675.1,642.7 673.6,640.9 672,636.4 670.5,634 668.9,630.6 667.4,628.3 665.8,625.6 664.3,622.2 662.7,619.1 661.2,615.6 659.6,615.6 658.1,615 656.6,615.9 655,617.4 653.5,618.7 651.9,623.6 650.4,627.5 648.8,630.8 647.3,632.2 645.7,634.3 644.2,635 642.6,635.4 641.1,635.4 639.5,634.4 638,634.8 636.4,634.7 634.9,637.3 633.3,640.1" fill="#f5862a" opacity="0.3"/>
<polyline points="633.3,637.6 634.9,634.8 636.4,631.8 638,631.3 639.5,630.1 641.1,630.2 642.6,629.3 644.2,628.1 645.7,627 647.3,624.8 648.8,623.7 650.4,620.9 651.9,617.8 653.5,613.8 655,613.3 656.6,612.6 658.1,612.3 659.6,613.1 661.2,613 662.7,616.1 664.3,618.5 665.8,621 667.4,622.9 668.9,624.3 670.5,627.1 672,629.1 673.6,633.6 675.1,635.7 676.7,638.4 678.2,638.4 679.8,636.7 681.3,638.4 682.8,638.3" fill="none" stroke="#f5862a" stroke-width="1.0"/>
<polygon points="633.3,635.2 634.9,631.7 636.4,631.6 638,630 639.5,631.5 641.1,630 642.6,629.7 644.2,627.7 645.7,626.8 647.3,624 648.8,618.6 650.4,612.4 651.9,609.3 653.5,605 655,603.4 656.6,600.2 658.1,599.3 659.6,596.8 661.2,597.1 662.7,600.5 664.3,603.8 665.8,608.7 667.4,611.7 668.9,615 670.5,620.3 672,627.5 673.6,632.9 675.1,634.6 676.7,634.2 678.2,633.3 679.8,632.6 681.3,632.5 682.8,630 682.8,639.6 681.3,640.3 679.8,638.9 678.2,638.6 676.7,639.1 675.1,639.8 673.6,639.1 672,635.1 670.5,629.7 668.9,626.2 667.4,624.5 665.8,622.8 664.3,618.5 662.7,615.1 661.2,611 659.6,609.5 658.1,610.2 656.6,609.3 655,610.8 653.5,611.1 651.9,614.5 650.4,617.3 648.8,624 647.3,630.5 645.7,634.8 644.2,637.5 642.6,641.3 641.1,643.2 639.5,645.7 638,644.7 636.4,646.1 634.9,645.4 633.3,647.5" fill="#35a035" opacity="0.3"/>
<polyline points="633.3,641.3 634.9,638.6 636.4,638.9 638,637.4 639.5,638.6 641.1,636.6 642.6,635.5 644.2,632.6 645.7,630.8 647.3,627.3 648.8,621.3 650.4,614.8 651.9,611.9 653.5,608 655,607.1 656.6,604.7 658.1,604.7 659.6,603.2 661.2,604 662.7,607.8 664.3,611.2 665.8,615.8 667.4,618.1 668.9,620.6 670.5,625 672,631.3 673.6,636 675.1,637.2 676.7,636.6 678.2,635.9 679.8,635.7 681.3,636.4 682.8,634.8" fill="none" stroke="#35a035" stroke-width="1.0"/>
<line x1="631.6" y1="589.0" x2="631.6" y2="656.3" stroke="#333" stroke-width="0.9" />
<line x1="631.6" y1="656.3" x2="685.0" y2="656.3" stroke="#333" stroke-width="0.9" />
<line x1="628.6" y1="589.5" x2="631.6" y2="589.5" stroke="#333" stroke-width="0.8" />
<line x1="628.6" y1="608.4" x2="631.6" y2="608.4" stroke="#333" stroke-width="0.8" />
<line x1="628.6" y1="627.3" x2="631.6" y2="627.3" stroke="#333" stroke-width="0.8" />
<line x1="628.6" y1="646.2" x2="631.6" y2="646.2" stroke="#333" stroke-width="0.8" />
<line x1="633.3" y1="656.3" x2="633.3" y2="659.0" stroke="#333" stroke-width="0.8" />
<text x="633.3" y="671.0" font-size="9.5" text-anchor="middle" font-weight="normal" fill="#333" >−2</text>
<line x1="658.1" y1="656.3" x2="658.1" y2="659.0" stroke="#333" stroke-width="0.8" />
<text x="658.1" y="671.0" font-size="9.5" text-anchor="middle" font-weight="normal" fill="#333" >0</text>
<line x1="682.8" y1="656.3" x2="682.8" y2="659.0" stroke="#333" stroke-width="0.8" />
<text x="682.8" y="671.0" font-size="9.5" text-anchor="middle" font-weight="normal" fill="#333" >2</text>
<text x="725.4" y="580.5" font-size="9" text-anchor="middle" font-weight="normal" fill="#231f20" >Right pinky</text>
<line x1="723.4" y1="589.0" x2="723.4" y2="656.3" stroke="#333" stroke-width="0.6" stroke-dasharray="1.5,0.8"/>
<polygon points="698.7,636.7 700.2,636 701.8,634.2 703.3,633.3 704.9,632.8 706.4,631.8 708,634.2 709.5,636.4 711.1,638.7 712.6,639.3 714.2,639.6 715.7,640.1 717.3,639.4 718.8,639 720.4,639.6 721.9,638.8 723.4,639 725,639.9 726.5,641.3 728.1,640.8 729.6,640.6 731.2,639.6 732.7,640.6 734.3,643.4 735.8,644 737.4,645.4 738.9,645.3 740.5,645.6 742,644.9 743.6,644.4 745.1,643.5 746.7,642.1 748.2,640.4 748.2,655 746.7,655.9 745.1,656 743.6,655.3 742,654 740.5,652.9 738.9,651.3 737.4,650.5 735.8,649 734.3,648.9 732.7,647.2 731.2,647.7 729.6,650.5 728.1,652.6 726.5,654.6 725,654.2 723.4,653.8 721.9,653.2 720.4,653.2 718.8,651.1 717.3,649.8 715.7,648.7 714.2,646.5 712.6,645 711.1,643.7 709.5,641.4 708,639.9 706.4,638.7 704.9,641.3 703.3,643.7 701.8,646.3 700.2,649.6 698.7,651.2" fill="#d0302c" opacity="0.3"/>
<polyline points="698.7,643.9 700.2,642.8 701.8,640.2 703.3,638.5 704.9,637.1 706.4,635.2 708,637.1 709.5,638.9 711.1,641.2 712.6,642.1 714.2,643.1 715.7,644.4 717.3,644.6 718.8,645.1 720.4,646.4 721.9,646 723.4,646.4 725,647 726.5,648 728.1,646.7 729.6,645.6 731.2,643.6 732.7,643.9 734.3,646.1 735.8,646.5 737.4,647.9 738.9,648.3 740.5,649.3 742,649.5 743.6,649.9 745.1,649.7 746.7,649 748.2,647.7" fill="none" stroke="#d0302c" stroke-width="1.0"/>
<polygon points="698.7,633.5 700.2,629.9 701.8,627.3 703.3,625.3 704.9,623.6 706.4,624.1 708,624.7 709.5,623.1 711.1,623.2 712.6,621.9 714.2,620.8 715.7,618.9 717.3,617.8 718.8,613.5 720.4,611.1 721.9,608.8 723.4,608.1 725,608 726.5,606.7 728.1,606.4 729.6,608.7 731.2,612.5 732.7,615.2 734.3,616.6 735.8,618.9 737.4,620.2 738.9,624 740.5,627.4 742,631.7 743.6,632.4 745.1,632.4 746.7,631.4 748.2,632.9 748.2,642.1 746.7,639 745.1,638.5 743.6,637.6 742,636.6 740.5,632.7 738.9,630.4 737.4,628.2 735.8,628.6 734.3,628.1 732.7,628.3 731.2,626.7 729.6,623.4 728.1,621 726.5,620.4 725,620.4 723.4,618.7 721.9,617.6 720.4,618.2 718.8,619.3 717.3,622.8 715.7,623.9 714.2,626.3 712.6,628.6 711.1,631.6 709.5,633.3 708,636.7 706.4,637.5 704.9,638 703.3,640.1 701.8,641.7 700.2,643.3 698.7,645.4" fill="#2572ae" opacity="0.3"/>
<polyline points="698.7,639.5 700.2,636.6 701.8,634.5 703.3,632.7 704.9,630.8 706.4,630.8 708,630.7 709.5,628.2 711.1,627.4 712.6,625.3 714.2,623.5 715.7,621.4 717.3,620.3 718.8,616.4 720.4,614.7 721.9,613.2 723.4,613.4 725,614.2 726.5,613.6 728.1,613.7 729.6,616.1 731.2,619.6 732.7,621.7 734.3,622.4 735.8,623.7 737.4,624.2 738.9,627.2 740.5,630.1 742,634.1 743.6,635 745.1,635.5 746.7,635.2 748.2,637.5" fill="none" stroke="#2572ae" stroke-width="1.0"/>
<polygon points="698.7,635.3 700.2,636.1 701.8,636.1 703.3,634 704.9,632.2 706.4,628.9 708,628.3 709.5,628.5 711.1,625.5 712.6,623 714.2,618.6 715.7,614.2 717.3,611.9 718.8,609.6 720.4,608 721.9,607.2 723.4,605.3 725,607.2 726.5,609.2 728.1,611.2 729.6,610.3 731.2,611.9 732.7,613.1 734.3,615.8 735.8,617.2 737.4,621.7 738.9,626.2 740.5,627.7 742,628.3 743.6,629.2 745.1,630.2 746.7,631 748.2,630.8 748.2,644.3 746.7,645.4 745.1,644.9 743.6,643.5 742,641.7 740.5,639.5 738.9,636.3 737.4,629.9 735.8,623.9 734.3,621.3 732.7,618 731.2,617 729.6,616.1 728.1,618.4 726.5,618 725,617.9 723.4,617.8 721.9,621 720.4,622.6 718.8,624.3 717.3,626 715.7,627.2 714.2,630 712.6,632.7 711.1,633.3 709.5,634.8 708,633.6 706.4,633.9 704.9,637.4 703.3,640.2 701.8,643.7 700.2,645.4 698.7,646.4" fill="#f5862a" opacity="0.3"/>
<polyline points="698.7,640.8 700.2,640.7 701.8,639.9 703.3,637.1 704.9,634.8 706.4,631.4 708,631 709.5,631.7 711.1,629.4 712.6,627.9 714.2,624.3 715.7,620.7 717.3,618.9 718.8,616.9 720.4,615.3 721.9,614.1 723.4,611.6 725,612.5 726.5,613.6 728.1,614.8 729.6,613.2 731.2,614.5 732.7,615.5 734.3,618.6 735.8,620.6 737.4,625.8 738.9,631.2 740.5,633.6 742,635 743.6,636.3 745.1,637.5 746.7,638.2 748.2,637.6" fill="none" stroke="#f5862a" stroke-width="1.0"/>
<polygon points="698.7,631.6 700.2,630.2 701.8,629.1 703.3,627.1 704.9,627.9 706.4,627.3 708,625.7 709.5,623.1 711.1,619.3 712.6,618.3 714.2,619.5 715.7,618 717.3,617.5 718.8,616.6 720.4,616.2 721.9,615.5 723.4,614.6 725,611.5 726.5,607.4 728.1,605.4 729.6,606 731.2,607.9 732.7,611.1 734.3,613.9 735.8,615.6 737.4,620.8 738.9,625.8 740.5,628.8 742,631.7 743.6,632.2 745.1,632.3 746.7,634.8 748.2,635.8 748.2,642.1 746.7,640.1 745.1,637.3 743.6,637.4 742,637.9 740.5,636.5 738.9,635.2 737.4,632.1 735.8,628.4 734.3,628 732.7,625.8 731.2,622.5 729.6,619.9 728.1,618 726.5,618.3 725,620.5 723.4,622 721.9,621.5 720.4,621.4 718.8,621.5 717.3,622.9 715.7,624.5 714.2,627.6 712.6,628.2 711.1,631 709.5,636.3 708,639.9 706.4,642.1 704.9,642.4 703.3,640.7 701.8,641.3 700.2,640.6 698.7,640.2" fill="#35a035" opacity="0.3"/>
<polyline points="698.7,635.9 700.2,635.4 701.8,635.2 703.3,633.9 704.9,635.2 706.4,634.7 708,632.8 709.5,629.7 711.1,625.1 712.6,623.2 714.2,623.5 715.7,621.3 717.3,620.2 718.8,619 720.4,618.8 721.9,618.5 723.4,618.3 725,616 726.5,612.8 728.1,611.7 729.6,612.9 731.2,615.2 732.7,618.4 734.3,621 735.8,622 737.4,626.4 738.9,630.5 740.5,632.6 742,634.8 743.6,634.8 745.1,634.8 746.7,637.4 748.2,639" fill="none" stroke="#35a035" stroke-width="1.0"/>
<line x1="696.9" y1="589.0" x2="696.9" y2="656.3" stroke="#333" stroke-width="0.9" />
<line x1="696.9" y1="656.3" x2="750.3" y2="656.3" stroke="#333" stroke-width="0.9" />
<line x1="693.9" y1="589.5" x2="696.9" y2="589.5" stroke="#333" stroke-width="0.8" />
<line x1="693.9" y1="608.4" x2="696.9" y2="608.4" stroke="#333" stroke-width="0.8" />
<line x1="693.9" y1="627.3" x2="696.9" y2="627.3" stroke="#333" stroke-width="0.8" />
<line x1="693.9" y1="646.2" x2="696.9" y2="646.2" stroke="#333" stroke-width="0.8" />
<line x1="698.7" y1="656.3" x2="698.7" y2="659.0" stroke="#333" stroke-width="0.8" />
<text x="698.7" y="671.0" font-size="9.5" text-anchor="middle" font-weight="normal" fill="#333" >−2</text>
<line x1="723.4" y1="656.3" x2="723.4" y2="659.0" stroke="#333" stroke-width="0.8" />
<text x="723.4" y="671.0" font-size="9.5" text-anchor="middle" font-weight="normal" fill="#333" >0</text>
<line x1="748.2" y1="656.3" x2="748.2" y2="659.0" stroke="#333" stroke-width="0.8" />
<text x="748.2" y="671.0" font-size="9.5" text-anchor="middle" font-weight="normal" fill="#333" >2</text>
<text x="128.0" y="593.0" font-size="8.5" text-anchor="middle" font-weight="normal" fill="#333" >Go</text>
<line x1="757.3" y1="595.3" x2="783.3" y2="595.3" stroke="#2572ae" stroke-width="2.6" />
<text x="788.5" y="599.1" font-size="10.5" text-anchor="start" font-weight="normal" fill="#231f20" >In</text>
<line x1="757.3" y1="613.6" x2="783.3" y2="613.6" stroke="#f5862a" stroke-width="2.6" />
<text x="788.5" y="617.4" font-size="10.5" text-anchor="start" font-weight="normal" fill="#231f20" >Down</text>
<line x1="757.3" y1="631.5" x2="783.3" y2="631.5" stroke="#35a035" stroke-width="2.6" />
<text x="788.5" y="635.3" font-size="10.5" text-anchor="start" font-weight="normal" fill="#231f20" >Up</text>
<line x1="757.3" y1="648.8" x2="783.3" y2="648.8" stroke="#d0302c" stroke-width="2.6" />
<text x="788.5" y="652.6" font-size="10.5" text-anchor="start" font-weight="normal" fill="#231f20" >None</text>
<text x="22.5" y="707.5" font-size="15" text-anchor="start" font-weight="bold" fill="#000" stroke="#000" stroke-width="0.5">j</text>
<text x="247.2" y="709.7" font-size="10" text-anchor="middle" font-weight="normal" fill="#231f20" >Left hand</text>
<text x="614.2" y="709.7" font-size="10" text-anchor="middle" font-weight="normal" fill="#231f20" >Right hand</text>
<text x="54.0" y="752.5" font-size="10" text-anchor="middle" font-weight="normal" fill="#231f20" >T18</text>
<rect x="70.0" y="715.2" width="232.7" height="63.1" fill="#7cbf3a" />
<rect x="302.7" y="715.2" width="117.9" height="63.1" fill="#2fe3e8" />
<rect x="443.1" y="715.2" width="232.2" height="63.1" fill="#7cbf3a" />
<rect x="675.3" y="715.2" width="116.1" height="63.1" fill="#2fe3e8" />
<defs><clipPath id="sq0"><rect x="74.6" y="719.0" width="48.8" height="56.4"/></clipPath></defs>
<rect x="74.6" y="719.0" width="48.8" height="56.4" fill="#fff" />
<g clip-path="url(#sq0)">
<circle class="jd" cx="76.9" cy="721.3" r="0.45"/>
<circle class="jd" cx="83.2" cy="721.3" r="0.45"/>
<circle class="jd" cx="89.5" cy="721.3" r="0.45"/>
<circle class="jd" cx="95.7" cy="721.3" r="0.45"/>
<circle class="jd" cx="102" cy="721.3" r="0.45"/>
<circle class="jd" cx="108.3" cy="721.3" r="0.45"/>
<circle class="jd" cx="114.6" cy="721.3" r="0.45"/>
<circle class="jc" cx="120.9" cy="721.3" r="2.6" fill="#7ea8cf"/>
<circle class="jd" cx="76.9" cy="728.5" r="0.45"/>
<circle class="jc" cx="83.2" cy="728.5" r="2.6" fill="#dde7f0"/>
<circle class="jd" cx="89.5" cy="728.5" r="0.45"/>
<circle class="jd" cx="95.7" cy="728.5" r="0.45"/>
<circle class="jd" cx="102" cy="728.5" r="0.45"/>
<circle class="jd" cx="108.3" cy="728.5" r="0.45"/>
<circle class="jd" cx="114.6" cy="728.5" r="0.45"/>
<circle class="jd" cx="120.9" cy="728.5" r="0.45"/>
<circle class="jd" cx="76.9" cy="735.8" r="0.45"/>
<circle class="jc" cx="83.2" cy="735.8" r="2.6" fill="#c3d5e6"/>
<circle class="jd" cx="89.5" cy="735.8" r="0.45"/>
<circle class="jd" cx="95.7" cy="735.8" r="0.45"/>
<circle class="jd" cx="102" cy="735.8" r="0.45"/>
<circle class="jd" cx="108.3" cy="735.8" r="0.45"/>
<circle class="jd" cx="114.6" cy="735.8" r="0.45"/>
<circle class="jc" cx="120.9" cy="735.8" r="2.6" fill="#dde7f0"/>
<circle class="jd" cx="76.9" cy="743" r="0.45"/>
<circle class="jd" cx="83.2" cy="743" r="0.45"/>
<circle class="jc" cx="89.5" cy="743" r="2.6" fill="#a0bdd9"/>
<circle class="jd" cx="95.7" cy="743" r="0.45"/>
<circle class="jd" cx="102" cy="743" r="0.45"/>
<circle class="jd" cx="108.3" cy="743" r="0.45"/>
<circle class="jd" cx="114.6" cy="743" r="0.45"/>
<circle class="jd" cx="120.9" cy="743" r="0.45"/>
<circle class="jc" cx="76.9" cy="750.3" r="2.6" fill="#a0bdd9"/>
<circle class="jc" cx="83.2" cy="750.3" r="2.6" fill="#dde7f0"/>
<circle class="jc" cx="89.5" cy="750.3" r="2.6" fill="#f4f7fa"/>
<circle class="jc" cx="95.7" cy="750.3" r="2.6" fill="#dde7f0"/>
<circle class="jd" cx="102" cy="750.3" r="0.45"/>
<circle class="jc" cx="108.3" cy="750.3" r="2.6" fill="#f4f7fa"/>
<circle class="jd" cx="114.6" cy="750.3" r="0.45"/>
<circle class="jd" cx="120.9" cy="750.3" r="0.45"/>
<circle class="jd" cx="76.9" cy="757.5" r="0.45"/>
<circle class="jd" cx="83.2" cy="757.5" r="0.45"/>
<circle class="jd" cx="89.5" cy="757.5" r="0.45"/>
<circle class="jd" cx="95.7" cy="757.5" r="0.45"/>
<circle class="jc" cx="102" cy="757.5" r="2.6" fill="#f4f7fa"/>
<circle class="jd" cx="108.3" cy="757.5" r="0.45"/>
<circle class="jd" cx="114.6" cy="757.5" r="0.45"/>
<circle class="jd" cx="120.9" cy="757.5" r="0.45"/>
<circle class="jd" cx="76.9" cy="764.8" r="0.45"/>
<circle class="jd" cx="83.2" cy="764.8" r="0.45"/>
<circle class="jd" cx="89.5" cy="764.8" r="0.45"/>
<circle class="jd" cx="95.7" cy="764.8" r="0.45"/>
<circle class="jd" cx="102" cy="764.8" r="0.45"/>
<circle class="jd" cx="108.3" cy="764.8" r="0.45"/>
<circle class="jc" cx="114.6" cy="764.8" r="2.6" fill="#a0bdd9"/>
<circle class="jc" cx="120.9" cy="764.8" r="2.6" fill="#f4f7fa"/>
<circle class="jd" cx="76.9" cy="772" r="0.45"/>
<circle class="jc" cx="83.2" cy="772" r="2.6" fill="#dde7f0"/>
<circle class="jd" cx="89.5" cy="772" r="0.45"/>
<circle class="jd" cx="95.7" cy="772" r="0.45"/>
<circle class="jd" cx="102" cy="772" r="0.45"/>
<circle class="jd" cx="108.3" cy="772" r="0.45"/>
<circle class="jc" cx="114.6" cy="772" r="2.6" fill="#dde7f0"/>
<circle class="jc" cx="120.9" cy="772" r="2.6" fill="#f4f7fa"/>
</g>
<rect x="74.6" y="719.0" width="48.8" height="56.4" fill="none" stroke="#24321f" stroke-width="0.9"/>
<defs><clipPath id="sq1"><rect x="133.0" y="719.0" width="48.8" height="56.4"/></clipPath></defs>
<rect x="133.0" y="719.0" width="48.8" height="56.4" fill="#fff" />
<g clip-path="url(#sq1)">
<circle class="jc" cx="135.3" cy="721.3" r="2.6" fill="#0b376f"/>
<circle class="jc" cx="141.6" cy="721.3" r="2.6" fill="#dde7f0"/>
<circle class="jc" cx="147.9" cy="721.3" r="2.6" fill="#5c90c2"/>
<circle class="jc" cx="154.1" cy="721.3" r="2.6" fill="#f4f7fa"/>
<circle class="jc" cx="160.4" cy="721.3" r="2.6" fill="#dde7f0"/>
<circle class="jd" cx="166.7" cy="721.3" r="0.45"/>
<circle class="jd" cx="173" cy="721.3" r="0.45"/>
<circle class="jc" cx="179.3" cy="721.3" r="2.6" fill="#5c90c2"/>
<circle class="jc" cx="135.3" cy="728.5" r="2.6" fill="#c3d5e6"/>
<circle class="jc" cx="141.6" cy="728.5" r="2.6" fill="#dde7f0"/>
<circle class="jc" cx="147.9" cy="728.5" r="2.6" fill="#0b376f"/>
<circle class="jc" cx="154.1" cy="728.5" r="2.6" fill="#1f5a98"/>
<circle class="jc" cx="160.4" cy="728.5" r="2.6" fill="#f4f7fa"/>
<circle class="jd" cx="166.7" cy="728.5" r="0.45"/>
<circle class="jc" cx="173" cy="728.5" r="2.6" fill="#c3d5e6"/>
<circle class="jc" cx="179.3" cy="728.5" r="2.6" fill="#dde7f0"/>
<circle class="jd" cx="135.3" cy="735.8" r="0.45"/>
<circle class="jc" cx="141.6" cy="735.8" r="2.6" fill="#dde7f0"/>
<circle class="jd" cx="147.9" cy="735.8" r="0.45"/>
<circle class="jc" cx="154.1" cy="735.8" r="2.6" fill="#c3d5e6"/>
<circle class="jc" cx="160.4" cy="735.8" r="2.6" fill="#dde7f0"/>
<circle class="jd" cx="166.7" cy="735.8" r="0.45"/>
<circle class="jc" cx="173" cy="735.8" r="2.6" fill="#a0bdd9"/>
<circle class="jc" cx="179.3" cy="735.8" r="2.6" fill="#a0bdd9"/>
<circle class="jc" cx="135.3" cy="743" r="2.6" fill="#f4f7fa"/>
<circle class="jd" cx="141.6" cy="743" r="0.45"/>
<circle class="jc" cx="147.9" cy="743" r="2.6" fill="#c3d5e6"/>
<circle class="jc" cx="154.1" cy="743" r="2.6" fill="#7ea8cf"/>
<circle class="jc" cx="160.4" cy="743" r="2.6" fill="#dde7f0"/>
<circle class="jd" cx="166.7" cy="743" r="0.45"/>
<circle class="jc" cx="173" cy="743" r="2.6" fill="#7ea8cf"/>
<circle class="jc" cx="179.3" cy="743" r="2.6" fill="#1f5a98"/>
<circle class="jc" cx="135.3" cy="750.3" r="2.6" fill="#7ea8cf"/>
<circle class="jc" cx="141.6" cy="750.3" r="2.6" fill="#c3d5e6"/>
<circle class="jc" cx="147.9" cy="750.3" r="2.6" fill="#dde7f0"/>
<circle class="jc" cx="154.1" cy="750.3" r="2.6" fill="#f4f7fa"/>
<circle class="jd" cx="160.4" cy="750.3" r="0.45"/>
<circle class="jd" cx="166.7" cy="750.3" r="0.45"/>
<circle class="jd" cx="173" cy="750.3" r="0.45"/>
<circle class="jc" cx="179.3" cy="750.3" r="2.6" fill="#0b376f"/>
<circle class="jc" cx="135.3" cy="757.5" r="2.6" fill="#5c90c2"/>
<circle class="jc" cx="141.6" cy="757.5" r="2.6" fill="#7ea8cf"/>
<circle class="jd" cx="147.9" cy="757.5" r="0.45"/>
<circle class="jc" cx="154.1" cy="757.5" r="2.6" fill="#c3d5e6"/>
<circle class="jd" cx="160.4" cy="757.5" r="0.45"/>
<circle class="jd" cx="166.7" cy="757.5" r="0.45"/>
<circle class="jd" cx="173" cy="757.5" r="0.45"/>
<circle class="jc" cx="179.3" cy="757.5" r="2.6" fill="#a0bdd9"/>
<circle class="jc" cx="135.3" cy="764.8" r="2.6" fill="#7ea8cf"/>
<circle class="jc" cx="141.6" cy="764.8" r="2.6" fill="#7ea8cf"/>
<circle class="jc" cx="147.9" cy="764.8" r="2.6" fill="#dde7f0"/>
<circle class="jc" cx="154.1" cy="764.8" r="2.6" fill="#c3d5e6"/>
<circle class="jd" cx="160.4" cy="764.8" r="0.45"/>
<circle class="jd" cx="166.7" cy="764.8" r="0.45"/>
<circle class="jd" cx="173" cy="764.8" r="0.45"/>
<circle class="jc" cx="179.3" cy="764.8" r="2.6" fill="#dde7f0"/>
<circle class="jc" cx="135.3" cy="772" r="2.6" fill="#1f5a98"/>
<circle class="jc" cx="141.6" cy="772" r="2.6" fill="#dde7f0"/>
<circle class="jc" cx="147.9" cy="772" r="2.6" fill="#f4f7fa"/>
<circle class="jc" cx="154.1" cy="772" r="2.6" fill="#7ea8cf"/>
<circle class="jd" cx="160.4" cy="772" r="0.45"/>
<circle class="jd" cx="166.7" cy="772" r="0.45"/>
<circle class="jd" cx="173" cy="772" r="0.45"/>
<circle class="jc" cx="179.3" cy="772" r="2.6" fill="#c3d5e6"/>
</g>
<rect x="133.0" y="719.0" width="48.8" height="56.4" fill="none" stroke="#24321f" stroke-width="0.9"/>
<defs><clipPath id="sq2"><rect x="191.4" y="719.0" width="48.8" height="56.4"/></clipPath></defs>
<rect x="191.4" y="719.0" width="48.8" height="56.4" fill="#fff" />
<g clip-path="url(#sq2)">
<circle class="jd" cx="193.7" cy="721.3" r="0.45"/>
<circle class="jc" cx="200" cy="721.3" r="2.6" fill="#7ea8cf"/>
<circle class="jc" cx="206.3" cy="721.3" r="2.6" fill="#c3d5e6"/>
<circle class="jd" cx="212.5" cy="721.3" r="0.45"/>
<circle class="jd" cx="218.8" cy="721.3" r="0.45"/>
<circle class="jd" cx="225.1" cy="721.3" r="0.45"/>
<circle class="jd" cx="231.4" cy="721.3" r="0.45"/>
<circle class="jd" cx="237.7" cy="721.3" r="0.45"/>
<circle class="jc" cx="193.7" cy="728.5" r="2.6" fill="#3c77b0"/>
<circle class="jc" cx="200" cy="728.5" r="2.6" fill="#7ea8cf"/>
<circle class="jc" cx="206.3" cy="728.5" r="2.6" fill="#a0bdd9"/>
<circle class="jd" cx="212.5" cy="728.5" r="0.45"/>
<circle class="jc" cx="218.8" cy="728.5" r="2.6" fill="#f4f7fa"/>
<circle class="jd" cx="225.1" cy="728.5" r="0.45"/>
<circle class="jc" cx="231.4" cy="728.5" r="2.6" fill="#dde7f0"/>
<circle class="jc" cx="237.7" cy="728.5" r="2.6" fill="#f4f7fa"/>
<circle class="jd" cx="193.7" cy="735.8" r="0.45"/>
<circle class="jc" cx="200" cy="735.8" r="2.6" fill="#c3d5e6"/>
<circle class="jd" cx="206.3" cy="735.8" r="0.45"/>
<circle class="jc" cx="212.5" cy="735.8" r="2.6" fill="#f4f7fa"/>
<circle class="jc" cx="218.8" cy="735.8" r="2.6" fill="#f4f7fa"/>
<circle class="jc" cx="225.1" cy="735.8" r="2.6" fill="#3c77b0"/>
<circle class="jd" cx="231.4" cy="735.8" r="0.45"/>
<circle class="jc" cx="237.7" cy="735.8" r="2.6" fill="#c3d5e6"/>
<circle class="jd" cx="193.7" cy="743" r="0.45"/>
<circle class="jc" cx="200" cy="743" r="2.6" fill="#dde7f0"/>
<circle class="jc" cx="206.3" cy="743" r="2.6" fill="#dde7f0"/>
<circle class="jc" cx="212.5" cy="743" r="2.6" fill="#f4f7fa"/>
<circle class="jc" cx="218.8" cy="743" r="2.6" fill="#f4f7fa"/>
<circle class="jd" cx="225.1" cy="743" r="0.45"/>
<circle class="jd" cx="231.4" cy="743" r="0.45"/>
<circle class="jc" cx="237.7" cy="743" r="2.6" fill="#a0bdd9"/>
<circle class="jc" cx="193.7" cy="750.3" r="2.6" fill="#a0bdd9"/>
<circle class="jd" cx="200" cy="750.3" r="0.45"/>
<circle class="jd" cx="206.3" cy="750.3" r="0.45"/>
<circle class="jd" cx="212.5" cy="750.3" r="0.45"/>
<circle class="jc" cx="218.8" cy="750.3" r="2.6" fill="#f4f7fa"/>
<circle class="jd" cx="225.1" cy="750.3" r="0.45"/>
<circle class="jc" cx="231.4" cy="750.3" r="2.6" fill="#c3d5e6"/>
<circle class="jc" cx="237.7" cy="750.3" r="2.6" fill="#5c90c2"/>
<circle class="jd" cx="193.7" cy="757.5" r="0.45"/>
<circle class="jd" cx="200" cy="757.5" r="0.45"/>
<circle class="jd" cx="206.3" cy="757.5" r="0.45"/>
<circle class="jc" cx="212.5" cy="757.5" r="2.6" fill="#dde7f0"/>
<circle class="jc" cx="218.8" cy="757.5" r="2.6" fill="#f4f7fa"/>
<circle class="jc" cx="225.1" cy="757.5" r="2.6" fill="#0b376f"/>
<circle class="jd" cx="231.4" cy="757.5" r="0.45"/>
<circle class="jd" cx="237.7" cy="757.5" r="0.45"/>
<circle class="jc" cx="193.7" cy="764.8" r="2.6" fill="#7ea8cf"/>
<circle class="jc" cx="200" cy="764.8" r="2.6" fill="#7ea8cf"/>
<circle class="jc" cx="206.3" cy="764.8" r="2.6" fill="#dde7f0"/>
<circle class="jd" cx="212.5" cy="764.8" r="0.45"/>
<circle class="jc" cx="218.8" cy="764.8" r="2.6" fill="#f4f7fa"/>
<circle class="jc" cx="225.1" cy="764.8" r="2.6" fill="#f4f7fa"/>
<circle class="jc" cx="231.4" cy="764.8" r="2.6" fill="#dde7f0"/>
<circle class="jc" cx="237.7" cy="764.8" r="2.6" fill="#a0bdd9"/>
<circle class="jd" cx="193.7" cy="772" r="0.45"/>
<circle class="jc" cx="200" cy="772" r="2.6" fill="#f4f7fa"/>
<circle class="jd" cx="206.3" cy="772" r="0.45"/>
<circle class="jd" cx="212.5" cy="772" r="0.45"/>
<circle class="jd" cx="218.8" cy="772" r="0.45"/>
<circle class="jc" cx="225.1" cy="772" r="2.6" fill="#f4f7fa"/>
<circle class="jd" cx="231.4" cy="772" r="0.45"/>
<circle class="jc" cx="237.7" cy="772" r="2.6" fill="#f4f7fa"/>
</g>
<rect x="191.4" y="719.0" width="48.8" height="56.4" fill="none" stroke="#24321f" stroke-width="0.9"/>
<defs><clipPath id="sq3"><rect x="249.8" y="719.0" width="48.8" height="56.4"/></clipPath></defs>
<rect x="249.8" y="719.0" width="48.8" height="56.4" fill="#fff" />
<g clip-path="url(#sq3)">
<circle class="jc" cx="252.1" cy="721.3" r="2.6" fill="#7ea8cf"/>
<circle class="jd" cx="258.4" cy="721.3" r="0.45"/>
<circle class="jc" cx="264.7" cy="721.3" r="2.6" fill="#dde7f0"/>
<circle class="jc" cx="270.9" cy="721.3" r="2.6" fill="#c3d5e6"/>
<circle class="jd" cx="277.2" cy="721.3" r="0.45"/>
<circle class="jc" cx="283.5" cy="721.3" r="2.6" fill="#0b376f"/>
<circle class="jc" cx="289.8" cy="721.3" r="2.6" fill="#0b376f"/>
<circle class="jd" cx="296.1" cy="721.3" r="0.45"/>
<circle class="jc" cx="252.1" cy="728.5" r="2.6" fill="#1f5a98"/>
<circle class="jc" cx="258.4" cy="728.5" r="2.6" fill="#a0bdd9"/>
<circle class="jd" cx="264.7" cy="728.5" r="0.45"/>
<circle class="jc" cx="270.9" cy="728.5" r="2.6" fill="#dde7f0"/>
<circle class="jd" cx="277.2" cy="728.5" r="0.45"/>
<circle class="jc" cx="283.5" cy="728.5" r="2.6" fill="#f4f7fa"/>
<circle class="jc" cx="289.8" cy="728.5" r="2.6" fill="#c3d5e6"/>
<circle class="jd" cx="296.1" cy="728.5" r="0.45"/>
<circle class="jc" cx="252.1" cy="735.8" r="2.6" fill="#c3d5e6"/>
<circle class="jc" cx="258.4" cy="735.8" r="2.6" fill="#c3d5e6"/>
<circle class="jd" cx="264.7" cy="735.8" r="0.45"/>
<circle class="jd" cx="270.9" cy="735.8" r="0.45"/>
<circle class="jd" cx="277.2" cy="735.8" r="0.45"/>
<circle class="jd" cx="283.5" cy="735.8" r="0.45"/>
<circle class="jd" cx="289.8" cy="735.8" r="0.45"/>
<circle class="jd" cx="296.1" cy="735.8" r="0.45"/>
<circle class="jc" cx="252.1" cy="743" r="2.6" fill="#f4f7fa"/>
<circle class="jc" cx="258.4" cy="743" r="2.6" fill="#3c77b0"/>
<circle class="jc" cx="264.7" cy="743" r="2.6" fill="#dde7f0"/>
<circle class="jc" cx="270.9" cy="743" r="2.6" fill="#dde7f0"/>
<circle class="jc" cx="277.2" cy="743" r="2.6" fill="#7ea8cf"/>
<circle class="jc" cx="283.5" cy="743" r="2.6" fill="#dde7f0"/>
<circle class="jd" cx="289.8" cy="743" r="0.45"/>
<circle class="jd" cx="296.1" cy="743" r="0.45"/>
<circle class="jc" cx="252.1" cy="750.3" r="2.6" fill="#f4f7fa"/>
<circle class="jc" cx="258.4" cy="750.3" r="2.6" fill="#7ea8cf"/>
<circle class="jc" cx="264.7" cy="750.3" r="2.6" fill="#dde7f0"/>
<circle class="jc" cx="270.9" cy="750.3" r="2.6" fill="#dde7f0"/>
<circle class="jd" cx="277.2" cy="750.3" r="0.45"/>
<circle class="jd" cx="283.5" cy="750.3" r="0.45"/>
<circle class="jc" cx="289.8" cy="750.3" r="2.6" fill="#7ea8cf"/>
<circle class="jd" cx="296.1" cy="750.3" r="0.45"/>
<circle class="jd" cx="252.1" cy="757.5" r="0.45"/>
<circle class="jc" cx="258.4" cy="757.5" r="2.6" fill="#c3d5e6"/>
<circle class="jc" cx="264.7" cy="757.5" r="2.6" fill="#c3d5e6"/>
<circle class="jd" cx="270.9" cy="757.5" r="0.45"/>
<circle class="jd" cx="277.2" cy="757.5" r="0.45"/>
<circle class="jd" cx="283.5" cy="757.5" r="0.45"/>
<circle class="jd" cx="289.8" cy="757.5" r="0.45"/>
<circle class="jd" cx="296.1" cy="757.5" r="0.45"/>
<circle class="jd" cx="252.1" cy="764.8" r="0.45"/>
<circle class="jc" cx="258.4" cy="764.8" r="2.6" fill="#3c77b0"/>
<circle class="jc" cx="264.7" cy="764.8" r="2.6" fill="#0b376f"/>
<circle class="jc" cx="270.9" cy="764.8" r="2.6" fill="#7ea8cf"/>
<circle class="jd" cx="277.2" cy="764.8" r="0.45"/>
<circle class="jd" cx="283.5" cy="764.8" r="0.45"/>
<circle class="jd" cx="289.8" cy="764.8" r="0.45"/>
<circle class="jd" cx="296.1" cy="764.8" r="0.45"/>
<circle class="jc" cx="252.1" cy="772" r="2.6" fill="#7ea8cf"/>
<circle class="jc" cx="258.4" cy="772" r="2.6" fill="#5c90c2"/>
<circle class="jc" cx="264.7" cy="772" r="2.6" fill="#f4f7fa"/>
<circle class="jd" cx="270.9" cy="772" r="0.45"/>
<circle class="jc" cx="277.2" cy="772" r="2.6" fill="#7ea8cf"/>
<circle class="jc" cx="283.5" cy="772" r="2.6" fill="#5c90c2"/>
<circle class="jd" cx="289.8" cy="772" r="0.45"/>
<circle class="jc" cx="296.1" cy="772" r="2.6" fill="#7ea8cf"/>
</g>
<rect x="249.8" y="719.0" width="48.8" height="56.4" fill="none" stroke="#24321f" stroke-width="0.9"/>
<defs><clipPath id="sq4"><rect x="308.2" y="719.0" width="48.8" height="56.4"/></clipPath></defs>
<rect x="308.2" y="719.0" width="48.8" height="56.4" fill="#fff" />
<g clip-path="url(#sq4)">
<circle class="jc" cx="310.5" cy="721.3" r="2.6" fill="#dde7f0"/>
<circle class="jc" cx="316.8" cy="721.3" r="2.6" fill="#c3d5e6"/>
<circle class="jc" cx="323.1" cy="721.3" r="2.6" fill="#c3d5e6"/>
<circle class="jc" cx="329.3" cy="721.3" r="2.6" fill="#a0bdd9"/>
<circle class="jc" cx="335.6" cy="721.3" r="2.6" fill="#7ea8cf"/>
<circle class="jc" cx="341.9" cy="721.3" r="2.6" fill="#f4f7fa"/>
<circle class="jc" cx="348.2" cy="721.3" r="2.6" fill="#c3d5e6"/>
<circle class="jc" cx="354.5" cy="721.3" r="2.6" fill="#dde7f0"/>
<circle class="jc" cx="310.5" cy="728.5" r="2.6" fill="#f4f7fa"/>
<circle class="jc" cx="316.8" cy="728.5" r="2.6" fill="#c3d5e6"/>
<circle class="jc" cx="323.1" cy="728.5" r="2.6" fill="#c3d5e6"/>
<circle class="jc" cx="329.3" cy="728.5" r="2.6" fill="#f4f7fa"/>
<circle class="jc" cx="335.6" cy="728.5" r="2.6" fill="#3c77b0"/>
<circle class="jc" cx="341.9" cy="728.5" r="2.6" fill="#f4f7fa"/>
<circle class="jc" cx="348.2" cy="728.5" r="2.6" fill="#5c90c2"/>
<circle class="jc" cx="354.5" cy="728.5" r="2.6" fill="#dde7f0"/>
<circle class="jd" cx="310.5" cy="735.8" r="0.45"/>
<circle class="jc" cx="316.8" cy="735.8" r="2.6" fill="#7ea8cf"/>
<circle class="jc" cx="323.1" cy="735.8" r="2.6" fill="#5c90c2"/>
<circle class="jd" cx="329.3" cy="735.8" r="0.45"/>
<circle class="jc" cx="335.6" cy="735.8" r="2.6" fill="#5c90c2"/>
<circle class="jc" cx="341.9" cy="735.8" r="2.6" fill="#3c77b0"/>
<circle class="jc" cx="348.2" cy="735.8" r="2.6" fill="#7ea8cf"/>
<circle class="jc" cx="354.5" cy="735.8" r="2.6" fill="#c3d5e6"/>
<circle class="jd" cx="310.5" cy="743" r="0.45"/>
<circle class="jc" cx="316.8" cy="743" r="2.6" fill="#dde7f0"/>
<circle class="jd" cx="323.1" cy="743" r="0.45"/>
<circle class="jc" cx="329.3" cy="743" r="2.6" fill="#dde7f0"/>
<circle class="jc" cx="335.6" cy="743" r="2.6" fill="#dde7f0"/>
<circle class="jc" cx="341.9" cy="743" r="2.6" fill="#f4f7fa"/>
<circle class="jd" cx="348.2" cy="743" r="0.45"/>
<circle class="jc" cx="354.5" cy="743" r="2.6" fill="#f4f7fa"/>
<circle class="jc" cx="310.5" cy="750.3" r="2.6" fill="#a0bdd9"/>
<circle class="jc" cx="316.8" cy="750.3" r="2.6" fill="#c3d5e6"/>
<circle class="jc" cx="323.1" cy="750.3" r="2.6" fill="#f4f7fa"/>
<circle class="jc" cx="329.3" cy="750.3" r="2.6" fill="#dde7f0"/>
<circle class="jc" cx="335.6" cy="750.3" r="2.6" fill="#c3d5e6"/>
<circle class="jc" cx="341.9" cy="750.3" r="2.6" fill="#c3d5e6"/>
<circle class="jc" cx="348.2" cy="750.3" r="2.6" fill="#0b376f"/>
<circle class="jc" cx="354.5" cy="750.3" r="2.6" fill="#7ea8cf"/>
<circle class="jd" cx="310.5" cy="757.5" r="0.45"/>
<circle class="jc" cx="316.8" cy="757.5" r="2.6" fill="#dde7f0"/>
<circle class="jc" cx="323.1" cy="757.5" r="2.6" fill="#f4f7fa"/>
<circle class="jc" cx="329.3" cy="757.5" r="2.6" fill="#dde7f0"/>
<circle class="jc" cx="335.6" cy="757.5" r="2.6" fill="#dde7f0"/>
<circle class="jc" cx="341.9" cy="757.5" r="2.6" fill="#5c90c2"/>
<circle class="jc" cx="348.2" cy="757.5" r="2.6" fill="#dde7f0"/>
<circle class="jc" cx="354.5" cy="757.5" r="2.6" fill="#dde7f0"/>
<circle class="jc" cx="310.5" cy="764.8" r="2.6" fill="#3c77b0"/>
<circle class="jc" cx="316.8" cy="764.8" r="2.6" fill="#c3d5e6"/>
<circle class="jc" cx="323.1" cy="764.8" r="2.6" fill="#7ea8cf"/>
<circle class="jd" cx="329.3" cy="764.8" r="0.45"/>
<circle class="jc" cx="335.6" cy="764.8" r="2.6" fill="#7ea8cf"/>
<circle class="jc" cx="341.9" cy="764.8" r="2.6" fill="#c3d5e6"/>
<circle class="jd" cx="348.2" cy="764.8" r="0.45"/>
<circle class="jc" cx="354.5" cy="764.8" r="2.6" fill="#5c90c2"/>
<circle class="jc" cx="310.5" cy="772" r="2.6" fill="#dde7f0"/>
<circle class="jc" cx="316.8" cy="772" r="2.6" fill="#f4f7fa"/>
<circle class="jd" cx="323.1" cy="772" r="0.45"/>
<circle class="jc" cx="329.3" cy="772" r="2.6" fill="#c3d5e6"/>
<circle class="jc" cx="335.6" cy="772" r="2.6" fill="#a0bdd9"/>
<circle class="jc" cx="341.9" cy="772" r="2.6" fill="#f4f7fa"/>
<circle class="jc" cx="348.2" cy="772" r="2.6" fill="#c3d5e6"/>
<circle class="jc" cx="354.5" cy="772" r="2.6" fill="#c3d5e6"/>
</g>
<rect x="308.2" y="719.0" width="48.8" height="56.4" fill="none" stroke="#24321f" stroke-width="0.9"/>
<defs><clipPath id="sq5"><rect x="366.6" y="719.0" width="48.8" height="56.4"/></clipPath></defs>
<rect x="366.6" y="719.0" width="48.8" height="56.4" fill="#fff" />
<g clip-path="url(#sq5)">
<circle class="jc" cx="368.9" cy="721.3" r="2.6" fill="#f4f7fa"/>
<circle class="jc" cx="375.2" cy="721.3" r="2.6" fill="#c3d5e6"/>
<circle class="jc" cx="381.5" cy="721.3" r="2.6" fill="#dde7f0"/>
<circle class="jc" cx="387.7" cy="721.3" r="2.6" fill="#dde7f0"/>
<circle class="jd" cx="394" cy="721.3" r="0.45"/>
<circle class="jc" cx="400.3" cy="721.3" r="2.6" fill="#0b376f"/>
<circle class="jc" cx="406.6" cy="721.3" r="2.6" fill="#5c90c2"/>
<circle class="jc" cx="412.9" cy="721.3" r="2.6" fill="#dde7f0"/>
<circle class="jc" cx="368.9" cy="728.5" r="2.6" fill="#f4f7fa"/>
<circle class="jc" cx="375.2" cy="728.5" r="2.6" fill="#c3d5e6"/>
<circle class="jc" cx="381.5" cy="728.5" r="2.6" fill="#dde7f0"/>
<circle class="jc" cx="387.7" cy="728.5" r="2.6" fill="#f4f7fa"/>
<circle class="jc" cx="394" cy="728.5" r="2.6" fill="#c3d5e6"/>
<circle class="jc" cx="400.3" cy="728.5" r="2.6" fill="#3c77b0"/>
<circle class="jc" cx="406.6" cy="728.5" r="2.6" fill="#7ea8cf"/>
<circle class="jc" cx="412.9" cy="728.5" r="2.6" fill="#f4f7fa"/>
<circle class="jc" cx="368.9" cy="735.8" r="2.6" fill="#c3d5e6"/>
<circle class="jc" cx="375.2" cy="735.8" r="2.6" fill="#1f5a98"/>
<circle class="jc" cx="381.5" cy="735.8" r="2.6" fill="#f4f7fa"/>
<circle class="jd" cx="387.7" cy="735.8" r="0.45"/>
<circle class="jc" cx="394" cy="735.8" r="2.6" fill="#5c90c2"/>
<circle class="jc" cx="400.3" cy="735.8" r="2.6" fill="#0b376f"/>
<circle class="jc" cx="406.6" cy="735.8" r="2.6" fill="#dde7f0"/>
<circle class="jc" cx="412.9" cy="735.8" r="2.6" fill="#c3d5e6"/>
<circle class="jc" cx="368.9" cy="743" r="2.6" fill="#a0bdd9"/>
<circle class="jc" cx="375.2" cy="743" r="2.6" fill="#5c90c2"/>
<circle class="jc" cx="381.5" cy="743" r="2.6" fill="#f4f7fa"/>
<circle class="jc" cx="387.7" cy="743" r="2.6" fill="#dde7f0"/>
<circle class="jc" cx="394" cy="743" r="2.6" fill="#a0bdd9"/>
<circle class="jd" cx="400.3" cy="743" r="0.45"/>
<circle class="jc" cx="406.6" cy="743" r="2.6" fill="#dde7f0"/>
<circle class="jc" cx="412.9" cy="743" r="2.6" fill="#5c90c2"/>
<circle class="jc" cx="368.9" cy="750.3" r="2.6" fill="#0b376f"/>
<circle class="jc" cx="375.2" cy="750.3" r="2.6" fill="#a0bdd9"/>
<circle class="jc" cx="381.5" cy="750.3" r="2.6" fill="#f4f7fa"/>
<circle class="jc" cx="387.7" cy="750.3" r="2.6" fill="#dde7f0"/>
<circle class="jc" cx="394" cy="750.3" r="2.6" fill="#dde7f0"/>
<circle class="jc" cx="400.3" cy="750.3" r="2.6" fill="#dde7f0"/>
<circle class="jc" cx="406.6" cy="750.3" r="2.6" fill="#f4f7fa"/>
<circle class="jd" cx="412.9" cy="750.3" r="0.45"/>
<circle class="jc" cx="368.9" cy="757.5" r="2.6" fill="#f4f7fa"/>
<circle class="jc" cx="375.2" cy="757.5" r="2.6" fill="#a0bdd9"/>
<circle class="jc" cx="381.5" cy="757.5" r="2.6" fill="#f4f7fa"/>
<circle class="jc" cx="387.7" cy="757.5" r="2.6" fill="#f4f7fa"/>
<circle class="jc" cx="394" cy="757.5" r="2.6" fill="#c3d5e6"/>
<circle class="jc" cx="400.3" cy="757.5" r="2.6" fill="#dde7f0"/>
<circle class="jc" cx="406.6" cy="757.5" r="2.6" fill="#5c90c2"/>
<circle class="jc" cx="412.9" cy="757.5" r="2.6" fill="#dde7f0"/>
<circle class="jc" cx="368.9" cy="764.8" r="2.6" fill="#f4f7fa"/>
<circle class="jc" cx="375.2" cy="764.8" r="2.6" fill="#dde7f0"/>
<circle class="jc" cx="381.5" cy="764.8" r="2.6" fill="#c3d5e6"/>
<circle class="jc" cx="387.7" cy="764.8" r="2.6" fill="#a0bdd9"/>
<circle class="jc" cx="394" cy="764.8" r="2.6" fill="#0b376f"/>
<circle class="jd" cx="400.3" cy="764.8" r="0.45"/>
<circle class="jc" cx="406.6" cy="764.8" r="2.6" fill="#dde7f0"/>
<circle class="jc" cx="412.9" cy="764.8" r="2.6" fill="#f4f7fa"/>
<circle class="jd" cx="368.9" cy="772" r="0.45"/>
<circle class="jc" cx="375.2" cy="772" r="2.6" fill="#7ea8cf"/>
<circle class="jc" cx="381.5" cy="772" r="2.6" fill="#7ea8cf"/>
<circle class="jd" cx="387.7" cy="772" r="0.45"/>
<circle class="jc" cx="394" cy="772" r="2.6" fill="#5c90c2"/>
<circle class="jc" cx="400.3" cy="772" r="2.6" fill="#a0bdd9"/>
<circle class="jc" cx="406.6" cy="772" r="2.6" fill="#f4f7fa"/>
<circle class="jc" cx="412.9" cy="772" r="2.6" fill="#c3d5e6"/>
</g>
<rect x="366.6" y="719.0" width="48.8" height="56.4" fill="none" stroke="#24321f" stroke-width="0.9"/>
<defs><clipPath id="sq6"><rect x="447.6" y="719.0" width="48.8" height="56.4"/></clipPath></defs>
<rect x="447.6" y="719.0" width="48.8" height="56.4" fill="#fff" />
<g clip-path="url(#sq6)">
<circle class="jd" cx="449.9" cy="721.3" r="0.45"/>
<circle class="jd" cx="456.2" cy="721.3" r="0.45"/>
<circle class="jc" cx="462.5" cy="721.3" r="2.6" fill="#f4f7fa"/>
<circle class="jd" cx="468.7" cy="721.3" r="0.45"/>
<circle class="jd" cx="475" cy="721.3" r="0.45"/>
<circle class="jd" cx="481.3" cy="721.3" r="0.45"/>
<circle class="jd" cx="487.6" cy="721.3" r="0.45"/>
<circle class="jc" cx="493.9" cy="721.3" r="2.6" fill="#f4f7fa"/>
<circle class="jd" cx="449.9" cy="728.5" r="0.45"/>
<circle class="jc" cx="456.2" cy="728.5" r="2.6" fill="#dde7f0"/>
<circle class="jd" cx="462.5" cy="728.5" r="0.45"/>
<circle class="jd" cx="468.7" cy="728.5" r="0.45"/>
<circle class="jd" cx="475" cy="728.5" r="0.45"/>
<circle class="jd" cx="481.3" cy="728.5" r="0.45"/>
<circle class="jd" cx="487.6" cy="728.5" r="0.45"/>
<circle class="jc" cx="493.9" cy="728.5" r="2.6" fill="#f4f7fa"/>
<circle class="jd" cx="449.9" cy="735.8" r="0.45"/>
<circle class="jc" cx="456.2" cy="735.8" r="2.6" fill="#dde7f0"/>
<circle class="jc" cx="462.5" cy="735.8" r="2.6" fill="#dde7f0"/>
<circle class="jd" cx="468.7" cy="735.8" r="0.45"/>
<circle class="jd" cx="475" cy="735.8" r="0.45"/>
<circle class="jd" cx="481.3" cy="735.8" r="0.45"/>
<circle class="jd" cx="487.6" cy="735.8" r="0.45"/>
<circle class="jc" cx="493.9" cy="735.8" r="2.6" fill="#dde7f0"/>
<circle class="jd" cx="449.9" cy="743" r="0.45"/>
<circle class="jc" cx="456.2" cy="743" r="2.6" fill="#f4f7fa"/>
<circle class="jc" cx="462.5" cy="743" r="2.6" fill="#f4f7fa"/>
<circle class="jc" cx="468.7" cy="743" r="2.6" fill="#dde7f0"/>
<circle class="jd" cx="475" cy="743" r="0.45"/>
<circle class="jd" cx="481.3" cy="743" r="0.45"/>
<circle class="jd" cx="487.6" cy="743" r="0.45"/>
<circle class="jd" cx="493.9" cy="743" r="0.45"/>
<circle class="jc" cx="449.9" cy="750.3" r="2.6" fill="#a0bdd9"/>
<circle class="jd" cx="456.2" cy="750.3" r="0.45"/>
<circle class="jd" cx="462.5" cy="750.3" r="0.45"/>
<circle class="jc" cx="468.7" cy="750.3" r="2.6" fill="#c3d5e6"/>
<circle class="jd" cx="475" cy="750.3" r="0.45"/>
<circle class="jc" cx="481.3" cy="750.3" r="2.6" fill="#dde7f0"/>
<circle class="jd" cx="487.6" cy="750.3" r="0.45"/>
<circle class="jd" cx="493.9" cy="750.3" r="0.45"/>
<circle class="jd" cx="449.9" cy="757.5" r="0.45"/>
<circle class="jc" cx="456.2" cy="757.5" r="2.6" fill="#a0bdd9"/>
<circle class="jd" cx="462.5" cy="757.5" r="0.45"/>
<circle class="jd" cx="468.7" cy="757.5" r="0.45"/>
<circle class="jc" cx="475" cy="757.5" r="2.6" fill="#dde7f0"/>
<circle class="jc" cx="481.3" cy="757.5" r="2.6" fill="#f4f7fa"/>
<circle class="jd" cx="487.6" cy="757.5" r="0.45"/>
<circle class="jd" cx="493.9" cy="757.5" r="0.45"/>
<circle class="jc" cx="449.9" cy="764.8" r="2.6" fill="#f4f7fa"/>
<circle class="jd" cx="456.2" cy="764.8" r="0.45"/>
<circle class="jd" cx="462.5" cy="764.8" r="0.45"/>
<circle class="jd" cx="468.7" cy="764.8" r="0.45"/>
<circle class="jd" cx="475" cy="764.8" r="0.45"/>
<circle class="jd" cx="481.3" cy="764.8" r="0.45"/>
<circle class="jc" cx="487.6" cy="764.8" r="2.6" fill="#c3d5e6"/>
<circle class="jc" cx="493.9" cy="764.8" r="2.6" fill="#c3d5e6"/>
<circle class="jd" cx="449.9" cy="772" r="0.45"/>
<circle class="jc" cx="456.2" cy="772" r="2.6" fill="#f4f7fa"/>
<circle class="jd" cx="462.5" cy="772" r="0.45"/>
<circle class="jd" cx="468.7" cy="772" r="0.45"/>
<circle class="jd" cx="475" cy="772" r="0.45"/>
<circle class="jd" cx="481.3" cy="772" r="0.45"/>
<circle class="jc" cx="487.6" cy="772" r="2.6" fill="#a0bdd9"/>
<circle class="jc" cx="493.9" cy="772" r="2.6" fill="#c3d5e6"/>
</g>
<rect x="447.6" y="719.0" width="48.8" height="56.4" fill="none" stroke="#24321f" stroke-width="0.9"/>
<defs><clipPath id="sq7"><rect x="505.8" y="719.0" width="48.8" height="56.4"/></clipPath></defs>
<rect x="505.8" y="719.0" width="48.8" height="56.4" fill="#fff" />
<g clip-path="url(#sq7)">
<circle class="jc" cx="508.1" cy="721.3" r="2.6" fill="#0b376f"/>
<circle class="jd" cx="514.4" cy="721.3" r="0.45"/>
<circle class="jc" cx="520.7" cy="721.3" r="2.6" fill="#c3d5e6"/>
<circle class="jc" cx="526.9" cy="721.3" r="2.6" fill="#dde7f0"/>
<circle class="jd" cx="533.2" cy="721.3" r="0.45"/>
<circle class="jc" cx="539.5" cy="721.3" r="2.6" fill="#f4f7fa"/>
<circle class="jd" cx="545.8" cy="721.3" r="0.45"/>
<circle class="jc" cx="552.1" cy="721.3" r="2.6" fill="#1f5a98"/>
<circle class="jc" cx="508.1" cy="728.5" r="2.6" fill="#dde7f0"/>
<circle class="jd" cx="514.4" cy="728.5" r="0.45"/>
<circle class="jc" cx="520.7" cy="728.5" r="2.6" fill="#0b376f"/>
<circle class="jc" cx="526.9" cy="728.5" r="2.6" fill="#0b376f"/>
<circle class="jc" cx="533.2" cy="728.5" r="2.6" fill="#c3d5e6"/>
<circle class="jd" cx="539.5" cy="728.5" r="0.45"/>
<circle class="jc" cx="545.8" cy="728.5" r="2.6" fill="#dde7f0"/>
<circle class="jc" cx="552.1" cy="728.5" r="2.6" fill="#7ea8cf"/>
<circle class="jc" cx="508.1" cy="735.8" r="2.6" fill="#f4f7fa"/>
<circle class="jc" cx="514.4" cy="735.8" r="2.6" fill="#c3d5e6"/>
<circle class="jc" cx="520.7" cy="735.8" r="2.6" fill="#dde7f0"/>
<circle class="jc" cx="526.9" cy="735.8" r="2.6" fill="#dde7f0"/>
<circle class="jc" cx="533.2" cy="735.8" r="2.6" fill="#c3d5e6"/>
<circle class="jd" cx="539.5" cy="735.8" r="0.45"/>
<circle class="jc" cx="545.8" cy="735.8" r="2.6" fill="#7ea8cf"/>
<circle class="jc" cx="552.1" cy="735.8" r="2.6" fill="#5c90c2"/>
<circle class="jc" cx="508.1" cy="743" r="2.6" fill="#dde7f0"/>
<circle class="jc" cx="514.4" cy="743" r="2.6" fill="#f4f7fa"/>
<circle class="jc" cx="520.7" cy="743" r="2.6" fill="#c3d5e6"/>
<circle class="jc" cx="526.9" cy="743" r="2.6" fill="#a0bdd9"/>
<circle class="jc" cx="533.2" cy="743" r="2.6" fill="#7ea8cf"/>
<circle class="jc" cx="539.5" cy="743" r="2.6" fill="#f4f7fa"/>
<circle class="jc" cx="545.8" cy="743" r="2.6" fill="#7ea8cf"/>
<circle class="jc" cx="552.1" cy="743" r="2.6" fill="#1f5a98"/>
<circle class="jc" cx="508.1" cy="750.3" r="2.6" fill="#7ea8cf"/>
<circle class="jc" cx="514.4" cy="750.3" r="2.6" fill="#7ea8cf"/>
<circle class="jc" cx="520.7" cy="750.3" r="2.6" fill="#dde7f0"/>
<circle class="jc" cx="526.9" cy="750.3" r="2.6" fill="#a0bdd9"/>
<circle class="jc" cx="533.2" cy="750.3" r="2.6" fill="#dde7f0"/>
<circle class="jd" cx="539.5" cy="750.3" r="0.45"/>
<circle class="jc" cx="545.8" cy="750.3" r="2.6" fill="#f4f7fa"/>
<circle class="jc" cx="552.1" cy="750.3" r="2.6" fill="#1f5a98"/>
<circle class="jc" cx="508.1" cy="757.5" r="2.6" fill="#5c90c2"/>
<circle class="jc" cx="514.4" cy="757.5" r="2.6" fill="#7ea8cf"/>
<circle class="jc" cx="520.7" cy="757.5" r="2.6" fill="#f4f7fa"/>
<circle class="jc" cx="526.9" cy="757.5" r="2.6" fill="#7ea8cf"/>
<circle class="jd" cx="533.2" cy="757.5" r="0.45"/>
<circle class="jc" cx="539.5" cy="757.5" r="2.6" fill="#f4f7fa"/>
<circle class="jc" cx="545.8" cy="757.5" r="2.6" fill="#c3d5e6"/>
<circle class="jc" cx="552.1" cy="757.5" r="2.6" fill="#1f5a98"/>
<circle class="jc" cx="508.1" cy="764.8" r="2.6" fill="#f4f7fa"/>
<circle class="jc" cx="514.4" cy="764.8" r="2.6" fill="#a0bdd9"/>
<circle class="jc" cx="520.7" cy="764.8" r="2.6" fill="#f4f7fa"/>
<circle class="jc" cx="526.9" cy="764.8" r="2.6" fill="#f4f7fa"/>
<circle class="jd" cx="533.2" cy="764.8" r="0.45"/>
<circle class="jc" cx="539.5" cy="764.8" r="2.6" fill="#f4f7fa"/>
<circle class="jc" cx="545.8" cy="764.8" r="2.6" fill="#c3d5e6"/>
<circle class="jc" cx="552.1" cy="764.8" r="2.6" fill="#f4f7fa"/>
<circle class="jc" cx="508.1" cy="772" r="2.6" fill="#3c77b0"/>
<circle class="jc" cx="514.4" cy="772" r="2.6" fill="#dde7f0"/>
<circle class="jc" cx="520.7" cy="772" r="2.6" fill="#5c90c2"/>
<circle class="jc" cx="526.9" cy="772" r="2.6" fill="#5c90c2"/>
<circle class="jc" cx="533.2" cy="772" r="2.6" fill="#dde7f0"/>
<circle class="jd" cx="539.5" cy="772" r="0.45"/>
<circle class="jd" cx="545.8" cy="772" r="0.45"/>
<circle class="jc" cx="552.1" cy="772" r="2.6" fill="#a0bdd9"/>
</g>
<rect x="505.8" y="719.0" width="48.8" height="56.4" fill="none" stroke="#24321f" stroke-width="0.9"/>
<defs><clipPath id="sq8"><rect x="564.0" y="719.0" width="48.8" height="56.4"/></clipPath></defs>
<rect x="564.0" y="719.0" width="48.8" height="56.4" fill="#fff" />
<g clip-path="url(#sq8)">
<circle class="jd" cx="566.3" cy="721.3" r="0.45"/>
<circle class="jc" cx="572.6" cy="721.3" r="2.6" fill="#dde7f0"/>
<circle class="jc" cx="578.9" cy="721.3" r="2.6" fill="#dde7f0"/>
<circle class="jd" cx="585.1" cy="721.3" r="0.45"/>
<circle class="jd" cx="591.4" cy="721.3" r="0.45"/>
<circle class="jc" cx="597.7" cy="721.3" r="2.6" fill="#f4f7fa"/>
<circle class="jd" cx="604" cy="721.3" r="0.45"/>
<circle class="jd" cx="610.3" cy="721.3" r="0.45"/>
<circle class="jc" cx="566.3" cy="728.5" r="2.6" fill="#5c90c2"/>
<circle class="jc" cx="572.6" cy="728.5" r="2.6" fill="#0b376f"/>
<circle class="jc" cx="578.9" cy="728.5" r="2.6" fill="#dde7f0"/>
<circle class="jd" cx="585.1" cy="728.5" r="0.45"/>
<circle class="jc" cx="591.4" cy="728.5" r="2.6" fill="#f4f7fa"/>
<circle class="jc" cx="597.7" cy="728.5" r="2.6" fill="#dde7f0"/>
<circle class="jc" cx="604" cy="728.5" r="2.6" fill="#dde7f0"/>
<circle class="jc" cx="610.3" cy="728.5" r="2.6" fill="#c3d5e6"/>
<circle class="jc" cx="566.3" cy="735.8" r="2.6" fill="#f4f7fa"/>
<circle class="jc" cx="572.6" cy="735.8" r="2.6" fill="#dde7f0"/>
<circle class="jd" cx="578.9" cy="735.8" r="0.45"/>
<circle class="jc" cx="585.1" cy="735.8" r="2.6" fill="#dde7f0"/>
<circle class="jc" cx="591.4" cy="735.8" r="2.6" fill="#f4f7fa"/>
<circle class="jc" cx="597.7" cy="735.8" r="2.6" fill="#7ea8cf"/>
<circle class="jc" cx="604" cy="735.8" r="2.6" fill="#dde7f0"/>
<circle class="jc" cx="610.3" cy="735.8" r="2.6" fill="#a0bdd9"/>
<circle class="jd" cx="566.3" cy="743" r="0.45"/>
<circle class="jc" cx="572.6" cy="743" r="2.6" fill="#c3d5e6"/>
<circle class="jc" cx="578.9" cy="743" r="2.6" fill="#a0bdd9"/>
<circle class="jd" cx="585.1" cy="743" r="0.45"/>
<circle class="jc" cx="591.4" cy="743" r="2.6" fill="#7ea8cf"/>
<circle class="jc" cx="597.7" cy="743" r="2.6" fill="#f4f7fa"/>
<circle class="jc" cx="604" cy="743" r="2.6" fill="#dde7f0"/>
<circle class="jc" cx="610.3" cy="743" r="2.6" fill="#a0bdd9"/>
<circle class="jc" cx="566.3" cy="750.3" r="2.6" fill="#a0bdd9"/>
<circle class="jd" cx="572.6" cy="750.3" r="0.45"/>
<circle class="jd" cx="578.9" cy="750.3" r="0.45"/>
<circle class="jd" cx="585.1" cy="750.3" r="0.45"/>
<circle class="jc" cx="591.4" cy="750.3" r="2.6" fill="#a0bdd9"/>
<circle class="jd" cx="597.7" cy="750.3" r="0.45"/>
<circle class="jc" cx="604" cy="750.3" r="2.6" fill="#dde7f0"/>
<circle class="jc" cx="610.3" cy="750.3" r="2.6" fill="#dde7f0"/>
<circle class="jd" cx="566.3" cy="757.5" r="0.45"/>
<circle class="jd" cx="572.6" cy="757.5" r="0.45"/>
<circle class="jd" cx="578.9" cy="757.5" r="0.45"/>
<circle class="jc" cx="585.1" cy="757.5" r="2.6" fill="#f4f7fa"/>
<circle class="jc" cx="591.4" cy="757.5" r="2.6" fill="#a0bdd9"/>
<circle class="jc" cx="597.7" cy="757.5" r="2.6" fill="#0b376f"/>
<circle class="jc" cx="604" cy="757.5" r="2.6" fill="#dde7f0"/>
<circle class="jc" cx="610.3" cy="757.5" r="2.6" fill="#f4f7fa"/>
<circle class="jc" cx="566.3" cy="764.8" r="2.6" fill="#a0bdd9"/>
<circle class="jc" cx="572.6" cy="764.8" r="2.6" fill="#c3d5e6"/>
<circle class="jc" cx="578.9" cy="764.8" r="2.6" fill="#a0bdd9"/>
<circle class="jd" cx="585.1" cy="764.8" r="0.45"/>
<circle class="jc" cx="591.4" cy="764.8" r="2.6" fill="#a0bdd9"/>
<circle class="jc" cx="597.7" cy="764.8" r="2.6" fill="#dde7f0"/>
<circle class="jc" cx="604" cy="764.8" r="2.6" fill="#dde7f0"/>
<circle class="jc" cx="610.3" cy="764.8" r="2.6" fill="#f4f7fa"/>
<circle class="jd" cx="566.3" cy="772" r="0.45"/>
<circle class="jd" cx="572.6" cy="772" r="0.45"/>
<circle class="jd" cx="578.9" cy="772" r="0.45"/>
<circle class="jd" cx="585.1" cy="772" r="0.45"/>
<circle class="jc" cx="591.4" cy="772" r="2.6" fill="#c3d5e6"/>
<circle class="jc" cx="597.7" cy="772" r="2.6" fill="#7ea8cf"/>
<circle class="jc" cx="604" cy="772" r="2.6" fill="#dde7f0"/>
<circle class="jc" cx="610.3" cy="772" r="2.6" fill="#f4f7fa"/>
</g>
<rect x="564.0" y="719.0" width="48.8" height="56.4" fill="none" stroke="#24321f" stroke-width="0.9"/>
<defs><clipPath id="sq9"><rect x="622.2" y="719.0" width="48.8" height="56.4"/></clipPath></defs>
<rect x="622.2" y="719.0" width="48.8" height="56.4" fill="#fff" />
<g clip-path="url(#sq9)">
<circle class="jc" cx="624.5" cy="721.3" r="2.6" fill="#3c77b0"/>
<circle class="jc" cx="630.8" cy="721.3" r="2.6" fill="#f4f7fa"/>
<circle class="jc" cx="637.1" cy="721.3" r="2.6" fill="#c3d5e6"/>
<circle class="jc" cx="643.3" cy="721.3" r="2.6" fill="#0b376f"/>
<circle class="jd" cx="649.6" cy="721.3" r="0.45"/>
<circle class="jc" cx="655.9" cy="721.3" r="2.6" fill="#0b376f"/>
<circle class="jc" cx="662.2" cy="721.3" r="2.6" fill="#0b376f"/>
<circle class="jd" cx="668.5" cy="721.3" r="0.45"/>
<circle class="jc" cx="624.5" cy="728.5" r="2.6" fill="#5c90c2"/>
<circle class="jc" cx="630.8" cy="728.5" r="2.6" fill="#0b376f"/>
<circle class="jc" cx="637.1" cy="728.5" r="2.6" fill="#f4f7fa"/>
<circle class="jc" cx="643.3" cy="728.5" r="2.6" fill="#5c90c2"/>
<circle class="jd" cx="649.6" cy="728.5" r="0.45"/>
<circle class="jc" cx="655.9" cy="728.5" r="2.6" fill="#5c90c2"/>
<circle class="jc" cx="662.2" cy="728.5" r="2.6" fill="#a0bdd9"/>
<circle class="jd" cx="668.5" cy="728.5" r="0.45"/>
<circle class="jc" cx="624.5" cy="735.8" r="2.6" fill="#7ea8cf"/>
<circle class="jc" cx="630.8" cy="735.8" r="2.6" fill="#a0bdd9"/>
<circle class="jc" cx="637.1" cy="735.8" r="2.6" fill="#dde7f0"/>
<circle class="jc" cx="643.3" cy="735.8" r="2.6" fill="#c3d5e6"/>
<circle class="jd" cx="649.6" cy="735.8" r="0.45"/>
<circle class="jd" cx="655.9" cy="735.8" r="0.45"/>
<circle class="jd" cx="662.2" cy="735.8" r="0.45"/>
<circle class="jd" cx="668.5" cy="735.8" r="0.45"/>
<circle class="jc" cx="624.5" cy="743" r="2.6" fill="#c3d5e6"/>
<circle class="jc" cx="630.8" cy="743" r="2.6" fill="#3c77b0"/>
<circle class="jc" cx="637.1" cy="743" r="2.6" fill="#7ea8cf"/>
<circle class="jc" cx="643.3" cy="743" r="2.6" fill="#dde7f0"/>
<circle class="jc" cx="649.6" cy="743" r="2.6" fill="#7ea8cf"/>
<circle class="jc" cx="655.9" cy="743" r="2.6" fill="#a0bdd9"/>
<circle class="jc" cx="662.2" cy="743" r="2.6" fill="#a0bdd9"/>
<circle class="jc" cx="668.5" cy="743" r="2.6" fill="#c3d5e6"/>
<circle class="jd" cx="624.5" cy="750.3" r="0.45"/>
<circle class="jc" cx="630.8" cy="750.3" r="2.6" fill="#0b376f"/>
<circle class="jc" cx="637.1" cy="750.3" r="2.6" fill="#c3d5e6"/>
<circle class="jc" cx="643.3" cy="750.3" r="2.6" fill="#c3d5e6"/>
<circle class="jd" cx="649.6" cy="750.3" r="0.45"/>
<circle class="jc" cx="655.9" cy="750.3" r="2.6" fill="#dde7f0"/>
<circle class="jc" cx="662.2" cy="750.3" r="2.6" fill="#5c90c2"/>
<circle class="jd" cx="668.5" cy="750.3" r="0.45"/>
<circle class="jc" cx="624.5" cy="757.5" r="2.6" fill="#0b376f"/>
<circle class="jc" cx="630.8" cy="757.5" r="2.6" fill="#7ea8cf"/>
<circle class="jc" cx="637.1" cy="757.5" r="2.6" fill="#7ea8cf"/>
<circle class="jd" cx="643.3" cy="757.5" r="0.45"/>
<circle class="jd" cx="649.6" cy="757.5" r="0.45"/>
<circle class="jd" cx="655.9" cy="757.5" r="0.45"/>
<circle class="jd" cx="662.2" cy="757.5" r="0.45"/>
<circle class="jd" cx="668.5" cy="757.5" r="0.45"/>
<circle class="jc" cx="624.5" cy="764.8" r="2.6" fill="#dde7f0"/>
<circle class="jc" cx="630.8" cy="764.8" r="2.6" fill="#5c90c2"/>
<circle class="jc" cx="637.1" cy="764.8" r="2.6" fill="#7ea8cf"/>
<circle class="jc" cx="643.3" cy="764.8" r="2.6" fill="#c3d5e6"/>
<circle class="jd" cx="649.6" cy="764.8" r="0.45"/>
<circle class="jd" cx="655.9" cy="764.8" r="0.45"/>
<circle class="jc" cx="662.2" cy="764.8" r="2.6" fill="#dde7f0"/>
<circle class="jd" cx="668.5" cy="764.8" r="0.45"/>
<circle class="jc" cx="624.5" cy="772" r="2.6" fill="#c3d5e6"/>
<circle class="jc" cx="630.8" cy="772" r="2.6" fill="#3c77b0"/>
<circle class="jc" cx="637.1" cy="772" r="2.6" fill="#dde7f0"/>
<circle class="jc" cx="643.3" cy="772" r="2.6" fill="#a0bdd9"/>
<circle class="jc" cx="649.6" cy="772" r="2.6" fill="#5c90c2"/>
<circle class="jc" cx="655.9" cy="772" r="2.6" fill="#7ea8cf"/>
<circle class="jd" cx="662.2" cy="772" r="0.45"/>
<circle class="jc" cx="668.5" cy="772" r="2.6" fill="#5c90c2"/>
</g>
<rect x="622.2" y="719.0" width="48.8" height="56.4" fill="none" stroke="#24321f" stroke-width="0.9"/>
<defs><clipPath id="sq10"><rect x="680.4" y="719.0" width="48.8" height="56.4"/></clipPath></defs>
<rect x="680.4" y="719.0" width="48.8" height="56.4" fill="#fff" />
<g clip-path="url(#sq10)">
<circle class="jc" cx="682.7" cy="721.3" r="2.6" fill="#a0bdd9"/>
<circle class="jd" cx="689" cy="721.3" r="0.45"/>
<circle class="jc" cx="695.3" cy="721.3" r="2.6" fill="#dde7f0"/>
<circle class="jc" cx="701.5" cy="721.3" r="2.6" fill="#f4f7fa"/>
<circle class="jc" cx="707.8" cy="721.3" r="2.6" fill="#3c77b0"/>
<circle class="jc" cx="714.1" cy="721.3" r="2.6" fill="#f4f7fa"/>
<circle class="jc" cx="720.4" cy="721.3" r="2.6" fill="#dde7f0"/>
<circle class="jc" cx="726.7" cy="721.3" r="2.6" fill="#c3d5e6"/>
<circle class="jc" cx="682.7" cy="728.5" r="2.6" fill="#a0bdd9"/>
<circle class="jd" cx="689" cy="728.5" r="0.45"/>
<circle class="jc" cx="695.3" cy="728.5" r="2.6" fill="#f4f7fa"/>
<circle class="jd" cx="701.5" cy="728.5" r="0.45"/>
<circle class="jc" cx="707.8" cy="728.5" r="2.6" fill="#a0bdd9"/>
<circle class="jc" cx="714.1" cy="728.5" r="2.6" fill="#a0bdd9"/>
<circle class="jc" cx="720.4" cy="728.5" r="2.6" fill="#0b376f"/>
<circle class="jc" cx="726.7" cy="728.5" r="2.6" fill="#f4f7fa"/>
<circle class="jc" cx="682.7" cy="735.8" r="2.6" fill="#dde7f0"/>
<circle class="jc" cx="689" cy="735.8" r="2.6" fill="#dde7f0"/>
<circle class="jc" cx="695.3" cy="735.8" r="2.6" fill="#f4f7fa"/>
<circle class="jd" cx="701.5" cy="735.8" r="0.45"/>
<circle class="jc" cx="707.8" cy="735.8" r="2.6" fill="#a0bdd9"/>
<circle class="jc" cx="714.1" cy="735.8" r="2.6" fill="#7ea8cf"/>
<circle class="jc" cx="720.4" cy="735.8" r="2.6" fill="#3c77b0"/>
<circle class="jd" cx="726.7" cy="735.8" r="0.45"/>
<circle class="jd" cx="682.7" cy="743" r="0.45"/>
<circle class="jc" cx="689" cy="743" r="2.6" fill="#7ea8cf"/>
<circle class="jd" cx="695.3" cy="743" r="0.45"/>
<circle class="jd" cx="701.5" cy="743" r="0.45"/>
<circle class="jd" cx="707.8" cy="743" r="0.45"/>
<circle class="jd" cx="714.1" cy="743" r="0.45"/>
<circle class="jc" cx="720.4" cy="743" r="2.6" fill="#c3d5e6"/>
<circle class="jd" cx="726.7" cy="743" r="0.45"/>
<circle class="jc" cx="682.7" cy="750.3" r="2.6" fill="#7ea8cf"/>
<circle class="jc" cx="689" cy="750.3" r="2.6" fill="#f4f7fa"/>
<circle class="jd" cx="695.3" cy="750.3" r="0.45"/>
<circle class="jd" cx="701.5" cy="750.3" r="0.45"/>
<circle class="jd" cx="707.8" cy="750.3" r="0.45"/>
<circle class="jc" cx="714.1" cy="750.3" r="2.6" fill="#dde7f0"/>
<circle class="jc" cx="720.4" cy="750.3" r="2.6" fill="#7ea8cf"/>
<circle class="jc" cx="726.7" cy="750.3" r="2.6" fill="#a0bdd9"/>
<circle class="jd" cx="682.7" cy="757.5" r="0.45"/>
<circle class="jd" cx="689" cy="757.5" r="0.45"/>
<circle class="jc" cx="695.3" cy="757.5" r="2.6" fill="#dde7f0"/>
<circle class="jd" cx="701.5" cy="757.5" r="0.45"/>
<circle class="jd" cx="707.8" cy="757.5" r="0.45"/>
<circle class="jc" cx="714.1" cy="757.5" r="2.6" fill="#f4f7fa"/>
<circle class="jc" cx="720.4" cy="757.5" r="2.6" fill="#f4f7fa"/>
<circle class="jc" cx="726.7" cy="757.5" r="2.6" fill="#dde7f0"/>
<circle class="jd" cx="682.7" cy="764.8" r="0.45"/>
<circle class="jd" cx="689" cy="764.8" r="0.45"/>
<circle class="jc" cx="695.3" cy="764.8" r="2.6" fill="#dde7f0"/>
<circle class="jd" cx="701.5" cy="764.8" r="0.45"/>
<circle class="jc" cx="707.8" cy="764.8" r="2.6" fill="#c3d5e6"/>
<circle class="jc" cx="714.1" cy="764.8" r="2.6" fill="#dde7f0"/>
<circle class="jc" cx="720.4" cy="764.8" r="2.6" fill="#f4f7fa"/>
<circle class="jc" cx="726.7" cy="764.8" r="2.6" fill="#a0bdd9"/>
<circle class="jd" cx="682.7" cy="772" r="0.45"/>
<circle class="jd" cx="689" cy="772" r="0.45"/>
<circle class="jd" cx="695.3" cy="772" r="0.45"/>
<circle class="jd" cx="701.5" cy="772" r="0.45"/>
<circle class="jc" cx="707.8" cy="772" r="2.6" fill="#f4f7fa"/>
<circle class="jc" cx="714.1" cy="772" r="2.6" fill="#a0bdd9"/>
<circle class="jc" cx="720.4" cy="772" r="2.6" fill="#dde7f0"/>
<circle class="jc" cx="726.7" cy="772" r="2.6" fill="#dde7f0"/>
</g>
<rect x="680.4" y="719.0" width="48.8" height="56.4" fill="none" stroke="#24321f" stroke-width="0.9"/>
<defs><clipPath id="sq11"><rect x="738.6" y="719.0" width="48.8" height="56.4"/></clipPath></defs>
<rect x="738.6" y="719.0" width="48.8" height="56.4" fill="#fff" />
<g clip-path="url(#sq11)">
<circle class="jd" cx="740.9" cy="721.3" r="0.45"/>
<circle class="jc" cx="747.2" cy="721.3" r="2.6" fill="#a0bdd9"/>
<circle class="jc" cx="753.5" cy="721.3" r="2.6" fill="#f4f7fa"/>
<circle class="jc" cx="759.7" cy="721.3" r="2.6" fill="#c3d5e6"/>
<circle class="jd" cx="766" cy="721.3" r="0.45"/>
<circle class="jd" cx="772.3" cy="721.3" r="0.45"/>
<circle class="jd" cx="778.6" cy="721.3" r="0.45"/>
<circle class="jc" cx="784.9" cy="721.3" r="2.6" fill="#f4f7fa"/>
<circle class="jc" cx="740.9" cy="728.5" r="2.6" fill="#c3d5e6"/>
<circle class="jc" cx="747.2" cy="728.5" r="2.6" fill="#dde7f0"/>
<circle class="jc" cx="753.5" cy="728.5" r="2.6" fill="#3c77b0"/>
<circle class="jc" cx="759.7" cy="728.5" r="2.6" fill="#dde7f0"/>
<circle class="jc" cx="766" cy="728.5" r="2.6" fill="#dde7f0"/>
<circle class="jd" cx="772.3" cy="728.5" r="0.45"/>
<circle class="jd" cx="778.6" cy="728.5" r="0.45"/>
<circle class="jd" cx="784.9" cy="728.5" r="0.45"/>
<circle class="jc" cx="740.9" cy="735.8" r="2.6" fill="#7ea8cf"/>
<circle class="jc" cx="747.2" cy="735.8" r="2.6" fill="#7ea8cf"/>
<circle class="jd" cx="753.5" cy="735.8" r="0.45"/>
<circle class="jc" cx="759.7" cy="735.8" r="2.6" fill="#f4f7fa"/>
<circle class="jc" cx="766" cy="735.8" r="2.6" fill="#dde7f0"/>
<circle class="jd" cx="772.3" cy="735.8" r="0.45"/>
<circle class="jc" cx="778.6" cy="735.8" r="2.6" fill="#f4f7fa"/>
<circle class="jc" cx="784.9" cy="735.8" r="2.6" fill="#a0bdd9"/>
<circle class="jc" cx="740.9" cy="743" r="2.6" fill="#5c90c2"/>
<circle class="jc" cx="747.2" cy="743" r="2.6" fill="#a0bdd9"/>
<circle class="jc" cx="753.5" cy="743" r="2.6" fill="#a0bdd9"/>
<circle class="jc" cx="759.7" cy="743" r="2.6" fill="#c3d5e6"/>
<circle class="jc" cx="766" cy="743" r="2.6" fill="#1f5a98"/>
<circle class="jd" cx="772.3" cy="743" r="0.45"/>
<circle class="jc" cx="778.6" cy="743" r="2.6" fill="#f4f7fa"/>
<circle class="jc" cx="784.9" cy="743" r="2.6" fill="#f4f7fa"/>
<circle class="jc" cx="740.9" cy="750.3" r="2.6" fill="#7ea8cf"/>
<circle class="jc" cx="747.2" cy="750.3" r="2.6" fill="#dde7f0"/>
<circle class="jc" cx="753.5" cy="750.3" r="2.6" fill="#dde7f0"/>
<circle class="jd" cx="759.7" cy="750.3" r="0.45"/>
<circle class="jd" cx="766" cy="750.3" r="0.45"/>
<circle class="jc" cx="772.3" cy="750.3" r="2.6" fill="#f4f7fa"/>
<circle class="jc" cx="778.6" cy="750.3" r="2.6" fill="#f4f7fa"/>
<circle class="jd" cx="784.9" cy="750.3" r="0.45"/>
<circle class="jc" cx="740.9" cy="757.5" r="2.6" fill="#c3d5e6"/>
<circle class="jd" cx="747.2" cy="757.5" r="0.45"/>
<circle class="jd" cx="753.5" cy="757.5" r="0.45"/>
<circle class="jc" cx="759.7" cy="757.5" r="2.6" fill="#a0bdd9"/>
<circle class="jc" cx="766" cy="757.5" r="2.6" fill="#f4f7fa"/>
<circle class="jc" cx="772.3" cy="757.5" r="2.6" fill="#1f5a98"/>
<circle class="jc" cx="778.6" cy="757.5" r="2.6" fill="#a0bdd9"/>
<circle class="jc" cx="784.9" cy="757.5" r="2.6" fill="#a0bdd9"/>
<circle class="jc" cx="740.9" cy="764.8" r="2.6" fill="#dde7f0"/>
<circle class="jc" cx="747.2" cy="764.8" r="2.6" fill="#f4f7fa"/>
<circle class="jc" cx="753.5" cy="764.8" r="2.6" fill="#3c77b0"/>
<circle class="jc" cx="759.7" cy="764.8" r="2.6" fill="#f4f7fa"/>
<circle class="jc" cx="766" cy="764.8" r="2.6" fill="#f4f7fa"/>
<circle class="jd" cx="772.3" cy="764.8" r="0.45"/>
<circle class="jc" cx="778.6" cy="764.8" r="2.6" fill="#a0bdd9"/>
<circle class="jc" cx="784.9" cy="764.8" r="2.6" fill="#f4f7fa"/>
<circle class="jd" cx="740.9" cy="772" r="0.45"/>
<circle class="jc" cx="747.2" cy="772" r="2.6" fill="#c3d5e6"/>
<circle class="jc" cx="753.5" cy="772" r="2.6" fill="#dde7f0"/>
<circle class="jd" cx="759.7" cy="772" r="0.45"/>
<circle class="jc" cx="766" cy="772" r="2.6" fill="#f4f7fa"/>
<circle class="jc" cx="772.3" cy="772" r="2.6" fill="#f4f7fa"/>
<circle class="jc" cx="778.6" cy="772" r="2.6" fill="#7ea8cf"/>
<circle class="jc" cx="784.9" cy="772" r="2.6" fill="#1f5a98"/>
</g>
<rect x="738.6" y="719.0" width="48.8" height="56.4" fill="none" stroke="#24321f" stroke-width="0.9"/>
<line x1="186.8" y1="795.8" x2="186.8" y2="829.9" stroke="#7cbf3a" stroke-width="1" />
<line x1="169.8" y1="812.8" x2="203.9" y2="812.8" stroke="#7cbf3a" stroke-width="1" />
<polygon points="186.8,795 184.60000000000002,799.5 189.0,799.5" fill="#7cbf3a"/>
<polygon points="186.8,830.5 184.60000000000002,826 189.0,826" fill="#7cbf3a"/>
<polygon points="169.8,812.8 174.3,810.6 174.3,815" fill="#7cbf3a"/>
<polygon points="203.9,812.8 199.4,810.6 199.4,815" fill="#7cbf3a"/>
<line x1="360.6" y1="795.8" x2="360.6" y2="829.9" stroke="#2ad0e0" stroke-width="1" />
<line x1="343.9" y1="812.8" x2="378.7" y2="812.8" stroke="#2ad0e0" stroke-width="1" />
<polygon points="360.6,795 358.40000000000003,799.5 362.8,799.5" fill="#2ad0e0"/>
<polygon points="360.6,830.5 358.40000000000003,826 362.8,826" fill="#2ad0e0"/>
<polygon points="343.9,812.8 348.4,810.6 348.4,815" fill="#2ad0e0"/>
<polygon points="378.7,812.8 374.2,810.6 374.2,815" fill="#2ad0e0"/>
<text x="171.1" y="792.4" font-size="10.5" text-anchor="start" font-weight="normal" fill="#231f20" textLength="38.5" lengthAdjust="spacingAndGlyphs" >Anterior</text>
<text x="166.3" y="840.6" font-size="10.5" text-anchor="start" font-weight="normal" fill="#231f20" textLength="42.9" lengthAdjust="spacingAndGlyphs" >Posterior</text>
<text x="134.4" y="816.5" font-size="10.5" text-anchor="start" font-weight="normal" fill="#231f20" textLength="33.5" lengthAdjust="spacingAndGlyphs" >Ventral</text>
<text x="208.3" y="816.5" font-size="10.5" text-anchor="start" font-weight="normal" fill="#231f20" textLength="30.7" lengthAdjust="spacingAndGlyphs" >Dorsal</text>
<text x="344.9" y="792.4" font-size="10.5" text-anchor="start" font-weight="normal" fill="#231f20" textLength="38.5" lengthAdjust="spacingAndGlyphs" >Anterior</text>
<text x="340.1" y="840.6" font-size="10.5" text-anchor="start" font-weight="normal" fill="#231f20" textLength="42.9" lengthAdjust="spacingAndGlyphs" >Posterior</text>
<text x="309.8" y="816.5" font-size="10.5" text-anchor="start" font-weight="normal" fill="#231f20" textLength="30.7" lengthAdjust="spacingAndGlyphs" >Dorsal</text>
<text x="383.6" y="816.5" font-size="10.5" text-anchor="start" font-weight="normal" fill="#231f20" textLength="33.5" lengthAdjust="spacingAndGlyphs" >Ventral</text>
<rect x="444.0" y="789.0" width="17.8" height="17.8" fill="#7cbf3a" />
<rect x="444.0" y="813.2" width="17.8" height="17.8" fill="#2fe3e8" />
<text x="468.2" y="801.3" font-size="10" text-anchor="start" font-weight="normal" fill="#231f20" textLength="95.4" lengthAdjust="spacingAndGlyphs" >Left hemisphere 6d</text>
<text x="468.2" y="825.8" font-size="10" text-anchor="start" font-weight="normal" fill="#231f20" textLength="101.8" lengthAdjust="spacingAndGlyphs" >Right hemisphere 6d</text>
<defs><linearGradient id="cb" x1="0" x2="1" y1="0" y2="0"><stop offset="0.0" stop-color="#f7fbff"/><stop offset="0.125" stop-color="#deebf7"/><stop offset="0.25" stop-color="#c6dbef"/><stop offset="0.375" stop-color="#9ecae1"/><stop offset="0.5" stop-color="#6baed6"/><stop offset="0.625" stop-color="#4292c6"/><stop offset="0.75" stop-color="#2171b5"/><stop offset="0.875" stop-color="#08519c"/><stop offset="1.0" stop-color="#08306b"/></linearGradient></defs>
<rect x="598.4" y="795" width="176.6" height="11" fill="url(#cb)" stroke="#333" stroke-width="0.8"/>
<line x1="598.4" y1="806.0" x2="598.4" y2="803.5" stroke="#333" stroke-width="0.8" />
<line x1="623.6" y1="806.0" x2="623.6" y2="803.5" stroke="#333" stroke-width="0.8" />
<line x1="648.9" y1="806.0" x2="648.9" y2="803.5" stroke="#333" stroke-width="0.8" />
<line x1="674.1" y1="806.0" x2="674.1" y2="803.5" stroke="#333" stroke-width="0.8" />
<line x1="699.3" y1="806.0" x2="699.3" y2="803.5" stroke="#333" stroke-width="0.8" />
<line x1="724.5" y1="806.0" x2="724.5" y2="803.5" stroke="#333" stroke-width="0.8" />
<line x1="749.8" y1="806.0" x2="749.8" y2="803.5" stroke="#333" stroke-width="0.8" />
<line x1="775.0" y1="806.0" x2="775.0" y2="803.5" stroke="#333" stroke-width="0.8" />
<text x="599.2" y="820.8" font-size="9.8" text-anchor="middle" font-weight="normal" fill="#231f20" >0</text>
<text x="773.0" y="820.8" font-size="9.8" text-anchor="middle" font-weight="normal" fill="#231f20" >0.7</text>
<text x="688.7" y="831.0" font-size="10" text-anchor="middle" font-weight="normal" fill="#231f20" >FVAF</text>
</svg></body></html>
